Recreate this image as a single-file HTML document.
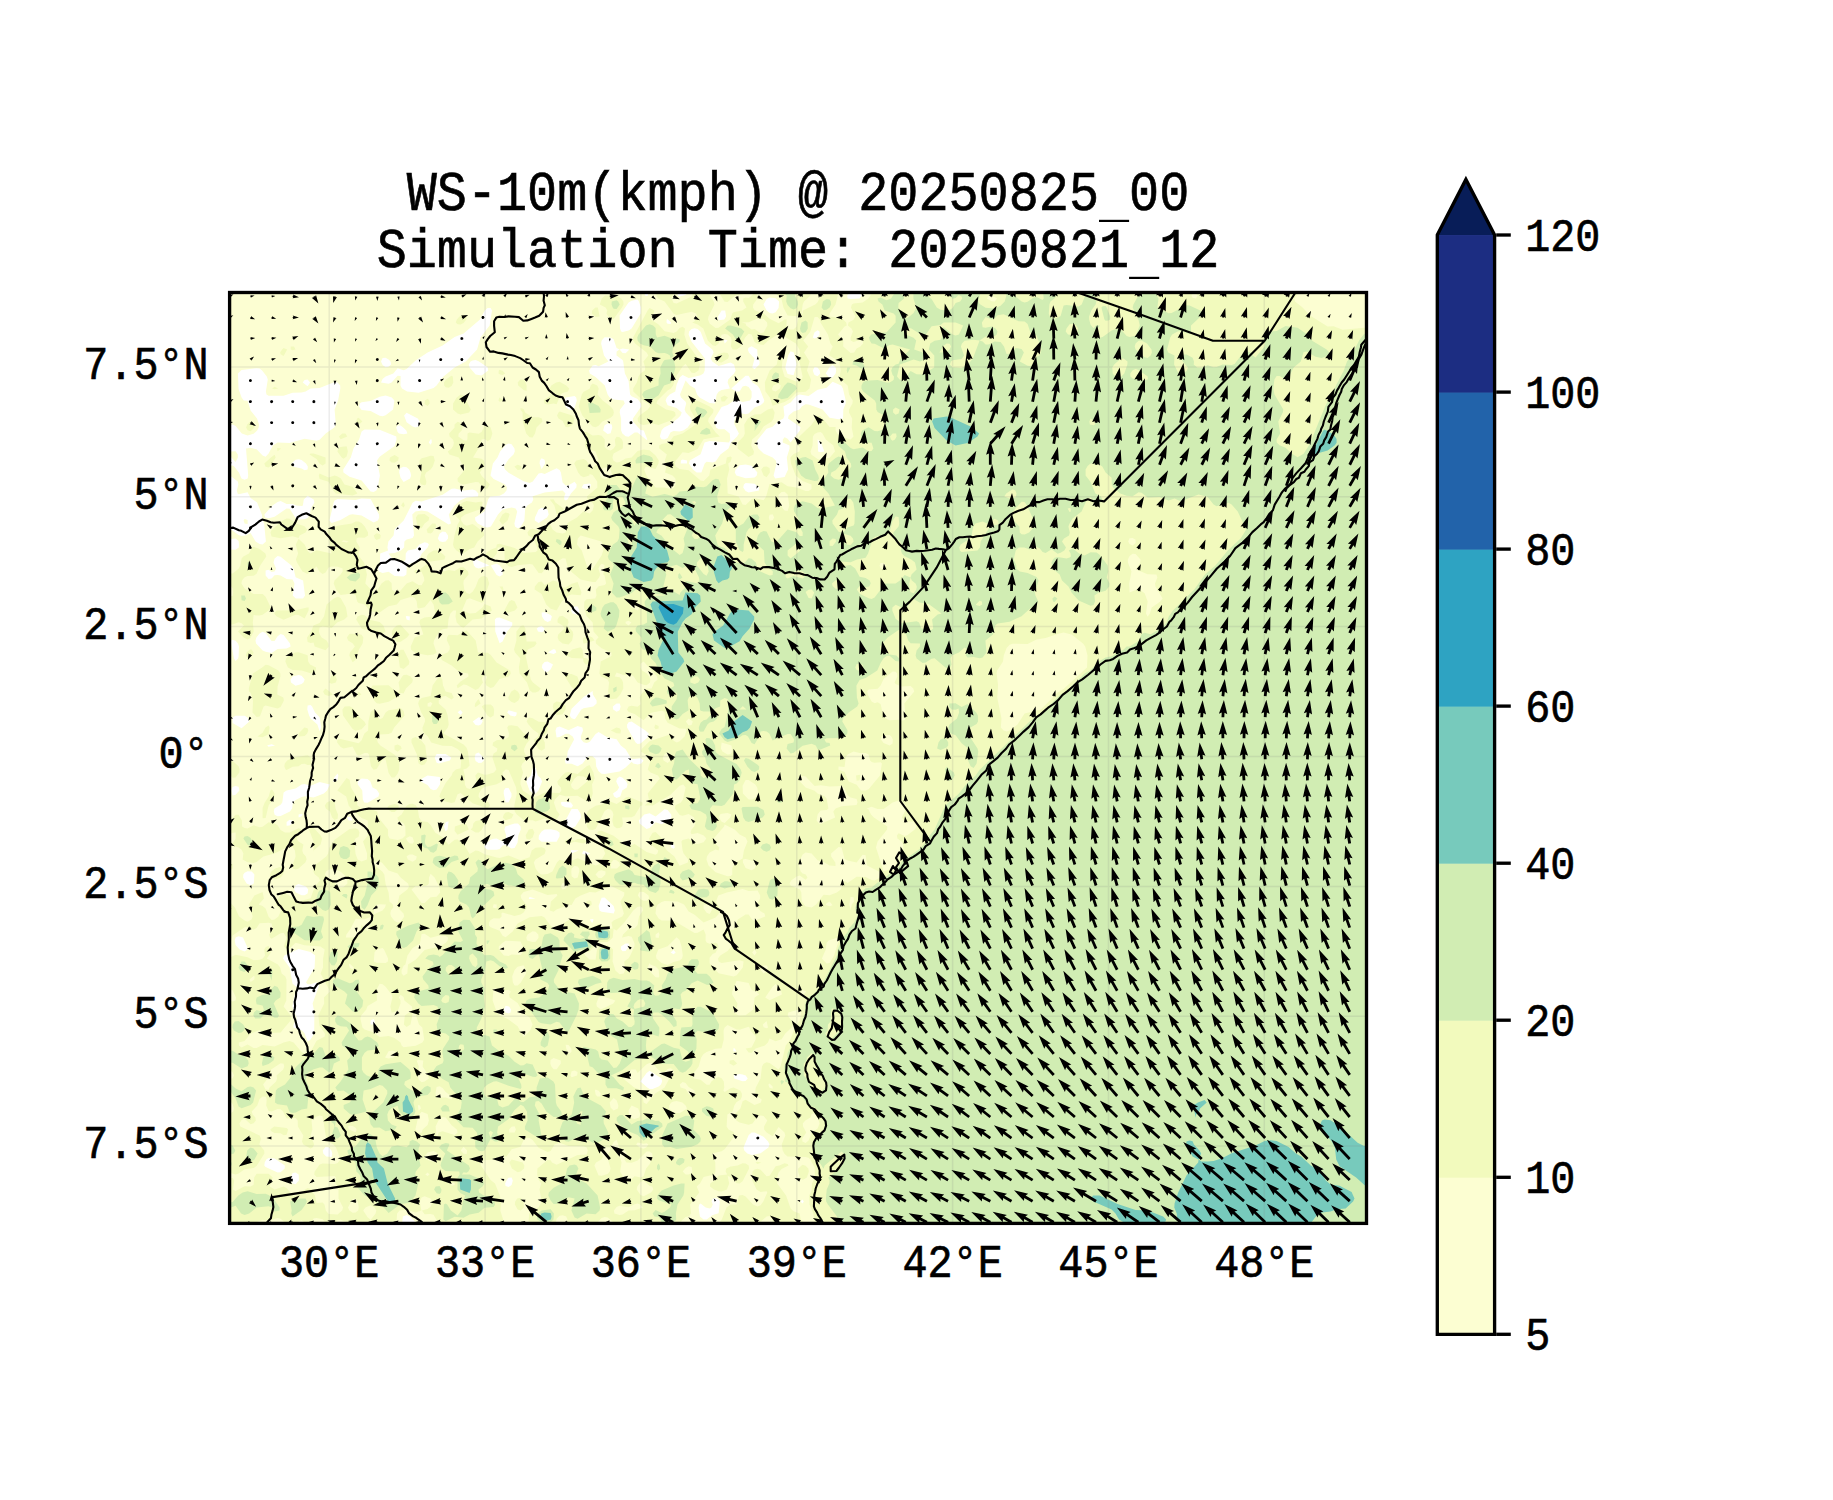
<!DOCTYPE html>
<html><head><meta charset="utf-8"><title>WS-10m</title>
<style>html,body{margin:0;padding:0;background:#fff}svg{display:block}text{font-family:"Liberation Mono",monospace;fill:#000;stroke:#000;stroke-width:0.6px;white-space:pre}</style></head>
<body>
<svg width="1833" height="1500" viewBox="0 0 1833 1500">
<rect width="1833" height="1500" fill="#fff"/>
<clipPath id="ax"><rect x="229.6" y="292.5" width="1136.9" height="930.9"/></clipPath>
<g clip-path="url(#ax)">
<rect x="229.6" y="292.5" width="1136.9" height="930.9" fill="#fff"/>
<path fill="#fcfed2" fill-rule="evenodd" d="M223.6,286.5 644.6,286.5 645.0,295.5 646.6,295.9 647.9,295.5 648.5,286.5 678.3,286.5 677.7,295.5 679.6,296.6 685.6,295.1 688.4,292.5 688.4,286.5 850.2,286.5 850.2,292.5 847.2,295.5 847.6,298.5 850.6,299.0 859.6,298.4 861.8,295.5 860.3,292.5 860.3,286.5 1372.6,286.5 1372.6,1231.5 520.5,1231.5 519.6,1222.5 517.6,1222.0 515.6,1222.5 515.2,1231.5 419.2,1231.5 419.2,1225.5 409.8,1216.5 406.6,1215.1 402.8,1216.5 401.4,1231.5 279.5,1231.5 279.5,1225.5 277.6,1224.9 275.2,1225.5 275.2,1231.5 223.6,1231.5 223.6,710.0 230.1,709.5 223.6,709.0 223.6,549.4 235.6,549.8 238.8,547.5 239.0,544.5 238.6,541.0 235.6,538.6 223.6,540.0 223.6,528.6 229.6,528.6 238.6,534.9 241.6,535.9 245.4,535.5 250.6,532.9 255.6,541.5 259.6,543.9 262.6,544.4 265.9,541.5 264.1,523.5 262.6,520.5 261.9,514.5 257.1,502.5 250.6,498.0 247.6,492.3 238.6,494.3 237.6,493.5 236.8,490.5 238.4,484.5 237.8,481.5 229.6,475.2 223.6,475.2 223.6,466.3 232.6,465.5 234.2,466.5 238.9,472.5 241.5,478.5 244.6,479.7 247.7,478.5 248.2,475.5 246.0,448.5 250.6,447.8 256.6,449.3 262.6,455.5 265.6,456.7 268.6,453.6 272.9,445.5 277.6,442.4 289.6,442.9 304.6,438.7 316.6,440.7 319.6,439.7 325.7,433.5 334.3,427.5 335.8,424.5 334.6,409.5 338.1,400.5 340.3,388.5 340.2,385.5 337.6,382.5 334.6,382.1 319.6,388.1 310.6,388.4 305.6,391.5 301.6,392.6 292.6,392.7 283.6,395.7 268.6,395.8 266.5,394.5 265.9,391.5 267.8,379.5 266.8,376.5 262.1,370.5 259.6,368.5 256.6,368.3 241.6,370.0 237.9,373.5 238.6,389.1 241.6,397.6 243.8,400.5 247.6,400.8 250.6,410.6 257.0,418.5 259.0,424.5 258.7,427.5 257.2,430.5 253.6,433.8 247.6,435.6 241.8,433.5 235.6,425.9 232.6,424.5 223.6,424.9ZM307.6,379.5 304.6,380.1 302.7,382.5 307.6,386.3 310.1,382.5ZM379.6,396.8 370.6,401.1 361.6,402.3 359.8,403.5 359.0,406.5 361.6,409.9 370.6,410.9 379.6,415.8 382.6,416.3 385.6,415.2 393.1,409.5 394.4,400.5 391.8,397.5 385.6,395.5ZM382.6,357.9 381.0,361.5 382.6,365.0 385.6,367.3 388.6,366.7 391.1,364.5 390.6,361.5 388.6,359.5 385.6,357.8ZM487.6,308.0 484.6,310.8 480.0,319.5 463.6,333.4 454.6,337.0 442.6,345.4 427.6,352.5 415.6,360.5 406.6,369.0 403.6,370.3 397.6,368.3 393.3,373.5 385.6,376.5 382.6,379.0 381.0,382.5 388.6,383.7 391.6,382.4 397.6,375.7 400.6,376.1 400.5,385.5 402.0,388.5 407.1,391.5 418.6,392.8 433.6,387.9 436.6,385.5 442.6,377.3 454.6,367.5 465.7,361.5 477.1,349.5 480.5,337.5 489.6,325.5 492.0,310.5 490.6,308.0ZM505.6,445.0 500.1,451.5 497.5,457.5 492.9,463.5 490.5,475.5 493.6,479.0 505.2,484.5 507.0,487.5 506.5,490.5 503.9,493.5 499.6,495.7 490.1,496.5 488.1,499.5 484.6,511.5 475.0,517.5 475.4,520.5 477.7,523.5 484.6,527.1 487.6,527.6 490.9,526.5 498.0,514.5 502.6,509.6 511.6,507.4 515.6,508.5 517.2,511.5 514.4,523.5 515.0,526.5 517.6,528.3 520.6,527.0 524.4,520.5 525.2,508.5 527.3,505.5 531.9,502.5 533.3,499.5 532.6,496.2 544.6,492.6 562.6,490.4 565.5,493.5 564.2,496.5 564.3,499.5 565.6,500.4 567.5,499.5 570.9,493.5 576.4,487.5 576.6,484.5 574.6,481.7 568.6,485.3 565.6,485.4 562.6,482.6 560.9,472.5 559.6,470.1 556.6,468.3 544.6,474.0 541.6,472.9 538.6,473.4 532.8,481.5 529.6,482.9 523.6,481.3 508.6,472.8 505.1,469.5 503.9,466.5 508.6,459.3 513.5,454.5 514.8,451.5 514.5,448.5 511.6,444.3 508.6,443.4ZM541.6,458.3 539.9,460.5 539.6,463.5 541.6,469.2 545.1,463.5 544.6,459.7ZM568.6,396.9 565.6,397.6 564.3,400.5 564.7,403.5 565.6,406.8 568.6,409.4 571.6,409.9 574.6,408.0 576.8,400.5 576.2,397.5 574.6,396.0ZM583.6,484.3 581.7,487.5 583.6,488.5 586.6,488.9 590.3,487.5 590.9,484.5 589.6,483.4ZM604.6,337.2 601.7,340.5 601.1,343.5 604.0,355.5 608.4,361.5 598.6,366.2 595.6,365.0 592.6,365.5 589.1,370.5 589.8,373.5 595.6,377.1 604.8,385.5 607.6,394.5 609.6,397.5 613.6,399.4 623.6,400.5 624.8,403.5 620.1,409.5 619.7,412.5 621.1,418.5 621.1,430.5 622.4,433.5 625.6,436.3 628.6,436.8 634.6,432.5 637.6,432.6 646.6,440.1 647.3,439.5 643.8,430.5 640.6,430.1 632.9,421.5 632.9,418.5 641.3,406.5 641.0,403.5 637.6,398.9 631.6,396.2 630.1,394.5 628.6,380.9 624.9,373.5 623.2,361.5 622.6,359.9 616.5,355.5 616.6,351.4 619.6,349.6 622.6,353.1 625.6,353.2 629.4,349.5 622.6,348.4 619.6,349.4 616.6,348.0 613.6,339.3 610.6,337.5ZM631.6,300.7 628.6,302.6 619.6,315.5 620.0,328.5 621.2,331.5 622.6,332.1 628.6,330.6 631.6,328.4 640.7,313.5 640.9,307.5 638.9,301.5 637.6,299.6ZM667.6,319.3 666.7,319.5 666.5,322.5 667.6,323.7 670.6,324.0 671.1,322.5ZM694.6,328.3 691.6,329.1 689.1,331.5 688.6,334.5 691.6,341.8 704.9,358.5 704.7,370.5 703.4,373.5 700.6,375.2 691.6,377.4 688.6,378.0 682.6,375.1 679.6,377.6 676.6,384.8 675.3,391.5 669.7,394.5 666.8,397.5 665.6,400.5 667.6,405.2 676.6,408.0 681.7,412.5 680.6,415.5 677.6,418.5 670.6,424.3 664.1,427.5 661.6,430.3 659.8,436.5 661.6,439.3 664.6,439.6 667.6,437.9 670.6,432.2 673.6,430.9 679.6,431.5 683.3,430.5 687.7,427.5 691.6,421.9 691.5,418.5 685.8,412.5 684.6,409.5 686.2,403.5 685.6,401.8 681.1,397.5 680.0,394.5 685.6,380.4 689.9,385.5 695.0,388.5 697.0,394.5 699.5,397.5 709.6,403.1 715.0,403.5 716.7,394.5 718.6,391.8 721.6,390.0 729.9,388.5 727.6,382.5 728.2,379.5 734.1,373.5 735.6,370.5 734.0,364.5 730.6,362.4 718.6,365.9 712.3,361.5 710.7,358.5 713.6,352.5 712.4,349.5 705.1,343.5 700.6,331.7 697.6,329.1ZM721.6,310.4 718.0,316.5 718.6,320.3 724.3,319.5 726.1,316.5 725.2,310.5ZM745.6,375.8 731.3,388.5 736.6,391.8 739.6,391.6 742.6,386.4 745.6,385.7 748.6,387.0 751.6,391.5 751.6,397.3 750.1,400.5 742.6,401.9 736.6,399.9 733.6,400.7 727.6,405.1 721.6,407.0 714.6,418.5 714.3,421.5 716.1,427.5 718.6,429.3 724.6,429.3 729.7,433.5 730.3,439.5 729.1,442.5 709.6,440.9 704.6,442.5 700.6,454.2 689.8,460.5 689.0,463.5 692.9,469.5 696.7,472.5 701.4,472.5 704.7,463.5 706.6,461.7 712.6,462.4 715.6,461.5 720.4,454.5 728.5,448.5 730.9,442.5 737.1,436.5 738.9,433.5 734.4,424.5 734.1,421.5 736.6,414.6 739.6,412.9 745.6,414.3 748.6,413.5 754.6,407.5 760.6,405.3 763.6,402.4 764.3,400.5 759.6,388.5 757.6,385.8 752.5,382.5 748.6,375.7ZM751.6,346.2 748.6,347.8 747.8,349.5 748.9,352.5 754.6,358.5 752.2,367.5 754.6,369.2 759.4,364.5 759.6,361.5 757.7,358.5 757.2,349.5ZM769.6,297.4 766.6,298.9 763.5,304.5 766.6,310.6 769.6,313.0 772.6,313.6 775.6,312.2 778.6,308.1 779.1,301.5 775.6,298.2ZM790.6,351.3 788.1,355.5 785.3,367.5 787.6,373.9 793.6,375.3 796.6,364.5 793.8,352.5ZM817.6,330.3 814.6,332.3 813.7,334.5 812.8,337.5 814.6,338.6 817.6,337.2 819.6,334.5 819.5,331.5ZM829.6,367.0 825.7,373.5 829.6,377.8 832.6,377.4 835.6,373.5 836.2,370.5 835.6,367.3 832.6,364.9ZM232.6,639.8 231.2,640.5 231.2,643.5 234.0,658.5 235.6,660.9 238.1,658.5 238.6,656.5 239.0,646.5 238.0,643.5 235.6,640.7ZM259.6,633.4 256.4,637.5 255.5,640.5 256.1,643.5 262.6,650.4 265.6,651.7 271.6,652.9 277.6,649.0 286.6,648.4 290.6,646.5 290.0,643.5 283.6,634.9 280.6,634.0 277.6,636.3 274.6,641.0 271.6,640.9 265.6,632.9 262.6,631.7ZM295.6,459.8 291.4,463.5 292.5,466.5 301.6,468.4 304.6,470.2 307.6,469.5 307.8,466.5 306.0,463.5 301.6,460.1 298.6,459.2ZM337.6,499.1 334.6,500.6 333.7,502.5 329.4,520.5 331.6,523.0 340.6,519.9 349.6,514.7 352.6,514.3 361.6,515.6 373.6,522.6 377.9,520.5 379.2,517.5 379.0,514.5 370.6,498.9 361.6,498.5 355.6,500.1ZM364.6,429.4 361.6,431.5 359.1,439.5 353.5,448.5 350.8,457.5 343.2,469.5 343.4,472.5 349.6,476.7 361.6,480.5 370.6,491.5 373.6,491.9 376.4,490.5 377.7,487.5 379.9,475.5 377.0,460.5 379.6,456.7 394.6,446.1 396.5,439.5 396.3,436.5 379.6,429.8ZM397.6,425.3 396.2,427.5 397.6,432.1 399.0,433.5 403.6,434.3 407.4,433.5 406.3,430.5 403.2,427.5 400.6,425.5ZM406.6,412.7 404.1,415.5 406.6,422.2 412.6,426.4 415.6,427.4 418.6,426.5 419.6,421.5 417.8,418.5ZM430.6,439.2 428.8,442.5 430.6,444.8 431.8,442.5 431.6,439.5ZM451.6,488.7 442.6,494.8 421.6,501.4 415.6,500.8 412.6,502.8 403.7,520.5 394.4,529.5 393.6,535.5 388.4,541.5 387.4,547.5 388.1,550.5 380.2,553.5 379.9,562.5 378.0,568.5 378.8,571.5 382.6,573.0 388.6,571.8 394.6,576.1 403.6,576.4 406.4,574.5 406.8,565.5 409.6,563.7 415.6,562.1 418.6,559.9 421.8,553.5 427.6,547.5 428.9,544.5 427.6,542.9 424.6,542.2 419.4,544.5 415.6,549.0 407.9,550.5 405.7,553.5 405.6,559.5 403.6,562.1 393.0,559.5 388.5,553.5 394.6,552.9 400.9,550.5 404.1,547.5 404.4,541.5 406.6,539.5 412.6,538.1 414.0,535.5 412.3,514.5 415.4,511.5 421.6,510.4 427.6,511.4 448.6,524.4 451.0,523.5 448.8,514.5 454.6,505.4 460.6,500.3 466.6,497.6 478.0,496.5 478.4,493.5 475.6,490.6 472.6,489.6 463.6,490.4 454.6,488.4ZM472.6,360.4 470.5,361.5 468.8,364.5 469.6,367.6 475.6,374.5 481.6,375.4 488.2,370.5 487.6,367.3 478.6,361.3 475.6,360.1ZM493.6,564.6 490.8,565.5 496.6,575.1 499.6,576.5 502.6,574.7 502.6,569.3 499.6,565.2 496.6,563.7ZM532.6,768.4 531.0,775.5 527.6,778.5 526.3,781.5 529.6,790.5 532.6,793.0 535.6,793.5 538.5,790.5 542.1,781.5 540.9,778.5 537.8,775.5 535.6,767.7ZM541.6,507.8 538.6,509.4 535.0,517.5 534.7,520.5 538.6,522.9 547.0,517.5 548.7,514.5 547.6,509.8 544.6,508.0ZM553.6,649.3 552.8,649.5 547.9,652.5 553.6,654.0 556.4,652.5 555.2,649.5ZM556.6,727.4 555.5,730.5 556.6,737.4 559.6,737.0 565.6,733.8 568.6,733.8 572.7,736.5 574.1,739.5 567.7,751.5 567.0,757.5 564.9,760.5 565.6,763.6 571.6,763.8 577.6,766.3 582.6,763.5 586.6,757.9 589.6,756.1 592.6,756.2 595.6,759.0 596.2,766.5 598.6,771.2 601.6,773.7 604.6,773.9 619.6,771.5 625.6,767.6 631.6,761.8 633.3,763.5 637.6,764.5 641.4,763.5 643.6,760.5 640.6,758.2 631.6,759.2 625.6,749.3 620.8,745.5 616.6,739.2 607.6,737.5 598.6,732.1 595.6,733.9 589.6,742.0 586.6,743.1 583.6,742.2 581.2,739.5 580.8,736.5 583.0,730.5 582.4,727.5 577.6,725.9 568.6,730.3 559.6,726.4ZM574.6,606.4 570.9,610.5 572.5,613.5 577.6,614.8 579.2,613.5 579.4,610.5 577.6,606.6ZM592.6,690.9 583.6,697.0 571.6,708.7 569.7,715.5 571.6,718.2 574.6,719.2 575.4,718.5 581.3,709.5 583.6,708.2 593.3,706.5 596.6,703.5 596.6,700.5 592.9,694.5ZM607.6,423.5 604.6,425.3 603.1,430.5 607.6,434.1 610.6,433.2 612.3,427.5 611.7,424.5ZM616.6,703.4 612.8,706.5 613.2,709.5 616.6,711.7 619.6,710.2 620.6,706.5 619.7,703.5ZM628.6,722.3 627.1,724.5 627.1,727.5 635.6,742.5 637.6,743.9 640.6,743.4 648.6,736.5 648.7,733.5 645.4,730.5 631.6,721.6ZM664.6,809.2 655.6,816.6 649.6,813.3 644.3,814.5 638.8,820.5 639.6,823.5 646.6,829.1 649.6,828.0 655.6,822.3 661.6,824.2 667.6,821.4 671.5,817.5 671.2,814.5 667.6,810.0ZM682.6,459.6 681.0,460.5 680.7,463.5 687.0,463.5 687.1,460.5ZM724.6,339.4 724.1,340.5 724.6,343.4 727.6,340.5ZM715.6,1198.1 712.6,1198.8 711.6,1201.5 712.8,1204.5 711.5,1207.5 709.6,1208.5 705.7,1207.5 700.6,1203.5 699.3,1204.5 698.6,1207.5 699.9,1216.5 703.6,1219.6 706.6,1219.5 712.6,1215.1 718.6,1213.3 719.9,1201.5 718.6,1199.2ZM733.6,1048.1 733.3,1051.5 736.6,1051.5 734.7,1048.5ZM739.6,465.3 735.6,469.5 734.8,472.5 736.4,475.5 745.6,478.3 754.6,477.5 756.8,475.5 757.4,472.5 751.6,465.8 745.6,464.6ZM814.6,367.0 812.8,370.5 813.8,373.5 814.6,375.1 817.6,376.3 820.2,373.5 819.7,370.5 817.6,367.4ZM832.6,381.7 826.6,387.8 817.6,389.8 808.6,396.1 799.6,394.5 796.6,395.7 790.6,402.6 783.4,406.5 784.4,415.5 783.4,418.5 778.6,420.9 772.6,426.7 766.6,428.8 757.9,439.5 756.5,442.5 758.4,448.5 763.6,453.5 772.6,457.4 775.8,460.5 776.5,463.5 773.6,475.5 775.2,478.5 784.6,476.9 788.1,469.5 786.8,457.5 789.6,448.5 789.5,445.5 782.8,442.5 782.8,439.5 784.6,437.3 787.6,438.8 790.6,442.4 799.9,430.5 800.5,427.5 799.6,426.4 788.0,418.5 788.7,415.5 793.6,411.4 799.6,409.5 801.7,406.5 805.6,404.2 808.6,404.4 822.6,409.5 829.6,417.8 838.6,419.2 843.1,418.5 843.3,409.5 845.7,403.5 845.7,400.5 842.9,388.5 841.2,385.5ZM232.6,717.6 232.6,722.9 241.6,728.2 249.3,721.5 247.6,717.4 244.6,715.7 235.6,715.8ZM268.6,745.0 267.1,745.5 268.6,746.7 275.1,745.5 271.6,744.2ZM307.6,495.8 303.8,499.5 302.9,505.5 301.6,505.9 296.6,505.5 292.6,503.9 286.6,504.1 280.6,501.1 277.6,502.1 272.5,505.5 264.4,514.5 265.2,517.5 268.6,518.3 274.6,516.8 286.6,508.5 289.6,508.8 295.2,517.5 298.6,519.4 304.6,519.3 307.6,517.9 309.9,514.5 310.8,508.5 314.4,502.5 313.7,499.5ZM337.6,773.5 334.6,777.1 333.0,781.5 334.6,782.1 337.6,780.2 338.4,775.5ZM346.6,817.4 348.8,820.5 352.7,820.5 351.3,817.5 349.6,816.5ZM361.6,778.4 357.7,781.5 357.8,784.5 362.3,790.5 362.8,799.5 364.2,802.5 367.6,802.8 378.5,796.5 379.2,793.5 376.6,789.4 372.5,787.5 370.4,781.5 367.6,779.1ZM400.6,467.9 399.4,469.5 399.2,472.5 400.6,477.7 403.6,482.0 410.1,478.5 411.1,475.5 410.5,472.5 409.2,469.5 406.6,467.2 403.6,466.7ZM406.6,616.1 405.8,616.5 406.6,619.5 409.6,620.6 409.9,616.5ZM427.6,775.4 422.2,778.5 420.7,781.5 427.6,784.9 430.6,788.9 433.6,790.3 436.6,789.5 439.9,784.5 440.4,778.5 439.6,777.0ZM436.6,754.1 434.7,757.5 436.6,762.7 438.9,763.5 449.9,760.5 451.3,757.5 445.6,754.1ZM442.6,531.5 439.6,533.7 437.8,538.5 439.6,541.2 442.6,542.0 445.7,541.5 448.0,538.5 448.0,535.5 445.6,531.9ZM457.6,712.3 460.6,714.9 462.6,712.5 460.6,710.0ZM472.6,559.4 473.9,565.5 475.6,567.4 478.6,568.5 489.5,565.5 475.6,559.2ZM496.6,617.8 494.9,619.5 495.3,631.5 499.6,643.2 502.6,641.5 507.2,631.5 512.2,625.5 512.3,622.5 499.6,617.6ZM529.6,897.1 528.7,898.5 529.6,899.1 535.5,898.5ZM538.6,627.0 536.7,628.5 538.0,631.5 541.6,632.3 543.5,631.5 544.5,628.5 541.6,626.1ZM541.6,612.4 542.0,616.5 544.6,620.5 547.6,622.0 550.6,620.7 551.9,616.5 550.6,614.9 544.6,612.2ZM562.6,801.8 560.8,802.5 561.7,805.5 565.6,807.2 571.6,807.8 573.0,805.5 570.8,802.5ZM583.6,850.6 581.9,853.5 586.6,854.9 590.4,853.5ZM592.6,919.0 589.8,919.5 591.6,922.5 592.8,922.5 593.6,919.5ZM601.6,897.7 598.6,905.9 599.5,910.5 601.6,911.7 613.7,913.5 614.8,910.5 613.6,906.0 604.6,897.6ZM619.6,776.6 617.1,778.5 616.2,781.5 619.1,787.5 617.3,790.5 613.0,793.5 614.1,796.5 616.6,798.1 620.3,796.5 622.2,790.5 626.8,787.5 627.6,784.5 626.3,781.5 622.6,777.7ZM649.6,1070.7 646.6,1072.9 640.4,1081.5 647.3,1087.5 649.6,1088.9 652.6,1088.9 658.6,1086.4 661.0,1084.5 662.1,1081.5 661.6,1078.5ZM670.6,844.3 671.1,847.5 673.6,848.7 674.8,847.5 674.3,844.5ZM733.6,1075.3 734.2,1078.5 742.6,1081.3 745.6,1080.9 747.7,1078.5 745.7,1075.5 742.6,1074.4 739.6,1074.0ZM745.6,483.1 743.9,484.5 743.2,487.5 745.6,490.9 748.6,492.6 758.9,490.5 759.3,487.5 754.6,483.7ZM802.6,1199.4 800.3,1201.5 802.6,1203.4 803.8,1201.5ZM817.6,439.3 818.1,451.5 820.6,452.3 824.4,451.5 820.6,441.8ZM232.6,787.1 231.4,790.5 232.6,795.6 235.6,794.8 239.4,790.5 238.6,786.8 235.6,786.1ZM247.6,871.3 244.6,872.7 243.3,874.5 243.1,877.5 246.6,883.5 250.6,885.2 253.8,883.5 254.4,874.5 251.8,871.5ZM268.6,1158.0 266.3,1159.5 264.7,1162.5 264.3,1165.5 265.6,1167.1 277.6,1172.6 280.6,1172.2 284.7,1168.5 284.8,1165.5 274.6,1158.4ZM277.6,556.1 274.6,558.6 273.5,562.5 276.0,568.5 274.6,571.5 271.6,571.9 268.6,569.8 265.6,570.4 265.6,575.5 268.6,578.9 271.6,578.4 274.6,575.3 277.6,575.0 280.6,575.5 286.6,579.1 292.6,579.6 294.5,583.5 292.7,595.5 295.8,598.5 303.0,598.5 305.0,595.5 303.1,580.5 295.6,577.2 293.5,568.5 291.4,565.5 280.6,556.8ZM307.6,705.6 307.3,709.5 309.1,715.5 310.6,718.5 317.4,724.5 319.6,731.2 321.2,727.5 319.6,717.2 315.0,712.5 312.1,706.5 310.6,705.1ZM370.6,1020.5 370.5,1024.5 373.9,1024.5 374.9,1021.5 373.6,1019.1ZM445.6,822.3 443.9,826.5 445.6,831.2 447.6,829.5 448.6,821.2ZM478.6,717.2 472.7,721.5 475.6,725.0 478.6,725.5 481.0,724.5 482.7,721.5 481.6,718.2ZM505.6,788.1 503.8,790.5 503.7,793.5 505.6,802.6 508.6,802.3 511.5,796.5 511.5,793.5 508.6,788.1ZM508.6,710.2 507.2,712.5 510.3,715.5 514.6,716.4 516.3,715.5 516.8,712.5ZM547.6,661.5 544.6,662.0 542.4,664.5 541.8,667.5 544.6,671.6 547.6,672.0 550.6,669.6 553.0,664.5ZM571.6,808.9 563.8,823.5 566.4,826.5 571.6,828.2 575.4,826.5 581.0,817.5 580.6,813.8 577.6,809.0ZM625.6,943.4 621.0,946.5 621.0,949.5 622.6,951.2 625.6,950.9 628.9,946.5 628.7,943.5ZM670.6,952.5 673.6,954.3 675.7,952.5 673.6,950.1ZM754.6,1132.4 751.6,1132.5 748.6,1135.3 743.5,1147.5 744.3,1150.5 747.3,1153.5 751.6,1154.9 760.6,1153.3 768.4,1147.5 769.5,1144.5 768.1,1141.5 763.6,1136.8ZM238.6,936.3 235.6,937.5 234.7,940.5 235.6,945.1 239.6,949.5 244.6,951.4 247.4,949.5 247.1,946.5 243.0,937.5ZM292.6,676.5 290.5,679.5 291.0,682.5 295.6,685.7 301.6,684.0 303.5,682.5 304.7,679.5 301.6,675.7 298.6,675.0ZM475.6,753.7 474.7,757.5 475.6,761.0 478.6,763.0 481.6,762.8 484.0,760.5 483.5,757.5 478.6,752.6ZM514.6,823.4 505.4,826.5 504.4,829.5 506.2,835.5 505.6,840.3 502.6,841.4 496.6,838.5 493.6,838.7 490.6,839.8 484.7,844.5 484.4,847.5 487.6,849.8 496.6,849.8 499.6,849.0 502.6,845.6 505.6,845.0 511.6,848.5 514.6,847.9 517.6,842.5 518.3,835.5 520.8,829.5 520.6,826.5 518.0,823.5ZM544.6,829.4 541.6,831.5 538.9,835.5 538.6,839.2 541.6,841.8 556.6,841.8 559.6,836.3 559.5,832.5 556.6,830.6 550.6,829.2ZM571.6,850.1 570.7,850.5 571.6,853.5 578.7,850.5ZM301.6,784.4 295.6,788.6 286.6,790.5 283.6,792.4 282.3,802.5 280.6,804.8 274.4,808.5 273.8,811.5 274.6,814.8 277.6,816.2 280.6,816.0 290.0,811.5 292.1,808.5 292.9,802.5 295.6,800.0 301.6,797.1 304.6,796.2 313.6,797.5 323.8,793.5 327.1,790.5 329.9,784.5 319.6,782.1 310.6,785.7 304.6,784.0ZM505.6,1005.7 503.8,1009.5 505.3,1012.5 508.6,1013.4 510.5,1012.5 511.0,1009.5 509.1,1006.5ZM511.6,1177.4 508.6,1177.8 506.5,1180.5 505.1,1183.5 505.6,1186.1 508.6,1187.0 511.6,1185.1 512.8,1180.5ZM289.6,819.8 286.6,822.0 286.6,825.7 289.6,825.5 292.2,823.5 293.0,820.5ZM295.6,885.3 294.1,889.5 295.8,892.5 301.6,895.2 304.6,895.2 307.6,893.5 308.2,889.5 306.0,886.5 298.6,884.0ZM298.6,814.4 298.6,817.6 301.6,816.3 302.7,814.5 301.6,813.8ZM325.6,1147.0 322.7,1150.5 323.3,1153.5 326.2,1156.5 331.6,1156.9 332.3,1153.5 331.4,1150.5 328.6,1147.3ZM298.6,949.0 284.3,955.5 283.0,958.5 289.6,967.5 292.6,983.7 298.7,988.5 294.6,994.5 292.3,1006.5 296.8,1018.5 293.6,1024.5 293.3,1027.5 302.1,1030.5 304.6,1033.5 307.6,1041.4 310.6,1039.4 314.2,1033.5 314.4,1012.5 312.6,1003.5 319.1,985.5 316.6,982.2 310.6,984.3 307.6,984.2 306.0,982.5 314.6,967.5 315.2,955.5 310.6,951.9ZM292.6,1173.1 290.7,1177.5 290.7,1180.5 292.6,1183.5 295.6,1184.3 298.9,1180.5 298.7,1174.5 295.6,1172.6ZM223.6,445.5 223.6,444.3 229.6,444.3 229.6,450.4 223.6,450.4ZM230.4,451.5 235.6,451.3 237.8,454.5 237.9,457.5 235.6,462.0 231.4,457.5 230.0,454.5ZM243.6,520.5 244.6,518.9 247.6,520.0 247.6,523.9 244.6,523.5Z"/>
<path fill="#f2fabd" fill-rule="evenodd" d="M656.2,286.5 673.9,286.5 673.9,292.5 671.5,298.5 673.6,303.0 676.6,303.4 691.6,296.6 692.5,295.5 692.8,286.5 703.4,286.5 703.4,292.5 709.6,294.3 713.7,301.5 714.5,304.5 708.5,316.5 708.0,319.5 709.6,323.6 715.6,327.9 718.6,327.8 730.2,319.5 732.2,313.5 733.6,312.3 742.0,310.5 746.5,307.5 743.2,301.5 743.2,298.5 745.6,297.5 748.6,298.0 751.6,295.8 754.6,292.5 754.6,286.5 754.6,292.5 757.8,295.5 757.5,298.5 753.2,304.5 753.0,307.5 754.6,310.3 763.6,313.5 769.6,318.7 778.6,323.2 784.6,319.4 786.7,319.5 786.5,325.5 788.1,328.5 790.6,329.4 793.6,329.4 796.6,326.5 798.0,319.5 799.8,316.5 787.6,315.4 783.4,307.5 781.4,298.5 774.6,292.5 774.6,286.5 810.9,286.5 810.4,295.5 804.0,301.5 802.7,304.5 801.5,313.5 802.6,314.0 802.9,310.5 815.2,304.5 817.6,302.3 822.1,292.5 822.1,286.5 838.5,286.5 838.5,292.5 835.5,304.5 829.7,313.5 829.1,316.5 841.6,318.0 846.2,322.5 846.8,325.5 844.6,326.4 838.0,334.5 843.3,340.5 843.2,346.5 850.6,353.1 854.1,352.5 856.6,348.4 860.4,346.5 863.1,343.5 862.6,340.2 859.6,340.0 853.6,342.1 850.7,340.5 850.6,337.5 852.9,331.5 851.5,328.5 847.9,325.5 848.5,322.5 853.6,319.7 855.4,316.5 850.9,307.5 851.9,304.5 853.6,303.5 862.6,302.4 868.4,298.5 870.5,295.5 871.0,286.5 1299.0,286.5 1299.0,292.5 1294.4,298.5 1295.0,301.5 1302.6,307.5 1309.6,315.2 1327.6,326.4 1333.6,326.3 1342.6,329.8 1372.6,326.9 1372.6,1231.5 819.8,1231.5 819.8,1225.5 814.6,1221.1 813.3,1213.5 809.5,1204.5 809.2,1195.5 811.6,1190.7 812.0,1183.5 814.6,1178.0 814.9,1174.5 814.6,1167.5 810.3,1159.5 808.6,1157.8 805.6,1157.0 787.6,1156.5 784.6,1154.0 782.7,1150.5 781.7,1144.5 785.3,1135.5 784.5,1132.5 778.6,1127.1 772.6,1136.3 766.6,1132.6 764.1,1129.5 764.1,1126.5 767.3,1120.5 763.6,1116.0 760.6,1115.5 757.6,1116.5 752.5,1123.5 748.6,1124.8 739.6,1122.6 736.6,1120.7 734.5,1114.5 740.4,1108.5 742.6,1101.2 745.6,1099.8 754.6,1104.9 760.9,1102.5 761.7,1099.5 757.5,1096.5 755.6,1093.5 755.3,1090.5 755.8,1087.5 760.5,1078.5 762.0,1066.5 763.6,1063.7 766.6,1062.3 769.6,1062.9 778.6,1069.4 780.5,1066.5 785.7,1045.5 790.6,1039.1 795.0,1027.5 799.6,1021.1 801.1,1012.5 799.6,1009.2 788.3,1012.5 787.7,1015.5 792.2,1021.5 793.0,1024.5 791.7,1027.5 785.3,1033.5 781.6,1039.3 775.6,1041.3 769.6,1038.5 767.9,1042.5 764.8,1045.5 755.6,1048.5 751.6,1052.7 748.6,1052.6 745.6,1048.5 751.6,1047.5 755.6,1039.5 755.6,1036.5 750.5,1030.5 749.4,1027.5 748.6,1026.7 739.6,1029.8 736.6,1029.4 727.6,1025.0 724.6,1027.5 723.6,1030.5 723.8,1039.5 721.6,1048.2 715.6,1048.7 706.6,1052.1 703.6,1054.0 701.2,1057.5 698.7,1066.5 691.8,1075.5 694.0,1078.5 700.6,1079.8 706.6,1084.8 709.6,1084.8 711.4,1081.5 715.6,1078.0 718.6,1077.1 721.6,1078.2 723.8,1081.5 724.3,1087.5 723.4,1090.5 724.6,1092.0 730.6,1088.2 733.6,1087.6 740.2,1090.5 741.9,1093.5 741.9,1096.5 740.7,1099.5 736.6,1102.1 734.3,1105.5 732.6,1111.5 727.4,1114.5 726.6,1126.5 728.5,1129.5 733.6,1131.9 734.9,1135.5 724.6,1149.3 721.6,1151.2 711.9,1153.5 715.3,1162.5 715.4,1171.5 714.4,1174.5 703.6,1176.9 700.0,1183.5 696.7,1186.5 699.2,1192.5 690.1,1204.5 691.1,1213.5 688.6,1216.5 685.6,1217.1 682.6,1219.8 677.8,1225.5 677.8,1231.5 652.1,1231.5 652.1,1225.5 646.6,1224.2 640.7,1225.5 640.7,1231.5 626.9,1231.5 626.9,1225.5 622.6,1222.9 613.6,1222.4 607.6,1217.6 604.6,1217.0 601.6,1218.1 594.8,1225.5 594.8,1231.5 565.9,1231.5 565.9,1225.5 567.5,1219.5 566.2,1216.5 562.6,1215.3 559.6,1215.7 556.6,1218.8 555.8,1222.5 553.7,1225.5 553.7,1231.5 552.6,1231.5 552.6,1225.5 547.6,1225.3 543.9,1225.5 543.9,1231.5 527.8,1231.5 529.2,1213.5 538.6,1207.2 541.7,1201.5 539.5,1189.5 541.2,1183.5 538.6,1179.6 537.2,1174.5 537.4,1168.5 547.6,1159.9 550.6,1160.3 552.0,1162.5 556.6,1164.7 577.6,1154.9 586.6,1154.4 587.9,1150.5 586.7,1147.5 583.6,1146.3 568.6,1145.9 559.6,1142.8 554.5,1144.5 550.6,1151.0 547.6,1151.9 538.6,1147.8 532.6,1140.1 529.6,1138.1 526.6,1137.7 523.6,1140.0 520.6,1146.7 511.6,1149.3 506.5,1156.5 499.6,1156.6 493.6,1159.5 481.6,1160.6 480.2,1162.5 481.0,1165.5 490.6,1180.0 495.0,1183.5 499.8,1195.5 501.2,1201.5 500.3,1210.5 503.1,1219.5 502.6,1231.5 459.3,1231.5 459.3,1225.5 454.6,1223.9 452.3,1225.5 452.3,1231.5 438.7,1231.5 437.9,1222.5 433.6,1214.7 430.6,1213.9 424.6,1214.3 421.9,1210.5 427.6,1209.0 430.6,1206.8 432.7,1201.5 430.5,1198.5 424.6,1196.2 421.6,1197.5 419.6,1201.5 421.4,1210.5 415.6,1212.4 406.6,1209.7 399.5,1210.5 397.1,1213.5 396.5,1222.5 394.6,1224.4 388.6,1223.5 385.6,1225.2 385.3,1231.5 371.7,1231.5 370.9,1219.5 375.6,1213.5 376.3,1210.5 374.5,1207.5 370.6,1205.3 365.5,1207.5 363.2,1210.5 367.6,1217.2 370.3,1219.5 369.3,1231.5 359.4,1231.5 359.4,1225.5 352.6,1222.1 346.6,1221.9 340.6,1219.8 337.6,1220.3 332.3,1225.5 332.3,1231.5 328.4,1231.5 328.4,1225.5 322.6,1219.3 316.6,1217.9 313.6,1218.5 310.6,1223.0 307.6,1224.3 301.6,1220.2 298.6,1221.4 296.4,1225.5 296.4,1231.5 288.7,1231.5 288.7,1225.5 280.6,1218.7 277.6,1218.1 268.6,1220.7 262.6,1219.7 255.6,1222.5 255.4,1231.5 223.6,1231.5 223.6,1178.4 232.6,1178.0 234.2,1180.5 232.9,1189.5 235.6,1190.9 244.6,1186.2 250.6,1186.6 253.6,1184.7 254.2,1177.5 256.6,1173.8 268.6,1173.7 272.7,1177.5 269.8,1186.5 274.6,1189.5 283.6,1186.5 286.6,1188.1 292.6,1195.2 295.6,1195.6 307.6,1188.0 310.6,1189.0 314.9,1195.5 316.6,1203.1 322.6,1202.6 324.5,1204.5 325.8,1210.5 328.6,1214.1 337.6,1214.6 342.1,1210.5 343.1,1207.5 338.5,1198.5 338.5,1189.5 337.6,1186.1 335.4,1183.5 336.0,1177.5 334.6,1176.1 316.6,1177.0 314.2,1174.5 314.7,1171.5 319.6,1164.4 322.6,1163.4 334.6,1163.9 337.6,1163.0 340.5,1159.5 336.0,1147.5 333.5,1144.5 328.3,1141.5 326.2,1138.5 322.6,1116.3 319.6,1115.6 316.6,1116.6 311.5,1120.5 312.4,1129.5 310.6,1135.5 314.2,1144.5 312.5,1147.5 310.6,1148.4 303.3,1144.5 302.0,1141.5 303.3,1135.5 297.9,1126.5 297.7,1120.5 295.6,1118.1 286.6,1118.6 283.0,1111.5 280.6,1109.2 277.6,1108.9 271.6,1111.4 268.6,1110.9 266.2,1105.5 266.7,1099.5 265.6,1096.7 262.6,1096.5 259.6,1098.9 257.3,1105.5 251.7,1111.5 252.7,1114.5 255.4,1117.5 255.8,1120.5 253.6,1123.3 250.6,1124.3 244.6,1118.8 241.6,1120.0 239.4,1123.5 240.3,1126.5 259.6,1135.5 261.0,1138.5 259.3,1144.5 264.2,1150.5 264.4,1153.5 256.6,1166.1 253.6,1168.0 244.6,1169.2 238.6,1173.6 235.6,1174.5 229.6,1172.7 223.6,1172.7 223.6,1131.5 229.6,1131.5 230.3,1129.5 229.6,1126.4 223.6,1126.4 223.6,1114.1 229.6,1114.1 233.1,1111.5 233.9,1108.5 232.6,1104.0 229.6,1100.8 223.6,1100.8 223.6,1077.7 232.6,1078.5 233.9,1075.5 232.6,1072.2 229.6,1070.1 223.6,1070.1 223.6,1039.8 232.5,1039.5 231.4,1036.5 229.6,1035.4 223.6,1035.4 223.6,1000.0 229.6,1000.0 232.6,1001.5 235.5,1000.5 236.0,997.5 232.6,990.2 229.6,989.0 223.6,989.0 223.6,957.7 229.6,957.7 235.6,954.8 247.6,957.3 253.6,960.3 259.6,959.8 262.8,958.5 265.0,955.5 264.3,949.5 265.6,947.2 268.6,945.8 270.9,952.5 266.8,958.5 277.9,964.5 280.1,967.5 281.7,973.5 285.4,976.5 286.5,979.5 286.3,1000.5 283.6,1006.5 290.7,1015.5 291.2,1018.5 289.8,1021.5 280.6,1032.6 265.6,1033.2 259.6,1030.1 250.8,1033.5 244.6,1041.1 238.8,1042.5 238.9,1045.5 241.6,1047.4 247.6,1044.5 253.6,1048.0 256.6,1048.1 262.6,1045.0 274.6,1046.4 283.6,1042.4 289.6,1041.1 293.6,1042.5 301.6,1052.0 304.6,1053.7 307.6,1053.6 310.7,1051.5 316.6,1040.8 324.8,1036.5 324.9,1033.5 319.6,1025.9 318.3,1015.5 324.2,1003.5 323.9,997.5 330.0,991.5 320.6,973.5 323.0,967.5 323.1,958.5 324.7,949.5 320.5,946.5 304.6,945.2 295.6,942.8 289.6,948.5 286.6,949.3 284.0,946.5 286.5,937.5 283.6,932.7 280.6,933.2 271.6,938.8 270.0,937.5 269.1,934.5 272.8,928.5 271.6,923.6 268.6,922.7 259.6,923.3 256.6,928.0 253.6,929.7 247.6,927.0 244.6,927.2 232.6,935.6 229.6,946.2 223.6,946.2 223.6,901.7 229.6,901.7 234.9,907.5 239.1,916.5 244.6,920.6 247.6,921.7 251.5,919.5 252.7,916.5 248.9,904.5 254.4,895.5 262.6,891.9 264.0,898.5 258.6,904.5 262.6,906.0 265.6,908.6 268.6,916.8 271.6,920.1 274.6,919.5 278.4,916.5 281.2,910.5 275.7,904.5 276.1,901.5 282.3,892.5 283.6,892.0 298.6,901.4 310.6,898.2 314.9,886.5 320.0,880.5 318.8,877.5 314.9,874.5 313.2,871.5 314.6,865.5 326.2,856.5 328.2,853.5 329.4,847.5 334.6,839.7 349.6,828.9 355.6,828.2 358.2,829.5 359.5,832.5 358.6,836.7 355.5,838.5 354.2,841.5 355.6,853.9 357.7,859.5 361.6,861.6 366.9,859.5 367.1,853.5 363.0,841.5 367.8,835.5 367.8,820.5 361.6,817.9 351.0,808.5 348.7,805.5 346.2,796.5 337.3,790.5 346.6,778.1 349.6,779.8 351.0,787.5 356.4,796.5 357.4,805.5 361.6,808.6 373.6,809.9 377.2,811.5 378.4,817.5 388.0,829.5 388.1,835.5 389.6,838.5 397.6,840.1 402.4,838.5 405.5,835.5 405.3,826.5 403.6,823.3 398.1,820.5 397.4,817.5 401.6,814.5 406.6,805.7 409.6,803.9 412.6,803.7 415.6,805.1 417.7,808.5 419.1,817.5 421.6,821.2 427.6,822.0 430.6,824.9 435.1,832.5 442.6,837.2 448.6,844.7 454.6,839.7 457.6,839.4 464.0,844.5 469.6,854.1 475.6,850.6 478.6,850.9 484.6,854.3 496.6,857.6 499.6,858.1 508.6,855.4 520.6,860.2 529.6,857.2 531.7,850.5 535.6,847.8 541.6,847.3 544.6,848.2 545.7,850.5 544.6,854.0 535.6,859.5 533.8,862.5 535.6,868.5 538.6,872.8 541.6,874.6 547.6,874.1 552.4,871.5 556.9,862.5 559.6,859.7 568.6,862.1 577.6,858.3 595.6,865.4 598.6,864.4 605.3,853.5 597.7,835.5 597.4,832.5 598.6,830.9 601.6,830.8 613.6,835.8 625.6,845.3 628.6,846.3 634.6,844.0 646.6,851.9 655.6,854.7 657.4,853.5 658.3,850.5 650.8,844.5 649.1,838.5 652.6,832.7 655.6,831.9 662.1,838.5 664.9,847.5 667.0,850.5 674.4,856.5 679.6,865.7 687.8,862.5 688.2,859.5 683.6,853.5 682.6,850.5 681.4,841.5 682.6,840.0 688.6,838.6 694.6,843.4 697.6,843.9 703.6,842.3 706.3,838.5 703.8,835.5 697.6,832.9 691.6,834.2 690.6,832.5 691.5,829.5 694.2,826.5 695.3,823.5 694.1,817.5 688.6,814.1 682.6,815.8 679.6,814.9 675.0,808.5 675.3,805.5 680.9,802.5 683.0,799.5 685.6,787.5 683.2,784.5 679.6,785.7 670.6,794.7 652.9,805.5 644.8,805.5 647.8,802.5 648.9,799.5 647.7,793.5 659.9,778.5 658.0,775.5 650.6,772.5 647.7,769.5 650.6,760.5 649.9,757.5 640.9,751.5 642.1,748.5 649.6,741.3 670.6,734.2 673.6,740.7 676.8,742.5 679.6,741.3 684.6,736.5 686.5,730.5 685.6,728.8 679.6,728.6 667.6,722.8 665.1,718.5 664.6,711.7 661.6,710.8 652.1,712.5 649.6,713.8 643.6,720.2 634.6,713.9 628.6,712.1 627.0,709.5 628.6,706.4 631.6,705.8 637.6,706.8 640.6,704.3 639.7,697.5 641.1,694.5 646.6,688.6 651.6,688.5 654.2,682.5 657.7,679.5 657.1,676.5 643.6,661.4 640.6,663.8 640.6,667.6 642.0,670.5 646.6,673.2 649.3,676.5 650.4,679.5 650.0,682.5 646.6,685.3 643.6,684.7 637.6,682.5 633.7,676.5 631.6,675.0 622.6,674.8 616.6,672.6 614.7,676.5 619.6,677.3 621.8,679.5 623.1,682.5 623.3,688.5 620.3,694.5 616.6,698.4 610.6,699.3 609.2,697.5 608.1,691.5 609.1,682.5 607.7,679.5 601.0,676.5 599.4,673.5 600.7,661.5 610.6,656.6 611.6,655.5 611.4,652.5 601.6,648.3 595.9,643.5 595.7,640.5 598.6,637.2 593.5,631.5 592.7,622.5 586.6,615.9 584.0,607.5 584.4,601.5 586.6,599.2 595.2,598.5 596.5,595.5 595.8,589.5 598.6,586.3 604.6,585.1 606.1,583.5 604.6,575.6 603.2,574.5 604.6,565.1 601.6,563.7 599.9,565.5 598.4,568.5 600.3,574.5 599.1,577.5 595.6,582.0 592.6,582.0 580.6,579.4 571.6,572.0 567.2,565.5 565.6,558.6 562.6,558.2 556.6,562.2 547.6,562.3 543.2,571.5 541.6,573.2 538.6,573.1 532.6,564.6 529.6,564.0 517.6,565.2 511.6,566.9 508.6,566.2 504.8,562.5 504.4,550.5 502.6,547.2 497.7,547.5 496.8,553.5 493.6,557.4 490.6,558.4 487.6,557.6 486.0,556.5 485.7,553.5 490.6,549.7 496.4,547.5 496.8,544.5 499.6,543.8 514.6,547.9 523.6,553.1 535.6,551.9 537.5,550.5 537.2,547.5 533.3,538.5 528.4,535.5 527.4,532.5 529.6,529.6 532.6,528.8 541.6,531.3 547.6,524.6 550.6,525.2 552.6,529.5 556.6,532.4 562.6,533.5 565.6,532.4 567.3,523.5 568.6,522.2 577.0,517.5 583.2,511.5 589.6,513.6 592.6,510.6 593.9,505.5 592.6,503.1 587.8,499.5 586.9,496.5 597.4,487.5 597.2,481.5 592.6,475.0 589.6,474.1 589.3,475.5 583.6,477.2 580.6,475.8 578.1,472.5 574.2,463.5 576.3,460.5 583.6,458.9 586.6,460.7 590.3,466.5 589.6,469.8 595.6,465.3 598.5,460.5 595.6,451.6 586.4,448.5 584.9,445.5 585.8,439.5 585.1,436.5 582.2,433.5 583.6,432.0 586.6,431.9 592.6,435.4 598.6,435.0 601.6,435.8 604.8,439.5 604.6,447.0 607.6,449.7 610.6,450.5 613.6,448.6 615.5,445.5 614.8,439.5 616.6,436.7 619.6,437.2 622.0,439.5 623.1,442.5 622.8,448.5 613.6,453.6 612.4,457.5 613.6,460.8 616.6,462.4 619.6,461.9 625.6,458.4 631.6,457.5 637.6,451.0 643.6,449.4 649.6,450.2 655.6,455.4 658.8,460.5 658.4,463.5 655.6,468.9 645.9,466.5 644.1,469.5 646.5,475.5 655.6,487.6 664.6,487.5 670.6,488.9 673.6,487.9 675.7,484.5 675.4,478.5 672.5,475.5 665.0,472.5 666.3,466.5 664.8,460.5 666.9,454.5 659.3,448.5 659.2,445.5 661.6,444.0 669.1,442.5 673.6,436.2 682.6,433.6 695.7,424.5 696.3,421.5 695.4,418.5 690.2,409.5 689.9,406.5 691.6,402.4 694.6,400.4 697.6,400.8 709.6,406.6 713.5,409.5 713.2,412.5 708.6,418.5 708.1,421.5 715.6,432.4 719.9,436.5 703.6,439.2 697.6,449.0 688.6,453.1 682.6,452.3 675.8,460.5 674.8,463.5 675.9,466.5 679.6,468.9 688.6,470.3 700.6,480.4 703.6,481.1 709.3,475.5 710.4,469.5 725.8,463.5 726.8,457.5 730.6,456.4 731.8,457.5 730.6,461.8 728.2,463.5 729.3,469.5 727.0,478.5 727.7,493.5 738.7,496.5 742.6,504.4 745.6,505.0 751.6,499.2 754.6,497.9 763.6,500.2 766.1,496.5 769.6,484.0 781.6,482.3 787.6,486.3 796.6,487.4 805.6,491.1 808.6,491.1 811.6,489.0 811.4,484.5 802.6,481.1 795.7,475.5 791.0,463.5 790.4,457.5 793.6,453.9 799.3,451.5 800.2,448.5 797.1,442.5 797.5,439.5 799.6,436.2 811.6,424.8 817.6,416.0 820.6,416.1 829.6,427.1 835.6,427.0 835.6,430.5 837.2,433.5 841.0,436.5 850.6,439.5 853.5,436.5 851.7,427.5 852.2,418.5 849.0,412.5 849.1,409.5 852.4,403.5 852.8,400.5 849.1,394.5 847.7,385.5 840.4,379.5 839.5,376.5 840.8,370.5 839.2,361.5 829.4,355.5 829.8,352.5 832.8,346.5 830.4,343.5 827.9,334.5 820.5,322.5 819.9,319.5 817.6,317.1 814.6,317.0 810.4,331.5 803.3,340.5 808.2,346.5 804.0,352.5 809.6,361.5 806.9,370.5 811.1,379.5 809.5,388.5 805.6,391.7 796.6,392.6 790.6,398.6 784.6,402.1 772.6,405.7 769.9,397.5 765.4,391.5 764.8,382.5 769.7,370.5 776.8,364.5 778.6,354.2 781.6,355.5 782.7,358.5 781.8,367.5 784.6,376.7 796.6,381.7 801.5,379.5 802.6,376.5 798.7,358.5 800.0,352.5 799.4,349.5 795.9,343.5 785.9,337.5 781.6,332.1 768.3,340.5 763.6,344.9 757.6,343.9 754.6,341.9 751.6,334.5 748.6,333.7 745.1,337.5 741.0,346.5 736.6,349.4 732.8,349.5 730.8,346.5 731.6,340.5 730.9,337.5 727.6,334.6 724.6,334.0 721.6,334.7 718.6,343.5 715.6,345.9 712.6,345.2 707.8,340.5 703.3,328.5 697.6,324.4 692.3,322.5 694.6,321.2 697.0,316.5 696.1,313.5 691.6,311.7 676.6,315.0 673.6,313.7 664.6,301.5 657.9,298.5 656.4,295.5ZM757.6,318.6 748.6,322.2 741.6,322.5 745.6,323.6 746.2,325.5 751.6,329.4 754.6,329.1 760.6,333.2 763.6,332.4 767.4,325.5 767.1,322.5 763.6,319.0ZM880.6,563.1 879.6,565.5 880.5,568.5 883.6,569.7 885.7,568.5 886.3,565.5 883.6,562.9ZM892.6,671.4 883.6,679.0 880.6,685.5 877.6,688.8 868.6,689.5 867.2,691.5 867.8,694.5 871.6,701.6 874.6,703.2 877.6,702.3 880.6,704.0 883.2,715.5 885.5,718.5 889.6,720.3 898.6,719.8 901.6,720.6 904.6,719.9 905.7,718.5 904.3,703.5 914.2,691.5 913.3,688.5 910.6,686.1 901.6,686.4 895.6,684.1 894.5,682.5 897.3,676.5 897.1,673.5 895.6,671.7ZM988.6,295.9 986.8,298.5 991.6,301.2 994.7,301.5 997.1,298.5 991.6,295.6ZM1057.6,633.9 1045.6,638.0 1036.6,639.4 1027.6,644.0 1012.6,643.7 1009.6,644.8 1006.6,648.0 1003.8,655.5 1003.0,661.5 997.1,670.5 996.6,673.5 998.1,685.5 997.2,697.5 1001.5,718.5 1000.8,727.5 1003.6,730.5 1006.6,731.5 1009.6,730.6 1017.5,724.5 1024.6,713.6 1040.9,709.5 1057.6,692.5 1063.6,688.9 1087.0,667.5 1087.5,655.5 1085.2,646.5 1083.0,643.5 1071.6,634.5 1063.6,632.4ZM1129.6,538.2 1128.2,541.5 1129.6,544.0 1132.6,545.4 1135.6,543.0 1135.6,539.7 1132.6,538.0ZM1192.6,294.1 1191.4,295.5 1192.6,297.8 1196.0,298.5 1197.6,295.5 1195.6,293.3ZM769.6,1083.6 768.4,1084.5 769.2,1087.5 772.6,1088.8 772.6,1086.6ZM253.6,976.1 249.5,979.5 250.6,981.9 254.3,979.5 254.6,976.5ZM280.6,1063.2 271.1,1069.5 269.9,1075.5 263.1,1084.5 265.6,1089.4 268.6,1089.9 269.6,1087.5 276.1,1081.5 277.0,1078.5 276.5,1075.5 283.2,1069.5 284.2,1066.5 283.6,1063.8ZM328.6,869.7 326.0,871.5 324.9,874.5 327.7,877.5 333.2,880.5 337.6,886.6 340.6,887.5 343.6,886.9 347.4,883.5 347.3,877.5 340.3,871.5 334.6,868.9ZM355.6,918.7 350.8,928.5 346.4,934.5 345.8,937.5 355.5,937.5 359.2,934.5 361.6,924.5 363.9,928.5 367.6,931.1 369.0,928.5 371.1,922.5 370.6,917.1 364.6,919.3ZM376.6,860.9 373.6,862.5 374.6,865.5 382.3,871.5 384.3,874.5 385.6,884.1 388.6,892.5 389.5,901.5 392.8,904.5 393.3,907.5 390.9,910.5 390.3,913.5 391.1,916.5 394.6,921.1 397.6,922.5 400.6,921.8 404.2,916.5 403.5,913.5 397.7,907.5 396.5,904.5 397.6,903.7 399.4,895.5 407.3,889.5 409.0,886.5 408.0,883.5 400.6,877.6 397.6,873.6 388.6,870.6 381.8,862.5ZM406.6,837.9 406.0,838.5 407.7,841.5 409.6,843.2 412.6,843.8 414.0,841.5 412.6,837.2 409.6,836.3ZM430.6,873.7 429.0,877.5 428.8,883.5 427.6,884.9 424.6,886.1 415.6,886.0 411.5,889.5 421.6,903.1 424.6,903.1 430.6,897.3 436.6,896.7 440.2,892.5 439.6,887.5 434.6,877.5ZM463.6,1146.8 460.7,1150.5 463.6,1153.8 466.6,1154.1 467.1,1150.5ZM493.6,904.3 492.8,907.5 496.6,908.5 496.8,904.5ZM562.6,883.0 560.7,886.5 562.6,889.6 565.6,888.6 567.3,886.5 567.7,883.5 565.6,882.2ZM574.6,865.8 571.7,868.5 571.3,871.5 571.6,876.3 574.6,878.5 577.7,877.5 579.2,871.5 579.2,868.5 577.6,866.4ZM598.6,871.0 595.5,874.5 598.6,878.0 601.6,878.1 605.3,874.5 605.6,871.5 601.6,870.3ZM613.6,859.8 611.3,862.5 610.6,868.5 617.0,868.5 620.0,865.5 619.4,862.5 616.6,860.3ZM637.6,906.8 633.3,910.5 624.3,922.5 616.6,930.4 613.6,929.1 612.8,937.5 609.6,940.5 607.6,941.9 598.6,942.3 592.6,939.7 592.5,943.5 594.1,946.5 589.6,951.5 583.9,952.5 585.2,955.5 589.6,959.4 595.6,959.8 597.0,949.5 598.6,947.4 601.6,945.1 607.6,945.1 613.1,949.5 612.6,961.5 615.4,970.5 619.6,974.2 623.7,973.5 625.1,970.5 624.2,961.5 628.6,958.2 630.3,955.5 634.4,946.5 634.6,943.5 631.6,936.7 628.6,936.0 622.0,937.5 623.0,934.5 628.6,929.1 634.6,928.3 637.6,924.9 639.0,916.5 642.9,910.5 642.3,907.5 640.6,906.4ZM640.6,891.7 639.0,892.5 637.9,895.5 640.6,899.2 643.6,900.8 646.6,900.7 649.2,898.5 648.5,895.5 646.6,893.9 643.6,891.9ZM649.6,963.1 647.6,967.5 649.1,970.5 655.6,977.2 658.6,977.6 659.3,976.5 658.6,969.4 655.6,966.5 650.3,964.5ZM703.6,904.5 703.6,908.4 706.6,912.8 709.6,914.1 711.7,910.5 711.5,907.5 707.9,904.5ZM664.6,754.0 662.8,757.5 663.5,760.5 667.6,763.0 670.8,760.5 670.6,755.5 667.6,752.6ZM580.6,535.5 577.8,538.5 577.0,544.5 581.8,550.5 586.6,565.2 589.6,570.3 592.9,568.5 601.6,555.6 603.3,550.5 602.7,544.5 601.4,541.5ZM601.6,469.0 599.8,472.5 600.0,475.5 601.6,477.7 604.6,479.0 607.6,478.4 612.3,475.5 610.6,469.8 607.6,467.6 604.6,467.4ZM625.6,621.7 625.6,623.3 628.6,625.5 631.4,622.5 628.6,620.8ZM631.6,603.9 630.2,604.5 631.3,607.5 638.0,610.5 639.3,607.5 637.6,604.8 634.6,603.6ZM688.6,718.6 685.9,721.5 688.6,725.6 691.6,725.0 692.8,721.5ZM721.6,742.5 720.9,748.5 722.4,751.5 727.6,754.6 730.6,754.0 732.4,751.5 731.5,745.5ZM745.6,780.0 742.6,785.7 742.9,793.5 748.6,799.5 752.5,799.5 756.9,796.5 758.3,793.5 757.2,787.5 755.3,784.5 748.6,779.9ZM772.6,514.2 769.6,514.8 768.8,517.5 769.6,520.5 772.6,520.2 774.2,517.5ZM775.6,984.0 772.6,986.7 765.2,997.5 769.6,1000.2 781.9,994.5 781.4,991.5ZM781.6,492.1 778.6,494.8 778.4,499.5 782.7,508.5 784.6,510.6 787.6,511.0 789.3,505.5 787.6,494.6 784.6,491.7ZM799.6,778.2 799.9,781.5 805.6,787.5 814.6,790.8 817.6,793.6 824.9,796.5 826.6,798.6 828.4,808.5 826.6,809.9 820.6,810.6 817.6,814.4 816.6,820.5 819.0,823.5 820.6,823.9 835.2,817.5 833.3,811.5 835.6,808.5 841.6,806.3 856.6,804.9 857.5,802.5 856.6,799.0 850.6,797.6 847.6,795.2 844.6,788.7 841.6,786.0 829.6,786.4 820.6,785.3 814.6,786.0 805.6,776.6 802.6,776.0ZM817.6,432.5 814.6,434.1 812.9,436.5 812.6,445.5 810.5,451.5 811.3,454.5 817.6,459.1 820.6,459.7 829.6,457.8 835.0,451.5 833.3,445.5 825.8,439.5 822.5,433.5 820.6,432.1ZM847.6,754.4 845.7,757.5 844.6,766.9 838.6,766.4 838.3,769.5 844.6,771.9 848.7,781.5 856.6,784.7 861.0,790.5 865.6,790.6 868.6,789.3 880.0,775.5 881.9,763.5 880.6,762.2 874.6,762.8 871.6,761.9 870.1,760.5 868.6,754.5 865.6,753.0 859.6,753.1 853.6,751.6ZM775.6,384.4 773.4,385.5 771.9,388.5 772.6,390.4 775.6,391.6 779.9,388.5 780.8,385.5 778.6,383.7ZM883.6,735.3 881.3,736.5 880.9,739.5 883.6,743.1 889.6,745.6 892.6,743.6 892.8,739.5 891.4,736.5 889.6,734.9ZM1129.6,556.0 1127.8,559.5 1127.9,562.5 1131.5,571.5 1129.2,583.5 1129.6,592.4 1138.6,588.8 1144.6,593.2 1147.7,601.5 1146.0,613.5 1147.6,616.7 1149.9,613.5 1151.7,607.5 1160.3,601.5 1162.6,598.5 1155.5,586.5 1155.0,583.5 1157.4,577.5 1156.4,574.5 1147.6,574.3 1138.6,570.5 1136.8,568.5 1140.1,562.5 1140.5,559.5 1135.6,553.9 1132.6,553.8ZM349.6,963.5 348.9,964.5 349.7,967.5 352.6,969.6 353.8,967.5ZM379.6,904.3 376.6,904.7 374.2,907.5 373.6,914.4 382.5,910.5 385.0,907.5 385.9,904.5ZM406.6,856.2 407.8,859.5 412.6,861.7 416.0,859.5 416.8,856.5 412.6,854.5 409.6,854.4ZM421.6,933.9 419.9,943.5 412.6,948.0 407.5,955.5 405.4,964.5 403.6,965.7 401.5,970.5 401.7,973.5 403.6,975.8 407.3,973.5 408.0,964.5 415.6,959.8 424.6,950.1 439.4,946.5 445.6,943.0 447.6,940.5 448.0,937.5 445.6,935.9 439.6,935.6 430.6,937.7 424.6,933.7ZM610.6,885.8 595.6,892.6 589.6,892.1 580.7,895.5 575.3,898.5 571.6,904.9 568.6,904.8 556.6,909.4 553.6,911.7 549.7,910.5 550.9,901.5 557.5,895.5 556.6,893.9 547.6,894.9 532.6,889.6 523.6,892.0 520.6,895.5 521.3,898.5 526.1,904.5 526.8,907.5 523.6,912.5 520.6,914.5 514.6,915.9 502.6,912.6 501.4,913.5 501.6,916.5 499.6,918.5 493.6,918.2 490.6,919.9 489.0,922.5 488.9,925.5 490.6,927.2 499.6,930.8 502.6,935.7 505.6,937.3 512.7,931.5 517.6,923.6 529.6,917.2 541.6,915.9 544.6,917.6 550.6,925.8 559.6,931.9 562.6,929.7 564.7,922.5 568.6,919.9 571.6,920.3 583.6,926.1 592.6,927.3 598.6,923.9 601.5,925.5 607.6,926.5 610.6,928.6 612.6,928.5 611.5,922.5 613.6,920.5 622.2,916.5 623.9,913.5 620.4,901.5 624.1,895.5 624.4,892.5ZM595.6,1089.5 594.9,1090.5 595.6,1094.6 597.2,1096.5 600.3,1096.5 600.8,1093.5 598.6,1090.7ZM601.6,996.1 598.6,997.5 596.3,1003.5 596.8,1006.5 600.8,1009.5 613.3,1003.5 615.4,1000.5ZM649.6,1063.0 646.6,1064.3 637.6,1073.0 635.7,1069.5 631.2,1069.5 625.6,1073.5 623.8,1075.5 623.1,1078.5 634.2,1087.5 641.9,1090.5 643.6,1102.5 646.6,1103.9 655.1,1093.5 664.6,1087.5 669.4,1078.5 673.5,1075.5 674.2,1072.5 672.8,1069.5 670.6,1068.3 667.6,1069.1 664.6,1071.9 661.6,1071.9 658.6,1070.1 652.8,1063.5ZM721.6,813.8 720.0,814.5 719.0,817.5 721.6,821.7 724.6,823.0 730.2,817.5 731.4,814.5 727.6,813.0ZM766.6,1020.9 762.8,1024.5 763.6,1027.3 766.6,1028.2 768.0,1027.5ZM838.6,847.1 831.1,853.5 831.2,856.5 835.3,862.5 835.6,865.9 829.6,865.5 823.6,861.9 817.6,860.3 811.6,853.4 805.6,852.4 802.6,854.5 798.8,862.5 798.9,865.5 800.7,871.5 802.6,873.6 805.7,874.5 807.5,877.5 805.6,879.7 799.6,875.6 796.6,876.4 791.1,880.5 789.6,883.5 790.6,885.4 799.9,889.5 801.3,892.5 801.8,901.5 805.6,906.4 811.8,907.5 816.0,904.5 823.6,894.8 829.6,895.2 836.8,892.5 840.7,889.5 844.6,881.1 847.6,883.1 856.6,876.8 865.6,876.9 871.6,880.1 874.6,880.5 880.4,877.5 881.1,874.5 878.9,871.5 867.0,865.5 865.6,855.2 862.6,854.8 856.6,862.4 847.6,860.5 844.6,859.0 841.6,847.6ZM892.6,802.4 883.6,808.9 877.6,809.0 871.6,806.8 866.7,808.5 868.6,809.5 871.0,814.5 873.9,817.5 887.3,826.5 887.1,829.5 877.6,841.5 876.0,847.5 883.6,871.3 892.6,868.6 895.6,865.6 897.4,859.5 903.1,850.5 903.3,844.5 901.6,841.6 897.4,838.5 896.9,835.5 898.6,833.3 904.6,836.1 907.6,834.9 914.8,829.5 916.6,826.5 913.6,821.8 904.6,820.9 901.8,817.5 906.4,808.5 905.8,805.5 903.3,802.5 898.6,800.4ZM349.6,1125.7 347.9,1126.5 349.0,1129.5 355.6,1132.3 356.6,1129.5 355.6,1127.7 352.6,1125.9ZM376.6,949.4 374.5,952.5 373.8,961.5 376.6,962.7 385.6,962.9 387.9,961.5 388.1,958.5 384.0,949.5 382.6,948.1ZM436.6,1087.0 435.5,1093.5 436.6,1097.5 445.6,1097.4 451.9,1099.5 451.8,1096.5 445.6,1092.1 442.6,1088.0 439.6,1086.2ZM493.6,988.1 492.6,1000.5 496.9,1012.5 500.2,1015.5 508.6,1019.5 517.6,1026.2 523.6,1036.9 530.1,1030.5 532.6,1024.6 529.6,1017.5 523.6,1013.6 517.6,1002.9 509.7,997.5 509.2,994.5 510.8,991.5 508.6,989.8 499.6,991.6 496.7,988.5ZM502.6,942.7 498.8,946.5 498.8,949.5 503.9,955.5 508.6,956.1 511.6,954.5 520.6,955.1 522.6,952.5 522.7,946.5 520.6,941.5 505.6,940.7ZM532.6,931.3 527.6,934.5 526.3,937.5 527.0,940.5 532.6,942.1 535.6,941.8 538.6,937.7 538.3,934.5 535.6,931.8ZM550.6,1060.0 550.3,1063.5 551.4,1066.5 553.6,1069.3 556.6,1069.3 560.8,1063.5 560.7,1060.5 553.6,1058.1ZM565.6,1044.8 566.3,1048.5 568.6,1054.3 571.6,1051.8 571.2,1048.5 568.6,1044.9ZM604.6,1147.2 601.6,1148.2 599.3,1150.5 603.2,1156.5 601.5,1159.5 596.0,1162.5 594.4,1165.5 598.6,1175.6 601.6,1175.8 607.6,1174.1 609.8,1171.5 610.6,1168.6 607.1,1156.5 610.1,1150.5 609.9,1147.5ZM613.6,1097.9 609.7,1102.5 610.6,1107.6 613.6,1110.4 617.9,1108.5 618.4,1105.5 616.6,1100.3ZM631.6,1105.4 628.6,1110.5 629.0,1114.5 631.6,1118.2 634.6,1119.1 639.2,1117.5 640.3,1114.5 638.3,1108.5ZM673.6,1101.4 671.2,1102.5 669.2,1105.5 669.2,1108.5 673.6,1112.6 679.6,1113.2 687.0,1108.5 685.6,1105.5 682.4,1102.5 676.6,1101.0ZM724.6,824.6 724.1,826.5 713.7,838.5 715.6,843.9 719.4,847.5 718.6,850.4 715.6,849.4 709.6,852.4 707.0,856.5 706.5,859.5 708.5,865.5 715.6,872.3 727.6,876.2 730.6,876.0 732.3,874.5 732.2,868.5 733.6,865.6 736.6,862.1 742.6,858.6 743.9,850.5 747.5,841.5 745.6,837.6 739.6,834.6 734.7,829.5ZM802.6,989.9 800.3,991.5 802.6,995.8 806.4,991.5ZM811.6,1114.1 810.5,1117.5 805.3,1120.5 802.8,1123.5 803.1,1126.5 806.3,1132.5 802.2,1138.5 802.4,1141.5 805.6,1143.0 808.6,1140.4 811.9,1132.5 817.6,1128.6 819.6,1123.5 816.6,1114.5 814.6,1112.9ZM829.6,901.5 826.6,903.2 825.8,904.5 826.6,905.3 829.6,906.2 832.6,905.3ZM838.6,937.3 828.7,940.5 826.6,942.7 825.8,949.5 821.9,958.5 826.6,963.6 829.6,962.9 834.1,955.5 838.7,940.5ZM850.6,897.1 849.4,904.5 850.6,909.9 851.8,904.5 854.0,901.5 853.6,897.2ZM355.6,1198.4 352.6,1198.9 348.0,1207.5 349.4,1210.5 352.6,1212.8 355.6,1212.6 358.2,1210.5 358.7,1207.5 357.8,1201.5ZM379.6,983.8 376.6,989.6 377.0,1000.5 367.6,1006.1 366.3,1009.5 361.2,1015.5 360.4,1018.5 362.4,1027.5 364.6,1029.6 373.6,1032.6 379.6,1037.0 388.6,1036.1 394.6,1038.0 400.5,1042.5 401.6,1045.5 403.6,1047.2 415.6,1045.7 422.4,1042.5 424.2,1039.5 422.3,1027.5 419.0,1024.5 415.6,1014.2 412.6,1012.5 411.9,1006.5 404.4,1000.5 403.6,997.1 400.6,994.8 398.9,997.5 400.5,1000.5 400.5,1003.5 398.3,1009.5 394.6,1012.1 391.6,1012.6 390.3,1006.5 392.5,997.5 391.5,994.5 385.6,986.8 382.6,984.2ZM442.6,1117.0 438.4,1120.5 435.6,1126.5 436.6,1138.7 438.6,1132.5 442.6,1131.2 454.6,1135.1 457.6,1132.5 456.9,1129.5 451.6,1125.2 445.8,1117.5ZM514.6,1126.3 511.6,1126.7 509.1,1129.5 509.3,1132.5 514.6,1132.5 515.9,1129.5ZM517.6,966.7 514.6,970.0 512.2,976.5 512.9,982.5 514.6,985.5 517.6,985.5 520.6,982.7 526.1,973.5 526.4,970.5 523.6,965.2ZM571.6,1071.2 570.5,1075.5 571.6,1077.2 577.1,1075.5 577.6,1072.1 574.6,1070.5ZM616.6,1139.7 613.6,1142.1 610.9,1147.5 617.1,1150.5 618.8,1153.5 621.6,1162.5 620.1,1171.5 625.1,1180.5 628.6,1181.6 634.6,1176.3 640.6,1177.5 643.6,1176.2 646.1,1168.5 649.6,1164.3 651.6,1159.5 652.6,1156.5 652.2,1153.5 649.6,1151.4 646.6,1151.5 637.6,1160.5 631.6,1162.8 626.5,1162.5 624.4,1159.5 626.9,1153.5 625.6,1151.0 619.6,1148.5ZM637.6,1142.4 636.1,1144.5 639.8,1147.5 643.6,1148.7 646.2,1147.5 648.4,1144.5 646.6,1143.3 643.6,1143.8ZM685.6,1168.1 682.7,1171.5 685.6,1174.4 688.6,1174.6 691.6,1172.9 692.4,1171.5 691.6,1167.1 688.6,1166.3ZM742.6,889.1 726.7,892.5 718.3,895.5 716.0,901.5 719.1,907.5 719.6,910.5 718.6,914.2 715.6,917.6 703.6,922.4 694.6,914.7 688.6,911.5 684.1,904.5 677.4,901.5 664.6,901.0 661.6,902.0 657.8,904.5 656.2,907.5 655.5,913.5 658.6,918.6 661.6,920.6 673.6,920.6 694.6,933.1 697.6,932.8 703.6,929.4 705.7,934.5 705.6,940.5 706.6,942.4 709.6,943.7 715.6,942.8 717.3,943.5 718.7,946.5 715.6,952.7 712.6,954.1 709.6,957.8 709.6,963.2 718.6,973.3 733.6,976.6 736.6,975.2 742.8,967.5 743.6,961.5 739.6,960.3 721.6,963.1 718.6,961.5 718.0,958.5 720.3,955.5 727.6,951.1 731.3,946.5 731.7,943.5 730.6,941.1 725.6,937.5 724.6,933.8 727.6,930.5 733.6,929.6 734.8,928.5 737.8,919.5 745.6,914.5 748.6,914.5 752.0,919.5 754.6,920.8 765.3,916.5 764.5,913.5 760.6,911.2 757.3,907.5 757.2,904.5 760.1,898.5 760.2,895.5 757.6,890.5 748.6,891.1ZM745.6,858.9 742.9,859.5 742.9,862.5 745.6,867.9 751.6,870.2 754.6,868.8 755.9,865.5 755.8,862.5 754.6,861.2ZM388.6,1051.3 385.1,1057.5 388.6,1058.5 393.9,1057.5 395.7,1054.5 395.6,1051.5 391.6,1050.5ZM418.6,1060.1 416.6,1060.5 418.8,1066.5 417.8,1075.5 418.6,1079.6 421.6,1082.2 424.6,1081.4 428.9,1078.5 427.6,1073.9 422.6,1066.5 423.3,1060.5ZM451.6,1182.4 450.9,1183.5 451.6,1185.8 454.6,1184.9 454.6,1182.7ZM634.6,1204.2 628.6,1207.3 619.6,1205.8 616.6,1207.0 613.9,1210.5 614.4,1213.5 619.6,1215.0 622.6,1214.5 628.6,1210.6 634.6,1210.2 643.0,1207.5 640.0,1204.5 637.6,1203.6ZM640.6,1182.1 637.3,1186.5 636.7,1189.5 640.6,1194.9 643.6,1196.2 651.0,1192.5 653.3,1189.5 652.3,1186.5 649.6,1185.9 643.6,1180.6ZM655.6,934.4 655.6,937.6 658.6,938.0 659.5,934.5 658.6,932.3ZM676.6,937.3 667.6,946.3 658.3,949.5 656.0,955.5 656.4,958.5 661.6,963.1 667.6,964.9 673.6,961.9 679.6,960.5 682.1,958.5 682.8,955.5 681.5,946.5 679.6,940.1ZM736.6,980.8 732.3,991.5 732.1,994.5 737.5,1003.5 737.1,1006.5 733.6,1012.5 738.8,1015.5 745.6,1015.3 753.2,1009.5 754.6,997.5 759.2,994.5 756.5,991.5 751.6,989.9 748.6,983.0ZM754.6,949.6 752.1,952.5 754.6,955.6 756.6,952.5ZM763.6,965.5 761.4,967.5 760.8,970.5 763.6,973.4 766.6,971.4 768.0,967.5 766.6,965.4ZM418.6,1104.9 417.9,1105.5 418.6,1110.8 420.9,1108.5 420.0,1105.5ZM421.6,1111.7 418.6,1115.3 415.4,1129.5 418.6,1133.2 421.8,1132.5 422.6,1129.5 427.6,1125.1 428.9,1120.5 427.6,1114.1ZM682.6,1082.0 679.8,1084.5 680.6,1087.5 685.6,1089.1 688.6,1093.8 691.6,1096.2 694.6,1094.7 694.6,1090.4 688.6,1087.0 685.6,1083.0ZM427.6,1152.6 424.5,1156.5 426.0,1159.5 433.6,1161.8 437.9,1159.5 439.2,1156.5 436.6,1152.6 433.6,1151.0ZM427.6,1172.6 425.3,1174.5 427.6,1176.0 429.5,1174.5ZM718.9,286.5 745.0,286.5 745.0,292.5 742.6,294.5 735.3,295.5 727.6,301.9 724.6,301.8 718.9,292.5ZM605.1,295.5 616.6,295.8 621.3,298.5 623.4,301.5 623.5,304.5 622.0,307.5 613.6,318.9 608.3,316.5 606.4,313.5 607.3,310.5 605.6,307.5 599.8,304.5 601.7,298.5ZM595.5,307.5 597.8,307.5 599.7,316.5 595.6,317.0 591.8,313.5 592.1,310.5ZM647.6,310.5 649.6,307.9 654.3,310.5 653.5,313.5 650.6,316.5 650.9,319.5 658.6,324.4 664.6,331.2 673.6,333.1 676.7,331.5 679.6,327.9 682.6,326.7 685.0,328.5 684.3,334.5 687.2,343.5 697.6,357.7 699.9,364.5 698.5,370.5 694.6,373.0 691.6,372.8 685.6,363.7 682.6,366.4 676.6,375.4 673.1,385.5 670.9,388.5 667.6,390.5 657.5,400.5 656.5,403.5 666.1,409.5 673.6,411.3 675.2,412.5 675.6,415.5 670.6,420.6 658.6,425.0 652.6,423.4 643.6,425.0 640.6,424.2 638.0,421.5 637.6,418.5 639.6,415.5 647.8,409.5 650.0,406.5 648.8,403.5 643.6,401.2 633.3,391.5 633.2,388.5 636.8,382.5 638.6,376.5 640.4,373.5 644.8,370.5 645.2,367.5 643.4,361.5 648.3,355.5 646.6,352.5 635.1,343.5 633.0,340.5 633.1,337.5ZM459.5,316.5 463.6,314.8 466.4,316.5 466.3,319.5 463.6,322.9 460.6,324.6 457.6,324.2 455.8,322.5 456.8,319.5ZM290.7,346.5 294.0,346.5 295.5,349.5 292.6,350.2 290.7,349.5ZM282.1,349.5 283.6,348.1 287.2,349.5 283.6,355.9 280.6,354.2 280.1,352.5ZM723.8,352.5 727.6,353.1 729.0,355.5 728.1,358.5 721.6,362.4 718.6,362.2 715.7,358.5 717.2,355.5 718.6,354.1ZM498.8,370.5 499.6,369.8 502.6,370.7 505.3,373.5 502.6,374.9 499.6,374.3 498.5,373.5ZM450.2,376.5 451.6,375.7 452.8,376.5 453.3,382.5 451.6,385.9 448.6,387.8 445.6,387.3 444.2,385.5 444.0,382.5 446.0,379.5ZM520.3,379.5 524.3,379.5 526.7,385.5 526.6,391.0 523.6,389.9 518.2,385.5 517.7,382.5ZM556.1,382.5 559.6,381.8 566.2,385.5 569.3,388.5 567.9,391.5 562.6,392.9 560.7,394.5 556.6,404.2 553.6,403.4 547.6,404.6 544.6,403.7 543.7,400.5 544.6,399.3 550.6,395.7 549.9,388.5 551.2,385.5ZM590.7,385.5 592.6,383.4 597.2,385.5 598.7,388.5 597.5,394.5 602.7,400.5 610.6,406.6 613.1,409.5 613.9,412.5 613.1,415.5 610.6,417.8 602.3,421.5 598.6,425.8 595.6,427.2 592.6,426.5 582.3,415.5 578.7,406.5 581.7,394.5 583.6,391.8 589.6,388.7ZM272.1,388.5 274.6,386.7 278.1,388.5 274.6,389.3ZM456.7,397.5 460.6,394.6 463.6,395.6 470.8,409.5 469.1,412.5 460.6,414.4 457.6,413.5 453.0,409.5 453.1,403.5ZM499.3,397.5 502.6,399.8 502.6,400.9 499.6,401.7 498.5,400.5ZM720.6,397.5 724.6,395.6 728.0,397.5 724.6,401.5 721.6,401.4ZM424.9,400.5 427.6,398.8 429.4,400.5 429.8,403.5 427.6,405.9 424.6,404.0ZM223.6,409.5 223.6,406.8 229.6,406.8 230.5,412.5 229.6,414.8 223.6,414.8ZM520.4,409.5 520.6,408.0 523.6,408.9 525.1,412.5 532.6,417.3 538.6,417.3 541.9,418.5 542.5,421.5 536.5,427.5 535.0,433.5 532.6,437.6 529.6,437.3 526.2,433.5 522.7,421.5 522.6,412.5ZM767.8,409.5 772.6,408.3 774.7,412.5 773.6,418.5 771.7,421.5 763.6,426.5 759.1,433.5 752.1,439.5 751.2,445.5 754.0,451.5 753.4,454.5 748.6,457.0 737.6,448.5 737.8,442.5 743.6,436.5 744.8,433.5 744.2,424.5 747.9,418.5 751.6,416.0 754.6,414.5 760.6,414.2ZM558.5,412.5 559.6,411.5 572.2,415.5 574.4,418.5 572.8,424.5 568.6,427.2 565.6,427.0 562.6,421.0 558.5,418.5 557.0,415.5ZM357.1,418.5 358.6,417.8 362.4,421.5 358.6,424.8 356.3,421.5ZM250.5,421.5 253.6,422.5 254.5,427.5 250.6,431.2 247.6,430.2 246.1,427.5 247.2,424.5ZM454.5,424.5 457.6,421.7 460.6,422.9 461.8,424.5 462.7,427.5 461.7,430.5 458.7,433.5 458.3,436.5 463.6,440.3 466.6,440.4 467.4,439.5 467.5,433.5 469.6,432.4 478.6,433.8 481.6,431.9 484.6,425.6 487.6,425.4 490.6,427.5 492.4,433.5 490.6,439.3 487.6,441.3 484.6,438.9 481.6,439.4 480.2,445.5 473.0,457.5 481.6,458.7 483.8,460.5 484.8,463.5 484.0,466.5 479.8,472.5 481.6,475.8 489.9,484.5 487.6,488.3 484.6,489.6 478.6,482.2 475.6,481.9 463.6,484.5 460.6,483.8 457.8,481.5 457.5,478.5 465.0,469.5 465.1,466.5 461.9,463.5 458.8,457.5 449.4,454.5 447.8,451.5 451.6,448.4 453.3,445.5 453.9,442.5 452.9,439.5 449.6,436.5 449.1,433.5 454.6,427.5ZM342.2,433.5 345.4,433.5 347.3,436.5 340.6,439.2 339.0,436.5ZM277.1,448.5 277.6,448.0 281.2,448.5 277.6,451.2ZM338.2,448.5 340.6,446.9 346.6,446.2 347.9,451.5 346.6,456.6 343.6,458.8 341.7,457.5 337.4,451.5ZM309.5,454.5 310.6,453.4 313.6,453.5 325.6,457.4 325.6,463.6 322.6,465.4 319.6,463.7 316.6,458.9ZM270.9,457.5 274.6,454.8 275.7,457.5 269.9,466.5 268.6,467.6 265.6,466.8 264.3,463.5ZM389.9,457.5 394.6,455.1 398.8,457.5 398.1,460.5 394.6,462.8 391.6,462.5 389.5,460.5ZM424.9,457.5 430.6,455.7 433.6,456.1 434.8,460.5 432.8,466.5 430.6,469.5 426.2,472.5 424.7,475.5 426.4,481.5 426.0,484.5 424.6,485.2 421.1,484.5 419.6,481.5 421.4,472.5 419.4,463.5 419.6,460.5 421.6,458.3ZM514.4,466.5 517.6,464.7 520.6,465.7 521.4,466.5 520.9,469.5 517.6,470.1ZM761.2,469.5 763.6,466.8 766.6,466.6 769.6,468.1 769.9,472.5 766.6,477.2 763.6,475.5ZM318.8,475.5 319.6,473.6 328.6,477.4 334.6,475.6 337.6,476.4 340.9,478.5 344.4,484.5 352.6,486.8 357.4,493.5 352.6,495.5 335.8,493.5 333.1,490.5 328.6,481.8 319.6,479.1ZM549.8,499.5 553.6,499.2 555.4,502.5 563.6,508.5 562.6,513.0 559.6,515.1 556.6,514.2 554.4,505.5ZM402.9,502.5 403.8,502.5 404.8,505.5 403.6,507.5 401.1,505.5ZM462.7,502.5 466.6,501.1 475.6,502.4 481.6,501.6 482.5,502.5 481.6,508.8 465.2,514.5 461.1,517.5 461.1,520.5 463.6,524.2 466.6,525.7 472.6,524.1 475.6,526.0 483.8,532.5 484.1,535.5 477.6,541.5 474.2,547.5 469.6,549.1 463.6,553.3 460.6,553.3 456.5,550.5 453.9,547.5 453.0,544.5 454.6,534.7 457.6,524.5 459.9,520.5 454.6,514.6 455.2,511.5 458.7,505.5ZM418.0,514.5 424.6,514.0 429.3,517.5 428.6,520.5 424.6,523.5 421.6,528.2 418.6,527.5 416.8,523.5 415.9,517.5ZM502.4,514.5 505.6,512.5 508.6,513.2 509.6,514.5 507.6,520.5 502.6,524.7 499.2,520.5ZM282.5,520.5 286.6,518.5 289.6,518.8 295.6,523.2 304.6,526.2 307.2,529.5 305.5,532.5 299.6,535.5 298.6,538.0 292.6,536.3 280.6,538.3 271.6,536.4 270.5,532.5 271.6,529.9ZM351.9,523.5 355.6,521.4 358.6,521.4 361.6,523.1 364.8,526.5 368.0,532.5 368.1,535.5 364.6,537.8 358.6,537.4 356.5,538.5 356.3,541.5 359.8,547.5 358.6,553.5 359.2,556.5 364.0,562.5 365.1,565.5 366.9,574.5 365.3,583.5 373.6,592.5 376.6,591.2 381.5,583.5 385.6,580.4 388.6,580.2 391.6,583.1 391.9,589.5 394.6,591.5 400.6,590.5 406.6,583.5 412.6,581.3 418.6,585.1 421.6,585.2 424.3,580.5 424.0,577.5 421.6,571.8 419.0,571.5 420.9,568.5 427.6,563.5 433.0,571.5 436.6,573.2 448.6,570.0 454.6,571.0 460.6,567.2 463.6,567.3 468.1,571.5 468.6,574.5 463.7,580.5 463.4,583.5 464.3,589.5 466.6,593.0 469.6,593.9 472.6,591.7 475.6,587.1 478.6,578.9 481.6,576.6 484.6,575.9 487.4,577.5 489.2,583.5 484.9,595.5 483.9,601.5 481.6,602.8 469.6,598.2 466.6,599.5 462.1,610.5 469.6,613.4 475.6,613.0 482.4,607.5 484.6,604.0 490.6,606.5 491.8,610.5 481.6,618.5 472.6,619.4 463.6,627.8 460.6,626.6 456.7,622.5 455.5,616.5 456.1,610.5 453.3,610.5 450.4,613.5 448.6,618.9 447.5,628.5 442.6,629.2 439.6,631.0 434.0,640.5 433.5,643.5 436.6,652.8 433.6,654.4 427.6,655.3 415.6,652.9 412.6,651.1 411.0,649.5 410.7,646.5 414.6,637.5 423.4,634.5 419.4,622.5 420.3,619.5 424.6,617.5 433.6,616.5 435.2,613.5 433.6,604.8 430.6,600.1 424.6,607.3 418.6,608.4 417.4,607.5 416.7,601.5 415.1,598.5 412.6,597.0 409.6,597.3 400.6,599.9 396.8,604.5 388.6,606.3 379.6,612.5 373.6,612.1 369.7,610.5 364.8,604.5 358.6,602.9 357.2,601.5 355.6,595.3 352.6,593.6 340.6,595.1 336.0,589.5 333.7,583.5 334.5,580.5 340.6,574.5 342.6,571.5 342.6,568.5 337.6,566.8 331.6,566.4 328.6,567.5 325.6,572.5 322.6,574.0 319.3,571.5 316.6,566.4 307.6,574.0 302.5,571.5 297.0,562.5 295.9,559.5 298.1,553.5 295.8,544.5 298.6,538.8 304.6,544.4 307.6,551.0 310.6,553.4 316.6,550.3 331.6,553.6 329.5,544.5 329.6,538.5 327.1,529.5 337.6,525.7ZM343.6,540.2 341.3,541.5 346.6,542.5 348.9,541.5ZM432.3,523.5 435.5,523.5 436.2,526.5 432.2,532.5 430.6,533.6 427.6,532.9 426.6,529.5ZM373.7,535.5 376.6,533.2 379.6,534.1 380.8,535.5 380.2,538.5 376.6,539.9 374.8,538.5ZM252.1,547.5 253.6,546.8 259.6,549.0 265.4,553.5 266.3,556.5 260.2,565.5 256.6,573.8 253.6,575.7 247.6,576.1 244.6,577.3 242.0,580.5 241.4,583.5 244.6,588.4 253.6,594.0 262.6,593.9 265.6,596.8 270.8,607.5 268.6,610.5 262.6,614.7 259.6,615.6 253.6,615.1 252.8,622.5 253.7,631.5 250.6,637.9 247.6,639.5 243.7,637.5 238.0,631.5 243.9,625.5 241.6,623.2 238.6,622.3 232.6,624.6 223.6,624.2 223.6,596.9 232.6,596.0 233.2,592.5 232.6,588.3 229.6,584.6 223.6,584.6 223.6,572.8 232.6,573.4 238.6,568.7 240.4,565.5 241.6,558.5 243.3,556.5 249.0,553.5ZM433.6,550.5 436.6,550.2 442.6,553.7 445.4,556.5 444.5,559.5 427.6,561.9 426.7,556.5 428.6,553.5ZM414.1,571.5 415.6,569.7 418.5,571.5 415.6,573.6ZM553.0,580.5 556.6,581.6 562.6,587.4 565.6,587.5 571.6,583.8 577.6,582.0 581.5,592.5 580.6,595.2 571.6,594.4 568.7,595.5 561.7,601.5 556.6,610.4 550.6,608.8 546.2,604.5 541.6,594.0 534.6,589.5 534.8,586.5 538.6,581.9 541.6,581.5 544.6,585.0ZM499.5,586.5 502.7,586.5 503.5,589.5 502.6,591.3ZM333.7,598.5 337.6,596.8 340.6,598.1 346.0,607.5 347.5,616.5 344.3,619.5 337.1,622.5 331.6,627.9 322.6,626.4 319.6,627.4 318.9,631.5 319.8,634.5 321.6,637.5 326.6,640.5 328.3,643.5 328.6,646.7 325.6,650.3 314.6,646.5 313.6,642.4 310.6,643.0 307.6,641.9 307.0,637.5 311.3,631.5 313.4,625.5 319.6,623.0 324.0,616.5 326.6,604.5ZM509.2,601.5 511.6,599.9 514.6,601.2 517.5,607.5 514.9,610.5 508.6,612.6 505.6,612.0 504.3,610.5ZM307.1,607.5 308.7,607.5 308.6,610.5 304.6,618.5 298.6,615.0 295.6,614.7 283.6,619.7 276.7,616.5 274.1,613.5 276.5,610.5 295.6,610.2ZM357.5,616.5 361.6,614.8 364.6,615.3 370.6,619.9 379.6,622.0 383.4,625.5 385.6,631.5 382.6,633.8 376.6,633.7 367.6,629.2 364.6,629.8 361.6,628.5 356.2,619.5ZM559.2,616.5 562.6,615.8 567.9,619.5 568.6,622.5 567.3,625.5 572.7,631.5 573.3,634.5 572.1,640.5 568.6,644.5 562.6,643.6 558.8,640.5 557.6,637.5 558.2,634.5 564.6,628.5 562.6,625.5 557.5,622.5 557.6,619.5ZM396.7,625.5 400.6,624.7 409.4,634.5 407.0,637.5 400.6,641.8 397.6,642.2 395.2,640.5 391.9,634.5 391.8,631.5 393.4,628.5ZM522.8,625.5 523.8,625.5 525.4,628.5 526.6,641.5 535.6,641.4 536.6,643.5 534.3,646.5 527.8,649.5 525.6,655.5 530.8,679.5 533.0,682.5 540.7,688.5 538.6,691.3 535.6,692.6 532.6,692.4 529.6,690.3 527.0,682.5 519.6,673.5 518.9,667.5 520.4,658.5 515.0,652.5 514.0,649.5 516.4,640.5 516.4,631.5 520.6,625.9ZM463.5,631.5 466.6,630.5 475.7,640.5 478.0,652.5 487.6,652.7 490.6,654.7 496.6,662.4 510.1,670.5 510.8,673.5 508.9,676.5 499.6,679.1 493.6,687.1 490.6,688.0 486.3,685.5 485.2,682.5 487.0,676.5 484.6,675.3 482.4,676.5 482.0,679.5 483.0,682.5 478.6,688.6 475.6,690.1 466.6,685.0 463.6,684.5 457.6,688.3 456.7,685.5 460.6,681.5 468.5,676.5 468.2,673.5 460.6,672.2 457.6,670.4 451.6,665.5 442.6,660.5 440.7,658.5 440.0,655.5 447.6,652.5 449.7,649.5 449.8,646.5 446.9,640.5 446.9,637.5 448.6,634.7 457.6,635.2ZM349.0,634.5 349.6,633.7 358.6,633.9 361.6,634.8 363.4,637.5 362.6,643.5 359.0,649.5 355.6,660.0 352.6,662.3 349.3,655.5 350.0,652.5 354.9,646.5 352.8,643.5 348.2,640.5 346.9,637.5ZM583.5,637.5 589.6,636.3 592.4,637.5 594.5,640.5 583.6,643.8 582.8,640.5ZM250.0,649.5 251.6,649.5 253.6,652.5 252.4,655.5 247.6,658.0 245.9,655.5 246.7,652.5ZM572.1,649.5 580.6,647.2 582.5,649.5 583.6,658.1 586.6,658.3 591.8,661.5 590.2,664.5 585.6,664.5 583.4,661.5 583.1,658.5 571.6,657.9 566.1,655.5ZM295.3,652.5 298.6,652.2 307.6,655.2 308.2,661.5 310.1,664.5 316.0,667.5 315.8,670.5 310.6,673.3 301.6,670.6 292.6,670.0 287.9,667.5 285.3,661.5 286.1,658.5 288.9,655.5ZM398.8,652.5 400.6,649.7 403.6,649.7 409.4,661.5 408.8,664.5 403.6,669.1 399.9,667.5 398.2,655.5ZM262.2,667.5 265.6,664.8 268.6,665.2 278.5,670.5 280.4,673.5 280.4,676.5 277.6,686.5 277.3,694.5 283.3,697.5 283.9,700.5 280.6,707.1 277.6,708.6 265.6,705.5 263.6,706.5 260.3,715.5 259.6,716.5 256.6,717.0 252.5,712.5 253.0,700.5 250.6,692.7 249.0,691.5 248.8,688.5 252.8,673.5ZM330.9,676.5 334.6,674.1 336.9,679.5 335.8,682.5 331.6,683.8 329.1,682.5ZM402.2,676.5 403.6,674.9 406.6,674.7 410.6,676.5 412.9,679.5 412.2,682.5 405.9,688.5 403.6,693.5 400.6,693.1 396.1,697.5 388.6,701.7 379.6,703.8 376.6,703.2 374.1,700.5 371.3,691.5 370.8,688.5 372.5,685.5 388.6,685.3 397.6,693.0 399.2,691.5 399.6,688.5 398.5,682.5ZM438.8,676.5 440.2,676.5 442.3,679.5 443.0,685.5 445.6,691.4 451.6,693.0 453.8,697.5 451.6,699.4 445.6,695.9 442.6,696.4 438.7,700.5 438.8,703.5 445.6,709.4 447.7,715.5 448.7,724.5 447.8,727.5 443.4,733.5 463.6,744.4 466.6,747.7 467.9,751.5 469.6,765.5 466.6,768.6 463.3,769.5 464.9,775.5 464.8,784.5 466.6,788.1 469.6,789.1 472.6,788.1 476.1,784.5 476.6,781.5 475.3,775.5 477.9,772.5 484.6,774.8 487.6,774.4 493.9,772.5 496.4,769.5 492.4,757.5 493.6,753.6 496.8,751.5 497.4,748.5 492.5,745.5 493.1,742.5 496.6,740.2 505.6,739.1 508.6,737.1 509.0,733.5 507.2,727.5 508.6,725.5 511.6,725.3 517.6,726.3 523.6,732.9 529.6,736.5 530.1,739.5 526.6,743.4 524.2,748.5 524.1,751.5 526.7,757.5 525.7,760.5 522.4,763.5 521.2,766.5 523.1,772.5 520.4,781.5 520.5,784.5 522.9,790.5 532.6,797.1 536.8,796.5 544.6,792.5 559.6,792.9 561.4,790.5 560.8,787.5 558.0,784.5 557.3,781.5 562.6,774.9 565.6,772.4 568.6,772.0 577.6,774.1 586.6,766.3 589.6,765.1 593.4,772.5 594.6,778.5 592.0,784.5 592.8,793.5 591.1,799.5 589.6,800.8 586.6,800.9 577.6,795.8 565.6,796.3 559.6,794.7 554.9,799.5 553.9,802.5 556.6,810.4 559.7,814.5 556.6,819.3 553.6,820.9 544.6,818.4 535.6,821.6 532.6,820.3 523.6,820.0 516.8,814.5 514.7,811.5 514.3,805.5 516.8,793.5 516.1,787.5 508.6,770.1 505.6,769.6 502.5,772.5 503.6,778.5 501.9,781.5 496.6,784.2 484.6,786.9 481.6,788.9 478.9,793.5 478.5,796.5 480.5,799.5 488.7,802.5 490.2,805.5 487.6,808.5 472.6,803.2 460.6,793.0 457.6,794.3 454.6,802.3 451.6,802.9 442.6,800.7 439.4,796.5 440.3,793.5 445.6,783.0 451.6,775.5 452.7,772.5 455.9,769.5 460.6,768.2 461.6,754.5 460.3,751.5 457.6,749.1 451.6,745.9 442.6,745.8 431.2,742.5 427.9,736.5 424.6,733.8 422.7,730.5 422.5,727.5 425.0,721.5 424.8,718.5 421.2,712.5 418.1,703.5 419.1,700.5 421.6,698.0 430.6,696.0 432.6,685.5ZM574.6,778.4 570.9,784.5 571.7,787.5 574.6,789.8 577.6,789.5 587.2,781.5 587.0,778.5 583.6,776.5 577.6,776.1ZM427.6,703.3 427.6,706.5 430.6,706.7 432.4,703.5 430.6,701.9ZM564.9,676.5 568.6,674.1 571.6,674.0 577.4,676.5 579.4,682.5 577.6,688.9 574.6,689.5 571.6,686.9ZM325.4,688.5 328.6,690.7 333.0,694.5 328.6,696.1 324.6,694.5 323.1,691.5ZM511.3,691.5 514.6,689.6 517.8,691.5 519.6,694.5 519.8,697.5 518.3,700.5 514.6,702.9 511.6,702.1 508.6,699.5 508.2,697.5ZM356.9,694.5 358.6,691.8 361.5,694.5 358.6,695.8ZM477.2,700.5 478.6,699.1 480.6,703.5 475.6,707.0 474.7,706.5 475.1,703.5ZM553.5,703.5 556.6,701.6 559.6,701.9 562.6,702.8 565.6,705.7 565.6,709.5 562.6,714.3 556.6,715.2 554.3,712.5 552.8,706.5ZM344.7,706.5 349.6,706.2 352.6,708.1 358.6,716.4 364.4,721.5 365.9,724.5 361.6,729.3 355.6,730.7 352.6,728.9 343.0,715.5 342.4,709.5ZM481.7,706.5 484.6,704.6 490.6,704.5 493.0,706.5 494.2,709.5 493.7,715.5 490.6,717.4 487.6,715.7ZM394.1,709.5 400.6,708.1 403.6,711.1 404.5,715.5 394.2,727.5 391.6,732.8 388.6,734.1 379.6,734.5 377.4,736.5 377.0,739.5 377.8,742.5 380.4,745.5 394.6,754.7 399.5,760.5 399.2,769.5 397.6,773.7 394.6,777.5 391.6,777.4 388.6,773.1 385.6,759.2 382.6,759.4 376.6,769.1 373.6,769.8 371.0,766.5 368.9,754.5 367.6,752.9 364.6,752.9 358.6,755.7 356.7,754.5 352.6,746.5 343.6,748.5 340.6,747.0 337.1,742.5 337.3,739.5 340.6,738.9 358.6,743.2 361.6,740.3 364.4,733.5 368.1,730.5 368.4,721.5 370.6,711.9 373.6,709.6 376.3,712.5 376.8,715.5 379.6,719.2 382.6,718.1 385.6,712.6 388.6,710.2ZM528.0,718.5 529.6,717.6 532.6,718.2 538.6,721.7 544.6,722.1 547.1,724.5 547.6,730.8 546.1,733.5 542.0,736.5 544.8,742.5 544.9,748.5 541.6,750.7 538.6,749.0 534.4,742.5 534.1,739.5 538.2,736.5 538.5,733.5 532.6,729.2 528.5,724.5 526.6,721.5ZM655.2,724.5 658.6,725.9 658.6,728.6 655.6,729.3 654.3,727.5ZM265.5,727.5 268.6,725.5 269.6,727.5 268.6,734.3 262.6,737.2 257.4,736.5 262.6,732.8ZM304.4,727.5 307.6,728.2 308.3,730.5 307.2,733.5 304.6,736.0 298.6,736.6 298.5,733.5ZM616.4,727.5 619.6,728.2 621.0,730.5 620.4,733.5 616.6,733.3 610.8,730.5ZM411.4,739.5 412.6,737.9 415.6,736.9 421.6,740.8 425.3,745.5 427.1,760.5 424.6,764.5 421.6,765.2 418.6,763.6 416.9,754.5 411.5,742.5ZM394.5,745.5 397.6,744.4 400.6,746.1 401.8,748.5 397.6,751.7 394.6,749.7ZM292.8,757.5 307.6,755.2 311.0,757.5 311.2,763.5 310.6,764.8 307.6,765.1 304.6,763.8 301.6,764.0 298.6,766.3 292.6,766.8 286.6,769.9 285.6,769.5 284.3,766.5 284.8,763.5 287.2,760.5ZM223.6,760.5 223.6,758.3 229.6,758.3 238.6,766.2 239.7,769.5 239.3,772.5 235.6,777.5 232.6,777.7 229.6,774.6 223.6,774.6ZM856.0,775.5 859.6,774.8 860.3,775.5 859.6,780.3 856.6,780.8ZM270.4,790.5 271.6,789.5 272.8,790.5 274.6,793.5 274.6,796.5 268.6,805.5 265.6,818.0 262.6,818.2 262.6,808.0 264.7,802.5 268.7,796.5ZM623.4,799.5 625.6,797.4 628.6,796.8 642.6,802.5 642.3,805.5 640.6,805.8 634.6,815.8 631.6,817.3 622.1,817.5 623.0,823.5 622.2,826.5 619.6,827.9 616.6,828.3 613.6,826.1 612.3,820.5 613.4,814.5 612.5,811.5 610.6,809.6 607.6,809.0 604.6,810.9 595.6,829.0 592.6,830.1 588.8,829.5 586.8,826.5 586.8,814.5 587.6,811.5 589.6,809.6 595.6,805.8 601.6,804.4 607.6,800.4 616.6,803.9ZM326.8,802.5 331.6,800.3 334.6,801.9 335.5,808.5 338.0,814.5 337.6,818.8 334.6,819.9 332.1,817.5 330.0,811.5 325.8,808.5 324.8,805.5ZM388.9,805.5 394.6,804.1 397.6,804.8 398.6,805.5 398.8,808.5 394.6,812.0 391.6,812.1 386.8,808.5ZM503.8,814.5 505.6,812.6 508.6,812.1 513.6,814.5 511.6,818.3 505.6,820.2 502.8,817.5ZM233.3,817.5 235.6,814.7 238.6,814.7 241.9,820.5 242.1,826.5 244.6,828.1 247.6,828.4 253.6,825.3 259.6,827.2 262.6,826.7 268.6,822.2 274.6,823.5 277.6,825.3 280.6,830.0 284.9,832.5 289.6,832.6 298.6,828.3 301.5,829.5 300.8,832.5 296.3,838.5 298.6,841.5 303.4,844.5 302.3,850.5 303.2,853.5 305.9,856.5 306.6,859.5 305.3,862.5 298.6,868.6 295.6,869.6 292.8,868.5 292.4,865.5 295.6,856.5 294.9,850.5 292.6,846.7 286.6,847.4 274.4,853.5 263.4,856.5 256.6,861.9 253.6,863.0 247.6,862.2 242.6,859.5 243.4,853.5 241.6,849.8 238.6,847.6 232.6,845.8 231.7,844.5 235.6,838.7 235.7,832.5 232.6,832.8 229.6,834.5 223.6,834.5 223.6,819.9 229.6,819.9ZM478.2,820.5 484.6,819.6 486.5,820.5 481.6,830.1 478.6,832.5 475.6,832.4 470.6,829.5 472.6,827.4 473.3,823.5 475.6,821.1ZM463.4,823.5 466.6,824.4 468.8,829.5 457.6,834.7 454.6,831.1 454.9,826.5ZM309.0,829.5 310.6,827.2 313.6,827.8 320.7,835.5 322.1,838.5 320.6,844.5 313.8,850.5 313.6,852.4 313.5,841.5ZM528.8,829.5 532.6,828.8 534.4,832.5 532.6,837.5 529.6,839.5 526.6,839.1 525.6,835.5ZM564.9,841.5 565.6,840.2 568.6,839.4 574.6,840.5 577.6,838.9 583.6,839.1 586.9,841.5 583.6,843.4 574.6,841.8 568.6,843.7 565.6,843.2ZM223.6,865.5 223.6,864.3 232.6,864.0 232.6,868.5 229.6,870.6 223.6,870.6ZM275.1,868.5 280.6,866.7 283.6,868.5 283.9,871.5 283.1,874.5 280.6,877.5 274.6,879.6 270.3,877.5 269.9,874.5 271.3,871.5ZM586.4,901.5 589.6,900.3 591.4,901.5 591.8,904.5 589.6,906.6 586.6,905.1ZM409.1,1012.5 412.5,1012.5 412.3,1015.5 410.5,1024.5 406.6,1026.9 403.9,1024.5 404.8,1015.5ZM729.7,1060.5 733.6,1059.9 737.1,1063.5 733.6,1065.8 729.6,1063.5ZM274.1,1126.5 286.6,1128.1 288.1,1129.5 286.6,1134.8 283.6,1135.2 280.6,1133.2 274.6,1133.0 271.6,1131.6 270.3,1129.5ZM509.4,1162.5 511.6,1159.6 522.7,1162.5 524.3,1165.5 524.1,1168.5 520.6,1171.5 517.6,1172.3 511.9,1168.5ZM755.4,1162.5 757.6,1161.7 761.4,1162.5 757.6,1163.9ZM737.6,1165.5 742.6,1163.3 745.6,1163.4 748.7,1165.5 749.1,1168.5 742.6,1181.3 739.6,1183.5 736.6,1183.3 730.6,1177.3 727.6,1175.7 729.2,1183.5 726.9,1189.5 721.6,1191.4 718.6,1191.2 714.0,1189.5 710.0,1186.5 710.2,1183.5 714.6,1180.5 718.6,1175.5 727.2,1174.5 725.6,1171.5 726.3,1168.5 730.6,1166.6ZM779.3,1165.5 784.6,1163.2 787.6,1164.0 788.5,1165.5 781.6,1169.0 778.6,1172.5 777.0,1177.5 777.2,1183.5 786.1,1195.5 790.6,1208.5 793.6,1211.3 799.6,1213.5 800.7,1219.5 807.1,1225.5 807.1,1231.5 773.6,1231.5 772.6,1219.5 769.6,1215.9 766.6,1216.4 757.6,1224.4 754.9,1225.5 754.9,1231.5 717.3,1231.5 717.3,1225.5 721.8,1219.5 726.5,1207.5 730.6,1204.6 736.6,1204.4 739.0,1195.5 742.6,1195.1 745.6,1196.4 753.0,1204.5 757.6,1206.4 760.6,1205.3 763.3,1201.5 767.3,1192.5 766.6,1191.3 760.6,1192.0 756.6,1189.5 752.2,1180.5 752.5,1171.5 754.6,1169.4 757.6,1168.7 760.6,1169.7 766.6,1176.2 769.6,1175.7 775.6,1166.2ZM801.6,1165.5 802.6,1164.8 805.6,1165.7 808.3,1168.5 808.9,1171.5 806.9,1177.5 802.6,1180.0 799.9,1177.5 798.0,1171.5 798.2,1168.5ZM517.2,1198.5 520.6,1197.7 523.6,1201.5 523.9,1207.5 520.6,1210.5 517.6,1209.4 514.8,1204.5 515.2,1201.5ZM693.4,1222.5 694.6,1221.6 697.6,1222.8 700.3,1225.5 700.3,1231.5 692.2,1231.5 692.2,1225.5Z"/>
<path fill="#d1edb3" fill-rule="evenodd" d="M662.3,286.5 669.0,286.5 669.0,292.5 664.6,293.9 662.3,292.5ZM724.1,286.5 729.6,286.5 729.6,292.5 727.6,294.1 724.1,292.5ZM781.4,286.5 804.3,286.5 804.3,292.5 803.2,295.5 801.1,295.5 796.6,292.8 794.8,295.5 797.8,301.5 798.1,304.5 796.6,308.3 793.6,309.6 790.6,308.2 787.6,305.0 786.2,301.5 786.7,295.5 784.6,293.4 781.4,292.5ZM894.9,286.5 896.7,286.5 896.7,292.5 903.6,295.5 904.1,298.5 898.6,303.1 898.2,307.5 904.6,318.0 907.6,318.1 913.6,313.0 916.4,307.5 913.4,298.5 913.4,286.5 925.7,286.5 925.7,292.5 928.6,297.1 931.6,299.0 936.7,307.5 940.6,309.8 946.6,310.5 949.6,310.0 952.6,307.9 955.6,303.1 960.1,301.5 962.2,298.5 961.6,296.4 958.6,295.0 955.6,297.9 952.6,298.7 947.3,292.5 947.3,286.5 980.5,286.5 980.5,292.5 978.4,301.5 979.6,304.0 985.6,307.7 994.6,308.5 1000.6,305.7 1004.7,301.5 1006.4,295.5 1005.0,292.5 1005.0,286.5 1011.0,286.5 1011.0,292.5 1021.6,301.5 1024.6,302.4 1027.6,301.8 1033.6,297.4 1036.6,297.0 1042.6,300.1 1043.7,298.5 1042.5,286.5 1059.0,286.5 1059.0,292.5 1054.4,298.5 1050.5,301.5 1049.4,304.5 1048.8,313.5 1049.7,316.5 1054.6,318.4 1057.6,318.0 1060.6,315.9 1063.6,305.6 1066.6,304.9 1078.6,306.4 1081.7,304.5 1084.6,297.1 1087.6,293.7 1093.6,293.5 1095.1,295.5 1096.4,301.5 1095.6,304.5 1091.3,310.5 1089.1,316.5 1089.2,319.5 1090.6,324.7 1093.6,328.3 1095.8,325.5 1100.0,325.5 1094.6,331.5 1096.6,336.1 1099.6,337.8 1102.6,337.0 1111.6,330.5 1117.6,328.6 1120.6,328.9 1126.6,336.1 1129.6,336.9 1135.6,335.7 1139.8,325.5 1138.6,320.3 1132.7,307.5 1133.4,304.5 1138.4,295.5 1142.3,292.5 1142.3,286.5 1155.1,286.5 1155.1,292.5 1158.5,298.5 1157.4,307.5 1168.6,313.3 1171.6,312.9 1186.6,305.2 1189.6,305.6 1200.3,310.5 1201.8,313.5 1200.6,316.5 1191.0,325.5 1191.1,331.5 1189.6,334.0 1180.6,331.0 1177.6,331.4 1172.1,334.5 1170.2,337.5 1167.0,349.5 1168.2,352.5 1174.5,355.5 1174.1,364.5 1177.6,371.7 1180.6,374.5 1183.6,373.5 1187.0,370.5 1187.9,367.5 1182.7,361.5 1179.6,355.5 1180.6,354.5 1186.6,354.6 1192.6,357.7 1194.0,361.5 1193.7,364.5 1197.1,367.5 1201.6,367.8 1207.6,365.3 1213.6,367.3 1216.6,367.1 1222.6,364.5 1231.6,365.0 1234.6,364.1 1243.3,352.5 1246.6,351.2 1250.8,352.5 1252.6,355.4 1255.6,357.4 1264.5,346.5 1265.2,343.5 1263.8,337.5 1265.0,334.5 1267.6,331.8 1276.6,331.1 1285.6,326.1 1297.6,327.8 1306.6,334.0 1312.6,341.1 1326.6,349.5 1329.4,352.5 1329.0,355.5 1321.6,357.9 1315.6,356.8 1306.6,351.4 1303.6,352.0 1300.8,361.5 1293.7,367.5 1288.6,377.2 1285.6,379.5 1279.6,376.1 1276.6,376.0 1274.4,379.5 1273.3,388.5 1274.5,394.5 1283.3,409.5 1282.8,412.5 1278.3,421.5 1280.2,433.5 1276.6,439.5 1276.7,442.5 1279.6,445.2 1285.6,447.8 1291.6,453.6 1297.6,457.2 1303.6,453.8 1309.6,444.4 1325.1,406.5 1343.8,370.5 1347.0,361.5 1351.6,355.5 1359.1,340.5 1363.6,334.6 1366.6,332.4 1372.6,332.4 1372.6,1231.5 838.8,1231.5 838.5,1222.5 837.0,1216.5 827.9,1204.5 826.2,1201.5 825.9,1198.5 826.7,1189.5 829.4,1183.5 829.6,1180.5 828.3,1177.5 838.6,1168.9 844.0,1162.5 843.7,1153.5 841.6,1151.4 824.6,1165.5 823.6,1168.7 814.6,1155.1 813.6,1144.5 816.2,1138.5 823.1,1132.5 825.0,1129.5 824.5,1120.5 819.5,1111.5 814.6,1107.3 808.1,1105.5 802.6,1097.7 796.6,1092.1 793.6,1090.7 787.6,1082.4 785.0,1081.5 786.2,1075.5 784.5,1072.5 784.3,1066.5 786.9,1060.5 787.6,1053.1 802.3,1024.5 802.7,1018.5 805.1,1012.5 805.2,1003.5 808.2,997.5 813.1,994.5 821.7,985.5 836.9,955.5 837.6,949.5 843.2,937.5 848.1,931.5 848.9,928.5 854.2,922.5 857.2,916.5 857.4,913.5 855.5,910.5 855.2,907.5 857.7,901.5 858.3,895.5 865.6,888.2 871.6,887.4 877.6,882.6 880.6,881.8 889.6,873.6 892.6,872.7 898.6,867.0 903.2,859.5 907.6,857.6 919.6,849.1 926.6,841.5 929.7,835.5 934.6,829.5 945.2,805.5 958.6,794.1 965.9,784.5 975.7,775.5 979.6,769.8 1032.7,718.5 1042.6,712.3 1060.5,694.5 1066.1,691.5 1084.6,673.6 1090.1,670.5 1099.6,661.1 1105.6,657.5 1111.6,656.3 1123.6,649.6 1126.6,646.5 1129.6,646.5 1138.6,640.9 1141.6,634.0 1144.6,632.8 1150.6,634.2 1162.6,627.2 1166.7,622.5 1168.6,616.7 1172.9,610.5 1194.3,589.5 1205.0,574.5 1215.4,565.5 1227.8,550.5 1240.6,538.5 1246.2,529.5 1237.7,511.5 1231.6,504.4 1228.6,502.8 1216.6,506.3 1213.6,504.6 1207.6,497.1 1198.6,494.6 1180.6,501.2 1174.6,498.6 1168.6,500.6 1159.6,497.1 1147.6,497.6 1141.6,492.7 1138.6,492.3 1132.6,496.2 1126.6,495.7 1120.3,493.5 1113.2,487.5 1111.8,484.5 1111.6,477.7 1105.6,472.5 1102.3,466.5 1096.6,463.1 1090.6,463.5 1087.6,465.9 1085.6,469.5 1085.6,475.5 1090.6,481.9 1095.4,493.5 1100.9,496.5 1102.4,499.5 1100.9,502.5 1096.6,504.1 1090.6,497.6 1087.6,498.0 1081.6,511.4 1072.6,518.4 1069.6,523.5 1068.4,526.5 1069.8,532.5 1069.0,535.5 1064.0,538.5 1062.0,541.5 1066.0,547.5 1064.3,550.5 1060.6,552.8 1057.6,553.8 1051.6,549.3 1045.6,553.0 1042.6,552.0 1039.6,548.2 1036.6,546.9 1030.6,549.8 1024.3,547.5 1018.6,547.4 1015.7,550.5 1013.7,559.5 1016.4,565.5 1016.3,568.5 1019.8,571.5 1027.6,573.0 1036.6,577.1 1038.6,580.5 1036.6,586.7 1034.4,589.5 1035.4,595.5 1038.3,601.5 1036.6,604.5 1030.6,608.1 1021.6,616.2 1009.6,621.7 997.6,623.6 995.2,625.5 993.0,634.5 985.4,640.5 986.5,652.5 982.6,657.5 979.6,658.3 973.6,657.1 967.6,657.4 965.8,655.5 967.3,649.5 964.6,647.5 958.9,652.5 952.0,655.5 950.4,658.5 951.5,664.5 949.6,668.2 945.4,667.5 934.6,658.2 931.6,658.8 925.6,662.6 922.6,662.9 916.6,658.5 915.6,655.5 916.6,650.4 919.9,646.5 920.0,643.5 910.6,643.2 908.2,640.5 906.2,634.5 901.6,630.1 898.6,629.9 887.6,637.5 879.9,646.5 880.1,649.5 883.6,651.7 889.6,654.6 896.4,655.5 899.3,658.5 898.7,661.5 895.6,661.1 889.6,655.8 886.6,655.9 883.6,658.3 880.6,662.9 877.3,670.5 865.6,678.1 859.6,680.0 856.4,685.5 856.9,697.5 858.6,703.5 857.2,706.5 848.7,712.5 842.9,718.5 842.3,721.5 847.6,730.5 847.3,733.5 844.6,736.9 841.6,738.1 826.6,738.3 824.4,739.5 826.1,742.5 829.6,742.9 830.2,745.5 820.6,749.5 817.6,749.3 815.8,745.5 811.6,743.8 802.6,745.7 793.6,752.7 790.6,753.6 786.6,748.5 787.6,744.1 793.6,742.5 794.1,739.5 790.6,733.9 787.6,734.0 772.6,740.4 769.3,733.5 766.6,731.4 763.6,730.9 760.6,731.4 759.2,736.5 754.6,744.2 751.6,743.1 748.0,736.5 745.6,735.1 742.6,735.3 736.6,739.3 727.6,741.9 724.6,740.4 719.0,733.5 721.6,729.1 724.6,727.0 728.0,712.5 728.3,700.5 727.6,698.9 724.6,697.9 720.3,700.5 720.1,706.5 715.6,708.3 712.6,711.6 703.6,711.6 700.6,710.7 700.0,709.5 699.7,703.5 697.6,698.0 694.6,695.1 691.6,695.1 688.7,697.5 687.6,700.5 688.6,710.2 682.6,714.1 678.7,718.5 676.6,719.6 673.6,718.6 671.8,715.5 671.7,706.5 676.6,699.2 677.3,694.5 676.6,692.8 673.6,692.6 670.6,694.7 669.0,694.5 667.6,694.0 666.8,691.5 667.6,689.7 673.6,686.6 674.3,685.5 673.3,682.5 664.6,678.4 658.8,670.5 655.6,663.1 651.2,658.5 648.8,652.5 646.6,650.4 642.9,649.5 640.6,647.1 639.6,643.5 641.7,640.5 641.4,637.5 636.0,631.5 635.6,628.5 637.6,625.4 643.6,624.6 647.1,622.5 646.8,610.5 644.7,604.5 644.7,601.5 646.6,599.0 649.6,596.6 652.6,596.0 665.4,595.5 661.6,594.2 652.6,594.1 640.6,587.5 637.6,588.0 631.6,592.9 619.6,597.5 616.6,597.5 611.7,592.5 613.6,583.5 610.1,574.5 613.9,565.5 612.3,562.5 608.8,559.5 607.8,556.5 611.0,547.5 613.1,544.5 617.4,541.5 618.9,538.5 619.6,529.5 618.4,526.5 612.4,520.5 611.1,517.5 613.6,512.2 624.0,505.5 625.5,502.5 622.6,497.0 619.6,496.6 613.7,499.5 612.8,502.5 613.0,508.5 610.6,510.5 604.6,510.3 603.0,508.5 604.6,502.3 606.6,499.5 608.0,487.5 610.6,484.9 616.6,485.1 622.6,492.5 625.6,491.9 631.6,488.6 636.2,478.5 637.6,477.0 640.6,476.5 643.6,478.8 647.6,484.5 645.2,493.5 652.6,496.7 664.6,494.0 673.6,496.2 676.6,494.8 679.6,491.6 691.0,490.5 694.6,486.4 703.6,487.3 706.6,486.3 712.6,480.2 715.6,478.7 718.6,479.3 720.7,484.5 717.1,496.5 718.2,502.5 721.6,503.9 730.6,502.8 732.4,505.5 725.5,511.5 722.1,523.5 715.2,535.5 717.5,544.5 718.6,546.0 724.6,547.9 727.3,550.5 730.6,557.2 736.6,562.7 742.6,563.5 744.9,562.5 748.6,558.2 751.6,558.7 755.9,562.5 757.4,568.5 760.2,571.5 769.6,575.5 772.6,574.9 772.9,571.5 766.6,565.8 764.6,562.5 763.9,550.5 757.3,544.5 756.2,541.5 757.9,535.5 760.2,532.5 763.6,531.0 766.6,531.6 771.4,541.5 775.6,542.9 787.6,529.4 796.6,532.2 799.6,536.1 802.6,535.9 802.7,532.5 799.5,526.5 797.9,517.5 794.1,511.5 793.7,508.5 794.8,505.5 796.6,503.3 802.6,501.3 811.6,503.6 817.6,507.9 820.6,508.7 834.9,505.5 828.5,493.5 823.1,487.5 821.9,484.5 822.4,481.5 828.4,472.5 827.6,466.5 828.8,463.5 835.6,457.9 838.6,456.5 841.5,457.5 842.4,460.5 839.1,466.5 835.6,470.2 831.3,472.5 830.6,475.5 834.0,478.5 838.6,479.7 842.1,478.5 844.6,476.2 851.3,466.5 850.9,463.5 846.5,457.5 845.0,451.5 838.6,446.1 837.3,442.5 838.6,441.0 844.6,442.2 850.6,448.0 853.6,449.2 862.6,447.6 868.6,451.3 871.6,451.1 873.4,448.5 871.6,442.7 865.6,442.6 862.6,441.7 861.5,439.5 860.7,433.5 862.2,430.5 868.6,427.3 874.6,431.1 877.6,431.2 883.6,429.5 885.6,427.5 885.8,418.5 884.1,415.5 877.6,412.0 876.3,409.5 876.2,403.5 874.8,400.5 863.2,391.5 861.5,388.5 861.5,385.5 863.0,382.5 865.6,380.8 877.6,379.9 886.6,382.6 889.6,382.5 892.6,380.7 893.8,379.5 894.0,376.5 892.6,375.1 891.2,370.5 892.3,367.5 895.6,364.5 898.6,363.8 900.8,358.5 910.1,349.5 892.6,344.5 889.6,345.0 883.6,348.2 874.6,343.8 871.6,343.5 869.7,340.5 869.1,337.5 871.1,334.5 886.6,332.2 895.6,322.5 895.6,315.7 893.6,313.5 884.6,310.5 882.4,304.5 878.5,301.5 877.5,298.5 880.6,297.6 886.6,300.3 891.1,298.5 894.9,292.5ZM943.6,322.4 940.6,325.1 931.6,326.2 925.6,334.9 922.6,335.6 911.4,328.5 907.6,327.5 903.5,328.5 903.0,331.5 905.7,334.5 913.6,337.8 916.2,340.5 914.2,349.5 922.8,352.5 923.9,355.5 922.6,360.4 920.1,361.5 913.6,359.5 899.8,364.5 897.0,376.5 899.6,379.5 904.6,381.2 907.0,379.5 908.5,373.5 910.6,371.1 916.6,374.2 922.6,374.6 934.2,367.5 934.3,355.5 928.8,349.5 930.2,343.5 934.6,340.8 940.6,339.7 941.9,337.5 942.1,328.5 943.6,326.9 952.6,334.6 955.6,335.6 958.9,334.5 963.2,325.5 955.6,322.5ZM997.6,315.3 994.6,318.5 991.6,319.5 985.6,317.0 981.9,322.5 982.6,327.3 985.6,327.8 991.6,326.5 995.6,328.5 997.5,331.5 996.7,334.5 994.6,336.3 985.6,336.4 979.6,340.5 973.6,339.8 964.6,340.8 961.9,343.5 960.9,346.5 964.1,355.5 961.6,359.0 952.6,360.3 951.0,361.5 949.9,364.5 952.6,367.3 961.6,368.0 967.9,364.5 972.9,358.5 979.6,340.6 982.6,341.6 985.6,344.4 988.6,344.6 994.6,341.5 1000.6,342.0 1004.0,346.5 1006.6,354.1 1009.6,353.7 1015.6,348.0 1021.6,349.1 1023.9,352.5 1019.8,361.5 1027.6,365.7 1030.6,366.0 1032.9,364.5 1036.6,356.8 1039.6,355.4 1041.6,349.5 1036.6,335.3 1030.6,332.9 1027.6,324.0 1024.6,321.5 1018.6,321.3 1003.6,314.2ZM1069.6,324.3 1066.5,328.5 1065.7,331.5 1068.0,334.5 1072.6,335.1 1077.5,331.5 1078.1,328.5 1075.6,324.8 1072.6,323.8ZM1090.6,418.5 1089.4,421.5 1089.9,424.5 1093.6,425.3 1094.9,424.5 1095.2,421.5ZM1123.6,358.4 1120.6,358.8 1114.2,364.5 1112.3,367.5 1112.7,373.5 1114.6,375.7 1120.6,377.2 1124.3,373.5 1127.4,364.5 1127.5,361.5ZM1132.6,370.2 1130.3,373.5 1130.4,376.5 1132.6,378.6 1141.6,380.6 1147.8,379.5 1147.7,376.5 1138.6,370.0 1135.6,369.1ZM1141.6,340.5 1138.6,340.7 1135.6,343.5 1134.7,346.5 1135.6,349.4 1144.6,357.2 1147.6,357.9 1150.6,355.5 1151.9,352.5 1151.5,349.5 1147.0,343.5ZM811.6,1053.0 806.9,1057.5 806.5,1060.5 803.8,1063.5 803.8,1075.5 809.4,1081.5 809.7,1084.5 812.4,1087.5 820.6,1092.2 828.0,1084.5 825.6,1081.5 825.1,1078.5 819.5,1072.5 819.1,1069.5 816.5,1066.5 816.1,1060.5ZM832.6,1008.3 831.3,1009.5 830.6,1021.5 828.0,1024.5 827.6,1030.5 825.2,1033.5 829.6,1040.7 840.0,1030.5 840.4,1027.5 843.0,1024.5 843.0,1021.5 840.4,1018.5 840.0,1012.5ZM631.6,513.9 630.8,517.5 634.6,525.8 638.7,517.5 634.6,513.3ZM667.6,514.4 661.9,520.5 661.8,526.5 657.6,529.5 656.3,532.5 661.6,535.8 670.6,547.6 679.6,554.9 682.6,553.1 684.2,547.5 684.7,544.5 683.6,538.5 687.1,529.5 686.4,526.5 670.6,514.2ZM691.6,501.8 694.6,504.2 696.3,502.5 694.6,501.0ZM742.6,706.2 739.4,709.5 746.5,709.5 743.3,706.5ZM796.6,543.2 787.6,550.5 787.6,555.5 790.6,558.5 799.6,551.3 801.7,547.5 799.6,542.5ZM805.6,592.0 808.6,597.9 811.6,598.6 814.3,592.5 811.6,589.5 808.6,589.7ZM829.6,541.3 829.6,545.8 832.6,545.9 836.1,541.5 835.6,539.0 832.6,538.5ZM847.6,499.0 842.8,508.5 838.6,509.9 837.0,514.5 832.3,520.5 832.6,523.5 838.6,531.7 841.6,532.2 844.6,531.1 847.6,527.5 853.6,525.6 854.5,523.5 854.8,511.5 853.3,502.5 850.6,498.7ZM892.6,433.4 890.0,436.5 891.0,439.5 892.6,440.7 895.0,439.5 896.6,436.5 896.1,433.5ZM895.6,407.5 893.1,409.5 893.1,412.5 895.6,414.7 898.6,413.4 899.6,409.5ZM946.6,343.5 943.6,345.7 939.4,352.5 946.6,352.6 949.6,349.6 951.1,346.5 949.6,343.7ZM994.6,518.8 988.6,523.9 982.6,521.5 975.5,523.5 973.2,526.5 971.6,535.5 967.6,540.1 960.6,544.5 959.3,547.5 959.9,550.5 961.6,552.0 977.5,550.5 979.9,547.5 980.6,541.5 991.6,524.2 994.6,525.2 997.6,524.7 998.6,523.5 998.2,520.5ZM1012.6,489.2 1006.2,493.5 1004.3,496.5 1009.6,498.6 1015.6,497.5 1016.5,493.5 1015.3,490.5ZM1021.6,501.7 1010.3,514.5 1013.3,520.5 1019.4,526.5 1019.8,532.5 1021.6,534.3 1024.6,534.6 1029.1,532.5 1034.5,526.5 1035.2,523.5 1027.0,505.5 1024.6,502.1ZM1069.6,507.9 1067.6,508.5 1069.6,512.1 1070.8,511.5 1070.7,508.5ZM631.6,532.7 627.3,538.5 628.6,543.3 631.6,544.9 633.3,538.5ZM673.6,565.5 664.2,568.5 666.3,574.5 663.3,586.5 664.6,589.3 667.6,591.3 673.6,591.4 679.6,595.0 680.4,592.5 686.4,586.5 685.6,581.3 684.4,580.5 697.6,583.5 699.4,580.5 699.0,577.5 694.6,568.6 691.6,565.9 685.6,566.3 682.6,567.9 676.6,564.8ZM694.6,532.1 693.1,532.5 691.7,535.5 694.6,538.9 697.6,539.0 701.5,535.5 699.4,532.5ZM796.6,569.9 793.6,572.5 785.2,574.5 785.9,577.5 787.6,578.6 793.6,575.9 802.6,578.4 804.1,577.5 805.6,574.5 802.8,571.5ZM835.6,580.3 832.0,583.5 832.6,586.1 835.6,588.7 838.6,589.0 841.6,586.9 842.9,583.5 840.5,580.5ZM844.6,533.9 842.2,538.5 843.3,541.5 847.6,544.8 850.6,544.9 853.6,541.5 853.0,538.5 850.6,535.7ZM895.6,516.6 892.6,520.7 890.3,529.5 887.6,532.5 883.6,534.8 874.6,536.9 872.7,538.5 868.1,553.5 865.6,557.8 857.0,559.5 850.6,562.2 841.6,561.5 838.1,562.5 838.6,565.5 841.6,566.3 850.6,564.9 855.2,568.5 859.6,576.8 865.6,578.0 869.8,580.5 870.7,583.5 869.2,586.5 865.6,587.2 859.6,586.1 856.8,589.5 859.6,593.8 868.6,598.3 871.6,599.1 874.6,597.5 885.3,583.5 895.6,583.6 899.9,580.5 904.6,574.9 910.6,577.4 911.5,574.5 916.6,569.4 915.0,562.5 911.3,559.5 904.6,556.3 901.9,553.5 900.9,550.5 901.5,544.5 900.3,541.5 895.0,538.5 893.4,535.5 893.4,532.5 898.6,526.6 899.2,523.5 898.6,516.9ZM979.6,600.7 975.8,604.5 976.6,605.2 979.6,606.0 982.2,604.5 981.9,601.5ZM694.6,676.2 690.3,679.5 690.3,682.5 694.6,684.0 698.3,682.5 700.0,679.5 697.7,676.5ZM700.6,558.3 696.9,562.5 696.9,565.5 703.6,573.9 706.6,575.7 708.7,571.5 707.6,565.5 703.6,558.6ZM856.6,663.9 855.3,667.5 856.6,669.9 859.6,670.8 862.6,668.8 863.4,667.5 862.6,664.4ZM910.6,577.6 909.2,583.5 909.6,589.5 910.6,592.2 913.6,593.2 916.3,589.5 916.8,586.5 915.6,583.5 911.8,580.5ZM910.6,599.9 907.6,606.8 904.6,608.7 895.6,604.7 892.4,607.5 892.3,610.5 895.6,618.8 901.6,623.2 916.6,621.2 919.1,622.5 921.4,628.5 931.6,629.9 933.2,628.5 932.1,619.5 937.6,614.6 941.6,613.5 928.6,604.1 919.6,602.5 913.6,598.9ZM1064.5,286.5 1067.6,286.5 1067.6,292.5 1064.5,292.5ZM1097.8,286.5 1114.3,286.5 1114.3,292.5 1105.6,293.8 1097.8,292.5ZM1116.4,286.5 1123.1,286.5 1123.1,292.5 1116.4,292.5ZM611.8,301.5 616.6,300.3 618.2,301.5 619.7,304.5 616.6,309.0 613.6,308.8 612.7,307.5 611.5,304.5ZM822.9,301.5 826.6,298.9 829.6,299.6 830.8,301.5 831.1,304.5 829.6,307.5 826.6,309.8 823.6,310.1 821.6,307.5ZM1101.4,307.5 1102.6,306.2 1105.6,306.1 1106.7,307.5 1110.2,316.5 1110.1,319.5 1108.6,320.5 1105.6,320.8 1104.4,319.5ZM801.5,322.5 805.6,320.5 807.6,322.5 807.8,328.5 805.6,332.2 802.6,332.9 800.7,331.5 800.0,328.5ZM646.0,325.5 649.6,324.2 653.1,325.5 655.6,328.0 655.8,334.5 657.1,337.5 664.6,335.8 673.6,339.3 676.6,338.5 679.6,339.2 679.6,341.7 673.1,346.5 672.3,352.5 673.6,356.0 670.6,358.2 669.9,355.5 667.6,354.1 664.6,352.9 658.6,353.3 655.6,351.9 650.0,346.5 643.6,345.3 639.9,343.5 637.6,340.5 637.3,337.5 638.5,334.5ZM725.1,328.5 727.6,325.7 730.6,325.6 741.3,328.5 744.3,331.5 739.6,339.4 736.6,340.4 732.9,334.5ZM663.3,361.5 664.6,360.0 673.6,358.7 675.4,367.5 672.4,379.5 670.6,383.2 664.1,385.5 658.6,395.2 652.6,399.2 646.6,399.6 643.7,397.5 642.1,394.5 643.9,391.5 646.6,389.9 658.6,385.5 658.6,379.5 660.6,373.5 660.2,367.5ZM853.1,361.5 859.6,359.3 862.0,361.5 865.2,367.5 862.6,369.3 856.6,365.4 852.5,364.5ZM847.3,367.5 850.4,367.5 847.6,373.3 846.7,370.5ZM773.8,373.5 775.6,372.2 778.7,373.5 779.2,376.5 775.6,380.1 772.4,379.5 772.0,376.5ZM784.5,385.5 787.6,382.5 790.6,383.1 795.6,385.5 797.1,388.5 787.6,397.9 781.6,399.2 778.0,397.5 778.6,394.5ZM588.1,403.5 589.6,402.5 592.6,402.9 598.6,406.0 600.7,409.5 600.3,412.5 589.6,413.0ZM696.8,406.5 705.0,409.5 706.6,411.0 707.3,412.5 703.6,417.0 700.6,417.8 697.6,414.7 695.2,409.5ZM754.9,421.5 757.6,420.2 761.1,421.5 754.6,431.0ZM701.9,430.5 706.6,427.8 709.6,429.2 710.7,433.5 706.6,434.8 700.6,434.0 699.8,433.5ZM643.4,454.5 649.6,455.9 652.1,457.5 653.4,460.5 649.6,462.2 635.9,463.5 635.4,460.5 637.3,457.5ZM802.2,457.5 805.6,456.9 812.6,460.5 815.2,469.5 818.3,475.5 819.0,478.5 817.6,480.7 814.6,481.0 805.6,478.8 801.1,475.5 796.2,466.5 795.1,460.5ZM753.5,514.5 757.6,514.6 759.5,517.5 757.6,521.8 748.6,529.1 746.4,532.5 743.7,544.5 743.6,550.5 742.6,551.9 739.6,550.2 735.8,541.5 735.8,529.5 738.2,526.5 743.4,523.5 748.6,516.3ZM555.8,541.5 556.6,538.9 559.6,539.7 561.6,541.5 561.3,544.5 559.6,544.9ZM1068.8,550.5 1072.6,548.2 1079.1,553.5 1084.6,555.5 1090.6,552.2 1096.6,552.5 1099.6,554.7 1107.7,565.5 1108.2,571.5 1106.7,577.5 1109.5,583.5 1109.2,586.5 1105.6,590.8 1098.9,592.5 1094.4,595.5 1095.0,601.5 1093.6,605.1 1090.6,605.8 1078.6,600.5 1071.5,592.5 1068.5,586.5 1062.0,580.5 1059.7,574.5 1052.6,568.5 1051.4,562.5 1053.0,559.5 1054.6,557.8 1057.6,557.0 1066.6,558.4 1069.6,557.5 1070.9,556.5 1070.6,553.5ZM247.5,562.5 250.6,561.8 250.6,566.2 247.6,567.2ZM350.4,574.5 358.6,572.6 360.1,574.5 359.7,577.5 355.6,581.4 350.0,580.5 346.7,577.5ZM678.3,574.5 679.6,573.1 682.4,577.5 679.6,579.4 678.1,577.5ZM442.4,592.5 445.6,592.4 448.6,595.0 452.8,601.5 448.6,604.2 441.9,604.5 439.6,602.5 438.3,598.5 438.5,595.5ZM241.2,595.5 244.7,595.5 246.0,598.5 244.6,601.0 241.6,600.3ZM1052.4,598.5 1054.6,596.5 1057.4,598.5 1054.6,601.9 1053.0,601.5ZM604.7,604.5 610.6,602.3 613.6,602.3 616.6,604.8 619.4,610.5 619.0,616.5 616.3,625.5 614.6,628.5 607.6,631.8 603.7,628.5 605.1,622.5 601.1,616.5 600.5,613.5 602.5,607.5ZM588.7,607.5 589.6,605.6 592.6,604.8 596.4,607.5 596.3,610.5 592.6,612.0 589.6,610.7ZM613.1,688.5 616.6,686.4 616.6,690.7 613.6,692.6ZM651.7,700.5 655.6,697.6 658.6,697.7 666.7,700.5 666.7,703.5 652.4,706.5 649.8,703.5ZM949.3,703.5 955.6,703.2 961.6,707.0 967.6,704.1 976.2,712.5 977.9,715.5 978.0,721.5 976.6,724.0 970.5,727.5 968.6,730.5 969.7,736.5 977.5,748.5 978.3,751.5 976.6,763.5 973.6,767.9 970.6,766.2 968.1,760.5 969.7,751.5 968.2,748.5 961.6,743.2 955.6,735.3 950.9,733.5 948.8,730.5 948.4,727.5 949.5,724.5 957.0,718.5 959.1,712.5 958.6,708.5 955.6,709.7 951.5,709.5 949.1,706.5ZM715.6,712.5 717.7,715.5 717.1,718.5 713.7,721.5 709.6,722.6 707.4,724.5 703.6,731.5 700.6,731.8 699.1,730.5 698.8,727.5 700.6,722.7 703.6,720.2 706.6,719.4 712.6,712.9ZM432.2,715.5 433.6,713.9 436.6,713.2 438.8,715.5 438.4,721.5 436.6,723.9 433.6,724.1 432.1,721.5ZM705.4,739.5 706.6,738.0 709.6,738.3 712.6,740.5 715.1,745.5 715.6,752.0 718.4,754.5 736.6,764.1 740.7,769.5 741.7,772.5 739.6,780.3 736.6,783.6 734.1,784.5 733.3,793.5 724.6,804.8 721.6,806.1 712.6,805.3 710.1,808.5 710.8,814.5 716.4,823.5 716.9,826.5 715.0,829.5 712.6,831.0 706.9,829.5 704.8,826.5 706.8,817.5 706.0,814.5 700.6,811.3 691.6,809.3 689.3,805.5 691.6,803.6 697.6,803.2 699.9,799.5 700.0,796.5 697.6,784.3 691.6,783.2 689.1,778.5 689.0,769.5 685.6,770.6 676.6,779.6 673.6,778.9 671.8,769.5 674.1,763.5 675.0,754.5 676.3,751.5 682.6,749.4 688.6,758.3 700.3,769.5 700.7,775.5 703.6,778.0 709.8,775.5 711.4,772.5 710.9,769.5 706.5,763.5 705.2,757.5 702.4,754.5 702.0,751.5 706.3,745.5ZM940.6,739.5 943.6,738.3 946.6,739.4 948.2,742.5 948.2,745.5 946.6,747.4 940.6,749.9 937.1,748.5 938.5,742.5ZM511.5,745.5 514.6,744.7 516.5,745.5 517.6,748.5 514.6,751.3 510.9,748.5ZM650.6,745.5 652.6,744.4 658.6,745.6 661.7,748.5 660.5,751.5 658.6,753.6 655.6,754.2 649.6,751.7 648.2,748.5ZM744.0,760.5 745.6,757.9 748.6,758.8 757.6,764.7 759.2,766.5 759.0,769.5 754.6,771.9 751.6,771.1 747.3,766.5ZM656.9,763.5 658.6,763.1 660.9,766.5 658.6,768.5 655.1,766.5ZM945.0,769.5 946.6,766.8 953.9,772.5 954.7,775.5 952.6,779.4 949.6,780.9 946.6,778.7ZM538.5,799.5 544.6,797.8 547.9,799.5 549.4,802.5 550.0,808.5 547.6,811.0 538.6,813.7 535.6,812.9 534.8,811.5 536.1,802.5ZM776.5,799.5 778.6,797.3 782.5,799.5 781.6,802.5 778.6,802.9ZM625.1,805.5 629.2,805.5 629.6,808.5 628.6,809.6 625.2,808.5ZM741.5,808.5 742.6,806.9 757.6,806.8 763.6,810.1 764.8,814.5 762.6,817.5 748.6,821.9 745.6,821.1 743.3,817.5ZM421.2,835.5 424.6,834.6 425.8,835.5 424.8,841.5 425.4,844.5 427.6,847.1 430.6,846.8 436.6,843.6 437.9,844.5 436.6,850.2 433.6,852.7 430.6,852.0 427.6,848.4 424.1,847.5 421.4,844.5ZM243.4,838.5 244.6,836.6 247.6,836.1 250.6,837.9 252.6,841.5 252.1,844.5 250.6,846.0 247.6,844.8ZM606.5,841.5 607.6,839.5 610.6,840.0 612.6,841.5 613.6,844.7 610.6,846.6ZM762.4,844.5 766.6,843.2 769.6,844.4 771.1,847.5 769.6,850.4 766.6,851.7 763.3,850.5 760.4,847.5ZM340.1,847.5 343.6,846.0 348.0,847.5 350.2,850.5 349.6,856.7 346.6,858.9 343.6,859.1 340.6,857.6 339.0,853.5ZM634.3,853.5 637.8,853.5 637.6,857.2 634.6,857.2ZM435.8,856.5 439.6,855.7 448.6,857.7 454.6,855.6 457.6,855.9 458.9,859.5 451.6,861.9 445.6,867.6 439.6,868.0 435.2,865.5 432.6,862.5 433.6,857.9ZM478.2,859.5 481.6,861.1 484.6,867.0 487.6,869.2 499.6,863.5 505.6,862.7 511.6,864.1 515.8,868.5 517.6,874.2 523.6,879.6 524.3,883.5 520.9,886.5 517.6,887.1 511.6,885.4 508.6,885.6 502.6,883.0 493.6,886.4 487.6,884.0 484.6,884.3 482.6,886.5 484.6,888.7 490.6,889.8 493.6,891.6 494.4,895.5 484.6,904.7 478.6,908.6 477.0,910.5 475.6,915.7 472.6,918.6 471.1,916.5 469.1,907.5 466.5,904.5 459.7,901.5 458.3,898.5 458.5,895.5 460.6,891.2 469.1,883.5 470.1,877.5 477.4,871.5 477.9,868.5 475.5,862.5ZM663.2,859.5 664.6,857.1 668.5,859.5 664.6,860.9ZM562.5,865.5 566.5,868.5 566.5,874.5 562.6,878.0 556.6,878.4 555.8,877.5 556.4,874.5 559.0,868.5ZM654.0,865.5 658.6,862.9 660.4,865.5 658.7,874.5 660.6,880.5 660.5,883.5 658.6,890.3 655.6,892.9 649.6,891.0 643.6,884.7 637.6,884.1 634.6,882.7 622.6,885.0 619.6,884.5 615.5,880.5 614.0,877.5 614.6,874.5 616.6,873.0 628.6,869.3 632.4,871.5 634.6,874.9 646.6,877.3 651.0,874.5 651.8,868.5ZM367.5,871.5 370.6,871.4 376.6,874.9 378.5,877.5 379.2,883.5 376.9,889.5 371.2,895.5 367.6,905.1 364.6,909.8 361.5,907.5 361.0,901.5 364.7,895.5 367.5,883.5ZM448.6,871.5 451.6,872.2 454.6,874.7 458.4,880.5 457.6,885.2 454.6,888.0 451.6,888.1 448.4,886.5 446.9,877.5 447.0,874.5ZM682.4,871.5 688.6,869.2 691.6,870.7 694.8,874.5 693.1,877.5 682.6,880.4 680.1,877.5 680.1,874.5ZM586.2,880.5 586.6,879.6 589.6,879.9 591.3,883.5 586.6,884.6 585.3,883.5ZM769.9,880.5 772.6,878.6 775.6,879.1 777.9,883.5 777.4,895.5 772.6,899.7 769.2,898.5 766.7,892.5ZM720.8,883.5 724.6,881.3 727.6,881.3 733.5,883.5 732.2,886.5 724.6,888.4 719.5,886.5ZM670.6,889.5 673.6,890.9 674.6,892.5 673.6,893.8 668.9,892.5ZM698.3,889.5 703.6,888.7 708.1,889.5 709.4,892.5 708.8,895.5 706.6,897.2 700.6,897.4 694.6,899.7 693.8,898.5 694.5,895.5ZM318.1,892.5 319.6,890.4 322.6,889.5 328.6,890.7 330.3,892.5 330.9,904.5 328.6,909.5 325.6,910.9 322.6,910.0 316.7,904.5 315.6,901.5ZM341.8,895.5 343.6,894.0 346.6,894.0 347.5,895.5 346.6,898.6ZM306.1,916.5 307.6,915.8 313.6,917.0 319.6,916.0 323.2,916.5 324.1,919.5 321.0,931.5 323.1,937.5 319.6,940.4 304.6,940.3 292.1,931.5 291.2,928.5 292.6,927.1 298.6,926.5 301.6,924.7ZM459.6,922.5 463.6,919.7 469.6,919.9 475.2,928.5 475.0,934.5 477.0,937.5 476.4,943.5 481.8,952.5 484.6,955.3 490.6,955.1 493.6,956.0 499.6,961.4 505.9,964.5 508.0,967.5 505.6,968.7 499.6,966.2 493.6,961.2 490.6,960.2 486.3,961.5 484.9,970.5 481.2,979.5 481.3,982.5 484.5,988.5 483.9,997.5 484.8,1006.5 481.4,1018.5 476.8,1027.5 476.8,1033.5 478.6,1035.6 484.6,1035.0 489.6,1036.5 492.0,1045.5 499.8,1051.5 508.6,1055.8 514.6,1061.8 520.6,1065.5 523.6,1065.2 526.6,1063.3 532.6,1064.4 537.6,1075.5 535.6,1077.1 532.6,1076.8 520.6,1072.6 518.6,1075.5 518.4,1078.5 521.2,1084.5 521.5,1087.5 520.6,1088.9 508.6,1085.8 496.6,1081.2 493.6,1081.6 487.6,1084.5 484.2,1087.5 483.4,1090.5 484.6,1095.5 487.6,1097.8 493.6,1096.2 496.6,1097.2 498.7,1105.5 502.6,1107.5 508.6,1105.4 514.6,1099.0 517.6,1098.7 520.6,1101.8 523.6,1102.1 529.6,1097.2 535.6,1096.5 536.7,1093.5 536.6,1087.5 539.8,1078.5 547.6,1077.4 553.4,1081.5 555.0,1084.5 555.9,1102.5 556.8,1105.5 561.2,1111.5 561.9,1114.5 559.6,1117.0 553.6,1116.9 546.3,1111.5 541.6,1103.4 538.6,1101.0 535.6,1101.5 534.8,1105.5 539.5,1114.5 538.6,1120.5 541.5,1135.5 538.6,1138.2 525.0,1129.5 524.9,1126.5 527.6,1120.5 526.9,1111.5 523.6,1106.2 520.6,1104.8 514.6,1110.0 508.6,1118.9 498.1,1126.5 497.1,1132.5 499.0,1138.5 497.7,1141.5 494.9,1141.5 490.6,1138.7 484.6,1150.5 481.6,1151.3 478.6,1150.4 475.4,1147.5 475.1,1141.5 477.5,1135.5 476.8,1132.5 472.6,1127.8 463.6,1127.3 456.9,1120.5 455.7,1117.5 460.8,1108.5 461.7,1102.5 460.9,1099.5 450.3,1087.5 448.6,1082.2 442.6,1079.0 434.5,1072.5 433.6,1070.2 436.6,1065.9 442.6,1063.2 443.6,1060.5 442.3,1051.5 443.1,1048.5 449.0,1039.5 449.4,1036.5 445.7,1033.5 439.6,1032.3 437.5,1030.5 436.6,1024.5 439.9,1015.5 437.5,1006.5 433.6,1005.0 421.6,1006.0 418.3,1003.5 414.1,997.5 414.8,994.5 418.2,991.5 428.8,988.5 428.4,985.5 423.2,979.5 422.5,976.5 427.6,969.6 433.7,964.5 432.7,961.5 425.2,958.5 428.2,955.5 433.6,954.5 438.2,955.5 439.6,956.9 442.6,955.1 454.6,941.5 460.6,941.9 463.0,940.5 458.3,931.5 458.0,928.5ZM469.6,955.3 469.1,958.5 470.3,961.5 472.6,965.4 475.6,967.2 477.5,964.5 477.1,958.5 472.6,953.5ZM490.6,1130.8 488.6,1132.5 490.6,1137.7 493.0,1132.5ZM445.6,995.1 442.6,997.5 441.2,1000.5 442.6,1002.6 445.6,1003.3 448.6,1002.0 449.5,997.5 448.6,995.4ZM448.6,965.0 445.9,967.5 445.6,970.5 448.6,974.8 451.6,976.0 454.9,967.5 451.6,964.9ZM460.6,1044.2 459.2,1045.5 458.5,1048.5 460.6,1051.2 463.6,1050.1 464.3,1048.5 463.6,1044.7ZM380.5,925.5 382.6,924.5 383.8,925.5 382.6,929.3 379.6,929.7ZM408.5,925.5 418.6,922.5 420.9,925.5 416.5,931.5 413.1,940.5 406.6,946.8 403.6,948.1 400.3,946.5 399.2,940.5 396.2,934.5 396.4,931.5ZM596.0,928.5 598.6,926.4 607.6,929.1 610.1,931.5 610.0,937.5 607.6,939.8 598.6,939.9 596.0,937.5 595.2,934.5ZM582.4,931.5 589.2,931.5 589.8,934.5 587.7,937.5 591.6,946.5 589.6,948.8 580.6,949.7 574.6,952.3 563.5,940.5 564.3,937.5 568.6,933.1 571.6,932.5 574.4,934.5 573.8,937.5 580.6,939.0 584.9,937.5 579.9,934.5ZM645.2,931.5 646.6,930.0 649.6,932.2 652.4,946.5 651.8,949.5 649.6,951.7 640.6,950.6 640.0,949.5 641.1,946.5 638.2,940.5 638.0,937.5ZM544.7,934.5 550.6,933.2 557.8,937.5 559.4,940.5 559.6,949.5 562.6,955.5 558.3,970.5 553.8,979.5 554.0,982.5 562.6,993.6 568.6,992.2 574.6,993.5 579.0,1003.5 578.6,1009.5 576.5,1015.5 568.6,1031.5 565.6,1030.8 559.6,1022.5 556.6,1021.7 550.6,1024.4 541.6,1023.3 538.6,1022.0 525.4,1003.5 526.4,1000.5 529.6,998.7 539.3,997.5 546.5,991.5 548.4,988.5 549.2,985.5 547.6,983.1 540.5,979.5 539.9,976.5 542.0,970.5 541.9,967.5 538.6,953.6 532.6,958.9 529.6,957.8 528.2,955.5 529.6,949.3 538.6,948.7 541.6,945.4 543.0,937.5ZM486.5,940.5 489.8,940.5 487.6,943.9 486.7,943.5ZM351.7,943.5 358.6,942.9 359.7,943.5 358.6,946.7 352.6,949.1 349.6,948.7 347.4,946.5ZM599.3,949.5 601.6,947.2 604.6,946.9 607.6,947.2 610.1,949.5 610.2,958.5 607.6,961.2 601.6,961.4 599.0,958.5ZM330.6,952.5 334.6,949.7 337.7,952.5 336.9,961.5 334.6,965.6 331.6,965.3 329.3,961.5 329.0,958.5ZM241.4,961.5 244.6,961.5 247.1,964.5 247.7,967.5 244.6,971.9 240.1,970.5 238.5,967.5ZM689.2,961.5 691.6,959.2 697.6,959.2 698.9,961.5 698.7,964.5 694.7,970.5 697.6,973.7 706.6,973.8 709.8,976.5 713.6,982.5 709.6,985.0 706.6,984.7 697.6,980.5 691.6,983.3 685.6,990.8 682.6,991.9 680.6,994.5 682.1,1003.5 681.5,1006.5 679.6,1009.2 673.6,1008.3 671.7,1009.5 673.0,1015.5 676.6,1021.5 676.6,1025.9 673.6,1027.1 669.3,1021.5 661.6,1014.5 658.6,1012.6 653.6,1012.5 652.6,1014.4 653.1,1018.5 659.3,1027.5 659.3,1033.5 658.6,1036.6 649.6,1033.5 646.7,1036.5 645.9,1045.5 646.6,1052.5 649.6,1052.4 661.6,1044.0 664.6,1043.5 673.6,1047.7 679.6,1049.1 682.6,1060.6 685.6,1061.7 689.7,1060.5 690.8,1057.5 688.0,1051.5 679.7,1045.5 680.6,1030.5 681.4,1027.5 691.6,1026.8 692.5,1024.5 692.3,1015.5 694.6,1010.3 697.6,1006.8 700.6,1006.8 712.6,1012.7 719.1,1024.5 718.6,1028.7 715.6,1031.9 706.6,1032.5 697.6,1030.8 694.9,1033.5 696.7,1039.5 696.4,1048.5 692.6,1057.5 692.4,1063.5 690.8,1066.5 685.6,1071.6 682.6,1072.8 679.6,1071.6 673.6,1064.1 661.6,1063.7 649.6,1055.8 646.6,1055.1 643.0,1057.5 634.6,1059.9 622.6,1070.0 610.9,1075.5 613.6,1077.2 619.6,1084.6 624.0,1087.5 623.2,1090.5 616.6,1088.3 607.6,1088.3 605.5,1084.5 605.5,1075.5 597.4,1072.5 592.6,1067.3 589.6,1066.2 586.6,1053.7 582.6,1048.5 583.6,1046.8 595.6,1049.6 598.1,1051.5 599.5,1057.5 601.6,1059.5 607.6,1060.6 613.6,1068.0 616.6,1067.5 619.7,1063.5 622.0,1057.5 621.9,1054.5 619.4,1051.5 617.0,1039.5 610.6,1035.6 607.0,1030.5 604.2,1021.5 605.3,1018.5 610.6,1013.8 613.6,1014.2 616.8,1018.5 622.6,1021.6 628.6,1027.0 631.6,1027.1 634.4,1024.5 634.7,1021.5 633.4,1015.5 634.2,1009.5 627.3,1006.5 630.6,1000.5 630.6,994.5 629.5,991.5 628.6,990.3 619.6,992.6 610.6,993.0 608.0,991.5 607.0,988.5 607.2,982.5 609.0,979.5 613.6,977.8 622.6,980.0 634.6,979.0 640.6,980.4 646.6,980.4 649.6,981.4 654.3,985.5 653.1,991.5 653.8,994.5 655.6,995.7 658.6,995.5 663.0,991.5 661.7,985.5 665.6,979.5 667.6,973.4 673.6,969.0 685.6,966.4 688.2,964.5ZM637.6,1000.2 634.5,1003.5 633.5,1006.5 634.6,1009.1 644.3,1006.5 645.3,1003.5 643.6,999.7 640.6,999.1ZM631.2,964.5 634.6,961.8 637.6,962.8 638.6,964.5 638.4,967.5 637.6,968.9 634.6,969.7 631.4,967.5ZM267.9,970.5 271.6,969.4 272.6,970.5 271.6,980.4ZM589.8,976.5 592.6,975.8 600.3,979.5 601.8,982.5 595.6,984.0 586.6,988.3 583.6,988.6 580.6,987.3 577.9,982.5 578.8,979.5ZM333.5,979.5 337.6,978.3 349.6,983.2 352.6,982.5 355.6,979.9 358.7,979.5 359.5,982.5 356.7,988.5 356.7,991.5 363.2,1000.5 362.4,1006.5 358.6,1011.1 355.6,1012.4 352.6,1011.3 345.0,1003.5 347.4,994.5 344.5,991.5 334.6,985.5 332.7,982.5ZM271.9,988.5 274.6,985.7 277.6,987.1 280.6,992.4 280.3,997.5 275.7,1000.5 273.7,1003.5 279.0,1015.5 277.6,1017.8 274.6,1017.8 265.6,1013.0 260.6,1018.5 255.2,1018.5 253.3,1015.5 253.9,1012.5 256.6,1010.0 262.6,1011.8 263.9,1009.5 262.6,1005.5 256.6,1004.3 255.9,1000.5 256.7,997.5 262.6,994.7 268.6,994.6ZM335.1,1018.5 337.6,1015.5 340.6,1016.2 352.2,1024.5 353.3,1033.5 358.6,1040.4 361.6,1040.2 364.6,1037.5 367.6,1036.4 370.6,1037.5 377.2,1042.5 378.7,1045.5 376.6,1049.5 367.6,1050.6 364.6,1052.8 361.9,1057.5 361.9,1069.5 363.4,1072.5 366.7,1075.5 373.6,1077.9 376.6,1077.9 378.1,1075.5 378.5,1069.5 380.6,1066.5 385.6,1064.3 400.6,1062.0 409.5,1069.5 410.6,1072.5 410.7,1078.5 404.9,1081.5 404.2,1084.5 406.9,1087.5 415.6,1092.5 418.6,1092.8 424.6,1086.9 427.6,1085.8 430.7,1087.5 430.6,1091.4 427.6,1095.0 421.6,1095.8 414.6,1099.5 413.4,1102.5 415.4,1111.5 414.3,1114.5 409.6,1119.7 403.6,1116.1 399.2,1111.5 397.6,1105.7 391.6,1108.1 388.6,1111.0 387.3,1114.5 387.9,1120.5 391.6,1124.4 396.8,1126.5 394.9,1129.5 385.6,1131.2 379.6,1127.4 373.6,1127.7 370.6,1124.3 368.7,1114.5 373.6,1111.5 383.3,1102.5 387.3,1093.5 387.2,1090.5 382.6,1085.7 379.6,1085.1 370.6,1088.9 363.6,1090.5 362.6,1099.5 366.7,1111.5 352.6,1115.0 349.6,1113.7 343.7,1108.5 343.6,1104.9 349.7,1102.5 352.0,1099.5 351.9,1096.5 343.6,1090.4 337.6,1091.0 335.3,1087.5 340.6,1081.6 348.4,1069.5 347.1,1060.5 350.0,1057.5 350.0,1051.5 342.2,1045.5 341.6,1042.5 349.1,1030.5 346.6,1026.8 340.6,1026.2 336.9,1024.5 335.2,1021.5ZM234.8,1021.5 238.6,1020.9 243.2,1024.5 245.0,1027.5 243.9,1030.5 241.6,1032.5 238.6,1033.0 233.8,1030.5 232.4,1027.5 232.8,1024.5ZM493.3,1030.5 493.6,1029.5 496.6,1029.4 497.0,1030.5 493.6,1034.1ZM544.3,1033.5 547.6,1032.0 549.5,1036.5 547.7,1045.5 544.6,1047.8 540.7,1045.5 540.6,1042.5ZM318.1,1048.5 319.6,1047.0 322.6,1047.8 325.6,1055.7 328.6,1056.6 334.6,1053.4 339.4,1057.5 340.0,1060.5 333.9,1063.5 331.6,1071.8 328.6,1072.3 322.6,1067.6 319.6,1067.4 313.1,1069.5 308.2,1072.5 305.9,1078.5 306.3,1081.5 309.3,1087.5 307.2,1108.5 301.6,1109.6 295.6,1112.5 292.6,1113.1 289.6,1112.0 287.0,1105.5 277.6,1104.3 274.9,1102.5 275.9,1090.5 277.6,1088.4 285.0,1084.5 289.8,1078.5 295.6,1067.2 302.8,1060.5 310.6,1057.1ZM223.6,1051.5 223.6,1050.0 232.6,1050.7 238.3,1054.5 244.6,1056.3 248.2,1060.5 248.7,1063.5 247.6,1066.3 241.6,1068.4 232.6,1062.7 223.6,1062.5ZM266.9,1054.5 271.6,1055.3 274.5,1057.5 273.5,1060.5 268.6,1064.0 262.6,1066.1 261.9,1063.5 263.2,1057.5 265.6,1054.6ZM780.5,1081.5 781.6,1080.1 784.1,1081.5 781.6,1084.8ZM223.6,1084.5 223.6,1083.1 229.6,1083.1 235.6,1088.5 241.6,1091.2 247.6,1087.0 250.6,1086.4 253.6,1087.5 256.1,1090.5 253.1,1102.5 250.6,1104.9 241.6,1108.3 238.6,1106.5 235.6,1098.3 229.8,1090.5 223.6,1090.4ZM576.2,1090.5 577.6,1088.2 580.6,1087.5 583.6,1094.6 589.6,1099.6 600.8,1105.5 606.0,1111.5 603.5,1120.5 603.8,1123.5 608.3,1132.5 608.4,1135.5 607.6,1137.1 598.6,1142.3 595.6,1143.2 592.6,1142.5 586.6,1139.3 577.6,1137.0 568.6,1141.8 565.6,1141.2 559.7,1135.5 559.9,1129.5 562.6,1122.0 571.7,1114.5 574.2,1102.5 573.3,1096.5ZM580.6,1111.3 576.2,1120.5 576.9,1123.5 580.6,1124.9 580.9,1117.5 582.6,1111.5ZM443.1,1105.5 445.6,1104.8 448.6,1106.8 449.7,1111.5 442.4,1111.5 440.6,1108.5ZM702.1,1108.5 706.6,1106.2 709.6,1106.7 713.3,1108.5 713.7,1111.5 709.6,1116.4 706.6,1116.1 702.0,1111.5ZM330.7,1117.5 331.6,1115.3 334.6,1115.7 335.5,1117.5 336.0,1120.5 334.8,1126.5 337.6,1127.5 340.9,1135.5 337.9,1138.5 334.3,1138.5 331.7,1135.5 334.5,1126.5 333.6,1123.5 331.6,1122.5ZM616.8,1117.5 619.6,1115.2 622.6,1115.1 631.6,1124.4 637.6,1121.0 642.6,1120.5 646.6,1118.4 649.6,1118.7 655.6,1121.0 658.6,1120.7 662.1,1123.5 662.6,1126.5 643.6,1140.7 637.6,1135.1 628.6,1131.3 618.6,1123.5 616.6,1120.5ZM681.6,1117.5 685.6,1115.7 688.6,1115.7 691.8,1117.5 694.3,1120.5 693.2,1129.5 699.4,1135.5 700.8,1138.5 700.4,1141.5 697.6,1144.2 691.6,1146.7 676.6,1148.9 670.6,1146.9 664.6,1147.2 662.2,1144.5 662.1,1135.5 667.6,1123.5ZM363.9,1135.5 367.6,1133.7 370.6,1134.2 373.6,1136.5 375.2,1138.5 376.8,1147.5 379.5,1153.5 382.6,1156.2 387.3,1153.5 391.6,1146.5 397.6,1145.5 406.6,1147.2 409.5,1144.5 409.6,1141.5 412.6,1139.7 416.8,1141.5 420.2,1144.5 418.6,1148.6 418.4,1156.5 420.6,1165.5 415.8,1171.5 415.2,1174.5 419.0,1180.5 415.5,1195.5 409.6,1202.8 400.6,1204.0 388.6,1212.9 382.6,1206.2 370.6,1198.2 364.6,1195.6 356.6,1186.5 360.6,1180.5 360.8,1177.5 359.5,1174.5 356.4,1171.5 355.4,1162.5 348.0,1153.5 347.3,1150.5 355.6,1146.2ZM223.6,1144.5 229.6,1144.1 232.6,1145.6 235.3,1150.5 233.8,1153.5 229.6,1154.8 223.6,1154.8ZM441.4,1144.5 445.6,1143.0 448.6,1143.5 449.4,1144.5 446.9,1150.5 468.8,1165.5 470.0,1168.5 468.4,1171.5 466.6,1172.8 463.6,1172.3 461.8,1174.5 469.6,1174.4 483.2,1180.5 484.2,1183.5 482.5,1186.5 478.5,1189.5 479.1,1192.5 484.6,1195.9 490.6,1196.0 493.6,1198.5 495.1,1204.5 493.6,1207.1 484.6,1207.7 478.6,1212.8 469.6,1214.5 463.6,1217.8 454.6,1216.7 445.6,1221.2 443.4,1219.5 443.9,1204.5 445.6,1203.5 447.2,1204.5 450.8,1210.5 457.6,1215.4 461.4,1210.5 462.9,1201.5 465.2,1195.5 460.6,1193.2 457.5,1189.5 457.6,1177.5 459.7,1174.5 459.2,1171.5 445.6,1171.1 442.0,1168.5 440.6,1165.5 441.1,1162.5 445.3,1153.5 439.1,1147.5ZM250.5,1147.5 253.6,1148.4 257.6,1153.5 254.5,1159.5 250.6,1161.7 246.7,1159.5 246.2,1156.5 247.2,1150.5ZM677.5,1159.5 679.6,1158.0 682.6,1157.9 684.6,1159.5 684.0,1162.5 679.6,1165.5 676.6,1164.3 675.9,1162.5ZM223.6,1162.5 223.6,1161.7 231.8,1162.5 231.7,1165.5 223.6,1166.2ZM569.6,1165.5 574.6,1164.6 576.8,1165.5 578.4,1168.5 574.8,1177.5 586.6,1183.5 597.6,1195.5 600.1,1207.5 599.6,1210.5 595.6,1214.3 586.6,1213.4 577.6,1218.8 574.6,1217.5 571.4,1210.5 574.6,1198.4 568.6,1197.3 556.6,1203.9 553.6,1204.1 550.6,1200.6 548.3,1195.5 548.8,1192.5 553.6,1187.8 561.6,1183.5 565.8,1174.5 567.1,1168.5ZM657.1,1165.5 658.6,1163.5 659.8,1165.5 660.2,1168.5 658.6,1170.8 656.9,1168.5ZM681.4,1183.5 684.6,1183.5 684.1,1192.5 683.4,1195.5 677.5,1204.5 675.9,1213.5 676.2,1219.5 672.0,1225.5 672.0,1231.5 662.2,1231.5 662.2,1225.5 660.6,1219.5 658.6,1216.9 654.5,1216.5 652.6,1213.5 655.6,1209.9 661.6,1213.1 664.6,1211.7 670.0,1207.5 671.5,1204.5 658.6,1200.3 657.1,1198.5 657.2,1195.5 661.6,1190.5 673.6,1185.4ZM435.7,1186.5 439.6,1186.0 441.5,1189.5 441.0,1192.5 439.6,1194.0 436.6,1193.2 434.1,1189.5ZM242.7,1192.5 247.6,1191.3 256.6,1194.0 265.6,1193.8 268.6,1195.1 273.3,1198.5 279.7,1207.5 279.5,1210.5 274.6,1211.4 271.6,1207.2 268.6,1206.2 256.6,1207.5 249.2,1213.5 244.6,1215.1 241.1,1213.5 235.6,1205.8 229.6,1207.9 223.6,1207.9 223.6,1203.1 232.6,1202.1 238.3,1195.5ZM300.5,1198.5 305.7,1198.5 306.9,1201.5 305.5,1204.5 301.6,1209.9 292.5,1216.5 291.2,1213.5 291.7,1210.5 290.1,1201.5ZM541.6,1210.5 550.6,1209.3 553.9,1213.5 553.5,1219.5 550.6,1222.3 547.6,1222.4 541.6,1222.3 537.4,1219.5 536.8,1216.5 537.8,1213.5Z"/>
<path fill="#77cabc" fill-rule="evenodd" d="M933.6,418.5 946.6,416.4 949.6,417.0 970.6,426.5 979.1,433.5 977.5,436.5 967.6,442.9 955.6,445.5 946.6,440.4 934.6,428.0 932.1,421.5ZM1323.3,430.5 1324.6,429.5 1333.6,434.4 1336.6,438.9 1336.6,442.8 1334.6,445.5 1327.6,450.5 1313.8,454.5 1312.6,453.9 1312.6,451.2ZM684.5,505.5 685.6,504.8 692.6,508.5 692.8,517.5 688.6,521.1 681.0,514.5 680.4,511.5ZM641.1,526.5 646.6,526.6 649.6,528.8 652.8,535.5 655.6,538.2 661.6,541.1 667.1,550.5 669.5,559.5 667.6,562.2 661.6,563.2 656.0,568.5 654.1,571.5 653.3,577.5 651.4,580.5 643.6,581.9 633.7,577.5 630.2,568.5 631.1,556.5 636.7,547.5 637.8,532.5ZM717.3,556.5 721.6,555.0 731.8,565.5 731.9,568.5 729.9,571.5 729.3,577.5 727.6,579.3 722.5,580.5 718.6,583.2 716.4,580.5 713.8,571.5 714.0,565.5ZM685.4,592.5 697.6,593.3 700.2,595.5 700.8,601.5 695.0,607.5 691.6,614.2 685.6,618.5 682.6,622.2 677.8,631.5 678.3,652.5 683.2,658.5 684.3,661.5 676.6,671.5 667.6,674.6 664.6,672.1 662.0,667.5 660.5,661.5 657.6,655.5 658.6,649.7 662.9,640.5 662.7,637.5 656.0,628.5 656.9,622.5 650.4,604.5 652.6,601.4 682.6,600.4ZM732.6,610.5 736.6,609.4 748.6,610.4 754.2,616.5 754.2,619.5 749.5,628.5 742.6,636.3 739.6,641.3 730.6,646.2 724.6,647.9 714.0,640.5 712.5,634.5 714.7,631.5 723.2,625.5 729.9,613.5ZM741.9,715.5 742.6,715.1 752.1,721.5 750.0,727.5 747.2,730.5 742.6,732.2 736.6,737.0 727.6,739.2 724.6,737.3 722.4,733.5 728.7,730.5 733.6,721.7ZM597.8,931.5 598.6,929.7 607.6,931.4 608.4,934.5 607.7,937.5 604.6,938.3 598.6,937.6ZM571.9,943.5 574.6,942.4 586.6,941.3 588.3,946.5 574.6,948.9ZM601.6,949.5 604.6,948.7 607.6,949.5 608.5,955.5 607.6,958.6 604.6,959.4 601.5,958.5 600.8,952.5ZM405.1,1096.5 406.6,1094.7 408.0,1096.5 408.5,1099.5 413.1,1108.5 413.1,1111.5 409.6,1114.6 403.0,1111.5 402.6,1102.5 404.7,1099.5ZM1197.9,1102.5 1204.6,1100.1 1206.7,1102.5 1200.0,1108.5 1199.1,1111.5 1196.1,1114.5 1195.6,1117.8 1193.4,1105.5ZM1321.9,1120.5 1324.6,1119.5 1330.6,1120.2 1340.1,1126.5 1357.6,1142.8 1363.6,1145.7 1372.6,1146.3 1372.6,1187.1 1366.6,1187.1 1356.1,1177.5 1339.6,1166.2 1336.2,1159.5 1334.9,1147.5 1331.9,1141.5 1321.3,1129.5 1320.6,1123.5ZM638.9,1126.5 640.6,1124.9 646.6,1123.6 658.6,1125.4 658.8,1126.5 655.6,1127.7 646.6,1136.3 643.6,1137.6 639.6,1132.5ZM1186.4,1141.5 1189.6,1140.6 1192.6,1141.3 1193.9,1144.5 1199.4,1150.5 1201.2,1153.5 1198.6,1159.5 1201.6,1161.5 1207.6,1161.6 1213.6,1161.0 1222.6,1157.9 1231.6,1153.2 1255.6,1145.6 1264.6,1140.9 1270.6,1140.2 1276.6,1140.9 1288.6,1147.0 1295.9,1153.5 1301.2,1156.5 1310.8,1165.5 1316.2,1168.5 1321.6,1173.8 1325.8,1180.5 1330.6,1184.5 1339.6,1185.8 1351.6,1192.1 1354.5,1198.5 1353.1,1201.5 1345.6,1208.5 1336.6,1209.3 1330.6,1211.6 1318.6,1212.9 1311.3,1222.5 1306.6,1224.3 1180.6,1222.8 1177.3,1219.5 1176.7,1213.5 1174.3,1207.5 1174.6,1203.3 1178.2,1192.5 1186.6,1175.2 1198.2,1162.5 1198.6,1159.5 1192.5,1156.5 1186.2,1144.5ZM366.0,1144.5 367.6,1142.2 370.6,1144.6 376.6,1157.9 377.5,1162.5 383.9,1168.5 387.7,1183.5 395.1,1198.5 394.6,1201.6 391.6,1202.6 388.1,1201.5 376.2,1183.5 373.6,1177.4 372.1,1168.5 367.7,1162.5 365.0,1153.5ZM459.7,1180.5 460.6,1178.2 469.6,1179.3 471.1,1180.5 470.9,1189.5 469.6,1192.9 460.2,1189.5ZM1093.1,1195.5 1099.6,1195.4 1117.6,1204.1 1135.6,1210.0 1147.8,1210.5 1163.1,1216.5 1166.1,1219.5 1165.6,1221.5 1162.6,1222.7 1123.6,1222.3 1119.0,1219.5 1115.5,1213.5 1111.6,1209.5 1093.4,1201.5 1090.8,1198.5ZM541.2,1213.5 544.6,1212.4 550.6,1213.1 551.6,1216.5 550.9,1219.5 547.6,1220.5 541.6,1219.8 540.4,1216.5Z"/>
<path fill="#2ea3c2" fill-rule="evenodd" d="M659.7,604.5 673.6,604.0 683.6,607.5 682.9,613.5 676.6,623.1 673.6,624.7 670.6,624.0 667.6,622.8 664.6,619.9 658.5,607.5Z"/>
<path d="M329.2,292.5V1223.4M485.1,292.5V1223.4M640.9,292.5V1223.4M796.8,292.5V1223.4M952.6,292.5V1223.4M1108.5,292.5V1223.4M1264.3,292.5V1223.4M229.6,366.9H1366.5M229.6,496.8H1366.5M229.6,626.6H1366.5M229.6,756.5H1366.5M229.6,886.4H1366.5M229.6,1016.2H1366.5M229.6,1146.1H1366.5" stroke="#808080" stroke-opacity="0.15" stroke-width="1.5" fill="none"/>
<path d="M543.5,292.0 544.0,296.2 543.6,300.7 544.8,305.3 543.6,307.9 543.1,311.7 539.2,315.8 535.1,317.5 531.4,318.9 527.3,320.4 523.3,320.7 518.9,317.1 515.1,316.7 508.5,316.4 504.3,317.0 499.4,316.8 496.3,317.6 494.1,321.2 494.1,325.9 494.8,332.2 490.2,336.0 487.8,339.1 485.8,342.2 486.5,347.0 490.2,351.8 493.7,351.4 498.5,352.9 502.3,353.4 508.1,354.6 510.9,355.0 515.2,356.1 520.2,358.1 523.0,360.0 527.2,363.0 529.9,363.3 532.6,367.5 535.9,369.5 538.9,372.1 539.7,376.7 542.0,380.9 544.2,382.9 546.4,386.0 548.7,390.1 552.7,393.3 555.6,395.5 559.6,396.9 562.5,397.3 566.0,404.5 570.0,406.2 573.4,409.4 575.9,413.8 576.7,416.3 578.5,420.2 579.0,425.0 579.9,428.6 582.8,432.1 585.0,435.8 587.0,438.8 588.5,443.9 588.9,448.2 590.2,452.1 591.5,454.0 593.6,457.6 595.2,461.2 597.7,463.5 599.7,468.1 602.5,472.4 604.2,475.0 609.8,477.1 610.8,476.5 616.0,475.0 619.6,474.6 623.0,475.3 625.1,477.4 628.3,480.2 630.3,483.2 630.3,486.6 629.9,489.6 628.9,494.1 627.7,497.4 629.0,503.3 629.4,507.4 632.8,511.7 634.0,514.5 637.7,519.6 640.7,522.1 644.6,524.0 649.1,524.6 652.8,525.8 656.2,525.4 661.0,525.2 665.4,525.7 668.9,526.1 673.1,526.5 677.9,525.2 680.9,524.7 686.3,525.8 689.2,528.3 691.7,529.3 695.8,532.8 698.6,534.1 701.2,537.0 705.9,538.7 709.1,540.7 712.4,544.6 716.6,547.8 720.3,549.6 724.9,552.4 729.3,554.5 732.9,559.0 737.2,558.7 740.6,562.6 744.4,565.2 748.9,566.3 751.8,567.2 755.5,567.5 760.4,569.1 762.8,567.3 766.3,567.1 769.0,567.1 775.1,568.3 778.2,569.3 782.1,570.9 785.0,573.3 789.2,571.9 794.1,573.1 799.5,573.2 804.2,574.8 807.7,575.1 812.2,577.7 816.6,578.1 820.3,579.4 824.6,579.5 827.2,576.7 829.5,572.6 834.5,569.3 834.8,563.9 836.5,561.5 840.2,554.9 842.0,554.5 846.4,551.9 849.8,550.1 852.3,548.7 857.2,546.4 861.2,545.7 864.9,542.7 869.8,542.2 872.6,540.5 876.3,538.9 880.2,536.8 885.3,534.7 888.1,531.4 891.7,535.1 895.0,538.4 897.3,541.6 899.4,544.4 902.9,547.3 906.0,550.2 908.3,550.8 912.0,551.6 916.7,550.9 919.9,551.1 924.6,550.7 928.4,550.2 932.1,549.7 935.8,548.5 939.0,548.9 942.9,549.2 945.9,550.1M609.0,497.2 613.7,497.0 617.8,499.6 618.0,502.6 618.8,506.4 619.4,510.0 622.0,513.5 625.3,516.2 628.7,513.7 631.8,516.5 636.0,519.9 640.1,522.1M229.0,528.3 233.2,527.6 238.9,530.3 241.3,530.8 245.7,533.2 248.8,530.9 251.6,526.9 255.3,524.6 259.0,521.5 262.2,519.6 266.9,520.7 270.6,522.3 273.9,522.8 279.9,522.2 281.3,524.5 286.4,528.2 289.7,529.8 292.6,526.8 295.2,522.6 297.6,517.2 301.7,514.8 306.3,513.3 311.6,516.0 315.5,517.6 317.1,519.6 318.8,521.6 318.6,526.9 320.6,529.4 324.7,531.7 326.3,534.1 329.3,537.2 331.5,540.4 334.7,542.9 336.0,544.6 341.5,549.0 345.9,551.1 348.6,552.5 353.3,552.6 356.0,556.3 357.5,559.9 356.8,564.7 358.0,568.7 361.4,568.0 366.4,566.8 371.2,569.3 374.1,573.9M374.1,573.9 375.9,569.4 378.0,565.5 380.8,563.0 385.9,562.6 390.8,559.2 394.2,559.1 397.3,560.1 401.3,561.4 405.6,564.0 409.4,566.5 412.6,564.1 415.6,562.3 420.1,559.5 421.7,558.9 424.9,559.9 428.5,563.9 430.6,567.8 431.6,571.4 436.5,571.7 440.6,573.3 442.3,568.2 445.0,566.7 449.1,564.9 453.0,563.2 456.4,561.2 461.3,561.5 465.5,560.2 470.1,558.7 474.0,559.7 476.9,557.7 480.4,556.1 482.9,554.4 487.6,556.9 489.3,558.6 494.5,560.5 498.9,561.0 502.4,561.5 507.1,562.1 509.7,560.6 514.1,560.1 516.2,557.5 519.4,552.9 521.7,549.9 526.4,546.1 529.0,543.0 532.9,540.0 535.1,535.7 538.7,534.3 541.5,531.3 543.3,529.0 546.1,526.7 548.3,523.9 551.3,521.6 554.4,520.2 558.2,517.0 559.6,513.6 564.1,511.8 567.4,510.0 573.6,506.5 576.8,504.8 581.5,503.8 586.6,501.8 589.9,500.5 594.4,499.6 597.8,497.5 600.0,496.8 606.0,497.0 608.8,496.0 613.3,493.0 616.8,491.3 622.2,491.3 624.5,492.1 628.7,494.1M374.1,573.9 376.5,578.5 375.3,582.2 374.2,586.3 371.2,590.7 370.5,595.4 368.8,599.1 367.1,603.2 371.0,602.6 371.7,604.7 370.6,609.5 370.2,614.4 369.4,617.8 367.0,622.8 367.3,625.7 368.7,629.2 371.6,631.1 376.3,632.6 380.8,633.5 384.3,636.1 389.0,638.7 393.2,640.6 395.4,644.2 394.7,647.3 393.7,650.6 389.5,654.8 386.0,657.8 383.9,661.0 380.2,663.9 377.6,665.7 375.2,668.4 372.6,670.5 369.2,673.3 366.1,676.3 363.7,677.4 362.8,680.7 358.4,685.0 356.3,688.0 353.4,690.5 350.4,692.2 347.1,695.0 344.4,697.3 340.4,697.9 338.5,701.3 336.0,704.8 333.4,707.1 330.3,709.2 328.2,712.0 326.0,715.6 325.3,718.5 324.3,722.2 324.6,726.7 324.1,731.0 323.0,735.0 321.1,739.1 320.0,741.9 318.5,745.0 315.7,749.6 314.1,752.8 313.6,755.4 313.8,759.7 312.5,764.9 313.1,767.9 311.7,772.3 311.6,776.0 310.0,781.3 309.5,785.3 309.1,788.0 307.9,791.9 308.0,797.9 307.2,801.7 307.6,805.1 306.2,809.2 305.2,813.3 305.7,817.3 306.5,820.2 306.9,823.9 306.7,828.0M537.9,536.6 538.3,540.4 539.6,543.8 539.7,546.6 543.2,552.3 546.3,554.6 548.8,559.4 552.5,560.6 555.9,563.7 558.3,567.5 558.4,572.8 558.6,577.8 559.9,582.6 560.3,586.2 562.2,590.4 563.6,594.8 565.8,598.8 566.3,601.7 566.3,601.3 569.0,603.2 572.4,606.8 573.6,609.5 576.7,612.4 579.8,615.3 581.7,620.4 584.0,624.2 585.2,628.1 585.5,632.2 587.4,637.6 588.7,641.0 588.6,644.9 588.5,648.4 590.2,652.1 589.8,655.9 590.0,659.6 589.3,663.5 588.8,666.4 588.1,669.7 585.4,673.4 584.6,677.6 581.2,680.8 579.6,684.3 576.2,688.6 573.5,691.2 571.5,694.2 569.0,698.1 565.9,700.2 562.7,704.1 560.5,707.9 558.1,709.8 555.3,712.2 553.1,714.7 550.5,718.6 548.5,719.3 547.3,723.8 544.5,727.7 543.7,730.6 541.7,734.1 540.1,738.3 537.4,741.0 536.2,743.1 533.2,746.8 531.1,749.7 531.3,753.8 531.5,757.0 532.9,760.6 533.8,764.3 534.0,768.9 534.1,771.9 533.9,775.4 533.0,780.6 533.2,785.3 532.7,787.8 533.7,793.2 532.1,797.4 532.7,799.7 532.5,804.4 532.7,808.7M306.7,828.0 309.3,826.9 315.3,826.7 318.5,826.7 321.5,829.5 324.5,831.5 327.0,831.6 330.8,830.1 335.4,827.9 338.3,824.7 341.4,820.1 345.1,817.8 347.2,813.7 351.5,811.9 355.8,811.4 359.9,810.2 364.2,809.2 368.8,808.6 372.0,808.7M372.0,808.7 532.7,808.7 609.0,848.7 723.0,911.9 734.4,948.3 808.0,999.1M720.9,912.0 724.2,913.6 726.9,916.0 729.0,920.4 729.8,925.2 727.9,927.8 725.6,932.3 723.7,935.1 725.7,938.6 728.3,940.5 731.5,943.2 734.4,948.3M306.7,828.0 302.9,830.4 301.5,831.7 298.2,834.2 295.1,835.8 291.0,840.3 289.3,844.3 287.5,846.8 285.2,851.4 284.4,855.7 283.7,859.2 282.7,864.7 283.2,867.5 282.3,871.0 279.8,873.2 276.4,875.2 271.8,877.3 269.7,880.1 268.8,885.1 269.5,890.0 271.2,894.2 273.8,896.6 276.1,900.4 278.5,904.6 280.6,906.3 283.3,910.2 284.8,911.4 284.5,911.8 288.2,912.4 290.1,917.9 290.3,924.0 288.7,932.6 288.8,939.3 287.7,947.3 288.1,953.8 289.3,959.4 290.4,961.9 292.7,966.0 295.0,969.2 296.2,975.0 298.1,978.4 298.8,982.7 297.2,989.8 296.1,992.0 296.0,996.6 294.7,1001.8 295.1,1005.8 294.7,1009.0 293.6,1013.7 294.1,1017.3 295.3,1019.9 296.2,1023.5 297.2,1027.4 299.1,1029.9 299.9,1033.3 301.6,1037.4 303.7,1039.5 305.8,1043.0 307.4,1046.9 307.8,1051.3 308.8,1056.5 307.7,1058.9 303.7,1063.8 302.1,1066.6 302.4,1070.0 302.1,1074.0 302.7,1078.5 304.4,1082.2 306.3,1086.1 307.4,1089.7 311.0,1095.6 314.0,1097.5 316.8,1101.4 320.8,1103.9 324.9,1107.4 326.0,1109.3 329.0,1111.7 332.7,1115.1 334.9,1116.5 336.6,1119.6 338.6,1122.2 341.6,1125.6 343.0,1128.4 345.8,1131.9 345.7,1135.3 348.3,1138.7 349.6,1142.1 351.7,1147.1 352.1,1150.5 354.0,1153.9 353.9,1156.4 358.0,1160.8 358.4,1165.2 360.4,1169.3 362.3,1172.6 363.8,1176.3 367.2,1179.6 368.9,1184.0 370.8,1188.6 371.5,1192.5 374.0,1196.8 378.1,1200.4 381.3,1201.3 385.1,1201.1 390.0,1202.2 393.1,1202.8 396.7,1203.4 400.5,1204.5 403.8,1206.8 407.1,1209.8 408.9,1213.1 413.2,1216.4 416.1,1217.8 421.8,1221.9M351.3,812.4 352.8,815.7 355.0,818.8 358.0,822.2 361.2,824.1 364.3,826.4 367.7,830.0 368.9,832.6 370.8,835.9 371.3,841.0 371.5,843.9 371.9,848.6 372.1,851.0 371.8,856.3 372.6,859.4 372.6,861.9 373.7,866.1 374.2,870.3 374.0,874.8 372.4,878.6 366.8,879.3 362.1,880.1 355.5,881.9M277.7,894.3 283.2,892.9 287.2,891.8 291.5,892.2 293.2,895.8 296.2,901.5 299.0,902.2 302.8,902.9 308.3,902.6 312.4,902.7 315.6,900.7 320.2,899.0 321.5,895.6 324.1,891.6 324.2,888.6 325.4,884.0 324.5,880.4 325.8,877.6 328.9,879.6 332.5,881.4 336.9,881.4 341.6,879.1 344.9,877.9 348.3,877.8 352.8,879.0 355.5,881.9M355.5,881.9 355.2,885.8 355.0,888.3 353.0,891.5 351.8,897.1 351.3,900.8 352.9,905.1 357.0,909.8 364.2,912.5 369.9,912.3 372.3,915.4 371.8,920.2 369.8,922.6 366.9,925.1 364.2,927.7 361.6,931.1 358.1,933.8 355.6,937.7 353.5,940.7 351.5,946.1 350.3,948.8 348.7,953.4 346.5,957.4 343.6,959.8 341.2,964.9 338.7,968.2 336.9,970.7 334.4,974.6 331.7,976.8 329.1,979.6 324.9,980.8 321.5,982.3 317.3,984.1 314.2,988.6 310.1,987.5 306.8,988.4 302.6,988.7 298.4,988.3M377.2,1180.9 272.5,1197.1M272.5,1197.1 272.5,1199.9 273.4,1207.1 272.5,1210.9 271.4,1214.8 270.9,1218.3 267.4,1221.9M945.9,550.1 936.6,567.7 924.1,586.4 909.6,601.9 900.3,610.3 900.3,801.0 929.3,840.4M945.9,550.1 949.1,548.0 952.2,544.4 954.2,541.6 955.8,539.0 959.4,537.2 962.8,537.2 966.8,536.8 970.4,536.6 972.8,537.2 976.9,536.3 981.8,535.8 985.8,535.0 989.5,533.8 994.2,532.5 997.9,531.2 999.4,529.5 999.5,525.1 1002.8,522.6 1005.7,518.9 1010.0,514.9 1013.5,512.9 1018.5,510.8 1023.3,509.3 1028.6,506.1 1032.5,504.9 1036.1,502.0 1039.4,502.1 1043.4,500.5 1047.5,499.3 1052.4,499.3 1055.5,500.2 1059.9,498.8 1065.5,498.8 1070.6,500.0 1076.2,499.9 1082.0,501.2 1087.9,499.3 1093.5,501.2 1098.6,500.5 1104.1,501.4M1104.1,501.4 1264.7,340.7 1295.8,292.0M1076.1,292.0 1138.3,313.8 1212.9,340.7 1264.7,340.7M1366.7,340.7 1365.5,343.8 1364.3,346.7 1362.8,350.6 1361.5,354.4 1359.0,358.7 1358.0,362.2 1357.0,367.1 1353.7,369.1 1352.7,372.8 1350.3,376.3 1348.7,378.6 1346.7,382.1 1344.0,385.1 1341.8,389.0 1341.2,391.8 1339.5,395.0 1337.6,399.7 1336.1,403.5 1334.9,408.3 1334.6,412.7 1332.6,417.0 1332.2,420.9 1331.0,425.5 1330.3,429.6 1328.1,431.5 1326.2,437.1 1324.2,440.4 1323.2,443.7 1320.3,446.6 1318.8,451.1 1316.9,454.0 1314.3,456.1 1313.0,460.1 1309.4,462.3 1308.8,466.1 1305.8,469.5 1304.4,471.8 1300.9,473.3 1298.9,477.8 1296.3,479.0 1293.9,482.1 1289.4,485.5 1286.6,488.2 1285.5,491.0M1369.0,336.6 1366.3,339.0 1361.3,344.7 1361.0,347.2 1359.6,352.6 1358.9,356.4 1357.0,359.9 1354.0,365.0 1351.3,367.9 1349.4,371.3 1346.9,375.3 1344.2,379.5 1341.7,382.5 1338.8,387.6 1337.1,390.4 1335.4,394.5 1332.9,397.6 1332.0,402.2 1328.4,406.8 1327.8,411.7 1325.5,417.0 1323.8,421.5 1322.9,425.5 1321.1,428.9 1320.7,431.0 1318.6,434.8 1317.3,439.1 1315.2,443.3 1313.0,447.7 1310.0,452.4 1307.9,457.9 1305.7,463.0 1301.0,468.3 1296.2,473.4 1292.5,478.1 1290.6,483.6 1287.5,486.5 1285.2,488.5 1282.5,491.6 1281.1,493.7 1279.2,497.2 1277.1,500.6 1274.7,504.6 1272.9,510.3 1269.2,514.1 1266.7,518.0 1263.7,522.2 1260.7,524.4 1256.8,528.2 1252.4,532.1 1248.1,537.3 1242.6,542.6 1235.4,548.1 1230.1,556.0 1223.8,562.4 1216.9,568.5 1210.4,576.4 1204.4,583.4 1198.8,589.8 1192.1,597.0 1187.8,602.6 1184.8,605.8 1181.0,607.9 1179.9,609.9 1177.9,612.3 1175.2,613.9 1173.7,617.2 1171.0,620.6 1169.6,621.6 1166.9,626.5 1163.0,629.5 1159.5,632.7 1156.0,635.1 1150.8,637.9 1146.3,640.4 1142.5,643.4 1137.9,646.8 1133.8,648.3 1130.0,649.5 1127.1,652.5 1122.0,653.8 1117.5,655.9 1113.2,658.9 1109.8,660.2 1105.5,660.9 1100.4,664.5 1097.2,667.5 1092.4,671.2 1087.9,675.0 1082.3,679.3 1077.7,682.1 1073.3,686.2 1067.6,691.1 1062.6,694.9 1058.2,700.1 1053.6,704.0 1048.1,707.7 1044.8,710.6 1040.6,714.4 1036.2,717.3 1032.7,722.4 1028.7,727.1 1023.6,731.6 1019.6,735.5 1014.1,740.7 1009.1,744.5 1005.8,749.1 1001.4,753.3 997.7,757.6 993.1,761.4 988.5,765.0 986.3,770.5 981.4,774.8 977.1,780.3 972.7,785.7 970.5,788.5 967.3,792.4 964.3,794.7 961.7,796.7 958.7,798.6 957.5,800.9 954.8,804.5 951.2,807.1 948.5,811.4 946.9,813.3 945.3,819.0 942.6,822.3 940.3,826.5 938.2,829.1 937.0,833.1 933.7,836.8 931.8,840.1 930.1,843.3 925.7,846.1 923.5,849.6 918.4,853.3 916.3,854.9 913.3,856.9 910.7,858.2 907.4,860.4 904.4,864.0 902.5,866.4 900.5,869.9 897.5,872.3 894.2,874.3 891.2,877.2 887.3,879.6 885.8,881.6 882.1,885.1 879.7,887.4 875.3,890.1 872.6,892.0 869.1,891.5 865.8,892.6 863.3,894.9 860.4,898.8 857.9,903.2 857.7,908.4 857.3,912.6 859.6,913.1 859.2,915.6 857.8,919.8 856.4,924.7 855.5,928.5 852.0,931.0 849.5,934.7 847.9,939.1 845.9,941.9 843.6,945.9 842.8,950.2 840.1,954.1 840.2,956.8 836.8,962.1 834.6,965.7 832.9,968.5 830.7,972.5 828.6,976.9 826.8,980.5 824.3,983.9 823.6,986.7 818.9,989.7 817.8,992.0 814.8,994.8 811.6,997.2 810.3,999.4 807.9,1001.1 806.8,1004.9 806.8,1008.4 806.2,1013.4 805.5,1017.0 804.0,1020.3 802.9,1024.3 802.0,1026.5 799.4,1029.9 799.1,1034.1 797.5,1036.7 795.6,1040.8 793.3,1043.7 793.0,1047.5 791.2,1050.7 790.7,1054.3 789.7,1057.3 787.8,1061.8 786.6,1064.5 786.4,1068.8 785.9,1072.9 787.6,1077.0 789.3,1081.2 789.4,1083.1 792.5,1089.1 795.8,1092.4 799.6,1094.6 803.4,1095.9 806.6,1099.4 807.7,1103.7 811.0,1107.8 814.6,1109.2 819.0,1113.9 821.2,1116.1 823.4,1118.2 825.6,1121.4 826.1,1125.7 824.5,1130.4 821.4,1133.1 819.5,1135.2 816.2,1138.3 813.9,1142.3 813.3,1145.8 814.0,1151.7 814.4,1157.5 816.2,1160.0 817.1,1163.7 818.7,1167.4 819.7,1170.5 819.6,1173.8 820.3,1177.3 819.1,1180.5 817.3,1184.0 815.7,1188.5 815.1,1191.9 814.3,1195.0 814.3,1198.7 814.1,1201.9 813.9,1206.4 814.9,1209.1 817.0,1212.4 818.2,1215.1 820.3,1218.0 822.5,1221.9M896.0,858.0 899.3,852.4 903.7,854.9 906.2,860.3 908.1,866.1 903.5,869.9 899.8,873.0 895.9,867.4 899.0,863.0ZM893.0,866.0 896.0,870.5 893.9,874.6 890.0,872.0ZM833.9,1010.5 837.5,1010.8 841.3,1013.8 842.3,1017.2 842.0,1021.9 842.1,1026.4 841.9,1029.2 840.4,1033.2 837.7,1036.3 834.5,1039.8 832.0,1039.9 827.6,1036.5 829.3,1031.9 831.8,1028.1 832.7,1022.7 833.4,1017.8 833.0,1013.3ZM813.2,1055.0 814.6,1057.1 814.6,1061.6 816.8,1065.9 818.8,1069.0 820.4,1072.6 822.8,1075.8 824.1,1079.3 826.1,1082.5 826.5,1085.7 826.0,1090.4 822.5,1092.7 819.2,1091.1 815.3,1088.2 814.1,1084.8 808.9,1081.8 807.5,1077.3 807.3,1074.0 805.5,1070.8 805.4,1067.8 806.8,1063.0 809.1,1059.2ZM844.3,1154.6 844.6,1158.5 842.0,1163.4 839.1,1167.5 836.4,1171.0 830.7,1171.2 830.7,1166.7 833.4,1164.0 836.4,1161.2 841.2,1156.8Z" stroke="#000" stroke-width="2.1" fill="none" stroke-linejoin="round" stroke-linecap="round"/>
<path d="M228.7,1221.5 228.0,1222.1 227.4,1220.1 222.2,1228.4 231.2,1224.3 229.2,1223.5 229.9,1222.9ZM249.9,1221.7 249.4,1222.2 249.0,1220.7 245.4,1227.1 251.9,1223.7 250.4,1223.2 250.9,1222.7ZM271.2,1221.8 270.8,1222.2 270.5,1221.1 267.8,1225.9 272.7,1223.3 271.6,1222.9 272.0,1222.6ZM292.2,1221.3 291.3,1221.7 291.3,1219.4 283.4,1226.9 294.1,1225.0 292.3,1223.6 293.2,1223.1ZM313.8,1221.6 313.3,1221.6 313.8,1220.4 307.9,1222.3 313.9,1224.0 313.3,1222.8 313.9,1222.8ZM335.2,1221.4 334.4,1221.3 335.5,1219.9 327.3,1220.6 334.5,1224.5 334.1,1222.8 334.8,1223.0ZM356.3,1221.4 355.4,1221.3 356.5,1219.7 347.9,1221.0 355.8,1224.7 355.2,1222.9 356.0,1223.0ZM377.3,1221.3 376.4,1221.2 377.4,1219.5 368.2,1221.8 377.2,1224.9 376.3,1223.1 377.2,1223.1ZM398.5,1221.7 397.9,1221.6 398.5,1220.6 393.2,1221.8 398.3,1223.8 397.9,1222.7 398.4,1222.7ZM419.6,1221.8 419.2,1221.8 419.6,1221.1 415.8,1222.0 419.5,1223.3 419.2,1222.5 419.5,1222.6ZM440.6,1221.3 439.7,1221.4 440.4,1219.5 431.6,1223.2 441.0,1224.9 439.9,1223.2 440.8,1223.1ZM461.7,1221.3 460.7,1221.4 461.3,1219.4 452.4,1223.9 462.3,1225.0 461.1,1223.3 462.0,1223.1ZM482.8,1221.4 482.0,1221.6 482.5,1219.9 475.2,1223.8 483.5,1224.5 482.4,1223.1 483.1,1223.0ZM504.1,1221.6 503.5,1221.7 504.0,1220.5 498.4,1222.6 504.2,1223.9 503.6,1222.8 504.2,1222.8ZM525.3,1221.8 524.9,1221.7 525.4,1220.9 520.9,1221.8 525.2,1223.5 524.8,1222.6 525.2,1222.6ZM547.3,1221.1 535.5,1211.2 538.4,1210.0 525.0,1204.2 533.0,1216.4 533.7,1213.4 545.5,1223.3ZM567.3,1221.6 566.7,1221.9 566.8,1220.5 561.9,1224.6 568.3,1223.9 567.2,1223.0 567.8,1222.8ZM588.4,1221.5 587.7,1221.7 587.9,1220.1 581.5,1224.7 589.4,1224.3 588.2,1223.2 588.9,1222.9ZM609.7,1221.5 609.1,1221.6 609.6,1220.2 603.3,1223.1 610.1,1224.2 609.3,1222.9 609.9,1222.9ZM630.9,1221.2 630.0,1221.3 630.9,1219.3 621.5,1222.3 631.0,1225.1 630.0,1223.2 631.0,1223.2ZM652.3,1221.3 651.4,1221.1 652.7,1219.5 643.1,1220.3 651.5,1224.9 651.0,1222.9 651.9,1223.1ZM673.8,1220.9 669.7,1219.0 672.2,1217.0 657.7,1214.8 668.6,1224.6 668.5,1221.5 672.6,1223.5ZM694.9,1221.6 694.3,1221.1 695.9,1220.4 688.3,1217.2 692.9,1224.0 693.3,1222.3 693.9,1222.8ZM716.0,1221.8 715.6,1221.3 717.1,1220.9 711.2,1217.1 714.0,1223.5 714.6,1222.1 715.0,1222.6ZM737.5,1221.5 736.8,1220.7 739.2,1220.1 729.8,1213.8 734.1,1224.3 735.1,1222.1 735.8,1222.9ZM758.3,1221.6 757.8,1221.1 759.4,1220.5 752.3,1216.9 756.2,1223.9 756.7,1222.2 757.3,1222.8ZM779.6,1221.3 778.7,1220.6 780.9,1219.5 770.0,1215.6 777.0,1224.9 777.4,1222.4 778.3,1223.1ZM800.5,1221.5 799.8,1221.2 801.2,1220.2 793.5,1218.4 798.9,1224.2 799.0,1222.5 799.7,1222.9ZM821.6,1221.4 820.8,1220.9 822.5,1219.7 812.8,1218.0 820.0,1224.7 820.0,1222.6 820.8,1223.0ZM842.9,1221.0 841.7,1220.4 844.0,1218.5 830.0,1216.9 840.8,1225.9 840.6,1222.9 841.8,1223.4ZM864.1,1220.9 861.5,1219.8 863.9,1217.8 849.4,1216.1 860.6,1225.5 860.4,1222.4 862.9,1223.5ZM885.3,1220.9 881.3,1219.0 883.8,1217.1 869.4,1214.7 880.1,1224.6 880.1,1221.5 884.0,1223.5ZM906.4,1221.0 901.2,1218.2 903.7,1216.4 889.3,1213.6 899.8,1223.8 899.9,1220.7 905.1,1223.4ZM927.5,1220.9 920.7,1217.5 923.2,1215.6 908.7,1213.2 919.4,1223.2 919.4,1220.0 926.3,1223.5ZM948.7,1220.9 941.4,1217.4 943.9,1215.5 929.5,1213.0 940.2,1223.0 940.2,1219.9 947.4,1223.5ZM969.8,1221.0 962.2,1217.1 964.8,1215.2 950.4,1212.6 961.0,1222.7 961.0,1219.6 968.6,1223.4ZM991.0,1221.0 983.1,1216.8 985.7,1215.0 971.3,1212.1 981.7,1222.4 981.8,1219.3 989.7,1223.4ZM1012.2,1221.0 1004.3,1216.6 1006.9,1214.9 992.6,1211.8 1002.8,1222.2 1002.9,1219.1 1010.8,1223.4ZM1033.3,1221.0 1025.4,1216.6 1028.0,1214.8 1013.8,1211.7 1023.9,1222.2 1024.1,1219.0 1031.9,1223.4ZM1054.4,1221.0 1046.6,1216.6 1049.1,1214.9 1034.9,1211.8 1045.1,1222.2 1045.2,1219.1 1053.1,1223.4ZM1075.6,1221.0 1067.7,1216.6 1070.3,1214.9 1056.0,1211.8 1066.2,1222.2 1066.4,1219.1 1074.2,1223.4ZM1096.7,1221.0 1088.8,1216.4 1091.4,1214.7 1077.2,1211.3 1087.2,1222.0 1087.4,1218.8 1095.3,1223.4ZM1117.9,1221.0 1108.5,1215.2 1111.2,1213.6 1097.0,1209.9 1106.8,1220.8 1107.0,1217.6 1116.4,1223.4ZM1139.1,1221.0 1128.0,1213.4 1130.7,1211.9 1116.8,1207.5 1126.0,1218.9 1126.4,1215.8 1137.5,1223.4ZM1160.3,1221.1 1149.5,1212.7 1152.4,1211.3 1138.7,1206.0 1147.2,1218.0 1147.8,1214.9 1158.6,1223.3ZM1181.5,1221.1 1171.1,1212.1 1174.0,1210.9 1160.6,1204.9 1168.5,1217.2 1169.2,1214.2 1179.7,1223.3ZM1202.7,1221.2 1192.3,1211.7 1195.2,1210.6 1182.1,1204.3 1189.6,1216.8 1190.4,1213.8 1200.8,1223.2ZM1223.8,1221.2 1213.4,1211.8 1216.3,1210.6 1203.1,1204.4 1210.7,1216.9 1211.5,1213.8 1221.9,1223.2ZM1245.0,1221.2 1234.5,1211.6 1237.5,1210.5 1224.3,1204.1 1231.8,1216.7 1232.6,1213.7 1243.1,1223.2ZM1266.1,1221.2 1255.8,1211.3 1258.8,1210.3 1245.7,1203.6 1252.9,1216.3 1253.9,1213.3 1264.2,1223.2ZM1287.3,1221.2 1277.0,1211.4 1279.9,1210.3 1266.9,1203.7 1274.1,1216.4 1275.0,1213.4 1285.3,1223.2ZM1308.4,1221.2 1298.2,1211.4 1301.2,1210.3 1288.2,1203.6 1295.3,1216.4 1296.3,1213.4 1306.5,1223.2ZM1329.5,1221.2 1320.5,1212.5 1323.4,1211.5 1310.4,1204.8 1317.6,1217.5 1318.6,1214.5 1327.6,1223.2ZM1350.7,1221.2 1341.4,1212.8 1344.3,1211.6 1331.1,1205.3 1338.7,1217.8 1339.5,1214.8 1348.8,1223.2ZM229.3,1200.6 228.7,1200.6 229.3,1199.4 223.3,1201.2 229.3,1203.0 228.7,1201.8 229.3,1201.8ZM249.9,1201.7 250.4,1202.3 248.7,1202.9 256.1,1206.8 252.1,1199.5 251.6,1201.2 251.0,1200.6ZM272.4,1201.2 272.4,1200.4 274.0,1201.2 271.6,1193.2 269.2,1201.2 270.8,1200.4 270.8,1201.2ZM293.3,1201.8 294.0,1201.3 294.5,1203.2 299.6,1195.4 291.0,1199.1 292.8,1199.9 292.1,1200.5ZM313.6,1200.5 312.9,1200.7 313.1,1199.1 306.8,1203.7 314.6,1203.3 313.4,1202.1 314.1,1201.9ZM334.9,1200.7 334.4,1200.7 334.8,1199.7 330.0,1201.7 335.2,1202.7 334.6,1201.7 335.1,1201.7ZM356.1,1200.5 355.5,1200.6 356.1,1199.3 350.0,1201.3 356.2,1203.0 355.5,1201.8 356.2,1201.8ZM378.1,1200.0 375.2,1198.1 378.0,1196.6 364.0,1192.2 373.3,1203.5 373.7,1200.4 376.5,1202.3ZM398.2,1199.8 385.3,1201.8 386.2,1198.8 373.0,1205.2 387.5,1207.1 385.7,1204.6 398.6,1202.5ZM419.6,1200.0 418.4,1200.0 419.6,1197.6 407.6,1201.2 419.6,1204.8 418.4,1202.4 419.6,1202.4ZM440.6,1200.1 439.5,1200.2 440.3,1197.9 429.8,1202.5 441.1,1204.4 439.7,1202.4 440.8,1202.2ZM461.9,1200.0 460.7,1199.9 462.0,1197.6 449.8,1200.7 461.7,1204.8 460.6,1202.3 461.8,1202.4ZM483.1,1199.8 476.2,1199.2 477.8,1196.5 463.5,1199.5 477.1,1204.9 475.9,1202.0 482.9,1202.6ZM504.3,1199.8 492.0,1198.0 493.8,1195.5 479.4,1197.7 492.6,1203.8 491.6,1200.8 503.9,1202.5ZM525.4,1200.7 524.9,1200.5 525.7,1199.7 520.3,1199.6 524.8,1202.6 524.6,1201.5 525.1,1201.7ZM546.5,1200.3 545.7,1200.1 546.8,1198.5 537.6,1199.8 546.0,1203.8 545.4,1201.9 546.3,1202.0ZM567.4,1200.1 566.3,1200.3 567.0,1198.0 556.9,1203.0 568.1,1204.4 566.7,1202.4 567.7,1202.2ZM588.3,1199.8 583.0,1201.4 583.5,1198.4 571.4,1206.5 586.0,1206.4 583.9,1204.1 589.1,1202.5ZM609.6,1200.3 608.7,1200.5 609.1,1198.5 600.9,1203.5 610.5,1203.8 609.2,1202.3 610.1,1202.1ZM630.7,1200.2 629.8,1200.5 630.3,1198.4 621.8,1203.5 631.6,1203.9 630.3,1202.3 631.2,1202.1ZM652.0,1200.1 651.0,1200.2 651.9,1198.1 642.0,1201.9 652.3,1204.2 651.2,1202.2 652.2,1202.2ZM673.7,1199.9 670.3,1198.5 672.7,1196.4 658.1,1195.3 669.6,1204.3 669.3,1201.2 672.7,1202.5ZM694.8,1200.8 694.5,1200.4 695.7,1200.1 690.8,1196.7 693.0,1202.2 693.6,1201.1 693.9,1201.5ZM715.8,1201.0 715.6,1200.7 716.3,1200.6 713.7,1198.5 714.7,1201.7 715.1,1201.1 715.3,1201.3ZM737.0,1199.8 729.5,1198.1 731.5,1195.7 716.9,1196.6 729.6,1203.8 728.8,1200.8 736.3,1202.5ZM758.1,1200.8 757.7,1200.4 758.8,1199.9 753.7,1197.9 756.8,1202.4 757.1,1201.2 757.5,1201.6ZM779.5,1200.3 778.6,1199.8 780.5,1198.5 770.1,1196.0 777.4,1203.8 777.5,1201.5 778.4,1202.0ZM800.2,1200.9 799.9,1200.7 800.5,1200.3 797.2,1199.9 799.7,1202.0 799.7,1201.3 800.0,1201.4ZM821.7,1200.0 820.6,1199.5 822.7,1197.7 809.8,1196.3 819.8,1204.6 819.6,1201.8 820.7,1202.3ZM842.9,1199.9 841.3,1199.3 843.7,1197.2 829.1,1196.0 840.6,1205.0 840.3,1201.9 841.8,1202.5ZM864.0,1199.9 861.1,1198.7 863.5,1196.6 848.9,1195.3 860.3,1204.4 860.1,1201.3 863.0,1202.5ZM885.3,1199.9 881.2,1197.9 883.7,1196.0 869.3,1193.5 880.0,1203.5 880.0,1200.4 884.0,1202.4ZM906.5,1199.9 901.1,1197.0 903.6,1195.2 889.3,1192.1 899.6,1202.6 899.7,1199.4 905.1,1202.4ZM927.6,1199.9 920.6,1196.3 923.2,1194.4 908.8,1191.6 919.3,1201.9 919.3,1198.7 926.3,1202.4ZM948.7,1199.9 941.7,1196.4 944.2,1194.5 929.8,1191.9 940.4,1202.0 940.4,1198.8 947.4,1202.4ZM969.8,1199.9 962.4,1196.2 964.9,1194.4 950.5,1191.9 961.2,1201.9 961.2,1198.7 968.6,1202.4ZM991.0,1199.9 983.3,1195.9 985.8,1194.1 971.4,1191.4 981.9,1201.5 982.0,1198.4 989.7,1202.4ZM1012.2,1199.9 1004.4,1195.6 1007.0,1193.8 992.8,1190.6 1002.9,1201.1 1003.1,1198.0 1010.8,1202.4ZM1033.3,1200.0 1025.6,1195.5 1028.2,1193.8 1014.0,1190.3 1024.0,1201.0 1024.2,1197.9 1031.9,1202.4ZM1054.5,1199.9 1046.8,1195.5 1049.4,1193.8 1035.2,1190.5 1045.2,1201.1 1045.4,1198.0 1053.1,1202.4ZM1075.6,1199.9 1067.9,1195.5 1070.5,1193.8 1056.2,1190.5 1066.3,1201.1 1066.5,1197.9 1074.2,1202.4ZM1096.8,1200.0 1084.6,1192.8 1087.2,1191.1 1073.0,1187.5 1082.9,1198.3 1083.1,1195.2 1095.3,1202.4ZM1117.9,1200.0 1108.3,1193.9 1110.9,1192.3 1096.8,1188.5 1106.5,1199.4 1106.8,1196.3 1116.4,1202.3ZM1139.1,1200.0 1130.9,1194.5 1133.7,1193.0 1119.7,1188.7 1129.0,1200.0 1129.4,1196.8 1137.5,1202.3ZM1160.3,1200.0 1152.0,1193.9 1154.8,1192.5 1141.1,1187.5 1149.8,1199.2 1150.3,1196.1 1158.6,1202.3ZM1181.5,1200.1 1170.1,1190.6 1173.0,1189.3 1159.5,1183.6 1167.6,1195.8 1168.3,1192.8 1179.7,1202.2ZM1202.7,1200.1 1191.4,1190.3 1194.3,1189.1 1181.0,1183.0 1188.8,1195.4 1189.6,1192.4 1200.8,1202.2ZM1223.8,1200.1 1212.5,1190.5 1215.4,1189.3 1202.0,1183.4 1210.0,1195.6 1210.7,1192.6 1222.0,1202.2ZM1244.9,1200.1 1233.7,1190.5 1236.6,1189.3 1223.2,1183.4 1231.1,1195.7 1231.9,1192.6 1243.1,1202.2ZM1266.1,1200.1 1255.0,1190.4 1257.9,1189.2 1244.6,1183.1 1252.4,1195.5 1253.2,1192.5 1264.2,1202.2ZM1287.2,1200.1 1276.4,1190.2 1279.3,1189.1 1266.2,1182.7 1273.7,1195.3 1274.5,1192.3 1285.4,1202.2ZM1308.4,1200.2 1297.8,1189.9 1300.7,1188.8 1287.7,1182.1 1294.9,1194.9 1295.8,1191.9 1306.5,1202.2ZM1329.6,1200.2 1318.9,1189.9 1321.8,1188.8 1308.8,1182.1 1316.0,1194.9 1316.9,1191.9 1327.6,1202.2ZM1350.7,1200.1 1340.1,1190.6 1343.0,1189.4 1329.8,1183.2 1337.4,1195.7 1338.2,1192.7 1348.8,1202.2ZM229.0,1179.5 228.4,1179.9 228.3,1178.4 223.6,1183.5 230.3,1181.8 229.1,1181.0 229.6,1180.7ZM250.2,1179.7 249.8,1180.0 249.7,1178.9 246.4,1182.5 251.1,1181.3 250.3,1180.8 250.7,1180.5ZM271.0,1179.6 270.5,1180.2 270.0,1178.6 266.6,1185.5 273.2,1181.6 271.6,1181.2 272.1,1180.6ZM292.8,1178.7 290.8,1178.7 292.3,1175.9 278.1,1179.6 292.0,1184.3 290.7,1181.4 292.7,1181.5ZM313.5,1179.6 313.1,1180.0 312.9,1178.7 309.2,1183.4 314.8,1181.5 313.7,1180.9 314.2,1180.6ZM334.8,1179.5 334.2,1179.7 334.5,1178.2 328.7,1181.9 335.5,1182.0 334.6,1180.9 335.2,1180.7ZM356.1,1179.0 355.0,1179.0 356.1,1176.7 344.6,1180.2 356.2,1183.6 355.0,1181.3 356.1,1181.3ZM376.9,1178.8 364.2,1182.5 364.8,1179.5 352.6,1187.5 367.2,1187.5 365.0,1185.2 377.7,1181.5ZM397.9,1179.0 396.7,1179.5 396.8,1176.6 386.8,1185.6 400.1,1183.6 397.8,1181.8 399.0,1181.3ZM419.6,1178.7 416.2,1178.6 417.7,1175.9 403.6,1179.6 417.4,1184.2 416.1,1181.4 419.5,1181.5ZM441.8,1180.1 441.7,1179.0 443.9,1180.0 440.1,1169.5 437.5,1180.3 439.6,1179.1 439.6,1180.2ZM461.9,1178.7 450.5,1178.3 452.0,1175.6 437.9,1179.3 451.7,1184.0 450.4,1181.1 461.8,1181.5ZM483.0,1179.1 482.0,1179.1 483.0,1177.1 473.0,1180.1 483.0,1183.1 482.0,1181.1 483.0,1181.1ZM504.3,1179.8 503.9,1179.6 504.5,1179.0 500.5,1178.7 503.7,1181.2 503.6,1180.3 504.0,1180.5ZM525.4,1179.7 525.1,1179.6 525.8,1179.0 521.5,1178.3 524.7,1181.2 524.7,1180.3 525.1,1180.5ZM546.7,1179.3 545.9,1179.0 547.3,1177.6 537.9,1177.0 545.5,1182.7 545.2,1180.7 546.1,1181.0ZM567.6,1178.7 563.7,1178.6 565.2,1175.8 551.0,1179.4 564.9,1184.2 563.6,1181.4 567.5,1181.5ZM589.0,1178.8 579.8,1176.8 581.7,1174.3 567.2,1175.5 580.0,1182.6 579.2,1179.5 588.4,1181.5ZM609.6,1179.3 608.8,1179.5 609.3,1177.7 601.6,1182.0 610.4,1182.6 609.2,1181.1 610.0,1180.9ZM631.0,1178.7 626.6,1178.5 628.2,1175.8 614.0,1179.2 627.7,1184.2 626.5,1181.3 630.9,1181.5ZM652.2,1179.1 651.2,1179.1 652.3,1177.2 642.2,1179.5 651.9,1183.1 651.0,1181.0 652.0,1181.1ZM673.6,1179.5 672.9,1179.1 674.3,1178.2 666.7,1176.6 672.2,1182.1 672.2,1180.4 672.9,1180.8ZM695.1,1179.8 694.8,1179.0 696.6,1179.1 690.9,1172.9 692.2,1181.2 693.3,1179.7 693.7,1180.5ZM716.2,1179.8 715.9,1179.2 717.6,1179.2 712.6,1173.4 713.5,1181.0 714.6,1179.7 714.8,1180.4ZM737.2,1179.6 736.7,1179.0 738.4,1178.4 731.1,1174.3 734.9,1181.8 735.5,1180.1 736.1,1180.7ZM758.3,1179.4 757.6,1178.8 759.4,1177.9 750.2,1174.8 756.2,1182.4 756.5,1180.3 757.3,1180.9ZM779.2,1179.6 778.7,1179.4 779.6,1178.6 774.0,1177.8 778.2,1181.6 778.2,1180.4 778.7,1180.6ZM800.3,1179.6 799.7,1179.4 800.7,1178.5 794.5,1178.0 799.5,1181.8 799.3,1180.5 799.9,1180.7ZM821.7,1179.0 820.5,1178.5 822.6,1176.7 809.7,1175.4 819.8,1183.6 819.6,1180.8 820.8,1181.3ZM842.9,1178.8 841.5,1178.3 843.9,1176.2 829.3,1174.9 840.7,1184.0 840.5,1180.9 841.8,1181.4ZM864.0,1178.8 861.2,1177.7 863.6,1175.6 849.1,1174.2 860.4,1183.4 860.2,1180.3 863.0,1181.4ZM885.3,1178.9 881.2,1176.8 883.7,1174.9 869.3,1172.3 879.9,1182.4 879.9,1179.3 884.0,1181.4ZM906.5,1178.9 900.9,1175.7 903.5,1173.9 889.3,1170.5 899.3,1181.2 899.5,1178.1 905.1,1181.3ZM927.6,1178.9 920.7,1174.9 923.3,1173.2 909.1,1169.8 919.1,1180.5 919.3,1177.3 926.2,1181.3ZM948.8,1178.9 942.1,1175.1 944.7,1173.4 930.5,1170.1 940.6,1180.7 940.7,1177.5 947.4,1181.3ZM969.9,1178.9 963.0,1175.0 965.6,1173.3 951.4,1170.1 961.5,1180.6 961.7,1177.5 968.5,1181.3ZM991.0,1178.9 983.9,1174.7 986.5,1173.0 972.3,1169.6 982.3,1180.3 982.5,1177.2 989.6,1181.3ZM1012.2,1178.9 1004.8,1174.4 1007.5,1172.8 993.4,1169.1 1003.1,1180.0 1003.4,1176.8 1010.8,1181.3ZM1033.4,1178.9 1025.9,1174.3 1028.6,1172.7 1014.5,1168.9 1024.2,1179.8 1024.5,1176.7 1031.9,1181.3ZM1054.5,1178.9 1047.2,1174.3 1049.9,1172.7 1035.8,1168.7 1045.4,1179.8 1045.7,1176.7 1053.0,1181.3ZM1075.7,1178.9 1068.3,1174.2 1071.0,1172.6 1056.9,1168.5 1066.4,1179.6 1066.7,1176.5 1074.1,1181.3ZM1096.8,1178.9 1089.1,1173.9 1091.8,1172.4 1077.7,1168.3 1087.2,1179.4 1087.5,1176.3 1095.3,1181.3ZM1117.9,1178.9 1110.0,1173.7 1112.7,1172.1 1098.7,1168.0 1108.1,1179.2 1108.4,1176.1 1116.4,1181.3ZM1139.1,1179.0 1130.9,1173.4 1133.6,1171.9 1119.7,1167.5 1128.9,1178.8 1129.3,1175.7 1137.5,1181.3ZM1160.3,1179.0 1151.9,1172.8 1154.7,1171.4 1141.0,1166.4 1149.7,1178.1 1150.3,1175.1 1158.6,1181.2ZM1181.5,1179.0 1172.6,1171.6 1175.4,1170.4 1162.0,1164.7 1170.1,1176.8 1170.8,1173.8 1179.7,1181.2ZM1202.7,1179.1 1191.5,1169.4 1194.4,1168.2 1181.1,1162.2 1188.9,1174.6 1189.7,1171.5 1200.8,1181.2ZM1223.8,1179.1 1212.5,1169.5 1215.4,1168.3 1202.0,1162.4 1210.0,1174.7 1210.7,1171.6 1222.0,1181.2ZM1244.9,1179.1 1233.5,1169.4 1236.4,1168.2 1223.0,1162.3 1231.0,1174.6 1231.7,1171.5 1243.1,1181.2ZM1266.1,1179.1 1254.8,1169.3 1257.7,1168.1 1244.4,1162.2 1252.2,1174.5 1253.0,1171.5 1264.2,1181.2ZM1287.2,1179.1 1276.3,1169.1 1279.2,1168.0 1266.0,1161.6 1273.5,1174.2 1274.4,1171.2 1285.4,1181.2ZM1308.4,1179.1 1297.8,1168.6 1300.8,1167.6 1287.9,1160.7 1294.9,1173.5 1295.9,1170.6 1306.5,1181.1ZM1329.6,1179.1 1320.8,1170.2 1323.7,1169.2 1310.9,1162.2 1317.7,1175.1 1318.8,1172.1 1327.6,1181.1ZM1350.7,1179.1 1342.2,1170.9 1345.2,1169.9 1332.2,1163.2 1339.3,1175.9 1340.3,1173.0 1348.7,1181.1ZM228.7,1158.2 227.9,1158.8 227.6,1156.6 221.0,1164.7 231.0,1161.6 229.0,1160.5 229.9,1159.9ZM249.7,1157.9 248.5,1158.7 248.2,1155.6 238.8,1166.5 252.7,1162.6 250.0,1161.0 251.2,1160.2ZM271.4,1158.8 271.2,1159.0 271.1,1158.4 269.2,1160.6 272.0,1159.8 271.5,1159.5 271.7,1159.3ZM292.7,1157.7 290.7,1157.7 292.1,1154.9 278.1,1159.1 292.1,1163.3 290.7,1160.5 292.7,1160.5ZM313.9,1158.1 312.9,1158.1 313.9,1156.1 303.9,1159.1 313.9,1162.1 312.9,1160.1 313.9,1160.1ZM334.9,1158.6 334.5,1158.7 334.8,1157.7 330.5,1159.8 335.2,1160.4 334.6,1159.6 335.1,1159.5ZM356.2,1157.7 350.3,1157.4 351.8,1154.7 337.6,1158.2 351.4,1163.1 350.2,1160.2 356.1,1160.5ZM377.3,1157.7 362.9,1157.7 364.3,1154.9 350.3,1159.1 364.3,1163.3 362.9,1160.5 377.3,1160.5ZM398.4,1157.7 392.0,1157.7 393.4,1154.9 379.4,1159.1 393.4,1163.3 392.0,1160.5 398.4,1160.5ZM420.6,1158.4 420.0,1157.4 422.7,1157.2 413.2,1148.5 416.4,1161.0 417.9,1158.7 418.5,1159.7ZM440.9,1157.7 436.5,1157.1 438.3,1154.5 423.9,1156.7 437.1,1162.8 436.1,1159.9 440.5,1160.5ZM462.0,1157.9 460.8,1157.8 462.2,1155.7 450.5,1157.9 461.5,1162.5 460.6,1160.1 461.7,1160.2ZM483.0,1157.7 481.6,1157.7 483.0,1154.9 469.0,1159.1 483.0,1163.3 481.6,1160.5 483.0,1160.5ZM504.1,1157.9 502.9,1157.9 504.1,1155.5 492.1,1159.1 504.1,1162.7 502.9,1160.3 504.1,1160.3ZM525.5,1158.4 524.9,1158.2 526.1,1157.2 518.9,1156.3 524.4,1161.0 524.3,1159.4 525.0,1159.7ZM546.6,1158.4 545.9,1158.2 547.0,1157.1 539.8,1157.0 545.8,1161.1 545.5,1159.5 546.2,1159.7ZM567.6,1158.4 566.9,1158.3 567.8,1156.9 560.4,1158.3 567.3,1161.2 566.8,1159.7 567.5,1159.8ZM588.6,1158.1 587.6,1158.2 588.4,1156.0 578.5,1160.0 588.9,1162.1 587.8,1160.2 588.8,1160.1ZM610.9,1158.2 602.9,1148.8 605.9,1148.1 593.6,1140.2 599.5,1153.5 600.8,1150.7 608.8,1160.0ZM631.7,1157.9 621.6,1151.3 624.3,1149.7 610.3,1145.6 619.7,1156.8 620.1,1153.6 630.2,1160.3ZM652.3,1158.5 651.7,1158.2 652.8,1157.2 645.8,1156.8 651.4,1161.0 651.2,1159.5 651.9,1159.7ZM673.7,1158.4 673.0,1158.0 674.5,1157.1 666.6,1154.9 672.0,1161.1 672.2,1159.3 672.8,1159.7ZM695.0,1158.7 694.6,1158.1 696.2,1157.9 690.4,1152.9 692.5,1160.3 693.4,1158.9 693.8,1159.5ZM716.1,1158.8 715.8,1158.2 717.2,1158.2 712.6,1153.4 713.8,1160.0 714.7,1158.8 715.0,1159.4ZM737.1,1158.7 736.7,1158.3 738.0,1158.0 732.9,1154.8 735.4,1160.2 735.9,1159.0 736.2,1159.5ZM758.2,1158.6 757.7,1158.2 759.0,1157.7 753.2,1155.0 756.6,1160.5 756.9,1159.1 757.4,1159.5ZM779.2,1158.7 778.8,1158.4 779.8,1157.9 775.0,1156.3 778.1,1160.3 778.3,1159.2 778.7,1159.5ZM800.4,1158.6 799.9,1158.2 801.0,1157.5 794.8,1156.0 799.2,1160.7 799.2,1159.3 799.8,1159.6ZM821.9,1157.9 820.7,1157.2 823.2,1155.5 809.2,1152.4 819.2,1162.7 819.3,1159.6 820.5,1160.3ZM842.8,1158.2 841.9,1157.8 843.7,1156.5 833.8,1154.7 841.0,1161.6 841.1,1159.5 841.9,1159.9ZM864.1,1157.8 860.8,1156.3 863.3,1154.3 848.8,1152.1 859.7,1161.9 859.6,1158.8 862.9,1160.3ZM885.3,1157.8 880.6,1155.3 883.1,1153.5 868.8,1150.6 879.2,1160.9 879.3,1157.8 884.0,1160.3ZM906.5,1157.9 900.5,1154.2 903.1,1152.6 888.9,1148.9 898.8,1159.7 899.0,1156.6 905.1,1160.3ZM927.6,1157.9 920.5,1153.5 923.2,1151.9 909.0,1148.1 918.8,1159.0 919.0,1155.9 926.2,1160.3ZM948.8,1157.9 942.0,1153.7 944.6,1152.0 930.5,1148.3 940.2,1159.2 940.5,1156.1 947.3,1160.3ZM969.9,1157.9 963.0,1153.6 965.7,1152.0 951.6,1148.1 961.3,1159.1 961.6,1156.0 968.5,1160.3ZM991.1,1157.9 984.0,1153.3 986.7,1151.7 972.6,1147.6 982.1,1158.8 982.4,1155.6 989.6,1160.3ZM1012.3,1157.9 1004.9,1153.0 1007.6,1151.5 993.6,1147.3 1002.9,1158.5 1003.3,1155.4 1010.7,1160.2ZM1033.4,1157.9 1025.9,1152.9 1028.6,1151.4 1014.6,1147.1 1023.9,1158.4 1024.3,1155.3 1031.8,1160.2ZM1054.6,1157.9 1047.1,1152.8 1049.9,1151.3 1035.9,1146.8 1045.1,1158.2 1045.5,1155.1 1053.0,1160.2ZM1075.7,1157.9 1068.1,1152.6 1070.9,1151.1 1057.0,1146.5 1066.1,1158.0 1066.5,1154.9 1074.1,1160.2ZM1096.9,1157.9 1088.9,1152.3 1091.7,1150.8 1077.8,1146.1 1086.8,1157.7 1087.3,1154.6 1095.2,1160.2ZM1118.0,1157.9 1109.7,1152.0 1112.5,1150.6 1098.7,1145.8 1107.6,1157.4 1108.1,1154.3 1116.4,1160.2ZM1139.2,1158.0 1130.7,1151.7 1133.5,1150.3 1119.8,1145.3 1128.5,1157.0 1129.1,1153.9 1137.5,1160.2ZM1160.3,1158.0 1151.9,1151.3 1154.8,1150.0 1141.2,1144.5 1149.5,1156.5 1150.2,1153.5 1158.6,1160.2ZM1181.5,1158.0 1173.2,1150.8 1176.1,1149.6 1162.8,1143.6 1170.6,1156.0 1171.4,1152.9 1179.7,1160.1ZM1202.7,1158.0 1193.5,1149.6 1196.4,1148.5 1183.2,1142.1 1190.7,1154.7 1191.6,1151.7 1200.8,1160.1ZM1223.8,1158.1 1213.7,1148.6 1216.6,1147.5 1203.5,1141.0 1210.9,1153.6 1211.8,1150.6 1221.9,1160.1ZM1245.0,1158.1 1234.2,1147.9 1237.2,1146.8 1224.1,1140.2 1231.4,1152.9 1232.3,1149.9 1243.1,1160.1ZM1266.1,1158.1 1255.5,1147.8 1258.5,1146.8 1245.5,1140.1 1252.6,1152.9 1253.6,1149.9 1264.2,1160.1ZM1287.3,1158.1 1276.8,1147.7 1279.8,1146.7 1266.9,1139.8 1273.9,1152.6 1274.8,1149.7 1285.3,1160.1ZM1308.5,1158.1 1299.8,1149.0 1302.8,1148.0 1290.1,1140.8 1296.7,1153.8 1297.7,1150.9 1306.4,1160.0ZM1329.6,1158.1 1321.7,1149.4 1324.7,1148.6 1312.2,1141.0 1318.5,1154.2 1319.6,1151.3 1327.5,1160.0ZM1350.7,1158.1 1340.8,1147.5 1343.8,1146.6 1331.2,1139.3 1337.7,1152.4 1338.8,1149.4 1348.7,1160.0ZM228.8,1137.4 228.2,1137.8 227.9,1136.1 222.7,1142.6 230.7,1140.0 229.1,1139.2 229.8,1138.7ZM250.1,1137.2 249.3,1137.5 249.5,1135.6 242.3,1141.2 251.4,1140.5 249.9,1139.2 250.8,1138.9ZM271.6,1137.5 271.1,1137.5 271.6,1136.5 266.5,1138.0 271.6,1139.6 271.1,1138.5 271.6,1138.6ZM292.7,1137.6 292.2,1137.6 292.7,1136.6 287.9,1138.0 292.7,1139.5 292.2,1138.5 292.7,1138.5ZM313.8,1137.5 313.3,1137.6 313.7,1136.4 308.4,1138.6 314.0,1139.7 313.4,1138.6 313.9,1138.6ZM334.7,1136.7 333.4,1136.9 334.2,1134.0 321.5,1140.7 335.8,1142.1 333.9,1139.7 335.3,1139.4ZM356.1,1137.1 355.1,1137.2 355.9,1135.2 346.6,1138.8 356.4,1140.9 355.3,1139.1 356.2,1139.0ZM377.4,1136.6 367.0,1135.9 368.6,1133.2 354.3,1136.4 368.0,1141.6 366.8,1138.7 377.2,1139.4ZM399.4,1137.2 398.6,1136.2 401.4,1135.6 390.2,1128.2 395.5,1140.5 396.6,1137.9 397.4,1138.9ZM420.3,1137.5 419.8,1136.8 421.8,1136.5 414.4,1130.7 417.3,1139.6 418.3,1137.8 418.8,1138.6ZM440.8,1136.6 433.5,1136.0 435.1,1133.3 420.8,1136.3 434.4,1141.7 433.2,1138.8 440.6,1139.4ZM462.0,1137.3 461.2,1137.1 462.3,1135.7 454.0,1136.5 461.4,1140.4 460.9,1138.7 461.7,1138.8ZM483.0,1136.7 481.7,1136.7 483.0,1134.1 470.0,1138.0 483.0,1141.9 481.7,1139.3 483.0,1139.3ZM504.1,1136.7 502.8,1136.7 504.1,1134.1 491.1,1138.0 504.1,1141.9 502.8,1139.3 504.1,1139.3ZM525.5,1137.3 524.8,1137.1 525.9,1135.9 518.3,1135.9 524.6,1140.1 524.3,1138.5 525.0,1138.7ZM546.5,1137.0 545.5,1136.8 546.8,1134.9 535.8,1136.6 546.0,1141.2 545.2,1139.0 546.3,1139.1ZM567.5,1136.6 558.8,1137.0 560.1,1134.2 546.3,1139.0 560.5,1142.6 558.9,1139.8 567.6,1139.4ZM588.6,1136.6 585.3,1136.9 586.5,1134.0 572.9,1139.5 587.2,1142.4 585.6,1139.7 588.8,1139.4ZM610.0,1136.9 608.9,1136.8 610.3,1134.7 598.8,1136.5 609.3,1141.3 608.6,1139.0 609.7,1139.1ZM631.9,1137.0 625.1,1131.0 628.0,1129.8 614.7,1123.6 622.4,1136.1 623.2,1133.0 630.0,1139.1ZM653.1,1137.1 649.4,1133.4 652.4,1132.4 639.5,1125.5 646.4,1138.3 647.4,1135.4 651.1,1139.0ZM673.2,1136.6 671.4,1136.6 672.8,1133.8 658.8,1138.0 672.8,1142.2 671.4,1139.4 673.2,1139.4ZM695.3,1137.0 689.3,1131.3 692.2,1130.2 679.2,1123.7 686.5,1136.4 687.4,1133.4 693.4,1139.1ZM716.2,1137.4 715.6,1136.6 717.7,1136.0 708.8,1130.8 713.3,1140.1 714.1,1138.0 714.8,1138.7ZM737.0,1137.6 736.6,1137.2 737.8,1136.8 732.5,1134.1 735.5,1139.3 735.9,1138.1 736.3,1138.5ZM756.6,1136.9 758.2,1136.5 759.3,1137.6 759.0,1139.1 757.4,1139.6 756.3,1138.5ZM779.3,1137.6 778.9,1137.3 780.1,1136.8 774.9,1134.2 777.8,1139.3 778.2,1138.1 778.6,1138.4ZM800.6,1137.5 800.0,1137.0 801.5,1136.4 794.5,1133.3 798.7,1139.7 799.0,1138.1 799.6,1138.6ZM822.0,1136.9 820.9,1136.1 823.7,1134.6 809.9,1129.9 818.8,1141.4 819.3,1138.4 820.4,1139.2ZM843.1,1136.9 841.1,1135.6 843.8,1134.0 829.8,1130.0 839.3,1141.1 839.6,1137.9 841.6,1139.2ZM864.2,1136.8 860.9,1134.9 863.5,1133.2 849.3,1129.9 859.4,1140.5 859.5,1137.4 862.8,1139.3ZM885.3,1136.8 880.6,1134.1 883.2,1132.4 869.0,1129.0 879.0,1139.6 879.2,1136.5 883.9,1139.3ZM906.5,1136.8 900.4,1133.1 903.0,1131.5 888.8,1127.9 898.7,1138.7 898.9,1135.5 905.1,1139.2ZM927.6,1136.8 920.2,1132.4 922.8,1130.7 908.7,1127.1 918.5,1137.9 918.7,1134.8 926.2,1139.2ZM948.8,1136.9 941.5,1132.2 944.1,1130.6 930.0,1126.7 939.7,1137.7 940.0,1134.6 947.3,1139.2ZM970.0,1136.9 962.7,1132.1 965.4,1130.5 951.4,1126.3 960.8,1137.5 961.1,1134.4 968.4,1139.2ZM991.1,1136.9 983.8,1131.8 986.5,1130.3 972.6,1125.7 981.7,1137.1 982.2,1134.1 989.5,1139.2ZM1012.3,1136.9 1004.9,1131.5 1007.7,1130.1 993.9,1125.3 1002.7,1136.9 1003.2,1133.8 1010.7,1139.2ZM1033.4,1136.9 1025.8,1131.4 1028.6,1129.9 1014.8,1125.1 1023.7,1136.7 1024.2,1133.6 1031.8,1139.2ZM1054.6,1136.9 1046.9,1131.2 1049.7,1129.8 1035.9,1124.9 1044.7,1136.6 1045.2,1133.5 1052.9,1139.2ZM1075.7,1136.9 1067.8,1130.9 1070.6,1129.5 1056.9,1124.4 1065.6,1136.2 1066.1,1133.2 1074.1,1139.2ZM1096.9,1136.9 1088.7,1130.5 1091.5,1129.1 1077.9,1123.8 1086.3,1135.7 1087.0,1132.7 1095.2,1139.1ZM1118.1,1137.0 1109.6,1130.1 1112.5,1128.8 1099.0,1123.3 1107.2,1135.4 1107.9,1132.3 1116.3,1139.1ZM1139.2,1137.0 1130.7,1129.8 1133.6,1128.6 1120.2,1122.8 1128.2,1135.0 1128.9,1132.0 1137.4,1139.1ZM1160.4,1137.0 1152.1,1129.6 1155.0,1128.5 1141.7,1122.3 1149.4,1134.8 1150.2,1131.7 1158.5,1139.1ZM1181.6,1137.0 1173.5,1129.5 1176.4,1128.4 1163.3,1122.0 1170.7,1134.6 1171.6,1131.6 1179.6,1139.1ZM1202.7,1137.0 1194.7,1129.1 1197.6,1128.1 1184.7,1121.2 1191.7,1134.0 1192.7,1131.0 1200.8,1139.0ZM1223.9,1137.1 1215.8,1128.5 1218.8,1127.6 1206.2,1120.3 1212.7,1133.4 1213.8,1130.4 1221.9,1139.0ZM1245.0,1137.1 1236.9,1128.4 1239.9,1127.5 1227.3,1120.1 1233.8,1133.2 1234.9,1130.3 1243.0,1139.0ZM1266.2,1137.1 1257.8,1128.1 1260.8,1127.2 1248.2,1119.8 1254.7,1132.9 1255.8,1130.0 1264.1,1139.0ZM1287.3,1137.1 1279.3,1128.4 1282.3,1127.5 1269.8,1120.1 1276.2,1133.2 1277.3,1130.3 1285.3,1139.0ZM1308.5,1137.1 1300.6,1128.3 1303.6,1127.4 1291.1,1119.8 1297.3,1133.1 1298.5,1130.1 1306.4,1139.0ZM1329.6,1137.1 1321.2,1127.1 1324.2,1126.4 1311.9,1118.4 1317.8,1131.8 1319.0,1128.9 1327.5,1138.9ZM1350.8,1137.1 1341.7,1126.5 1344.8,1125.8 1332.5,1117.9 1338.4,1131.2 1339.6,1128.3 1348.7,1138.9ZM228.9,1116.3 228.2,1116.8 228.0,1115.0 222.6,1121.4 230.6,1119.0 229.1,1118.1 229.7,1117.7ZM250.4,1116.3 249.7,1116.3 250.4,1114.8 243.2,1117.3 250.5,1119.2 249.7,1117.8 250.5,1117.7ZM271.9,1116.6 271.5,1116.3 272.5,1115.8 267.7,1114.1 270.7,1118.2 270.9,1117.1 271.3,1117.4ZM293.1,1116.3 292.4,1116.0 293.8,1115.0 286.0,1113.3 291.6,1119.0 291.7,1117.3 292.3,1117.7ZM313.9,1116.2 313.1,1116.2 313.9,1114.7 306.3,1116.9 313.8,1119.3 313.1,1117.7 313.8,1117.8ZM334.6,1115.8 333.4,1116.2 333.7,1113.5 323.2,1121.2 336.3,1120.5 334.2,1118.6 335.4,1118.2ZM355.5,1115.9 354.4,1116.6 354.2,1113.8 345.3,1123.5 358.1,1120.2 355.7,1118.7 356.8,1118.1ZM377.8,1115.8 376.6,1115.3 378.8,1113.5 365.7,1112.1 375.8,1120.5 375.6,1117.7 376.8,1118.2ZM399.3,1116.4 398.8,1115.5 401.1,1115.3 392.8,1108.0 395.7,1118.7 397.0,1116.7 397.5,1117.6ZM419.5,1115.6 408.5,1116.4 409.7,1113.5 396.0,1118.6 410.3,1121.9 408.7,1119.2 419.7,1118.4ZM440.6,1116.3 439.9,1116.5 440.3,1115.0 433.9,1118.4 441.1,1119.0 440.2,1117.8 440.8,1117.7ZM461.8,1115.7 460.5,1115.7 461.8,1113.1 448.8,1117.0 461.8,1120.9 460.5,1118.3 461.8,1118.3ZM483.0,1115.6 480.6,1115.6 482.0,1112.8 468.0,1117.0 482.0,1121.2 480.6,1118.4 483.0,1118.4ZM504.1,1115.6 499.7,1115.6 501.1,1112.8 487.1,1117.0 501.1,1121.2 499.7,1118.4 504.1,1118.4ZM525.3,1115.6 521.9,1115.6 523.3,1112.8 509.3,1117.0 523.3,1121.2 521.9,1118.4 525.3,1118.4ZM546.6,1116.0 545.6,1115.8 546.9,1114.0 536.4,1115.4 545.9,1120.0 545.2,1117.8 546.2,1118.0ZM567.4,1115.8 566.3,1116.0 567.2,1113.5 555.9,1118.2 567.9,1120.5 566.5,1118.3 567.7,1118.2ZM588.5,1115.6 579.8,1116.6 580.9,1113.6 567.4,1119.3 581.8,1122.0 580.1,1119.3 588.8,1118.4ZM609.9,1116.2 609.1,1116.1 610.2,1114.5 601.5,1115.9 609.5,1119.5 608.9,1117.7 609.7,1117.8ZM631.2,1116.4 630.5,1116.2 631.6,1115.1 624.7,1114.9 630.3,1118.9 630.1,1117.4 630.8,1117.6ZM652.5,1116.1 651.6,1115.7 653.3,1114.2 642.9,1113.2 650.9,1119.8 650.8,1117.5 651.7,1117.9ZM674.2,1116.0 672.6,1114.5 675.6,1113.4 662.4,1107.1 669.9,1119.6 670.7,1116.6 672.3,1118.0ZM695.1,1116.2 694.4,1115.5 696.5,1114.7 686.9,1109.8 692.2,1119.3 692.9,1117.0 693.7,1117.8ZM716.3,1116.1 715.3,1115.3 717.8,1114.2 706.1,1109.3 713.2,1119.8 713.8,1117.2 714.8,1117.9ZM737.1,1116.4 736.4,1116.0 737.9,1115.1 730.3,1113.0 735.4,1118.9 735.6,1117.2 736.3,1117.6ZM758.1,1116.4 757.6,1116.1 758.8,1115.2 752.0,1113.5 756.8,1118.8 756.9,1117.2 757.5,1117.6ZM779.5,1116.3 778.7,1115.7 780.6,1114.8 771.5,1111.5 777.3,1119.2 777.6,1117.2 778.4,1117.7ZM800.6,1116.3 800.0,1115.8 801.8,1115.0 793.4,1111.4 798.4,1119.0 798.9,1117.1 799.5,1117.7ZM822.0,1116.1 821.1,1115.4 823.5,1114.3 812.2,1109.5 819.0,1119.7 819.6,1117.2 820.5,1117.9ZM843.2,1115.9 841.1,1114.2 843.9,1112.9 830.4,1107.4 838.7,1119.5 839.4,1116.4 841.5,1118.1ZM864.3,1115.9 860.8,1113.3 863.6,1111.9 849.8,1107.0 858.6,1118.6 859.2,1115.6 862.7,1118.1ZM885.4,1115.8 880.4,1112.4 883.1,1110.9 869.2,1106.5 878.4,1117.9 878.8,1114.7 883.9,1118.2ZM906.5,1115.8 899.9,1111.7 902.6,1110.1 888.4,1106.3 898.2,1117.3 898.4,1114.1 905.0,1118.2ZM927.6,1115.8 919.6,1111.0 922.3,1109.3 908.1,1105.7 918.0,1116.5 918.2,1113.4 926.2,1118.2ZM948.8,1115.8 941.1,1110.6 943.8,1109.1 929.8,1104.8 939.1,1116.1 939.5,1112.9 947.3,1118.2ZM970.0,1115.9 962.6,1110.3 965.4,1108.9 951.7,1103.8 960.3,1115.6 960.9,1112.5 968.4,1118.1ZM991.2,1115.9 983.8,1109.9 986.6,1108.6 973.1,1103.1 981.3,1115.1 982.0,1112.1 989.5,1118.1ZM1012.4,1115.9 1004.8,1109.6 1007.6,1108.4 994.2,1102.7 1002.3,1114.8 1003.0,1111.8 1010.6,1118.1ZM1033.5,1115.9 1025.7,1109.4 1028.6,1108.1 1015.2,1102.3 1023.2,1114.6 1023.9,1111.5 1031.7,1118.1ZM1054.7,1115.9 1046.7,1109.2 1049.6,1108.0 1036.2,1102.1 1044.2,1114.4 1044.9,1111.3 1052.9,1118.1ZM1075.8,1115.9 1067.7,1108.9 1070.6,1107.7 1057.3,1101.7 1065.1,1114.1 1065.9,1111.0 1074.0,1118.1ZM1097.0,1116.0 1088.7,1108.4 1091.7,1107.3 1078.5,1101.0 1086.0,1113.5 1086.8,1110.5 1095.1,1118.0ZM1118.1,1116.0 1109.9,1108.1 1112.8,1107.0 1099.8,1100.4 1107.0,1113.1 1107.9,1110.1 1116.2,1118.0ZM1139.3,1116.0 1131.2,1107.9 1134.2,1106.9 1121.3,1100.0 1128.2,1112.9 1129.2,1109.9 1137.3,1118.0ZM1160.5,1116.0 1152.5,1108.0 1155.5,1107.0 1142.6,1100.0 1149.5,1112.9 1150.5,1110.0 1158.5,1118.0ZM1181.6,1116.0 1173.8,1108.1 1176.8,1107.1 1164.0,1100.1 1170.8,1113.0 1171.8,1110.0 1179.6,1118.0ZM1202.8,1116.1 1195.0,1107.6 1198.1,1106.7 1185.5,1099.2 1191.8,1112.4 1193.0,1109.4 1200.7,1117.9ZM1223.9,1116.1 1216.3,1107.1 1219.4,1106.3 1207.1,1098.3 1212.9,1111.7 1214.2,1108.9 1221.8,1117.9ZM1245.1,1116.1 1237.5,1107.1 1240.5,1106.4 1228.3,1098.4 1234.1,1111.8 1235.3,1108.9 1243.0,1117.9ZM1266.2,1116.1 1258.6,1107.3 1261.7,1106.5 1249.3,1098.6 1255.3,1112.0 1256.5,1109.1 1264.1,1117.9ZM1287.4,1116.1 1279.7,1107.3 1282.7,1106.5 1270.3,1098.7 1276.4,1112.0 1277.6,1109.1 1285.2,1117.9ZM1308.5,1116.1 1300.9,1107.1 1303.9,1106.3 1291.7,1098.3 1297.5,1111.7 1298.8,1108.9 1306.4,1117.9ZM1329.7,1116.1 1322.1,1106.4 1325.2,1105.8 1313.2,1097.4 1318.5,1111.0 1319.9,1108.2 1327.5,1117.9ZM1350.8,1116.1 1343.6,1107.0 1346.7,1106.4 1334.7,1098.0 1340.1,1111.6 1341.4,1108.7 1348.6,1117.9ZM228.7,1095.3 228.1,1095.9 227.6,1094.0 222.9,1101.5 231.0,1097.9 229.2,1097.2 229.9,1096.6ZM250.4,1094.6 248.0,1094.6 249.3,1091.8 235.4,1096.5 249.6,1100.2 248.1,1097.4 250.5,1097.4ZM272.1,1095.4 271.5,1094.9 273.0,1094.2 265.8,1091.1 270.1,1097.7 270.5,1096.1 271.1,1096.5ZM293.3,1095.4 292.8,1094.8 294.6,1094.4 287.6,1089.8 290.9,1097.5 291.6,1095.9 292.1,1096.5ZM313.9,1095.0 313.0,1094.9 314.1,1093.0 303.9,1095.1 313.6,1098.9 312.8,1096.9 313.8,1097.0ZM334.5,1094.6 333.2,1095.1 333.6,1092.0 321.8,1100.7 336.4,1099.9 334.2,1097.8 335.5,1097.3ZM355.8,1094.6 353.8,1095.2 354.4,1092.1 342.1,1100.0 356.7,1100.2 354.6,1097.9 356.5,1097.3ZM376.8,1095.5 376.3,1096.0 375.9,1094.6 372.6,1100.6 378.7,1097.4 377.3,1096.9 377.7,1096.4ZM397.5,1094.9 394.8,1097.1 394.1,1094.0 385.9,1106.1 399.4,1100.6 396.6,1099.3 399.3,1097.0ZM420.6,1095.2 419.8,1094.1 422.7,1093.6 411.7,1085.6 416.4,1098.3 417.7,1095.7 418.5,1096.7ZM440.6,1095.4 440.0,1095.5 440.4,1094.2 435.0,1097.0 441.0,1097.7 440.2,1096.6 440.8,1096.5ZM461.8,1094.7 460.5,1094.7 461.8,1092.1 448.8,1096.0 461.8,1099.9 460.5,1097.3 461.8,1097.3ZM483.0,1094.6 480.6,1094.6 482.0,1091.8 468.0,1096.0 482.0,1100.2 480.6,1097.4 483.0,1097.4ZM504.1,1094.6 499.7,1094.6 501.1,1091.8 487.1,1096.0 501.1,1100.2 499.7,1097.4 504.1,1097.4ZM525.3,1094.6 519.9,1094.6 521.3,1091.8 507.3,1096.0 521.3,1100.2 519.9,1097.4 525.3,1097.4ZM546.7,1094.6 541.3,1093.3 543.3,1090.9 528.7,1091.7 541.3,1099.1 540.6,1096.0 546.1,1097.3ZM567.6,1095.0 566.6,1095.0 567.6,1093.0 557.8,1095.7 567.5,1098.9 566.5,1096.9 567.5,1096.9ZM588.7,1094.9 587.7,1094.9 588.7,1092.9 578.6,1095.9 588.7,1099.0 587.7,1097.0 588.7,1097.0ZM609.9,1095.2 609.1,1095.1 610.0,1093.6 601.9,1095.5 609.7,1098.3 609.0,1096.7 609.8,1096.8ZM631.0,1094.9 630.0,1094.8 631.2,1092.8 620.5,1095.2 630.7,1099.1 629.8,1096.9 630.9,1097.0ZM652.6,1094.6 647.3,1092.7 649.6,1090.6 635.0,1089.7 646.7,1098.5 646.4,1095.3 651.6,1097.3ZM673.8,1094.8 672.7,1094.3 674.9,1092.5 661.8,1090.4 671.6,1099.4 671.5,1096.5 672.7,1097.1ZM694.8,1095.4 694.3,1094.9 695.8,1094.2 688.5,1091.3 693.0,1097.7 693.3,1096.1 693.9,1096.6ZM715.9,1095.2 715.2,1094.8 716.7,1093.7 707.9,1091.9 714.3,1098.2 714.4,1096.3 715.1,1096.7ZM736.9,1095.1 736.1,1094.9 737.5,1093.5 728.5,1093.2 735.8,1098.4 735.6,1096.5 736.4,1096.8ZM758.1,1095.3 757.4,1095.1 758.6,1094.0 751.3,1093.4 757.0,1097.9 756.9,1096.4 757.5,1096.6ZM779.4,1095.1 778.5,1094.6 780.4,1093.3 770.1,1091.1 777.5,1098.6 777.6,1096.4 778.5,1096.8ZM800.8,1094.9 799.8,1094.2 802.3,1092.9 790.0,1088.6 797.9,1099.0 798.3,1096.2 799.3,1097.0ZM822.1,1094.9 819.7,1092.8 822.6,1091.6 809.3,1085.5 817.1,1097.9 817.8,1094.9 820.3,1097.0ZM843.3,1094.9 840.2,1092.1 843.1,1090.9 830.0,1084.6 837.4,1097.1 838.3,1094.1 841.4,1097.0ZM864.4,1094.9 860.2,1091.2 863.1,1090.0 849.8,1084.0 857.6,1096.3 858.3,1093.3 862.6,1097.0ZM885.5,1094.9 879.8,1090.4 882.7,1089.1 869.0,1083.8 877.5,1095.7 878.1,1092.7 883.8,1097.1ZM906.6,1094.8 899.4,1089.9 902.1,1088.4 888.2,1084.0 897.4,1095.3 897.8,1092.2 905.0,1097.1ZM927.7,1094.8 919.3,1089.2 922.0,1087.7 908.0,1083.4 917.4,1094.7 917.8,1091.6 926.1,1097.1ZM948.9,1094.8 940.9,1089.0 943.7,1087.5 930.0,1082.6 938.7,1094.3 939.3,1091.2 947.2,1097.1ZM970.1,1094.9 962.6,1088.4 965.5,1087.2 952.1,1081.3 960.0,1093.6 960.7,1090.6 968.3,1097.0ZM991.3,1094.9 983.8,1087.9 986.7,1086.8 973.6,1080.4 981.0,1093.0 981.8,1090.0 989.4,1097.0ZM1012.4,1094.9 1004.6,1087.7 1007.6,1086.6 994.5,1080.1 1001.9,1092.7 1002.7,1089.7 1010.5,1097.0ZM1033.6,1094.9 1025.6,1087.5 1028.6,1086.5 1015.5,1080.0 1022.9,1092.6 1023.7,1089.6 1031.7,1097.0ZM1054.7,1094.9 1046.7,1087.3 1049.6,1086.3 1036.6,1079.7 1043.9,1092.4 1044.8,1089.4 1052.8,1097.0ZM1075.9,1095.0 1067.9,1087.0 1070.9,1086.0 1058.0,1079.1 1064.9,1092.0 1065.9,1089.0 1073.9,1097.0ZM1097.1,1095.0 1089.2,1086.6 1092.2,1085.7 1079.6,1078.3 1086.1,1091.4 1087.2,1088.5 1095.0,1096.9ZM1118.2,1095.0 1110.7,1086.4 1113.7,1085.6 1101.3,1077.8 1107.4,1091.1 1108.6,1088.2 1116.1,1096.9ZM1139.4,1095.1 1132.0,1086.3 1135.1,1085.6 1122.8,1077.6 1128.7,1091.0 1129.9,1088.1 1137.2,1096.9ZM1160.5,1095.1 1153.3,1086.5 1156.4,1085.7 1144.1,1077.7 1149.9,1091.2 1151.2,1088.3 1158.4,1096.9ZM1181.7,1095.1 1174.5,1086.5 1177.6,1085.8 1165.4,1077.7 1171.1,1091.1 1172.4,1088.3 1179.5,1096.9ZM1202.8,1095.1 1195.6,1086.0 1198.7,1085.4 1186.7,1077.0 1192.1,1090.6 1193.4,1087.7 1200.6,1096.8ZM1224.0,1095.1 1216.9,1085.8 1220.0,1085.2 1208.1,1076.7 1213.3,1090.3 1214.7,1087.5 1221.8,1096.8ZM1245.1,1095.1 1238.1,1085.9 1241.2,1085.3 1229.4,1076.7 1234.5,1090.4 1235.9,1087.6 1242.9,1096.8ZM1266.3,1095.1 1259.3,1086.1 1262.3,1085.5 1250.4,1077.0 1255.7,1090.6 1257.0,1087.8 1264.1,1096.8ZM1287.4,1095.1 1280.2,1086.1 1283.2,1085.4 1271.2,1077.2 1276.7,1090.7 1278.0,1087.9 1285.2,1096.8ZM1308.5,1095.1 1301.4,1086.0 1304.5,1085.4 1292.6,1076.9 1297.9,1090.5 1299.2,1087.7 1306.3,1096.8ZM1329.7,1095.1 1323.0,1085.8 1326.1,1085.3 1314.5,1076.3 1319.2,1090.2 1320.7,1087.4 1327.4,1096.8ZM1350.8,1095.1 1344.0,1085.8 1347.1,1085.3 1335.4,1076.5 1340.3,1090.3 1341.7,1087.5 1348.6,1096.8ZM229.0,1074.4 228.5,1074.7 228.5,1073.4 224.1,1077.7 230.1,1076.5 229.1,1075.7 229.6,1075.4ZM251.0,1074.0 250.0,1073.4 252.1,1072.1 240.9,1069.4 248.8,1077.8 248.9,1075.3 249.9,1075.9ZM271.6,1073.5 269.2,1073.5 270.6,1070.7 256.6,1074.9 270.6,1079.1 269.2,1076.3 271.6,1076.3ZM293.7,1074.8 293.6,1073.8 295.7,1074.7 291.8,1065.0 289.7,1075.2 291.6,1074.0 291.7,1075.0ZM313.9,1073.9 312.9,1073.9 313.9,1071.9 303.9,1074.9 313.9,1077.9 312.9,1075.9 313.9,1075.9ZM334.7,1073.7 333.6,1074.0 334.2,1071.4 323.2,1077.6 335.8,1078.5 334.1,1076.4 335.3,1076.1ZM356.1,1073.6 354.8,1073.6 356.1,1071.0 343.1,1074.9 356.1,1078.8 354.8,1076.2 356.1,1076.2ZM376.6,1074.0 375.7,1074.7 375.3,1072.1 368.0,1081.5 379.3,1077.7 377.0,1076.5 377.9,1075.8ZM398.8,1073.6 391.6,1071.8 393.6,1069.4 379.0,1070.1 391.6,1077.5 390.9,1074.5 398.1,1076.3ZM420.3,1074.3 419.7,1073.5 421.9,1073.1 413.4,1067.0 417.2,1076.8 418.2,1074.7 418.8,1075.5ZM440.8,1073.5 437.7,1073.3 439.3,1070.6 425.0,1073.7 438.6,1079.0 437.4,1076.1 440.6,1076.3ZM461.8,1073.6 460.5,1073.6 461.8,1071.0 448.8,1074.9 461.8,1078.8 460.5,1076.2 461.8,1076.2ZM483.3,1073.5 478.4,1072.5 480.3,1070.1 465.8,1071.4 478.6,1078.3 477.8,1075.3 482.7,1076.3ZM504.1,1073.5 501.7,1073.5 503.1,1070.7 489.1,1074.9 503.1,1079.1 501.7,1076.3 504.1,1076.3ZM525.4,1073.5 521.0,1073.1 522.7,1070.4 508.4,1073.1 521.8,1078.8 520.7,1075.9 525.1,1076.3ZM546.7,1074.0 545.7,1073.8 547.2,1072.2 537.4,1072.4 545.6,1077.6 545.2,1075.6 546.1,1075.8ZM567.7,1074.2 567.0,1074.0 568.1,1072.9 560.7,1073.0 567.0,1077.0 566.7,1075.4 567.3,1075.6ZM588.9,1074.1 588.0,1073.8 589.3,1072.3 580.0,1072.8 588.0,1077.5 587.6,1075.6 588.5,1075.8ZM609.9,1073.5 608.5,1073.5 609.9,1070.7 595.8,1074.6 609.7,1079.1 608.4,1076.3 609.8,1076.3ZM630.9,1073.5 629.0,1073.7 630.2,1070.8 616.5,1075.9 630.8,1079.1 629.2,1076.4 631.1,1076.3ZM650.5,1075.2 651.1,1073.7 652.7,1073.4 653.7,1074.7 653.1,1076.2 651.5,1076.4ZM673.4,1073.5 671.5,1073.3 673.3,1070.7 658.8,1073.2 672.2,1079.0 671.2,1076.1 673.1,1076.3ZM694.4,1074.3 693.8,1074.2 694.5,1073.0 688.1,1074.5 694.3,1076.8 693.7,1075.5 694.3,1075.6ZM715.8,1073.6 714.5,1073.4 716.3,1071.1 702.8,1072.2 714.7,1078.7 714.0,1075.9 715.2,1076.2ZM736.7,1074.6 736.4,1074.5 736.9,1073.9 733.3,1074.2 736.4,1075.9 736.3,1075.2 736.6,1075.3ZM758.0,1074.4 757.5,1074.2 758.5,1073.4 752.9,1072.5 757.1,1076.4 757.1,1075.2 757.6,1075.4ZM779.5,1074.1 778.8,1073.5 780.7,1072.6 771.1,1068.9 777.1,1077.3 777.6,1075.1 778.3,1075.7ZM801.0,1073.8 797.9,1071.3 800.8,1070.0 787.4,1064.2 795.4,1076.4 796.1,1073.4 799.2,1076.0ZM822.0,1074.1 821.1,1073.3 823.5,1072.4 812.7,1067.3 818.9,1077.5 819.6,1075.0 820.5,1075.8ZM843.3,1073.9 839.0,1070.0 841.9,1068.9 828.8,1062.5 836.3,1075.1 837.1,1072.1 841.4,1076.0ZM864.5,1073.9 859.4,1069.2 862.3,1068.1 849.2,1061.7 856.6,1074.3 857.5,1071.3 862.5,1075.9ZM885.6,1073.9 879.4,1068.3 882.3,1067.2 869.0,1061.0 876.7,1073.4 877.5,1070.4 883.7,1076.0ZM906.7,1073.8 899.3,1067.6 902.1,1066.4 888.7,1060.6 896.7,1072.8 897.5,1069.8 904.9,1076.0ZM927.8,1073.8 919.8,1067.2 922.6,1065.9 909.1,1060.3 917.3,1072.4 918.0,1069.4 926.0,1076.0ZM949.0,1073.8 941.2,1067.3 944.1,1066.1 930.6,1060.3 938.7,1072.5 939.4,1069.4 947.2,1076.0ZM970.1,1073.9 962.6,1067.0 965.5,1065.9 952.3,1059.6 959.9,1072.1 960.7,1069.1 968.3,1076.0ZM991.3,1073.9 983.7,1066.4 986.7,1065.4 973.8,1058.6 980.8,1071.4 981.7,1068.4 989.4,1075.9ZM1012.5,1073.9 1004.7,1066.1 1007.7,1065.1 994.8,1058.1 1001.7,1071.0 1002.7,1068.1 1010.5,1075.9ZM1033.6,1073.9 1025.8,1066.0 1028.8,1065.0 1016.0,1057.9 1022.8,1070.9 1023.8,1067.9 1031.6,1075.9ZM1054.8,1074.0 1047.0,1065.7 1050.0,1064.8 1037.3,1057.5 1043.9,1070.6 1045.0,1067.6 1052.7,1075.9ZM1075.9,1074.0 1068.3,1065.4 1071.3,1064.6 1058.9,1057.0 1065.1,1070.2 1066.2,1067.3 1073.9,1075.9ZM1097.1,1074.0 1089.8,1065.3 1092.9,1064.5 1080.7,1056.5 1086.4,1069.9 1087.7,1067.1 1095.0,1075.8ZM1118.3,1074.1 1111.4,1065.3 1114.5,1064.7 1102.6,1056.2 1107.9,1069.8 1109.2,1067.0 1116.1,1075.8ZM1139.4,1074.1 1132.7,1065.2 1135.8,1064.7 1124.0,1056.0 1129.1,1069.7 1130.5,1066.9 1137.2,1075.8ZM1160.6,1074.1 1154.0,1065.2 1157.1,1064.7 1145.4,1055.9 1150.3,1069.7 1151.8,1066.9 1158.3,1075.8ZM1181.7,1074.1 1175.3,1065.0 1178.4,1064.6 1166.9,1055.6 1171.5,1069.4 1173.0,1066.7 1179.5,1075.7ZM1202.9,1074.1 1196.4,1064.8 1199.5,1064.4 1188.1,1055.3 1192.6,1069.2 1194.1,1066.5 1200.6,1075.7ZM1224.0,1074.1 1217.6,1064.9 1220.7,1064.5 1209.2,1055.4 1213.8,1069.3 1215.3,1066.5 1221.7,1075.7ZM1245.2,1074.1 1238.9,1065.0 1242.0,1064.6 1230.6,1055.4 1235.1,1069.3 1236.6,1066.6 1242.9,1075.7ZM1266.3,1074.1 1260.0,1065.0 1263.1,1064.5 1251.7,1055.4 1256.2,1069.3 1257.7,1066.5 1264.0,1075.7ZM1287.4,1074.1 1280.8,1064.9 1283.9,1064.4 1272.3,1055.5 1277.1,1069.3 1278.5,1066.5 1285.2,1075.7ZM1308.6,1074.1 1302.0,1064.7 1305.1,1064.3 1293.6,1055.2 1298.2,1069.1 1299.7,1066.4 1306.3,1075.7ZM1329.7,1074.1 1323.4,1064.6 1326.5,1064.2 1315.3,1054.8 1319.5,1068.8 1321.1,1066.1 1327.4,1075.7ZM1350.9,1074.1 1344.4,1064.6 1347.5,1064.2 1336.2,1055.0 1340.6,1068.9 1342.1,1066.2 1348.6,1075.7ZM229.6,1052.5 225.0,1051.7 226.9,1049.2 212.4,1050.8 225.4,1057.4 224.5,1054.4 229.0,1055.3ZM250.4,1052.6 249.1,1052.6 250.4,1050.0 237.4,1053.9 250.4,1057.8 249.1,1055.2 250.4,1055.2ZM271.5,1052.7 270.3,1052.8 271.3,1050.3 259.6,1054.9 271.9,1057.5 270.5,1055.2 271.7,1055.1ZM293.0,1053.0 292.1,1052.7 293.5,1051.2 283.8,1051.3 291.9,1056.6 291.6,1054.5 292.5,1054.8ZM313.7,1052.6 312.4,1052.8 313.3,1050.1 301.4,1055.6 314.4,1057.6 312.8,1055.3 314.0,1055.1ZM334.5,1052.6 332.9,1053.2 333.2,1050.1 321.8,1059.3 336.4,1057.9 334.0,1055.8 335.5,1055.2ZM356.9,1052.7 355.8,1051.9 358.5,1050.4 344.7,1045.8 353.7,1057.3 354.2,1054.2 355.3,1055.0ZM378.2,1053.7 378.0,1052.8 379.9,1053.4 375.7,1045.0 374.6,1054.3 376.2,1053.1 376.4,1054.0ZM398.3,1053.1 397.5,1053.2 397.9,1051.5 390.4,1055.5 398.9,1056.3 397.8,1054.8 398.6,1054.7ZM419.6,1052.8 418.5,1052.7 419.7,1050.5 408.4,1053.3 419.4,1057.2 418.4,1054.9 419.5,1055.0ZM440.7,1052.6 439.4,1052.6 440.7,1050.0 427.7,1053.9 440.7,1057.8 439.4,1055.2 440.7,1055.2ZM462.1,1052.5 459.2,1051.9 461.1,1049.4 446.6,1050.7 459.4,1057.7 458.6,1054.6 461.6,1055.3ZM483.3,1052.6 482.0,1052.3 484.0,1050.1 470.2,1050.6 482.0,1057.7 481.4,1054.8 482.6,1055.2ZM504.1,1052.5 502.7,1052.5 504.1,1049.7 490.1,1053.9 504.1,1058.1 502.7,1055.3 504.1,1055.3ZM525.5,1052.9 524.5,1052.7 526.0,1050.9 515.3,1051.5 524.6,1056.9 524.0,1054.6 525.0,1054.9ZM546.7,1053.1 545.9,1052.9 547.2,1051.6 538.8,1051.3 545.6,1056.2 545.4,1054.4 546.1,1054.6ZM567.9,1053.3 567.3,1052.9 568.6,1052.1 561.7,1050.4 566.5,1055.6 566.6,1054.1 567.2,1054.5ZM589.3,1052.6 587.0,1051.4 589.6,1049.6 575.2,1046.8 585.7,1057.0 585.7,1053.9 588.0,1055.1ZM609.9,1053.0 609.0,1052.9 610.1,1051.2 601.0,1052.8 609.5,1056.5 608.8,1054.7 609.7,1054.8ZM631.1,1052.5 626.7,1052.0 628.4,1049.4 614.1,1052.1 627.5,1057.7 626.4,1054.8 630.8,1055.3ZM651.8,1052.5 646.4,1053.8 647.1,1050.8 634.5,1058.1 649.1,1058.9 647.1,1056.5 652.4,1055.2ZM672.6,1052.6 661.6,1058.1 661.6,1055.0 651.0,1064.9 665.4,1062.5 662.9,1060.6 673.9,1055.1ZM693.8,1052.7 692.6,1053.3 692.6,1050.2 682.2,1059.8 696.1,1057.5 693.8,1055.7 695.0,1055.1ZM715.5,1053.4 715.0,1053.4 715.3,1052.4 710.5,1054.5 715.7,1055.4 715.1,1054.4 715.6,1054.4ZM736.7,1053.5 736.4,1053.4 736.9,1052.8 733.1,1053.0 736.4,1055.0 736.2,1054.2 736.6,1054.2ZM758.1,1053.5 757.7,1053.2 758.6,1052.7 753.8,1051.1 757.0,1055.1 757.1,1054.0 757.5,1054.3ZM779.3,1053.5 779.0,1053.2 780.1,1052.9 775.6,1050.0 777.8,1054.9 778.2,1053.8 778.6,1054.2ZM801.1,1052.9 798.6,1050.2 801.6,1049.3 789.1,1041.8 795.4,1055.0 796.5,1052.0 799.0,1054.8ZM822.2,1052.9 818.9,1049.7 821.8,1048.6 808.8,1042.0 816.0,1054.7 816.9,1051.7 820.3,1054.9ZM843.3,1052.8 838.8,1048.8 841.7,1047.7 828.5,1041.4 836.1,1053.9 837.0,1050.9 841.4,1054.9ZM864.5,1052.9 859.0,1047.5 861.9,1046.5 848.9,1039.8 856.1,1052.5 857.0,1049.5 862.5,1054.9ZM885.7,1052.9 879.2,1046.2 882.2,1045.3 869.5,1038.0 876.1,1051.0 877.2,1048.1 883.6,1054.8ZM906.8,1052.9 899.9,1045.3 902.9,1044.4 890.4,1036.9 896.7,1050.1 897.8,1047.2 904.7,1054.8ZM928.0,1052.9 921.0,1045.4 924.1,1044.6 911.5,1037.1 917.9,1050.2 919.0,1047.3 925.9,1054.8ZM949.1,1052.9 942.1,1045.8 945.1,1044.8 932.3,1037.7 939.1,1050.7 940.1,1047.7 947.1,1054.9ZM970.2,1052.9 963.1,1045.9 966.1,1044.9 953.2,1038.0 960.2,1050.8 961.2,1047.9 968.2,1054.9ZM991.3,1052.9 984.1,1045.4 987.1,1044.5 974.4,1037.4 981.1,1050.3 982.1,1047.4 989.3,1054.9ZM1012.5,1052.9 1005.0,1044.9 1008.0,1044.0 995.4,1036.6 1001.8,1049.7 1002.9,1046.8 1010.5,1054.8ZM1033.7,1053.0 1026.3,1044.5 1029.3,1043.7 1016.9,1035.9 1023.0,1049.2 1024.2,1046.3 1031.6,1054.8ZM1054.8,1053.0 1047.8,1044.2 1050.8,1043.6 1038.7,1035.3 1044.3,1048.8 1045.6,1046.0 1052.7,1054.8ZM1076.0,1053.0 1069.1,1044.2 1072.1,1043.6 1060.1,1035.2 1065.5,1048.8 1066.9,1046.0 1073.8,1054.7ZM1097.1,1053.0 1090.4,1044.3 1093.5,1043.7 1081.6,1035.2 1086.8,1048.8 1088.2,1046.0 1094.9,1054.7ZM1118.3,1053.0 1111.9,1044.4 1115.0,1043.8 1103.3,1035.1 1108.2,1048.8 1109.6,1046.0 1116.1,1054.7ZM1139.5,1053.1 1133.1,1044.4 1136.2,1043.8 1124.5,1035.0 1129.4,1048.8 1130.8,1046.0 1137.2,1054.7ZM1160.6,1053.1 1154.4,1044.3 1157.5,1043.8 1146.0,1034.8 1150.6,1048.7 1152.1,1045.9 1158.3,1054.7ZM1181.8,1053.1 1175.8,1044.1 1178.9,1043.7 1167.7,1034.3 1171.9,1048.3 1173.5,1045.6 1179.4,1054.7ZM1202.9,1053.1 1197.0,1044.0 1200.1,1043.6 1189.0,1034.2 1193.1,1048.2 1194.6,1045.5 1200.6,1054.6ZM1224.1,1053.1 1218.4,1044.2 1221.5,1043.9 1210.4,1034.3 1214.4,1048.4 1216.0,1045.7 1221.7,1054.6ZM1245.2,1053.1 1239.7,1044.1 1242.8,1043.9 1231.9,1034.1 1235.6,1048.3 1237.3,1045.6 1242.8,1054.6ZM1266.4,1053.1 1260.7,1044.0 1263.8,1043.7 1252.9,1034.0 1256.7,1048.1 1258.3,1045.5 1264.0,1054.6ZM1287.5,1053.1 1281.7,1043.9 1284.8,1043.6 1273.8,1034.0 1277.7,1048.1 1279.3,1045.4 1285.1,1054.6ZM1308.6,1053.2 1302.9,1043.7 1306.0,1043.4 1295.1,1033.6 1298.8,1047.8 1300.5,1045.1 1306.2,1054.6ZM1329.8,1053.2 1324.1,1043.5 1327.2,1043.3 1316.5,1033.4 1320.0,1047.5 1321.7,1044.9 1327.4,1054.6ZM1350.9,1053.2 1345.2,1043.5 1348.3,1043.3 1337.5,1033.4 1341.1,1047.6 1342.8,1044.9 1348.5,1054.6ZM229.8,1032.1 229.1,1031.6 230.8,1030.6 222.0,1028.0 227.8,1035.0 228.1,1033.1 228.8,1033.6ZM251.0,1032.2 250.4,1031.7 252.0,1031.0 244.4,1027.7 248.9,1034.6 249.3,1032.9 249.9,1033.4ZM271.6,1031.4 270.2,1031.4 271.6,1028.6 257.6,1032.8 271.6,1037.0 270.2,1034.2 271.6,1034.2ZM292.8,1032.5 292.5,1032.4 293.1,1031.8 289.2,1031.7 292.4,1033.9 292.3,1033.1 292.6,1033.2ZM312.3,1033.2 312.8,1031.6 314.4,1031.3 315.4,1032.5 314.9,1034.0 313.4,1034.4ZM335.7,1031.7 332.9,1029.9 335.5,1028.2 321.4,1024.4 331.1,1035.3 331.4,1032.2 334.3,1034.0ZM357.1,1032.3 356.5,1031.3 359.0,1031.1 350.5,1023.4 353.3,1034.5 354.6,1032.5 355.2,1033.4ZM378.4,1032.4 378.0,1031.3 380.7,1031.6 373.2,1021.6 373.9,1034.1 375.7,1032.1 376.2,1033.3ZM399.3,1032.7 399.2,1031.8 401.1,1032.4 396.9,1024.0 395.8,1033.3 397.4,1032.1 397.5,1033.0ZM419.5,1032.3 418.9,1032.4 419.3,1031.2 414.2,1033.8 419.8,1034.4 419.1,1033.5 419.7,1033.4ZM440.7,1031.6 439.5,1031.6 440.7,1029.2 428.7,1032.8 440.7,1036.4 439.5,1034.0 440.7,1034.0ZM461.8,1031.8 460.8,1031.8 461.8,1029.8 451.8,1032.8 461.8,1035.8 460.8,1033.8 461.8,1033.8ZM483.0,1031.5 481.7,1031.5 483.0,1028.9 470.0,1032.8 483.0,1036.7 481.7,1034.1 483.0,1034.1ZM504.1,1031.7 503.0,1031.7 504.2,1029.6 493.2,1032.7 504.1,1036.1 503.0,1033.9 504.1,1033.9ZM525.4,1032.2 524.8,1032.1 525.6,1031.0 519.1,1031.7 524.9,1034.7 524.5,1033.3 525.1,1033.5ZM546.9,1031.7 545.7,1031.2 547.8,1029.4 534.9,1028.1 545.0,1036.3 544.8,1033.5 545.9,1034.0ZM567.7,1031.5 561.6,1030.7 563.3,1028.1 548.9,1030.5 562.3,1036.4 561.2,1033.5 567.4,1034.2ZM589.3,1031.6 588.1,1031.0 590.5,1029.3 576.7,1026.7 586.8,1036.4 586.9,1033.4 588.1,1034.0ZM610.0,1031.5 607.5,1031.1 609.3,1028.5 594.8,1031.0 608.2,1036.9 607.2,1033.9 609.6,1034.2ZM630.9,1031.4 623.0,1031.9 624.2,1029.0 610.5,1033.9 624.7,1037.4 623.1,1034.7 631.0,1034.2ZM652.0,1031.4 648.1,1031.8 649.3,1028.9 635.7,1034.4 650.0,1037.2 648.4,1034.6 652.2,1034.2ZM673.0,1032.0 672.2,1032.2 672.6,1030.2 664.5,1035.0 673.9,1035.5 672.6,1033.9 673.5,1033.7ZM694.1,1031.6 692.8,1031.9 693.4,1029.1 681.9,1035.9 695.3,1036.6 693.4,1034.4 694.7,1034.1ZM715.6,1031.6 714.3,1031.5 715.7,1029.1 702.9,1032.2 715.3,1036.6 714.2,1034.0 715.5,1034.1ZM736.9,1032.4 736.4,1032.1 737.4,1031.4 731.8,1030.4 735.9,1034.3 735.9,1033.1 736.4,1033.3ZM758.4,1032.3 757.9,1031.7 759.6,1031.3 752.6,1026.9 756.0,1034.4 756.7,1032.8 757.2,1033.4ZM779.6,1032.4 779.2,1031.7 781.0,1031.6 774.8,1025.9 776.9,1034.1 777.8,1032.6 778.2,1033.3ZM801.2,1032.1 799.8,1030.0 802.9,1029.5 791.6,1020.3 796.0,1034.3 797.5,1031.5 798.9,1033.6ZM822.3,1032.0 820.0,1029.1 823.1,1028.4 811.1,1020.1 816.5,1033.6 817.8,1030.8 820.1,1033.7ZM843.4,1031.9 840.1,1028.0 843.1,1027.3 830.9,1019.3 836.7,1032.7 838.0,1029.8 841.3,1033.7ZM864.6,1031.9 859.8,1026.3 862.8,1025.5 850.5,1017.6 856.4,1030.9 857.6,1028.1 862.4,1033.7ZM885.7,1031.9 880.1,1025.2 883.1,1024.5 870.9,1016.5 876.7,1029.9 877.9,1027.0 883.6,1033.7ZM906.9,1032.0 901.0,1024.3 904.0,1023.7 892.2,1015.2 897.4,1028.9 898.8,1026.0 904.7,1033.7ZM928.0,1032.0 921.9,1024.0 924.9,1023.4 913.0,1014.9 918.3,1028.6 919.6,1025.7 925.8,1033.7ZM949.1,1032.0 943.0,1024.3 946.0,1023.7 934.0,1015.4 939.5,1028.9 940.8,1026.1 947.0,1033.7ZM970.3,1031.9 963.9,1024.4 966.9,1023.7 954.6,1015.8 960.5,1029.1 961.8,1026.3 968.1,1033.7ZM991.4,1031.9 984.8,1024.3 987.9,1023.5 975.6,1015.6 981.5,1029.0 982.7,1026.1 989.3,1033.8ZM1012.6,1031.9 1005.8,1023.8 1008.8,1023.1 996.6,1015.0 1002.4,1028.5 1003.6,1025.6 1010.4,1033.7ZM1033.7,1032.0 1027.1,1023.4 1030.2,1022.8 1018.3,1014.2 1023.5,1027.9 1024.9,1025.1 1031.5,1033.7ZM1054.9,1032.0 1048.6,1023.1 1051.7,1022.7 1040.3,1013.6 1044.9,1027.5 1046.4,1024.7 1052.6,1033.6ZM1076.0,1032.0 1069.9,1023.2 1073.0,1022.8 1061.6,1013.7 1066.1,1027.5 1067.6,1024.8 1073.8,1033.6ZM1097.2,1032.0 1091.1,1023.2 1094.2,1022.7 1082.8,1013.6 1087.3,1027.5 1088.8,1024.8 1094.9,1033.6ZM1118.3,1032.1 1112.4,1023.2 1115.5,1022.8 1104.2,1013.5 1108.5,1027.4 1110.0,1024.7 1116.0,1033.6ZM1139.5,1032.0 1133.4,1023.3 1136.5,1022.9 1125.1,1013.8 1129.6,1027.7 1131.1,1024.9 1137.2,1033.6ZM1160.6,1032.0 1154.6,1023.4 1157.7,1023.0 1146.3,1013.8 1150.8,1027.7 1152.3,1025.0 1158.3,1033.6ZM1181.8,1032.1 1176.1,1023.3 1179.2,1023.0 1168.2,1013.5 1172.2,1027.5 1173.8,1024.8 1179.4,1033.6ZM1202.9,1032.1 1197.5,1023.1 1200.6,1022.9 1189.7,1013.1 1193.4,1027.3 1195.1,1024.6 1200.5,1033.6ZM1224.1,1032.1 1218.9,1023.1 1222.1,1023.0 1211.5,1012.9 1214.8,1027.1 1216.5,1024.5 1221.7,1033.5ZM1245.2,1032.2 1240.3,1023.1 1243.4,1023.0 1233.0,1012.7 1236.0,1027.0 1237.8,1024.5 1242.8,1033.5ZM1266.4,1032.2 1261.3,1023.1 1264.4,1023.0 1253.9,1012.8 1257.1,1027.1 1258.9,1024.5 1263.9,1033.5ZM1287.5,1032.2 1282.4,1023.0 1285.5,1022.9 1274.9,1012.7 1278.2,1027.0 1279.9,1024.4 1285.1,1033.5ZM1308.7,1032.2 1303.6,1022.8 1306.7,1022.7 1296.3,1012.4 1299.3,1026.7 1301.1,1024.1 1306.2,1033.5ZM1329.8,1032.2 1324.8,1022.7 1327.9,1022.7 1317.6,1012.3 1320.5,1026.6 1322.3,1024.1 1327.3,1033.5ZM1351.0,1032.2 1345.9,1022.7 1349.0,1022.6 1338.7,1012.3 1341.6,1026.6 1343.4,1024.0 1348.5,1033.5ZM229.9,1011.1 229.2,1010.5 231.1,1009.6 222.0,1005.8 227.5,1014.0 228.0,1011.9 228.7,1012.5ZM251.2,1010.9 250.2,1010.1 252.6,1009.0 241.0,1004.5 248.2,1014.6 248.8,1012.0 249.7,1012.7ZM271.4,1010.5 270.1,1010.7 270.9,1008.0 258.8,1014.1 272.3,1015.6 270.5,1013.3 271.8,1013.1ZM292.8,1011.5 292.4,1011.4 292.9,1010.8 289.2,1011.2 292.5,1012.8 292.3,1012.1 292.7,1012.1ZM312.4,1012.4 312.6,1010.8 314.1,1010.2 315.4,1011.2 315.1,1012.8 313.6,1013.4ZM334.6,1011.4 334.3,1011.8 333.9,1010.7 331.5,1015.3 336.1,1012.9 335.0,1012.5 335.4,1012.2ZM356.7,1011.7 356.6,1011.1 357.9,1011.5 355.1,1005.9 354.4,1012.1 355.4,1011.3 355.5,1011.9ZM376.9,1011.7 376.8,1012.0 376.2,1011.4 375.8,1015.4 378.4,1012.2 377.5,1012.3 377.6,1011.9ZM398.0,1011.4 397.6,1011.8 397.3,1010.6 394.4,1015.6 399.5,1013.0 398.4,1012.6 398.8,1012.2ZM419.6,1010.7 418.5,1010.7 419.6,1008.5 408.6,1011.8 419.6,1015.1 418.5,1012.9 419.6,1012.9ZM440.7,1010.7 439.6,1010.7 440.7,1008.5 429.7,1011.8 440.7,1015.1 439.6,1012.9 440.7,1012.9ZM461.8,1010.7 460.7,1010.7 461.8,1008.5 450.8,1011.8 461.8,1015.1 460.7,1012.9 461.8,1012.9ZM483.0,1010.7 481.9,1010.7 483.0,1008.5 472.0,1011.8 483.0,1015.1 481.9,1012.9 483.0,1012.9ZM504.1,1010.7 503.0,1010.7 504.1,1008.5 493.1,1011.8 504.1,1015.1 503.0,1012.9 504.1,1012.9ZM525.2,1011.0 524.4,1011.0 525.2,1009.3 517.0,1012.0 525.3,1014.3 524.5,1012.6 525.3,1012.6ZM546.8,1010.5 533.6,1006.3 535.8,1004.0 521.2,1003.8 533.3,1012.0 532.8,1008.9 546.0,1013.1ZM567.7,1010.4 559.9,1009.7 561.5,1007.1 547.2,1010.0 560.8,1015.4 559.6,1012.5 567.4,1013.2ZM588.8,1010.9 587.9,1010.7 589.1,1009.1 579.5,1010.3 588.2,1014.5 587.6,1012.6 588.5,1012.7ZM609.8,1010.7 608.7,1010.7 609.7,1008.4 598.5,1012.2 609.9,1015.2 608.7,1013.0 609.9,1012.9ZM630.8,1010.7 629.7,1010.8 630.5,1008.4 619.5,1013.3 631.4,1015.2 630.0,1013.1 631.1,1012.9ZM651.9,1010.4 649.7,1010.7 650.7,1007.7 637.3,1013.5 651.7,1016.1 650.0,1013.5 652.3,1013.2ZM673.3,1010.5 672.0,1010.5 673.3,1008.0 660.5,1011.6 673.2,1015.6 671.9,1013.1 673.2,1013.1ZM694.7,1010.5 693.4,1010.2 695.2,1008.0 681.6,1008.9 693.5,1015.6 692.8,1012.8 694.1,1013.1ZM716.2,1010.8 715.2,1010.1 717.6,1008.7 705.3,1004.8 713.4,1014.9 713.8,1012.1 714.8,1012.8ZM737.3,1011.4 736.9,1010.8 738.4,1010.6 732.8,1005.9 734.9,1013.0 735.7,1011.6 736.1,1012.2ZM758.5,1011.5 758.2,1010.8 760.0,1010.9 754.9,1004.4 755.6,1012.7 756.8,1011.4 757.1,1012.1ZM780.0,1011.5 779.7,1010.4 782.1,1010.8 775.8,1001.4 775.8,1012.8 777.6,1011.1 777.9,1012.1ZM800.6,1011.6 800.4,1011.0 801.8,1011.2 798.1,1006.2 798.4,1012.4 799.3,1011.4 799.5,1012.0ZM822.5,1011.2 820.7,1007.1 823.8,1007.3 814.3,996.2 816.1,1010.7 818.1,1008.3 819.9,1012.4ZM843.6,1011.2 841.3,1006.7 844.5,1006.7 834.4,996.1 837.0,1010.5 838.8,1008.0 841.1,1012.4ZM864.7,1011.1 860.9,1005.0 864.0,1004.7 852.9,995.2 856.9,1009.2 858.5,1006.5 862.3,1012.5ZM885.8,1011.0 880.8,1004.3 883.9,1003.8 872.2,995.1 877.2,1008.8 878.6,1006.0 883.5,1012.6ZM906.9,1011.0 901.7,1003.6 904.7,1003.1 893.2,994.2 897.9,1008.0 899.4,1005.3 904.6,1012.6ZM928.1,1011.0 922.3,1003.0 925.4,1002.5 913.9,993.6 918.6,1007.4 920.1,1004.6 925.8,1012.6ZM949.2,1011.0 943.5,1003.0 946.6,1002.5 935.0,993.6 939.8,1007.4 941.2,1004.7 946.9,1012.6ZM970.3,1011.0 964.6,1003.0 967.7,1002.5 956.1,993.6 960.9,1007.4 962.3,1004.6 968.1,1012.6ZM991.5,1011.0 985.7,1002.8 988.8,1002.3 977.3,993.3 981.9,1007.1 983.4,1004.4 989.2,1012.6ZM1012.6,1011.0 1006.8,1002.5 1009.9,1002.1 998.5,992.9 1002.9,1006.8 1004.5,1004.1 1010.3,1012.6ZM1033.8,1011.0 1028.0,1002.3 1031.1,1001.9 1019.8,992.6 1024.1,1006.6 1025.6,1003.8 1031.5,1012.6ZM1054.9,1011.0 1049.2,1002.2 1052.4,1001.8 1041.3,992.3 1045.3,1006.4 1046.9,1003.7 1052.6,1012.6ZM1076.1,1011.0 1070.4,1002.2 1073.5,1001.8 1062.4,992.3 1066.4,1006.4 1068.0,1003.7 1073.7,1012.6ZM1097.2,1011.1 1091.6,1002.0 1094.7,1001.7 1083.8,992.0 1087.6,1006.1 1089.2,1003.5 1094.9,1012.5ZM1118.4,1011.1 1112.9,1001.9 1116.0,1001.7 1105.2,991.8 1108.8,1006.0 1110.5,1003.4 1116.0,1012.5ZM1139.5,1011.1 1133.9,1002.2 1137.0,1001.8 1125.9,992.3 1129.9,1006.3 1131.5,1003.7 1137.1,1012.5ZM1160.6,1011.0 1155.0,1002.3 1158.1,1002.0 1147.0,992.5 1151.1,1006.5 1152.6,1003.8 1158.3,1012.6ZM1181.8,1011.1 1176.5,1002.3 1179.6,1002.0 1168.8,992.2 1172.4,1006.4 1174.1,1003.7 1179.4,1012.5ZM1203.0,1011.1 1198.0,1002.2 1201.1,1002.1 1190.6,991.9 1193.8,1006.2 1195.5,1003.6 1200.5,1012.5ZM1224.1,1011.1 1219.3,1002.1 1222.4,1002.1 1212.2,991.7 1215.0,1006.0 1216.8,1003.5 1221.6,1012.5ZM1245.3,1011.1 1240.4,1002.1 1243.6,1002.0 1233.3,991.6 1236.2,1006.0 1238.0,1003.4 1242.8,1012.5ZM1266.4,1011.1 1261.5,1002.1 1264.6,1002.0 1254.2,991.7 1257.2,1006.0 1259.0,1003.5 1263.9,1012.5ZM1287.5,1011.1 1282.7,1002.1 1285.8,1002.0 1275.5,991.7 1278.4,1006.0 1280.2,1003.4 1285.1,1012.5ZM1308.7,1011.2 1304.1,1002.0 1307.2,1002.0 1297.1,991.4 1299.7,1005.8 1301.6,1003.3 1306.2,1012.4ZM1329.8,1011.2 1325.4,1002.0 1328.5,1002.0 1318.6,991.3 1320.9,1005.7 1322.9,1003.2 1327.3,1012.4ZM1351.0,1011.2 1346.5,1001.9 1349.6,1001.9 1339.7,991.2 1342.0,1005.6 1343.9,1003.1 1348.5,1012.4ZM229.7,990.2 229.1,989.7 230.6,988.9 223.2,986.5 228.0,992.6 228.3,990.9 228.9,991.4ZM251.0,989.7 250.0,989.2 252.1,987.6 240.0,985.2 248.8,993.9 248.8,991.2 249.9,991.8ZM271.6,989.4 269.0,989.4 270.4,986.6 256.4,990.8 270.4,995.0 269.0,992.2 271.6,992.2ZM292.5,990.4 292.2,990.6 292.2,989.7 289.1,992.6 293.3,991.8 292.5,991.3 292.9,991.1ZM312.8,992.0 312.3,990.5 313.3,989.2 314.9,989.5 315.4,991.0 314.4,992.3ZM335.8,990.6 335.6,989.8 337.4,990.3 333.6,982.9 332.6,991.2 334.1,990.1 334.2,990.9ZM356.9,991.0 357.1,990.2 358.5,991.4 358.2,983.0 353.8,990.1 355.6,989.8 355.4,990.6ZM376.9,990.2 376.4,990.5 376.3,989.1 371.8,994.1 378.3,992.4 377.1,991.6 377.6,991.3ZM398.2,990.0 397.4,990.2 397.8,988.5 390.8,992.9 399.1,993.0 397.9,991.7 398.6,991.5ZM419.6,989.5 418.3,989.5 419.6,986.9 406.6,990.8 419.6,994.7 418.3,992.1 419.6,992.1ZM440.7,989.5 439.4,989.5 440.7,986.9 427.7,990.8 440.7,994.7 439.4,992.1 440.7,992.1ZM461.8,989.6 460.6,989.6 461.8,987.2 449.8,990.8 461.8,994.4 460.6,992.0 461.8,992.0ZM483.0,989.5 481.7,989.5 483.0,986.9 470.0,990.8 483.0,994.7 481.7,992.1 483.0,992.1ZM504.2,989.6 503.0,989.5 504.4,987.2 492.2,989.7 503.8,994.3 502.8,991.9 504.0,992.0ZM525.0,990.0 524.2,990.3 524.3,988.5 517.7,993.8 526.2,993.0 524.8,991.8 525.6,991.5ZM546.2,989.4 544.9,989.6 545.8,986.8 533.2,992.6 547.0,994.7 545.3,992.3 546.6,992.1ZM567.7,989.7 566.7,989.5 568.2,987.6 557.0,988.7 566.9,993.9 566.3,991.6 567.3,991.8ZM588.9,989.4 585.2,988.7 587.0,986.2 572.5,987.9 585.6,994.5 584.7,991.5 588.4,992.1ZM609.6,989.4 602.6,990.7 603.4,987.7 590.5,994.5 605.0,996.0 603.1,993.5 610.1,992.1ZM630.9,989.4 629.6,989.5 630.8,986.8 617.7,991.3 631.1,994.8 629.7,992.1 631.0,992.1ZM651.9,989.4 650.0,989.7 650.9,986.7 637.7,992.9 652.2,995.0 650.4,992.4 652.3,992.1ZM673.2,989.4 669.9,989.5 671.3,986.6 657.4,991.2 671.5,995.0 670.0,992.3 673.3,992.2ZM694.6,989.9 693.8,989.7 695.2,988.3 686.1,988.1 693.6,993.3 693.3,991.3 694.1,991.6ZM716.2,990.1 715.6,989.4 717.7,988.9 709.4,983.5 713.3,992.6 714.2,990.6 714.8,991.4ZM737.2,990.6 737.0,990.0 738.3,990.2 734.8,985.1 735.0,991.3 735.9,990.4 736.1,990.9ZM758.6,990.5 758.4,989.7 760.2,990.1 755.6,982.9 755.4,991.4 756.8,990.2 757.0,991.0ZM779.6,990.6 779.5,990.0 780.8,990.4 777.8,984.4 777.0,991.1 778.2,990.2 778.3,990.9ZM800.8,990.7 800.7,990.0 802.1,990.5 799.2,984.0 798.0,991.0 799.3,990.2 799.4,990.9ZM822.6,990.5 821.7,985.8 824.7,986.6 817.9,973.7 816.4,988.3 818.9,986.3 819.8,991.0ZM843.7,990.4 841.8,984.0 844.9,984.6 837.0,972.3 836.9,986.9 839.2,984.8 841.0,991.2ZM864.8,990.2 861.6,983.2 864.7,983.3 855.1,972.3 857.1,986.8 859.1,984.4 862.2,991.3ZM885.8,990.0 881.4,982.8 884.6,982.5 873.7,972.7 877.4,986.9 879.0,984.2 883.4,991.5ZM907.0,990.0 902.2,982.3 905.3,982.0 894.3,972.3 898.1,986.5 899.8,983.8 904.6,991.5ZM928.1,990.0 923.0,981.9 926.1,981.6 915.1,972.0 919.0,986.0 920.6,983.4 925.7,991.5ZM949.2,990.0 943.9,981.6 947.0,981.3 935.9,971.7 939.9,985.8 941.5,983.1 946.9,991.5ZM970.4,990.0 965.0,981.8 968.1,981.4 957.0,972.0 961.1,986.0 962.7,983.3 968.0,991.5ZM991.5,990.0 986.3,981.6 989.4,981.3 978.4,971.6 982.3,985.7 983.9,983.1 989.2,991.5ZM1012.7,990.1 1007.5,981.3 1010.7,981.1 1000.0,971.1 1003.4,985.3 1005.1,982.7 1010.3,991.5ZM1033.8,990.1 1028.7,981.1 1031.8,981.0 1021.2,970.9 1024.6,985.1 1026.3,982.5 1031.4,991.5ZM1055.0,990.1 1049.8,981.1 1052.9,980.9 1042.2,970.9 1045.6,985.1 1047.3,982.5 1052.5,991.5ZM1076.1,990.1 1070.8,980.9 1073.9,980.7 1063.3,970.7 1066.7,984.9 1068.4,982.3 1073.7,991.5ZM1097.3,990.1 1092.0,980.8 1095.1,980.6 1084.6,970.5 1087.8,984.8 1089.6,982.2 1094.8,991.5ZM1118.4,990.1 1113.3,980.9 1116.4,980.8 1105.9,970.6 1109.1,984.9 1110.8,982.3 1116.0,991.4ZM1139.5,990.1 1134.4,981.2 1137.5,981.0 1126.9,970.9 1130.3,985.2 1132.0,982.6 1137.1,991.5ZM1160.7,990.1 1155.6,981.2 1158.7,981.0 1148.1,971.0 1151.4,985.2 1153.2,982.6 1158.2,991.5ZM1181.8,990.1 1177.0,981.2 1180.1,981.1 1169.7,970.8 1172.7,985.1 1174.5,982.6 1179.4,991.4ZM1203.0,990.1 1198.3,981.2 1201.5,981.1 1191.3,970.6 1194.0,985.0 1195.8,982.5 1200.5,991.4ZM1224.1,990.1 1219.4,981.0 1222.5,981.0 1212.3,970.5 1215.1,984.9 1216.9,982.3 1221.6,991.4ZM1245.2,990.1 1240.3,981.1 1243.4,980.9 1233.0,970.7 1236.1,985.0 1237.9,982.4 1242.8,991.4ZM1266.4,990.1 1261.4,981.1 1264.5,981.0 1254.0,970.8 1257.2,985.0 1258.9,982.5 1263.9,991.4ZM1287.5,990.1 1282.7,981.2 1285.8,981.1 1275.4,970.8 1278.4,985.1 1280.2,982.5 1285.1,991.4ZM1308.7,990.1 1304.0,981.3 1307.2,981.3 1296.9,970.8 1299.7,985.2 1301.6,982.6 1306.2,991.4ZM1329.8,990.1 1325.4,981.2 1328.6,981.2 1318.6,970.5 1321.0,984.9 1322.9,982.4 1327.3,991.4ZM1351.0,990.2 1346.8,981.0 1349.9,981.1 1340.2,970.2 1342.3,984.7 1344.2,982.2 1348.4,991.3ZM229.8,968.9 229.0,968.5 230.7,967.4 221.6,965.1 227.9,972.0 228.1,970.0 228.8,970.5ZM251.0,968.6 249.9,968.0 252.2,966.5 239.6,963.9 248.7,973.0 248.8,970.2 249.9,970.8ZM271.1,968.4 269.1,969.1 269.5,966.0 257.5,974.3 272.1,974.0 269.9,971.7 272.0,971.1ZM292.2,971.2 291.1,970.0 291.7,968.5 293.3,968.2 294.3,969.4 293.8,970.9ZM313.6,969.7 313.5,970.0 313.0,969.6 313.6,972.6 314.7,969.8 314.1,970.0 314.1,969.7ZM334.1,969.7 334.1,970.6 332.3,969.7 335.1,978.8 337.7,969.7 335.9,970.6 335.9,969.7ZM355.6,969.3 355.2,969.8 354.7,968.5 352.0,974.6 357.6,971.0 356.2,970.6 356.6,970.1ZM377.7,968.9 376.9,968.4 378.6,967.2 369.0,965.2 375.9,972.2 376.0,970.1 376.8,970.5ZM399.1,969.1 398.5,968.5 400.4,968.0 392.6,963.2 396.5,971.5 397.2,969.7 397.8,970.3ZM419.8,969.1 419.2,968.9 420.2,967.8 413.3,967.5 418.9,971.6 418.7,970.1 419.3,970.4ZM440.7,968.3 439.3,968.3 440.7,965.5 426.8,969.6 440.7,973.9 439.3,971.1 440.7,971.1ZM461.4,968.4 459.8,969.0 460.2,965.9 448.4,974.5 463.0,973.8 460.7,971.6 462.3,971.0ZM482.5,968.5 481.2,969.0 481.5,966.0 470.5,974.8 484.5,973.5 482.2,971.5 483.5,971.0ZM503.8,968.7 502.8,969.1 503.2,966.8 494.3,972.9 505.1,972.7 503.5,971.0 504.4,970.7ZM524.9,969.3 524.5,969.6 524.3,968.4 520.8,973.1 526.3,971.0 525.2,970.5 525.6,970.2ZM545.7,968.5 540.0,971.5 539.9,968.4 529.5,978.6 543.8,975.8 541.3,974.0 547.1,971.0ZM568.0,968.6 566.9,968.1 568.9,966.3 556.2,965.1 566.2,973.1 566.0,970.4 567.1,970.9ZM589.3,968.5 582.8,965.3 585.3,963.4 570.9,961.0 581.6,971.0 581.6,967.8 588.1,971.0ZM609.8,968.3 600.6,968.5 601.9,965.7 588.0,970.1 602.1,974.1 600.6,971.3 609.8,971.1ZM631.3,968.8 630.4,968.4 632.0,966.9 621.7,966.3 629.9,972.5 629.7,970.3 630.6,970.6ZM652.2,969.2 651.7,969.1 652.4,968.2 647.0,968.6 651.8,971.3 651.5,970.1 652.0,970.2ZM673.4,968.5 672.2,968.3 673.9,966.1 661.1,967.7 672.6,973.4 671.8,970.7 673.0,970.9ZM694.8,968.5 693.6,968.1 695.6,966.1 682.4,965.6 693.1,973.3 692.8,970.5 694.0,970.9ZM716.0,969.3 715.5,968.8 716.9,968.3 710.9,965.2 714.2,971.1 714.6,969.7 715.1,970.2ZM737.1,969.5 736.9,969.0 738.1,969.0 734.2,964.8 735.2,970.4 735.9,969.5 736.2,970.0ZM758.6,969.4 758.3,968.6 760.2,968.9 755.0,961.6 755.4,970.6 756.7,969.2 757.0,970.0ZM779.8,969.6 779.7,968.7 781.6,969.4 777.8,961.0 776.3,970.1 778.0,969.0 778.1,969.8ZM800.9,969.7 800.9,968.9 802.5,969.6 799.7,961.6 797.7,969.8 799.2,968.9 799.3,969.8ZM821.9,969.7 821.8,969.0 823.3,969.5 820.5,962.9 819.2,969.9 820.5,969.1 820.5,969.8ZM843.7,969.5 842.3,961.4 845.3,962.2 838.6,949.2 837.0,963.8 839.5,961.9 841.0,970.0ZM864.8,969.3 862.1,961.1 865.2,961.5 856.8,949.6 857.2,964.2 859.5,962.0 862.2,970.2ZM885.9,969.1 881.8,960.9 884.9,960.9 874.9,950.3 877.4,964.7 879.3,962.2 883.4,970.3ZM907.0,969.1 902.5,960.7 905.6,960.6 895.3,950.3 898.2,964.6 900.0,962.0 904.5,970.4ZM928.2,969.1 923.8,960.6 926.9,960.6 916.8,950.0 919.4,964.4 921.3,961.9 925.7,970.4ZM949.3,969.1 944.7,960.4 947.8,960.3 937.5,950.0 940.4,964.3 942.2,961.8 946.8,970.4ZM970.4,969.0 965.4,960.7 968.6,960.4 957.8,950.6 961.3,964.7 963.0,962.1 968.0,970.4ZM991.5,969.0 986.7,960.7 989.8,960.5 979.1,950.5 982.5,964.7 984.2,962.1 989.1,970.4ZM1012.7,969.1 1008.1,960.3 1011.2,960.2 1000.9,949.8 1003.8,964.2 1005.6,961.6 1010.2,970.4ZM1033.9,969.1 1029.3,960.1 1032.4,960.0 1022.3,949.5 1024.9,963.8 1026.8,961.3 1031.4,970.4ZM1055.0,969.1 1050.3,960.0 1053.4,959.9 1043.2,949.4 1046.0,963.8 1047.8,961.2 1052.5,970.4ZM1076.1,969.1 1071.4,959.8 1074.5,959.8 1064.4,949.2 1067.0,963.6 1068.9,961.1 1073.7,970.4ZM1097.3,969.1 1092.5,959.7 1095.7,959.7 1085.6,949.1 1088.2,963.5 1090.0,961.0 1094.8,970.4ZM1118.4,969.1 1113.7,959.9 1116.8,959.9 1106.7,949.4 1109.4,963.7 1111.2,961.2 1115.9,970.4ZM1139.6,969.1 1134.9,960.1 1138.1,960.1 1127.9,949.6 1130.6,964.0 1132.5,961.4 1137.1,970.4ZM1160.7,969.1 1156.1,960.2 1159.2,960.2 1149.0,949.7 1151.8,964.0 1153.6,961.5 1158.2,970.4ZM1181.9,969.1 1177.4,960.1 1180.5,960.1 1170.5,949.5 1173.0,963.9 1174.9,961.4 1179.3,970.3ZM1203.0,969.1 1198.6,959.9 1201.7,960.0 1191.9,949.1 1194.2,963.6 1196.1,961.1 1200.5,970.3ZM1224.1,969.1 1219.6,959.8 1222.8,959.8 1212.9,949.0 1215.2,963.5 1217.1,961.0 1221.6,970.3ZM1245.3,969.1 1240.6,959.9 1243.8,959.9 1233.7,949.3 1236.3,963.7 1238.1,961.2 1242.8,970.3ZM1266.4,969.1 1261.7,959.9 1264.8,959.9 1254.7,949.4 1257.4,963.7 1259.2,961.2 1263.9,970.4ZM1287.5,969.1 1282.9,960.0 1286.0,960.0 1275.8,949.5 1278.5,963.9 1280.4,961.3 1285.1,970.4ZM1308.7,969.1 1304.1,960.3 1307.3,960.3 1297.1,949.8 1299.8,964.1 1301.6,961.6 1306.2,970.4ZM1329.8,969.1 1325.6,960.3 1328.7,960.3 1318.9,949.5 1321.2,964.0 1323.1,961.5 1327.3,970.3ZM1351.0,969.2 1347.1,960.2 1350.2,960.3 1340.8,949.2 1342.5,963.7 1344.5,961.3 1348.4,970.3ZM229.3,948.1 228.7,948.2 229.2,947.1 223.9,949.0 229.4,950.3 228.8,949.3 229.3,949.2ZM250.5,948.3 250.1,948.3 250.5,947.6 246.7,948.5 250.4,949.8 250.1,949.0 250.4,949.1ZM271.3,948.2 270.8,948.5 270.7,947.2 266.6,951.7 272.5,950.2 271.4,949.5 271.9,949.2ZM292.3,948.5 292.2,948.9 291.5,948.2 291.3,952.7 293.9,949.1 293.0,949.2 293.1,948.8ZM313.5,948.6 313.4,948.9 312.9,948.4 313.0,952.0 314.9,948.9 314.1,949.1 314.2,948.8ZM334.1,948.6 334.1,949.5 332.4,948.5 334.4,957.4 337.6,948.8 335.8,949.6 335.9,948.7ZM355.4,948.1 354.7,948.8 353.8,946.8 350.0,956.5 358.5,950.5 356.3,950.1 356.9,949.3ZM377.6,948.2 377.1,947.9 378.3,947.2 372.5,945.4 376.3,950.1 376.5,948.8 376.9,949.2ZM399.4,948.8 399.5,947.8 401.4,949.0 399.3,938.7 395.4,948.4 397.5,947.6 397.4,948.6ZM420.0,948.7 420.0,948.3 420.7,948.8 419.8,944.8 418.4,948.6 419.2,948.3 419.2,948.7ZM441.3,948.0 440.6,947.5 442.4,946.8 434.3,943.0 439.0,950.6 439.5,948.7 440.1,949.3ZM461.8,947.3 454.7,947.7 455.9,944.8 442.2,949.9 456.5,953.2 454.9,950.5 461.9,950.1ZM483.0,947.5 481.8,947.6 482.9,945.2 471.5,949.0 483.1,952.1 481.9,949.9 483.0,949.8ZM504.1,948.2 503.6,948.3 503.9,947.3 499.5,949.2 504.3,950.1 503.7,949.2 504.2,949.1ZM524.9,947.9 524.1,948.3 524.1,946.5 517.9,952.5 526.4,950.9 524.9,949.8 525.6,949.4ZM545.9,947.4 540.3,949.3 540.7,946.2 528.8,954.7 543.4,954.1 541.2,952.0 546.9,950.0ZM567.5,947.3 551.6,947.6 553.0,944.7 539.0,949.2 553.1,953.1 551.7,950.4 567.6,950.1ZM588.0,947.5 576.2,954.3 576.0,951.1 566.0,961.8 580.2,958.4 577.6,956.7 589.4,949.9ZM610.3,947.4 597.1,942.6 599.4,940.4 584.8,939.6 596.5,948.3 596.2,945.2 609.3,950.0ZM631.3,948.3 630.9,948.0 631.9,947.6 627.4,945.7 630.1,949.7 630.3,948.7 630.7,949.0ZM652.9,947.9 652.0,947.1 654.4,946.2 643.8,941.0 649.8,951.2 650.5,948.7 651.3,949.5ZM673.5,948.4 673.2,948.2 673.9,947.9 670.8,946.5 672.6,949.4 672.8,948.7 673.0,948.9ZM695.0,948.0 694.3,947.4 696.2,946.7 687.8,942.7 692.6,950.6 693.1,948.7 693.8,949.3ZM716.1,948.3 715.7,947.7 717.2,947.4 711.4,943.2 713.9,949.9 714.6,948.5 715.0,949.1ZM737.4,948.2 737.0,947.5 739.0,947.4 732.3,940.9 734.3,950.0 735.4,948.3 735.9,949.1ZM758.6,948.4 758.3,947.6 760.1,947.8 754.9,941.2 755.5,949.6 756.8,948.2 757.0,949.0ZM779.9,948.6 779.8,947.6 781.9,948.3 777.8,938.8 776.0,949.0 777.8,947.8 778.0,948.8ZM801.0,948.6 800.9,947.7 802.8,948.4 799.1,939.5 797.3,949.0 799.1,947.9 799.2,948.8ZM822.0,948.5 821.9,947.7 823.6,948.3 819.9,940.6 818.8,949.1 820.3,948.0 820.4,948.8ZM843.7,948.5 842.5,939.5 845.4,940.5 839.3,927.2 837.1,941.6 839.7,939.9 841.0,948.9ZM864.9,948.3 862.4,938.7 865.4,939.4 857.8,926.9 857.3,941.5 859.7,939.4 862.1,949.0ZM885.9,948.1 881.8,939.3 885.0,939.4 875.2,928.5 877.3,943.0 879.3,940.5 883.4,949.3ZM907.0,948.1 903.1,939.9 906.2,939.9 896.4,929.1 898.7,943.6 900.6,941.1 904.5,949.3ZM928.2,948.1 924.8,940.1 927.9,940.3 918.7,929.0 920.2,943.5 922.2,941.1 925.6,949.2ZM949.3,948.1 945.9,940.0 949.0,940.2 939.6,929.0 941.3,943.5 943.3,941.1 946.8,949.2ZM970.5,948.1 966.5,940.1 969.6,940.2 959.6,929.5 962.1,943.9 964.0,941.4 967.9,949.3ZM991.6,948.0 987.5,940.1 990.6,940.0 980.4,929.5 983.1,943.9 985.0,941.4 989.1,949.3ZM1012.7,948.1 1008.8,939.7 1011.9,939.8 1002.1,928.9 1004.3,943.4 1006.3,940.9 1010.2,949.3ZM1033.9,948.1 1030.0,939.5 1033.1,939.6 1023.4,928.6 1025.4,943.1 1027.4,940.6 1031.3,949.3ZM1055.0,948.1 1051.0,939.5 1054.1,939.6 1044.3,928.7 1046.5,943.2 1048.4,940.7 1052.5,949.3ZM1076.2,948.1 1072.2,939.5 1075.3,939.6 1065.6,928.7 1067.7,943.1 1069.7,940.7 1073.6,949.3ZM1097.3,948.1 1093.5,939.4 1096.7,939.6 1087.2,928.5 1089.0,943.0 1091.0,940.6 1094.8,949.2ZM1118.5,948.1 1114.8,939.5 1117.9,939.7 1108.5,928.5 1110.2,943.0 1112.2,940.6 1115.9,949.2ZM1139.6,948.1 1135.9,939.7 1139.0,939.9 1129.5,928.8 1131.3,943.3 1133.3,940.9 1137.0,949.2ZM1160.7,948.1 1156.8,939.8 1159.9,939.9 1150.1,929.1 1152.3,943.5 1154.3,941.0 1158.2,949.3ZM1181.9,948.1 1177.9,939.8 1181.1,939.9 1171.3,929.0 1173.5,943.5 1175.4,941.0 1179.3,949.3ZM1203.0,948.1 1199.3,939.5 1202.4,939.7 1193.0,928.6 1194.7,943.1 1196.7,940.7 1200.5,949.2ZM1224.2,948.1 1220.5,939.3 1223.6,939.5 1214.3,928.2 1215.8,942.7 1217.9,940.3 1221.6,949.2ZM1245.3,948.1 1241.6,939.2 1244.7,939.4 1235.4,928.1 1236.9,942.6 1239.0,940.3 1242.7,949.2ZM1266.4,948.1 1262.6,939.2 1265.8,939.4 1256.4,928.1 1258.0,942.7 1260.1,940.3 1263.9,949.2ZM1287.6,948.1 1283.7,939.4 1286.9,939.5 1277.4,928.4 1279.2,942.9 1281.2,940.5 1285.0,949.2ZM1308.7,948.1 1305.0,939.6 1308.1,939.8 1298.7,928.6 1300.4,943.1 1302.4,940.7 1306.2,949.2ZM1329.9,948.1 1326.4,939.6 1329.5,939.9 1320.3,928.5 1321.7,943.1 1323.8,940.7 1327.3,949.2ZM1351.0,948.2 1347.6,939.7 1350.7,939.9 1341.6,928.5 1342.9,943.1 1345.0,940.7 1348.4,949.2ZM228.8,926.8 227.9,927.2 227.9,925.0 220.5,932.4 230.7,930.3 228.9,929.0 229.8,928.5ZM250.0,927.2 249.6,927.6 249.2,926.3 246.1,931.8 251.7,928.9 250.4,928.5 250.9,928.1ZM271.0,927.5 270.9,928.1 270.0,927.3 270.6,933.0 273.2,927.9 272.0,928.3 272.1,927.7ZM291.6,927.4 291.4,928.5 289.3,927.0 290.4,938.9 296.1,928.3 293.6,929.0 293.8,927.9ZM312.5,927.3 311.8,930.6 309.3,928.7 310.4,943.2 317.5,930.5 314.5,931.2 315.2,927.9ZM334.1,928.0 334.5,928.9 332.4,928.8 338.8,936.5 337.6,926.5 336.3,928.1 335.9,927.3ZM355.6,927.7 355.7,928.2 354.6,927.8 356.6,932.6 357.6,927.5 356.7,928.1 356.6,927.6ZM377.2,926.7 376.2,926.7 377.0,924.7 367.5,928.5 377.5,930.6 376.4,928.7 377.4,928.6ZM399.1,928.1 399.5,927.4 400.5,928.9 402.6,920.8 396.4,926.4 398.2,926.5 397.7,927.2ZM419.5,928.7 420.5,928.7 419.4,930.8 430.0,928.2 419.7,924.5 420.7,926.7 419.6,926.6ZM442.0,927.6 442.0,926.2 444.7,927.4 439.9,914.3 436.7,927.9 439.3,926.4 439.4,927.7ZM461.5,926.3 450.7,929.4 451.3,926.3 439.0,934.2 453.6,934.4 451.5,932.1 462.2,929.0ZM482.7,926.8 481.9,927.0 482.3,925.1 474.6,930.0 483.7,930.2 482.4,928.7 483.2,928.5ZM504.1,927.2 503.7,927.3 504.0,926.4 500.1,928.2 504.3,928.8 503.8,928.1 504.2,928.0ZM525.2,926.7 524.3,926.8 525.1,924.9 516.0,928.2 525.4,930.4 524.4,928.6 525.3,928.6ZM546.5,926.8 545.7,926.7 546.8,925.1 538.0,926.4 546.0,930.2 545.4,928.4 546.3,928.5ZM567.5,926.2 563.1,926.4 564.4,923.5 550.6,928.2 564.7,931.9 563.2,929.2 567.6,929.0ZM589.2,926.4 580.5,922.5 582.9,920.5 568.4,918.6 579.5,928.1 579.3,925.0 588.1,928.9ZM609.7,926.2 600.5,926.9 601.7,924.0 588.1,929.2 602.3,932.4 600.7,929.7 609.9,929.0ZM631.3,927.2 630.9,926.8 632.1,926.4 626.8,923.8 629.8,928.9 630.2,927.7 630.6,928.1ZM653.0,927.2 652.6,926.3 654.9,926.3 647.8,918.2 649.3,928.9 650.7,927.1 651.2,928.1ZM674.3,927.4 674.1,926.3 676.5,926.9 670.8,916.9 670.0,928.4 671.9,926.8 672.2,927.9ZM694.8,927.5 694.7,927.2 695.5,927.3 693.4,923.9 693.3,927.9 693.9,927.4 694.0,927.7ZM715.9,927.5 715.8,927.1 716.7,927.3 714.4,923.7 714.3,928.0 715.0,927.4 715.1,927.8ZM737.3,927.4 737.1,926.8 738.7,927.0 734.7,921.0 734.7,928.2 735.8,927.2 736.0,927.8ZM758.7,927.3 758.5,926.4 760.6,926.8 754.9,918.2 755.0,928.5 756.6,927.0 756.9,927.9ZM780.0,927.5 779.8,926.4 782.2,927.1 777.1,916.9 775.7,928.2 777.7,926.7 777.9,927.8ZM801.0,927.4 800.8,926.5 802.8,927.0 798.1,918.6 797.4,928.2 799.0,926.9 799.2,927.8ZM822.1,927.4 821.9,926.6 823.8,927.0 819.0,919.1 818.7,928.3 820.1,927.0 820.4,927.9ZM843.3,927.5 843.1,926.6 845.0,927.2 840.9,918.7 839.7,928.1 841.3,926.9 841.5,927.8ZM864.9,927.3 862.8,918.3 865.8,919.0 858.5,906.4 857.6,920.9 860.0,918.9 862.1,928.0ZM885.9,927.1 882.6,918.9 885.7,919.2 876.5,907.8 877.9,922.3 880.0,920.0 883.3,928.2ZM907.1,927.1 903.9,919.6 907.0,919.8 897.7,908.6 899.3,923.1 901.3,920.7 904.5,928.2ZM928.2,927.1 925.5,919.9 928.6,920.2 919.7,908.6 920.7,923.2 922.8,920.9 925.6,928.1ZM949.4,927.1 946.5,919.8 949.6,920.1 940.7,908.6 941.8,923.2 943.9,920.8 946.8,928.1ZM970.5,927.1 967.3,919.9 970.5,920.1 961.0,908.9 962.8,923.4 964.8,921.0 967.9,928.2ZM991.6,927.0 988.2,919.7 991.3,919.8 981.6,908.8 983.7,923.3 985.6,920.9 989.1,928.2ZM1012.8,927.1 1009.3,919.3 1012.4,919.4 1002.9,908.3 1004.8,922.8 1006.7,920.4 1010.2,928.2ZM1033.9,927.1 1030.5,919.2 1033.6,919.3 1024.2,908.2 1025.9,922.7 1027.9,920.3 1031.3,928.2ZM1055.0,927.1 1051.5,919.2 1054.7,919.4 1045.1,908.3 1047.0,922.8 1049.0,920.4 1052.5,928.2ZM1076.2,927.1 1072.9,919.3 1076.0,919.5 1066.6,908.2 1068.3,922.8 1070.3,920.4 1073.6,928.2ZM1097.4,927.1 1094.4,919.3 1097.5,919.6 1088.7,908.0 1089.6,922.6 1091.8,920.3 1094.7,928.1ZM1118.5,927.2 1115.7,919.3 1118.8,919.7 1110.2,907.9 1110.9,922.5 1113.1,920.3 1115.9,928.1ZM1139.6,927.2 1136.8,919.4 1139.9,919.8 1131.1,908.1 1132.0,922.7 1134.1,920.4 1137.0,928.1ZM1160.7,927.1 1157.5,919.5 1160.7,919.7 1151.3,908.4 1152.9,923.0 1154.9,920.6 1158.2,928.2ZM1181.9,927.1 1178.5,919.5 1181.7,919.7 1172.2,908.6 1174.0,923.1 1176.0,920.7 1179.3,928.2ZM1203.0,927.1 1199.9,919.4 1203.0,919.7 1193.9,908.2 1195.3,922.8 1197.3,920.5 1200.4,928.2ZM1224.2,927.2 1221.2,919.2 1224.4,919.5 1215.6,907.8 1216.5,922.4 1218.6,920.1 1221.6,928.1ZM1245.3,927.2 1242.4,918.8 1245.5,919.2 1237.0,907.4 1237.6,922.0 1239.8,919.7 1242.7,928.1ZM1266.5,927.2 1263.6,918.7 1266.7,919.1 1258.1,907.2 1258.7,921.8 1260.9,919.6 1263.8,928.1ZM1287.6,927.2 1284.6,918.7 1287.7,919.1 1279.0,907.4 1279.8,922.0 1281.9,919.7 1285.0,928.1ZM1308.8,927.2 1305.8,918.9 1308.9,919.3 1300.1,907.5 1301.0,922.1 1303.1,919.9 1306.1,928.1ZM1329.9,927.2 1327.0,919.0 1330.1,919.4 1321.5,907.6 1322.2,922.2 1324.4,919.9 1327.3,928.1ZM1351.0,927.2 1348.1,919.0 1351.2,919.4 1342.5,907.6 1343.3,922.2 1345.5,920.0 1348.4,928.1ZM228.6,906.1 228.1,906.8 227.2,905.0 224.0,913.5 231.4,908.2 229.5,907.8 230.0,907.1ZM249.8,906.7 250.0,907.3 248.7,907.0 251.7,912.5 252.2,906.2 251.2,907.1 251.0,906.5ZM271.4,906.9 271.7,907.1 270.9,907.5 274.5,908.8 272.2,905.7 272.1,906.5 271.8,906.3ZM292.2,906.9 292.5,907.4 291.2,907.5 295.6,911.6 294.2,905.7 293.5,906.8 293.2,906.3ZM313.0,907.0 313.4,907.8 311.3,907.7 317.4,915.1 316.4,905.5 315.1,907.1 314.7,906.2ZM334.5,907.3 335.2,907.9 333.4,908.7 342.1,912.1 336.6,904.5 336.3,906.4 335.5,905.9ZM355.0,907.2 355.6,908.3 352.8,908.3 361.7,917.9 359.5,904.9 357.8,907.2 357.3,906.0ZM377.0,906.1 376.5,906.4 376.4,905.2 372.5,909.5 378.2,908.0 377.1,907.4 377.6,907.1ZM398.9,906.8 399.1,906.3 399.9,907.3 400.6,901.8 397.0,905.9 398.2,905.9 397.9,906.4ZM419.3,907.1 419.8,907.4 418.7,908.1 424.5,909.5 420.4,905.1 420.3,906.4 419.8,906.1ZM441.7,906.8 441.9,905.9 443.6,907.2 442.8,897.1 437.8,906.0 440.0,905.4 439.7,906.4ZM461.3,905.8 460.5,906.3 460.2,904.2 453.7,911.9 463.4,909.0 461.6,907.9 462.4,907.4ZM482.3,905.9 481.6,906.6 480.8,904.5 476.1,913.8 485.1,908.7 483.0,908.0 483.7,907.3ZM503.8,906.0 503.2,906.3 503.3,904.7 497.9,909.4 505.0,908.5 503.8,907.5 504.4,907.2ZM525.2,905.9 524.5,906.0 525.0,904.5 518.2,907.5 525.5,908.7 524.6,907.4 525.3,907.3ZM546.6,906.1 546.1,906.0 546.9,905.2 541.6,905.0 545.9,908.0 545.8,906.9 546.2,907.1ZM568.0,906.0 567.4,905.6 568.8,904.9 562.0,902.4 566.3,908.3 566.6,906.7 567.1,907.2ZM589.1,906.1 588.6,905.6 590.1,905.0 583.4,901.9 587.3,908.2 587.7,906.7 588.2,907.1ZM610.0,906.4 609.8,906.2 610.4,905.9 607.3,904.8 609.3,907.3 609.4,906.7 609.6,906.8ZM631.5,905.9 630.8,905.4 632.5,904.5 624.1,901.5 629.4,908.7 629.8,906.8 630.5,907.3ZM652.8,906.3 652.5,905.5 654.3,905.6 648.8,899.3 649.9,907.6 651.0,906.2 651.4,906.9ZM673.7,906.6 673.6,906.1 674.6,906.5 672.8,902.1 671.9,906.7 672.8,906.2 672.8,906.6ZM695.1,906.4 694.9,905.6 696.6,906.0 692.3,899.1 692.1,907.2 693.4,906.1 693.6,906.8ZM716.1,906.3 715.8,905.7 717.3,905.6 712.3,900.6 713.7,907.6 714.6,906.3 714.9,906.9ZM737.0,906.4 736.8,906.1 737.6,906.1 735.0,903.5 735.7,907.1 736.2,906.5 736.3,906.8ZM758.4,906.3 758.1,905.7 759.6,905.7 754.8,900.6 756.0,907.5 756.9,906.3 757.2,906.9ZM780.0,906.2 779.6,905.1 782.1,905.3 774.7,896.0 775.8,907.9 777.5,906.0 777.9,907.0ZM800.9,906.4 800.7,905.6 802.5,906.0 798.0,898.5 797.6,907.2 799.1,906.0 799.3,906.8ZM821.9,906.5 821.8,905.8 823.4,906.3 820.2,899.5 819.1,906.9 820.4,906.0 820.5,906.7ZM843.2,906.5 843.0,905.7 844.7,906.3 841.3,898.7 840.0,906.9 841.5,905.9 841.6,906.7ZM864.9,906.3 863.0,898.5 866.1,899.2 858.8,886.5 857.9,901.1 860.3,899.1 862.1,906.9ZM886.0,906.1 883.5,898.9 886.6,899.3 878.0,887.5 878.6,902.1 880.8,899.8 883.3,907.1ZM907.1,906.1 904.4,899.2 907.5,899.5 898.6,887.9 899.7,902.5 901.8,900.2 904.5,907.1ZM928.2,906.1 925.5,899.3 928.6,899.6 919.5,888.2 920.8,902.7 922.9,900.4 925.6,907.1ZM949.3,906.0 946.4,899.4 949.5,899.6 940.0,888.5 941.9,903.0 943.8,900.6 946.8,907.2ZM970.5,906.0 967.4,899.5 970.6,899.6 960.9,888.6 962.9,903.1 964.9,900.7 967.9,907.2ZM991.6,906.0 988.5,899.2 991.6,899.3 982.0,888.3 984.0,902.8 986.0,900.4 989.1,907.2ZM1012.8,906.0 1009.7,899.0 1012.8,899.1 1003.3,888.0 1005.1,902.5 1007.1,900.1 1010.2,907.2ZM1033.9,906.0 1030.9,899.0 1034.0,899.2 1024.6,888.0 1026.3,902.5 1028.3,900.1 1031.3,907.2ZM1055.0,906.0 1052.0,898.9 1055.1,899.1 1045.8,887.9 1047.4,902.4 1049.4,900.0 1052.5,907.2ZM1076.2,906.1 1073.4,898.8 1076.5,899.1 1067.5,887.6 1068.7,902.2 1070.8,899.8 1073.6,907.1ZM1097.4,906.2 1094.9,898.8 1098.0,899.3 1089.6,887.3 1090.1,901.9 1092.3,899.7 1094.7,907.0ZM1118.5,906.2 1116.3,898.9 1119.4,899.5 1111.3,887.3 1111.3,901.9 1113.6,899.8 1115.8,907.0ZM1139.7,906.2 1137.4,899.0 1140.5,899.5 1132.2,887.4 1132.5,902.0 1134.7,899.8 1137.0,907.0ZM1160.8,906.1 1158.3,899.1 1161.4,899.5 1152.7,887.7 1153.5,902.3 1155.6,900.1 1158.1,907.1ZM1181.9,906.1 1179.3,899.2 1182.4,899.5 1173.6,887.9 1174.6,902.5 1176.7,900.2 1179.3,907.1ZM1203.1,906.1 1200.6,899.1 1203.7,899.5 1195.0,887.7 1195.8,902.3 1197.9,900.0 1200.4,907.1ZM1224.2,906.2 1221.8,898.9 1224.9,899.3 1216.6,887.3 1216.9,901.9 1219.2,899.7 1221.5,907.0ZM1245.4,906.2 1243.1,898.6 1246.2,899.1 1238.1,886.9 1238.1,901.5 1240.4,899.4 1242.7,907.0ZM1266.5,906.2 1264.2,898.3 1267.3,898.9 1259.3,886.6 1259.2,901.2 1261.5,899.1 1263.8,907.0ZM1287.6,906.2 1285.1,898.2 1288.2,898.7 1280.0,886.6 1280.2,901.2 1282.5,899.1 1285.0,907.0ZM1308.8,906.2 1306.2,898.3 1309.3,898.7 1300.9,886.8 1301.3,901.4 1303.5,899.2 1306.1,907.0ZM1329.9,906.2 1327.4,898.4 1330.5,898.9 1322.1,886.9 1322.5,901.5 1324.7,899.3 1327.3,907.0ZM1351.1,906.2 1348.5,898.4 1351.6,898.9 1343.3,886.8 1343.6,901.5 1345.8,899.3 1348.4,907.0ZM228.9,885.4 228.8,885.8 228.2,885.2 228.2,889.4 230.4,885.9 229.6,886.1 229.7,885.7ZM250.1,885.7 250.2,886.0 249.5,885.9 251.6,888.7 251.4,885.2 250.9,885.8 250.8,885.4ZM271.3,885.7 271.5,886.0 270.7,886.1 273.5,888.6 272.5,885.0 272.1,885.7 271.9,885.4ZM292.4,885.7 292.5,886.0 291.9,885.9 293.8,888.4 293.6,885.2 293.1,885.7 293.0,885.4ZM313.4,885.9 313.8,886.3 312.6,886.7 317.5,889.7 315.1,884.5 314.6,885.6 314.3,885.2ZM334.4,886.1 334.9,886.8 333.1,887.2 340.6,891.9 336.9,883.9 336.2,885.6 335.6,885.0ZM355.4,885.1 354.9,885.9 353.9,884.2 351.5,893.1 358.4,886.9 356.4,886.8 356.9,886.0ZM377.7,884.4 376.5,884.0 378.6,882.0 365.5,881.3 376.0,889.1 375.7,886.3 376.9,886.7ZM398.6,884.0 399.9,884.9 399.7,886.5 398.3,887.2 397.0,886.2 397.1,884.6ZM419.7,885.9 420.1,885.8 420.0,886.7 423.3,884.1 419.1,884.5 419.8,885.0 419.4,885.2ZM441.3,885.6 441.3,885.0 442.4,885.6 441.0,879.7 439.0,885.5 440.1,884.9 440.1,885.5ZM461.5,884.7 460.6,885.0 460.9,882.9 453.0,888.7 462.8,888.2 461.3,886.8 462.2,886.4ZM482.1,885.0 481.6,885.9 480.3,884.0 477.8,894.5 485.7,887.1 483.4,887.0 483.9,886.1ZM504.1,884.2 502.5,884.2 503.8,881.4 489.9,886.1 504.1,889.8 502.6,887.0 504.2,887.0ZM525.2,884.6 524.2,884.6 525.0,882.6 515.4,886.3 525.5,888.5 524.3,886.6 525.3,886.5ZM547.4,884.6 546.2,883.3 549.1,882.4 536.4,875.3 543.1,888.2 544.2,885.3 545.4,886.5ZM568.5,885.3 568.2,884.3 570.4,884.6 564.4,876.1 564.7,886.5 566.3,884.9 566.6,885.9ZM590.0,885.0 588.3,881.0 591.4,881.2 582.2,869.9 583.7,884.5 585.7,882.1 587.4,886.1ZM609.8,884.2 602.4,884.4 603.7,881.6 589.8,886.3 604.0,890.0 602.5,887.2 609.9,887.0ZM631.5,884.6 630.5,884.1 632.4,882.8 621.7,880.6 629.5,888.3 629.5,886.0 630.5,886.5ZM653.2,884.9 652.6,883.8 655.5,883.6 645.5,874.1 648.7,887.5 650.3,885.1 651.0,886.2ZM674.2,885.2 673.8,884.3 676.0,884.5 669.7,876.2 670.4,886.6 671.9,885.0 672.3,885.9ZM695.2,885.0 694.6,884.1 697.0,883.8 688.4,876.9 691.8,887.4 692.9,885.3 693.5,886.2ZM716.4,884.5 715.3,883.7 718.0,882.5 705.4,877.2 713.0,888.6 713.7,885.7 714.7,886.6ZM737.3,884.8 736.6,884.2 738.7,883.4 729.5,878.8 734.6,887.7 735.3,885.6 736.0,886.3ZM758.3,885.1 757.9,884.6 759.4,884.3 753.4,880.4 756.2,886.9 756.8,885.5 757.3,886.0ZM779.9,885.1 779.5,884.1 782.0,884.1 774.0,875.5 775.9,887.1 777.4,885.0 777.9,886.1ZM800.6,885.5 800.6,885.0 801.8,885.5 799.9,880.0 798.4,885.6 799.5,885.0 799.5,885.6ZM821.8,885.6 821.9,885.1 822.9,885.8 822.0,879.8 819.5,885.3 820.7,884.9 820.6,885.5ZM843.0,885.6 843.1,884.9 844.4,885.6 842.5,878.7 840.3,885.5 841.7,884.9 841.7,885.5ZM864.4,885.4 864.2,884.6 866.1,885.2 862.3,877.0 860.9,885.9 862.5,884.8 862.6,885.7ZM886.0,885.2 884.3,879.2 887.4,879.8 879.6,867.4 879.3,882.0 881.6,879.9 883.3,885.9ZM907.1,885.1 904.9,878.8 908.0,879.2 899.4,867.4 900.1,882.0 902.2,879.7 904.5,886.0ZM928.2,885.0 925.7,878.8 928.8,879.0 919.6,867.6 921.0,882.2 923.1,879.8 925.6,886.1ZM949.3,885.0 946.5,879.0 949.6,879.1 939.8,868.2 942.0,882.7 944.0,880.2 946.8,886.2ZM970.5,885.0 967.6,878.9 970.7,879.0 960.9,868.1 963.1,882.6 965.1,880.1 967.9,886.2ZM991.6,885.0 988.9,878.6 992.0,878.8 982.6,867.6 984.3,882.1 986.3,879.7 989.1,886.1ZM1012.8,885.0 1010.0,878.6 1013.1,878.8 1003.8,867.6 1005.4,882.1 1007.4,879.7 1010.2,886.1ZM1033.9,885.0 1031.2,878.7 1034.3,878.9 1024.9,867.7 1026.6,882.2 1028.6,879.8 1031.3,886.1ZM1055.1,885.0 1052.4,878.6 1055.6,878.9 1046.4,867.5 1047.8,882.1 1049.9,879.7 1052.5,886.1ZM1076.2,885.1 1073.8,878.5 1077.0,878.9 1068.2,867.1 1069.1,881.7 1071.2,879.5 1073.6,886.0ZM1097.4,885.1 1095.3,878.5 1098.4,879.0 1090.2,866.9 1090.4,881.5 1092.6,879.3 1094.7,886.0ZM1118.5,885.2 1116.6,878.6 1119.7,879.2 1111.7,866.9 1111.6,881.5 1113.9,879.4 1115.8,886.0ZM1139.7,885.2 1137.7,878.7 1140.8,879.3 1132.7,867.1 1132.8,881.7 1135.0,879.6 1137.0,886.0ZM1160.8,885.1 1158.8,878.9 1161.9,879.4 1153.6,867.4 1153.9,882.0 1156.1,879.8 1158.1,886.0ZM1181.9,885.1 1179.9,878.9 1183.0,879.4 1174.6,867.4 1175.0,882.0 1177.2,879.8 1179.3,886.0ZM1203.1,885.1 1201.1,878.8 1204.2,879.4 1196.1,867.2 1196.2,881.8 1198.5,879.7 1200.4,886.0ZM1224.2,885.2 1222.4,878.6 1225.4,879.2 1217.6,866.9 1217.4,881.5 1219.7,879.4 1221.5,885.9ZM1245.4,885.2 1243.6,878.4 1246.7,879.0 1239.0,866.5 1238.5,881.2 1240.9,879.1 1242.7,885.9ZM1266.5,885.2 1264.8,878.1 1267.8,878.8 1260.4,866.2 1259.7,880.8 1262.1,878.8 1263.8,885.9ZM1287.7,885.2 1285.8,878.0 1288.8,878.6 1281.3,866.1 1280.7,880.7 1283.1,878.7 1284.9,885.9ZM1308.8,885.2 1306.8,878.0 1309.9,878.6 1302.1,866.2 1301.8,880.8 1304.1,878.7 1306.1,885.9ZM1329.9,885.2 1327.9,878.0 1331.0,878.6 1323.1,866.2 1322.9,880.9 1325.2,878.7 1327.2,885.9ZM1351.1,885.2 1349.0,877.9 1352.1,878.5 1344.2,866.2 1344.0,880.8 1346.3,878.7 1348.4,885.9ZM228.6,864.6 228.7,865.3 227.3,864.7 230.1,871.1 231.3,864.3 230.0,865.1 230.0,864.4ZM249.9,864.5 249.9,865.0 248.8,864.5 250.3,869.8 252.0,864.6 251.0,865.1 251.0,864.5ZM271.3,864.3 271.1,864.6 270.7,863.9 269.4,867.4 272.5,865.2 271.7,865.0 271.9,864.7ZM292.3,864.1 291.9,864.6 291.4,863.4 288.9,869.0 294.1,865.7 292.8,865.4 293.2,864.9ZM313.2,864.6 313.3,865.2 311.9,864.7 314.6,870.9 315.8,864.3 314.6,865.1 314.5,864.4ZM334.0,864.5 333.9,865.6 331.9,864.5 334.8,875.0 338.1,864.6 336.0,865.6 336.0,864.5ZM356.4,863.6 355.5,863.3 356.9,861.7 346.8,861.9 355.4,867.3 354.9,865.2 355.9,865.4ZM377.8,864.8 378.0,864.3 378.8,865.3 379.8,859.6 375.8,863.8 377.0,863.8 376.8,864.3ZM398.6,865.2 399.2,865.0 398.9,866.4 404.7,863.0 398.0,862.6 398.9,863.7 398.3,863.9ZM419.5,865.0 420.1,865.1 419.5,866.1 424.8,864.6 419.6,863.0 420.1,864.0 419.6,864.0ZM441.5,865.4 442.4,864.7 443.0,867.3 449.9,856.8 438.4,861.8 440.8,862.8 439.9,863.6ZM462.5,865.2 463.3,864.5 464.0,866.6 468.9,857.4 459.7,862.4 461.8,863.1 461.1,863.8ZM483.6,865.2 484.3,864.5 484.9,866.4 489.3,858.2 481.1,862.6 483.0,863.2 482.3,863.9ZM503.5,863.3 500.8,864.7 500.7,861.6 490.4,872.0 504.7,869.0 502.1,867.2 504.8,865.8ZM525.3,863.1 523.9,863.1 525.3,860.3 511.3,864.5 525.3,868.7 523.9,865.9 525.3,865.9ZM546.7,864.8 547.0,864.4 547.4,865.2 548.8,861.1 545.4,863.8 546.3,863.9 546.1,864.3ZM568.8,864.9 569.2,863.7 571.3,865.8 571.8,851.9 563.7,863.3 566.7,862.8 566.3,864.1ZM589.9,864.2 589.6,863.0 592.2,863.6 585.7,852.6 585.1,865.4 587.2,863.6 587.5,864.8ZM610.3,863.2 607.5,862.3 609.7,860.1 595.1,859.7 607.1,868.1 606.6,865.0 609.4,865.9ZM631.3,863.4 630.2,863.1 631.9,861.3 620.1,861.4 630.0,867.8 629.6,865.3 630.6,865.6ZM652.6,863.7 651.8,863.2 653.7,862.1 644.0,859.3 650.5,866.9 650.8,864.8 651.6,865.3ZM673.6,863.2 667.8,861.8 669.8,859.4 655.2,860.4 667.9,867.6 667.2,864.6 672.9,865.9ZM695.0,864.0 694.5,863.4 696.2,863.0 689.3,858.5 692.6,866.0 693.3,864.4 693.8,865.0ZM715.8,864.2 715.5,863.9 716.5,863.5 712.1,861.4 714.6,865.5 714.9,864.5 715.2,864.9ZM737.2,864.0 736.7,863.5 738.2,863.0 731.5,859.4 735.1,866.1 735.6,864.5 736.1,865.0ZM758.3,864.1 757.8,863.5 759.3,863.1 753.2,859.4 756.3,865.9 756.8,864.5 757.3,865.0ZM779.7,864.2 779.3,863.4 781.1,863.4 775.3,857.2 776.8,865.6 777.8,864.2 778.2,864.9ZM800.7,864.5 800.7,863.9 801.9,864.5 800.1,858.5 798.3,864.5 799.5,863.9 799.5,864.5ZM821.8,864.6 821.9,864.0 823.0,864.8 822.0,858.6 819.4,864.3 820.7,863.9 820.6,864.4ZM843.0,864.5 843.0,863.9 844.2,864.6 842.6,858.5 840.6,864.5 841.8,863.9 841.8,864.5ZM864.1,864.5 864.1,863.9 865.3,864.4 863.1,858.5 861.7,864.6 862.9,864.0 862.9,864.6ZM885.2,864.4 885.1,863.9 886.3,864.2 883.6,859.0 883.0,864.8 884.0,864.1 884.1,864.6ZM907.1,864.1 905.4,858.2 908.5,858.8 900.5,846.5 900.4,861.1 902.7,859.0 904.4,864.9ZM928.2,864.0 926.1,858.0 929.2,858.4 920.5,846.6 921.3,861.2 923.5,859.0 925.6,865.0ZM949.4,864.0 947.0,858.1 950.1,858.4 941.0,847.0 942.3,861.5 944.4,859.2 946.8,865.0ZM970.5,864.0 968.2,857.9 971.3,858.2 962.4,846.6 963.4,861.2 965.6,858.9 967.9,865.0ZM991.7,864.1 989.6,857.8 992.7,858.2 984.4,846.2 984.7,860.8 986.9,858.6 989.0,865.0ZM1012.8,864.1 1010.7,857.9 1013.8,858.3 1005.2,846.5 1005.8,861.1 1008.0,858.8 1010.2,865.0ZM1033.9,864.0 1031.6,858.1 1034.8,858.4 1025.8,846.9 1026.9,861.5 1029.0,859.1 1031.3,865.0ZM1055.1,864.0 1052.9,858.1 1056.0,858.4 1047.1,846.8 1048.1,861.4 1050.2,859.1 1052.4,865.0ZM1076.2,864.1 1074.2,858.0 1077.3,858.4 1069.0,846.4 1069.3,861.0 1071.6,858.8 1073.6,865.0ZM1097.4,864.1 1095.6,857.9 1098.7,858.5 1090.9,846.2 1090.6,860.8 1092.9,858.7 1094.7,864.9ZM1118.5,864.2 1116.9,858.1 1120.0,858.7 1112.3,846.3 1111.8,860.9 1114.2,858.8 1115.8,864.9ZM1139.7,864.1 1138.0,858.3 1141.1,858.9 1133.1,846.6 1133.0,861.2 1135.3,859.1 1137.0,864.9ZM1160.8,864.1 1159.1,858.4 1162.2,859.0 1154.3,846.7 1154.1,861.3 1156.4,859.2 1158.1,864.9ZM1181.9,864.1 1180.3,858.3 1183.3,858.9 1175.4,846.6 1175.3,861.2 1177.6,859.1 1179.3,864.9ZM1203.1,864.1 1201.5,858.4 1204.6,859.0 1196.8,846.6 1196.5,861.2 1198.8,859.1 1200.4,864.9ZM1224.2,864.2 1222.7,858.3 1225.8,858.9 1218.3,846.4 1217.7,861.0 1220.0,858.9 1221.5,864.9ZM1245.4,864.2 1244.0,858.0 1247.0,858.8 1239.9,846.0 1238.8,860.6 1241.3,858.6 1242.7,864.8ZM1266.5,864.2 1265.2,857.6 1268.2,858.4 1261.3,845.5 1260.0,860.1 1262.5,858.2 1263.8,864.8ZM1287.7,864.2 1286.3,857.5 1289.3,858.3 1282.3,845.5 1281.1,860.0 1283.5,858.1 1284.9,864.8ZM1308.8,864.2 1307.3,857.6 1310.4,858.4 1303.3,845.6 1302.2,860.2 1304.6,858.2 1306.1,864.8ZM1329.9,864.2 1328.5,857.5 1331.5,858.3 1324.4,845.5 1323.3,860.0 1325.7,858.1 1327.2,864.8ZM1351.1,864.2 1349.5,857.4 1352.6,858.2 1345.3,845.5 1344.4,860.1 1346.8,858.1 1348.4,864.8ZM229.0,844.0 229.6,844.3 228.5,845.1 234.8,846.3 230.1,841.8 230.1,843.2 229.6,842.9ZM249.8,844.7 251.0,845.4 248.4,847.1 262.7,850.2 252.5,839.8 252.3,842.9 251.1,842.3ZM270.6,843.7 270.8,844.7 268.6,844.1 273.5,853.4 274.5,842.9 272.8,844.3 272.6,843.3ZM292.3,843.1 291.9,843.5 291.4,842.3 288.7,848.0 294.1,844.7 292.8,844.3 293.2,843.9ZM313.4,843.1 313.0,843.6 312.4,842.4 310.3,848.3 315.3,844.5 314.0,844.3 314.3,843.8ZM334.3,843.2 334.0,843.9 332.8,842.6 332.1,850.8 337.2,844.3 335.4,844.5 335.7,843.8ZM356.0,842.9 355.4,843.0 355.9,841.7 350.2,844.4 356.4,845.3 355.6,844.2 356.2,844.1ZM378.1,843.8 378.4,842.9 379.8,844.3 380.2,835.2 374.8,842.6 376.7,842.4 376.5,843.2ZM397.8,844.1 398.4,844.7 396.6,845.2 404.2,849.4 400.2,841.7 399.6,843.5 399.0,842.9ZM418.7,843.7 418.9,844.6 417.0,844.1 421.7,852.1 422.2,842.8 420.6,844.1 420.4,843.3ZM441.5,844.1 442.1,843.4 443.0,845.4 447.1,835.8 438.4,841.6 440.6,842.1 439.9,842.8ZM462.6,844.3 463.4,843.5 464.2,845.8 469.6,835.7 459.5,841.1 461.8,841.9 461.1,842.7ZM483.9,844.3 484.7,843.3 485.7,845.8 490.7,834.3 480.2,841.2 482.8,841.8 482.1,842.7ZM505.0,844.6 506.1,843.7 506.8,846.7 514.8,834.5 501.4,840.3 504.3,841.5 503.2,842.4ZM525.5,844.0 526.1,843.7 526.1,845.1 530.7,840.7 524.4,841.9 525.5,842.7 525.0,842.9ZM546.3,843.9 546.7,844.0 546.2,844.7 550.5,844.3 546.6,842.2 546.9,843.1 546.5,843.1ZM568.2,843.9 568.6,843.3 569.4,844.9 572.1,837.1 565.6,842.1 567.4,842.4 566.9,843.0ZM589.4,843.2 589.2,842.4 591.0,842.6 585.8,835.8 586.4,844.3 587.6,843.0 587.9,843.8ZM610.6,842.3 606.1,839.5 608.8,837.9 594.7,834.0 604.3,845.0 604.6,841.9 609.1,844.7ZM631.0,842.3 629.9,842.3 631.2,840.0 619.5,842.7 630.7,846.9 629.7,844.5 630.9,844.6ZM652.3,842.8 651.7,842.6 652.8,841.5 645.6,841.1 651.4,845.4 651.2,843.9 651.9,844.1ZM673.4,842.1 663.0,841.0 664.7,838.4 650.4,841.1 663.9,846.7 662.8,843.8 673.1,844.9ZM694.9,843.2 694.6,842.6 695.9,842.5 691.1,838.3 692.8,844.5 693.5,843.3 693.9,843.8ZM716.1,843.2 715.8,842.7 717.1,842.6 712.7,838.1 713.9,844.3 714.7,843.2 715.0,843.8ZM737.1,843.3 736.9,842.9 737.9,842.9 734.8,839.5 735.5,844.0 736.1,843.3 736.3,843.7ZM758.8,843.0 758.3,842.0 760.7,842.1 753.1,833.6 754.9,844.9 756.3,843.0 756.8,844.0ZM779.9,843.1 779.6,842.1 782.0,842.4 775.5,833.4 775.9,844.5 777.6,842.8 777.9,843.8ZM800.9,843.4 800.8,842.6 802.4,843.2 799.2,835.6 797.7,843.7 799.2,842.8 799.3,843.6ZM822.0,843.5 822.0,842.7 823.6,843.4 821.1,835.4 818.8,843.5 820.4,842.7 820.4,843.5ZM843.1,843.5 843.0,842.7 844.5,843.4 842.1,836.5 840.3,843.6 841.6,842.8 841.7,843.5ZM864.4,843.4 864.3,842.5 866.2,843.3 862.8,834.6 860.8,843.7 862.5,842.7 862.6,843.5ZM885.1,843.4 885.1,842.9 886.1,843.3 883.9,838.6 883.2,843.7 884.1,843.1 884.2,843.6ZM906.5,843.3 906.3,842.7 907.8,843.1 904.4,836.7 903.7,843.9 905.0,842.9 905.1,843.6ZM928.3,843.2 927.6,840.2 930.6,840.9 923.2,828.2 922.4,842.8 924.8,840.8 925.6,843.8ZM949.4,843.1 947.9,836.9 950.9,837.6 943.4,825.1 942.8,839.7 945.1,837.6 946.7,843.8ZM970.6,843.2 969.1,836.7 972.1,837.4 964.9,824.7 963.9,839.3 966.4,837.3 967.8,843.8ZM991.7,843.2 990.5,836.9 993.5,837.8 986.7,824.8 985.3,839.3 987.7,837.4 989.0,843.7ZM1012.8,843.2 1011.5,837.2 1014.6,838.0 1007.5,825.2 1006.4,839.8 1008.8,837.8 1010.1,843.8ZM1034.0,843.1 1032.2,837.3 1035.3,837.9 1027.3,825.7 1027.3,840.3 1029.6,838.1 1031.3,843.9ZM1055.1,843.1 1053.3,837.4 1056.4,837.9 1048.2,825.8 1048.4,840.4 1050.6,838.2 1052.4,843.9ZM1076.2,843.1 1074.7,837.3 1077.7,837.9 1070.0,825.5 1069.6,840.1 1072.0,838.0 1073.6,843.9ZM1097.4,843.2 1096.1,837.4 1099.1,838.1 1091.9,825.4 1090.9,840.0 1093.3,838.0 1094.7,843.8ZM1118.5,843.2 1117.2,837.6 1120.3,838.3 1113.0,825.6 1112.1,840.2 1114.5,838.2 1115.8,843.8ZM1139.7,843.1 1138.3,837.8 1141.4,838.4 1133.8,825.9 1133.2,840.5 1135.6,838.5 1137.0,843.8ZM1160.8,843.1 1159.4,837.8 1162.5,838.4 1155.0,825.9 1154.4,840.5 1156.7,838.5 1158.1,843.8ZM1182.0,843.1 1180.5,837.6 1183.6,838.3 1175.9,825.8 1175.4,840.4 1177.8,838.4 1179.2,843.8ZM1203.1,843.1 1201.7,837.7 1204.7,838.3 1197.2,825.8 1196.6,840.4 1199.0,838.4 1200.4,843.8ZM1224.2,843.2 1223.0,837.6 1226.0,838.4 1218.8,825.7 1217.8,840.3 1220.2,838.3 1221.5,843.8ZM1245.4,843.2 1244.3,837.4 1247.3,838.2 1240.5,825.3 1239.0,839.8 1241.5,837.9 1242.6,843.7ZM1266.5,843.2 1265.4,837.2 1268.4,838.0 1261.8,825.0 1260.2,839.5 1262.7,837.6 1263.8,843.7ZM1287.7,843.2 1286.5,837.1 1289.5,837.9 1282.8,825.0 1281.3,839.5 1283.8,837.6 1284.9,843.7ZM1308.8,843.2 1307.7,837.2 1310.7,838.1 1304.2,825.0 1302.5,839.5 1305.0,837.7 1306.1,843.7ZM1330.0,843.3 1329.0,837.1 1332.0,838.1 1325.6,824.9 1323.7,839.4 1326.2,837.6 1327.2,843.7ZM1351.1,843.2 1350.0,837.1 1353.0,837.9 1346.3,824.9 1344.7,839.5 1347.2,837.6 1348.3,843.7ZM229.8,823.0 230.3,822.5 230.7,824.0 234.6,817.9 227.9,820.9 229.4,821.5 228.8,821.9ZM251.0,822.7 251.2,822.2 252.0,823.3 253.3,817.2 248.9,821.6 250.2,821.6 249.9,822.2ZM271.9,823.0 272.4,822.7 272.4,824.0 276.9,819.6 270.7,820.8 271.8,821.6 271.3,821.9ZM293.1,824.0 291.5,823.5 291.2,822.0 292.4,820.9 293.9,821.3 294.3,822.9ZM313.6,822.1 313.3,822.3 313.1,821.4 310.5,824.8 314.6,823.5 313.8,823.0 314.1,822.8ZM334.7,822.1 334.3,822.4 334.1,821.4 331.5,825.6 335.9,823.5 335.0,823.1 335.3,822.8ZM356.0,822.1 355.7,822.2 355.8,821.4 352.8,823.7 356.5,823.4 355.9,822.9 356.3,822.8ZM378.0,822.4 378.0,821.6 379.6,822.2 376.5,814.7 375.0,822.7 376.4,821.8 376.5,822.5ZM398.1,822.8 398.5,823.2 397.4,823.7 402.5,825.8 399.4,821.2 399.2,822.4 398.8,822.0ZM418.9,822.6 419.1,823.2 417.6,822.8 420.9,828.8 421.5,822.0 420.3,822.9 420.2,822.3ZM439.7,822.4 439.6,823.3 437.7,822.2 439.8,832.4 443.7,822.7 441.6,823.5 441.7,822.5ZM462.6,823.2 463.4,822.4 464.2,824.8 469.6,814.7 459.5,820.1 461.8,820.9 461.1,821.7ZM483.9,823.2 484.7,822.3 485.7,824.8 490.7,813.2 480.2,820.1 482.8,820.7 482.1,821.7ZM504.2,821.8 503.5,821.8 504.2,820.6 498.0,822.1 504.0,824.3 503.5,823.0 504.1,823.0ZM525.9,822.7 526.2,822.1 527.0,823.3 528.3,816.5 523.5,821.5 525.0,821.5 524.7,822.1ZM546.7,822.9 547.1,822.6 547.2,823.8 550.8,819.8 545.6,821.1 546.6,821.7 546.1,822.0ZM567.5,821.4 566.5,821.4 567.5,819.4 557.5,822.4 567.5,825.4 566.5,823.4 567.5,823.4ZM589.7,822.0 589.3,820.9 591.8,821.1 584.1,811.9 585.5,823.8 587.2,821.8 587.6,822.9ZM609.9,821.0 608.5,821.0 610.0,818.2 595.8,821.7 609.6,826.6 608.3,823.8 609.7,823.8ZM631.0,821.9 630.4,821.9 630.9,820.9 625.9,822.5 631.0,824.0 630.5,823.0 631.0,822.9ZM650.5,822.2 651.5,820.9 653.1,821.2 653.7,822.7 652.7,823.9 651.1,823.7ZM673.4,821.1 672.1,821.0 673.7,818.5 660.1,820.8 672.8,826.4 671.8,823.6 673.1,823.8ZM694.8,822.1 694.4,821.7 695.5,821.3 690.7,818.7 693.3,823.5 693.6,822.4 694.0,822.8ZM716.7,821.9 716.1,820.7 719.0,820.8 710.0,810.8 712.0,824.1 713.8,821.8 714.4,823.0ZM737.5,822.3 737.4,821.5 739.2,822.0 735.2,814.0 734.1,822.9 735.7,821.7 735.8,822.6ZM758.8,822.4 758.8,821.4 760.9,822.3 757.4,812.0 754.7,822.6 756.7,821.4 756.8,822.5ZM780.1,822.4 780.1,821.3 782.3,822.5 779.0,811.2 775.6,822.4 777.8,821.3 777.8,822.4ZM801.0,822.4 801.0,821.4 802.9,822.3 799.6,812.9 797.2,822.6 799.1,821.5 799.1,822.5ZM821.8,822.4 821.7,821.8 822.9,822.3 820.8,816.7 819.5,822.6 820.6,821.9 820.6,822.5ZM843.1,822.4 843.0,821.7 844.5,822.2 841.5,815.4 840.3,822.7 841.6,821.8 841.7,822.5ZM864.3,822.3 864.2,821.6 865.8,822.1 862.4,814.8 861.2,822.8 862.6,821.8 862.7,822.6ZM885.2,822.4 885.2,821.8 886.5,822.2 883.8,816.4 882.8,822.7 884.0,821.9 884.0,822.5ZM906.4,822.4 906.3,821.7 907.6,822.2 905.0,816.3 903.9,822.7 905.1,821.9 905.2,822.5ZM928.0,822.3 927.9,821.2 930.1,822.0 925.6,811.8 923.7,822.8 925.7,821.5 925.9,822.6ZM949.4,822.3 948.6,816.2 951.6,817.2 945.6,803.9 943.3,818.3 945.9,816.6 946.7,822.6ZM970.6,822.2 969.6,815.8 972.6,816.8 966.4,803.6 964.3,818.0 966.9,816.2 967.8,822.6ZM991.7,822.2 990.8,816.1 993.8,817.0 987.5,803.8 985.5,818.3 988.0,816.5 989.0,822.7ZM1012.9,822.2 1012.0,816.5 1015.0,817.5 1008.7,804.3 1006.7,818.8 1009.2,816.9 1010.1,822.6ZM1034.0,822.2 1032.8,816.6 1035.9,817.4 1028.9,804.6 1027.6,819.1 1030.1,817.2 1031.2,822.7ZM1055.1,822.1 1053.8,816.7 1056.9,817.4 1049.5,804.8 1048.7,819.4 1051.1,817.4 1052.4,822.8ZM1076.3,822.1 1075.1,816.8 1078.1,817.6 1070.9,804.9 1069.9,819.4 1072.3,817.5 1073.5,822.8ZM1097.4,822.2 1096.3,817.0 1099.4,817.8 1092.4,804.9 1091.1,819.5 1093.6,817.5 1094.7,822.7ZM1118.5,822.1 1117.5,817.1 1120.5,817.8 1113.4,805.0 1112.3,819.6 1114.7,817.6 1115.8,822.7ZM1139.7,822.1 1138.6,817.2 1141.6,818.0 1134.4,805.2 1133.4,819.8 1135.8,817.8 1137.0,822.7ZM1160.8,822.1 1159.7,817.2 1162.7,817.9 1155.4,805.2 1154.5,819.8 1156.9,817.8 1158.1,822.8ZM1182.0,822.1 1180.7,817.0 1183.7,817.7 1176.2,805.1 1175.6,819.7 1177.9,817.7 1179.2,822.8ZM1203.1,822.1 1201.9,816.9 1204.9,817.6 1197.6,804.9 1196.7,819.5 1199.1,817.5 1200.4,822.8ZM1224.3,822.2 1223.3,816.8 1226.3,817.7 1219.6,804.7 1218.0,819.2 1220.5,817.3 1221.5,822.7ZM1245.4,822.2 1244.6,816.8 1247.6,817.8 1241.5,804.5 1239.3,818.9 1241.9,817.2 1242.6,822.6ZM1266.5,822.3 1265.8,816.7 1268.8,817.7 1262.8,804.3 1260.4,818.8 1263.0,817.0 1263.8,822.6ZM1287.7,822.2 1286.8,816.5 1289.8,817.5 1283.6,804.3 1281.5,818.7 1284.1,816.9 1284.9,822.6ZM1308.8,822.2 1308.0,816.6 1311.0,817.6 1304.8,804.4 1302.7,818.8 1305.3,817.0 1306.1,822.6ZM1330.0,822.3 1329.3,816.7 1332.2,817.7 1326.3,804.4 1323.9,818.8 1326.5,817.1 1327.2,822.6ZM1351.1,822.2 1350.2,816.6 1353.2,817.6 1346.9,804.4 1344.9,818.9 1347.4,817.1 1348.3,822.7ZM229.7,801.4 229.7,800.9 230.6,801.3 229.0,797.0 228.0,801.5 228.8,801.0 228.9,801.4ZM250.9,801.2 250.8,800.7 251.9,800.9 248.8,796.4 249.0,801.9 249.8,801.1 249.9,801.6ZM272.2,801.6 272.4,801.0 273.4,802.1 273.9,795.5 269.8,800.7 271.2,800.6 271.0,801.2ZM292.5,801.6 292.6,801.8 292.0,801.9 294.3,803.9 293.5,800.9 293.1,801.5 293.0,801.2ZM313.8,801.1 313.4,801.2 313.6,800.5 310.7,802.4 314.2,802.3 313.6,801.8 314.0,801.7ZM335.3,801.0 334.9,800.7 335.8,800.2 330.9,798.7 334.2,802.6 334.3,801.5 334.7,801.8ZM356.7,801.3 356.6,800.7 357.9,801.1 355.2,795.6 354.4,801.7 355.5,800.9 355.6,801.5ZM377.5,801.7 377.8,801.5 377.9,802.4 380.6,799.2 376.6,800.4 377.4,800.8 377.1,801.1ZM398.1,801.8 398.5,802.1 397.5,802.7 402.6,804.4 399.3,800.1 399.1,801.3 398.7,801.0ZM419.3,801.9 419.7,802.2 418.6,802.8 424.2,804.4 420.5,800.0 420.3,801.2 419.9,800.9ZM441.0,801.8 441.4,801.5 441.6,802.6 444.8,798.4 439.8,800.2 440.8,800.7 440.4,801.0ZM462.4,802.1 463.1,801.5 463.6,803.5 468.7,795.6 460.1,799.3 462.0,800.1 461.3,800.7ZM483.7,802.0 484.4,801.3 485.3,803.3 489.4,793.7 480.7,799.5 482.9,800.0 482.2,800.8ZM504.1,801.1 503.7,801.1 503.9,800.4 500.6,802.0 504.3,802.4 503.8,801.8 504.2,801.7ZM526.1,800.8 525.5,799.9 527.8,799.5 519.0,793.1 522.8,803.3 523.8,801.2 524.4,802.0ZM547.7,801.9 549.1,797.7 551.3,800.0 551.9,785.4 543.4,797.2 546.5,796.8 545.1,800.9ZM567.9,801.6 568.0,801.2 568.5,801.9 569.2,798.1 566.6,800.9 567.4,800.9 567.2,801.2ZM589.5,801.4 589.5,800.6 591.1,801.5 588.9,793.4 586.3,801.3 587.9,800.6 587.9,801.4ZM609.7,800.4 608.7,800.5 609.6,798.4 599.9,802.3 610.1,804.4 608.9,802.5 609.9,802.4ZM630.9,800.5 630.0,800.5 630.8,798.6 621.6,801.8 631.1,804.2 630.1,802.4 631.0,802.3ZM652.1,800.8 651.5,800.7 652.2,799.5 645.8,801.0 652.0,803.3 651.4,802.0 652.1,802.0ZM673.2,800.1 671.9,800.2 673.0,797.5 660.3,802.1 673.4,805.3 672.0,802.8 673.3,802.7ZM694.8,800.5 693.9,800.1 695.6,798.8 685.7,797.3 693.2,804.0 693.1,801.9 694.0,802.3ZM716.6,800.5 712.2,795.3 715.2,794.6 702.9,786.7 708.8,800.1 710.0,797.2 714.5,802.3ZM737.8,801.2 737.6,800.0 740.1,800.8 734.7,789.9 733.2,802.0 735.3,800.4 735.5,801.6ZM758.7,801.5 758.8,800.6 760.5,801.6 758.6,792.4 755.1,801.2 757.0,800.4 756.9,801.3ZM780.3,801.6 780.5,800.3 782.9,802.1 781.2,788.1 774.9,800.7 777.8,799.8 777.6,801.2ZM801.0,801.5 801.1,800.5 803.0,801.6 800.6,791.7 797.2,801.2 799.2,800.4 799.1,801.3ZM821.9,801.4 821.9,800.7 823.4,801.3 820.9,794.3 819.1,801.5 820.5,800.7 820.5,801.4ZM843.8,801.3 843.6,797.5 846.4,798.8 841.5,785.0 838.0,799.2 840.8,797.7 841.0,801.5ZM864.3,801.3 864.1,800.5 865.8,801.0 862.1,793.8 861.2,801.8 862.6,800.8 862.7,801.5ZM885.4,801.3 885.3,800.5 887.0,801.1 883.6,793.7 882.3,801.7 883.8,800.7 883.9,801.5ZM906.5,801.4 906.5,800.6 908.0,801.3 905.4,793.9 903.5,801.5 905.0,800.7 905.0,801.4ZM928.0,801.4 927.9,800.3 930.1,801.3 926.4,790.8 923.7,801.5 925.8,800.4 925.9,801.4ZM949.3,801.3 949.2,800.1 951.7,801.1 947.2,789.3 944.4,801.7 946.8,800.3 946.8,801.5ZM970.6,801.3 970.0,795.4 972.9,796.5 967.3,783.0 964.6,797.4 967.2,795.7 967.8,801.5ZM991.7,801.2 991.0,795.4 994.0,796.5 988.0,783.1 985.6,797.5 988.2,795.8 989.0,801.6ZM1012.9,801.2 1012.3,795.8 1015.2,796.9 1009.5,783.4 1006.9,797.8 1009.5,796.1 1010.1,801.6ZM1034.0,801.2 1033.3,795.9 1036.3,796.9 1030.2,783.6 1027.9,798.0 1030.5,796.3 1031.2,801.6ZM1055.1,801.2 1054.3,796.1 1057.3,797.0 1050.8,783.9 1049.0,798.4 1051.5,796.6 1052.4,801.6ZM1076.3,801.2 1075.4,796.3 1078.4,797.2 1071.8,784.2 1070.2,798.7 1072.7,796.8 1073.5,801.6ZM1097.4,801.2 1096.6,796.5 1099.6,797.4 1093.0,784.3 1091.3,798.8 1093.8,797.0 1094.7,801.6ZM1118.6,801.1 1117.7,796.6 1120.7,797.5 1114.1,784.4 1112.5,799.0 1115.0,797.1 1115.8,801.7ZM1139.7,801.2 1138.9,796.6 1141.9,797.5 1135.3,784.5 1133.6,799.0 1136.1,797.1 1136.9,801.6ZM1160.8,801.1 1160.0,796.5 1163.0,797.4 1156.2,784.4 1154.7,799.0 1157.2,797.1 1158.1,801.7ZM1182.0,801.1 1180.9,796.3 1184.0,797.1 1176.9,784.3 1175.8,798.8 1178.2,796.9 1179.2,801.7ZM1203.1,801.1 1202.1,796.1 1205.1,796.9 1198.1,784.0 1196.9,798.6 1199.3,796.6 1200.4,801.7ZM1224.3,801.2 1223.5,795.9 1226.4,796.9 1220.2,783.7 1218.1,798.2 1220.7,796.4 1221.5,801.6ZM1245.4,801.3 1244.9,796.1 1247.9,797.2 1242.4,783.6 1239.5,798.0 1242.2,796.3 1242.6,801.5ZM1266.6,801.3 1266.2,796.1 1269.1,797.3 1263.9,783.6 1260.7,797.9 1263.4,796.3 1263.8,801.5ZM1287.7,801.3 1287.3,795.9 1290.2,797.1 1284.9,783.4 1281.8,797.7 1284.5,796.1 1284.9,801.5ZM1308.8,801.3 1308.4,795.8 1311.3,796.9 1306.0,783.3 1302.9,797.6 1305.6,796.0 1306.0,801.5ZM1330.0,801.3 1329.5,795.8 1332.4,796.9 1326.9,783.4 1324.0,797.7 1326.7,796.1 1327.2,801.5ZM1351.1,801.2 1350.4,795.9 1353.3,796.9 1347.3,783.6 1345.0,798.0 1347.6,796.2 1348.3,801.6ZM229.7,780.5 229.8,780.2 230.4,780.9 231.1,776.9 228.2,779.8 229.1,779.8 228.9,780.2ZM250.7,780.5 250.9,780.2 251.4,780.8 251.8,777.3 249.5,779.9 250.3,779.9 250.1,780.2ZM271.5,780.7 271.8,780.8 271.2,781.4 275.2,781.5 271.9,779.3 272.1,780.1 271.7,780.0ZM292.5,780.1 292.2,780.3 292.0,779.5 289.9,782.6 293.4,781.2 292.7,780.9 292.9,780.6ZM314.0,780.1 313.8,779.9 314.4,779.5 311.1,778.6 313.3,781.2 313.4,780.5 313.7,780.6ZM335.3,778.8 336.5,779.8 336.2,781.4 334.7,781.9 333.5,780.9 333.8,779.3ZM356.2,780.7 356.6,780.7 356.3,781.4 359.7,779.7 355.9,779.3 356.4,779.9 356.1,780.0ZM377.2,780.8 377.7,780.8 377.1,781.7 381.7,780.8 377.4,779.0 377.8,780.0 377.3,779.9ZM398.2,781.0 398.8,781.2 397.8,782.2 404.6,782.4 399.0,778.5 399.2,779.9 398.6,779.7ZM419.5,780.8 419.9,780.8 419.5,781.5 423.5,780.6 419.6,779.2 420.0,780.0 419.6,780.0ZM440.9,780.6 441.1,780.4 441.3,781.0 442.8,778.3 440.1,779.7 440.7,780.0 440.5,780.2ZM462.4,780.4 462.4,779.8 463.5,780.4 461.9,774.8 460.2,780.3 461.3,779.8 461.3,780.4ZM482.2,779.2 481.0,780.0 480.6,776.9 471.5,788.4 485.4,783.8 482.6,782.3 483.8,781.5ZM504.7,780.1 504.4,779.5 505.8,779.6 501.5,774.7 502.4,781.1 503.3,780.1 503.6,780.6ZM525.7,780.5 525.8,780.1 526.5,780.8 526.6,776.3 524.0,780.0 525.0,779.8 524.9,780.2ZM546.6,780.6 546.9,780.4 547.1,781.2 549.2,777.9 545.7,779.5 546.4,779.8 546.2,780.1ZM568.3,780.8 568.7,780.0 569.8,781.6 571.7,772.8 565.3,779.1 567.2,779.2 566.8,779.9ZM589.5,780.4 589.6,779.6 591.1,780.6 589.5,772.4 586.3,780.1 588.0,779.5 587.9,780.3ZM610.2,780.0 609.8,779.6 610.9,779.3 606.2,776.7 608.7,781.4 609.1,780.4 609.5,780.7ZM631.0,779.9 630.5,779.8 631.1,778.9 626.2,779.8 630.8,781.8 630.4,780.8 630.9,780.8ZM652.2,780.0 651.8,779.9 652.4,779.2 648.3,779.3 651.8,781.5 651.6,780.6 652.0,780.7ZM673.7,779.4 672.8,778.9 674.8,777.5 663.6,775.3 671.7,783.3 671.8,780.8 672.7,781.3ZM695.0,779.1 693.8,778.5 696.3,776.6 682.0,774.1 692.5,784.1 692.5,781.0 693.8,781.6ZM716.5,779.3 710.3,773.7 713.2,772.6 700.0,766.3 707.6,778.8 708.4,775.8 714.6,781.4ZM738.0,780.0 737.0,776.7 740.1,777.2 732.2,764.9 732.1,779.6 734.4,777.4 735.3,780.8ZM758.6,780.4 758.6,779.6 760.1,780.4 757.8,772.6 755.5,780.4 757.0,779.6 757.0,780.4ZM779.8,780.5 779.9,779.6 781.5,780.7 780.1,772.0 776.4,780.0 778.2,779.4 778.1,780.2ZM800.7,780.4 800.7,779.7 802.0,780.4 800.3,774.0 798.2,780.3 799.5,779.7 799.4,780.3ZM822.0,780.3 821.9,779.5 823.5,780.1 820.4,772.7 818.9,780.6 820.4,779.7 820.5,780.4ZM843.1,780.2 843.0,779.5 844.6,780.0 841.0,773.0 840.2,780.8 841.5,779.8 841.6,780.5ZM864.1,780.2 864.0,779.6 865.3,779.9 862.1,774.4 861.7,780.8 862.8,779.9 862.9,780.5ZM885.5,780.2 885.4,779.3 887.4,779.9 883.0,771.3 881.9,780.9 883.6,779.6 883.7,780.5ZM906.8,780.3 906.7,779.3 908.7,780.1 904.8,770.6 902.9,780.7 904.7,779.5 904.8,780.5ZM928.0,780.3 928.0,779.2 930.3,780.1 926.1,769.2 923.6,780.6 925.7,779.3 925.8,780.4ZM949.3,780.3 949.3,779.0 951.9,780.1 947.2,767.5 944.2,780.6 946.7,779.2 946.8,780.4ZM970.4,780.3 970.4,779.0 972.9,780.2 968.5,767.9 965.5,780.6 967.9,779.2 968.0,780.4ZM991.7,780.3 991.5,775.0 994.4,776.3 989.5,762.5 986.0,776.7 988.7,775.1 988.9,780.4ZM1012.9,780.3 1012.7,775.1 1015.5,776.4 1010.8,762.6 1007.1,776.8 1009.9,775.3 1010.1,780.4ZM1034.0,780.3 1033.7,775.4 1036.6,776.6 1031.5,762.9 1028.2,777.2 1030.9,775.6 1031.2,780.4ZM1055.2,780.3 1054.8,775.6 1057.7,776.8 1052.4,763.2 1049.3,777.5 1052.0,775.8 1052.4,780.5ZM1076.3,780.2 1075.9,775.7 1078.8,776.8 1073.3,763.2 1070.4,777.6 1073.1,775.9 1073.5,780.5ZM1097.4,780.2 1096.9,776.0 1099.9,777.0 1094.0,763.6 1091.5,778.0 1094.1,776.3 1094.7,780.5ZM1118.6,780.2 1118.0,776.3 1121.0,777.3 1114.8,764.0 1112.7,778.5 1115.2,776.7 1115.8,780.6ZM1139.7,780.2 1139.2,776.2 1142.1,777.3 1136.2,763.9 1133.8,778.3 1136.4,776.6 1136.9,780.5ZM1160.8,780.2 1160.3,775.9 1163.3,777.0 1157.3,763.6 1154.9,778.0 1157.5,776.3 1158.1,780.5ZM1182.0,780.1 1181.2,775.6 1184.2,776.5 1177.8,763.4 1175.9,777.9 1178.5,776.0 1179.2,780.6ZM1203.1,780.1 1202.2,775.3 1205.3,776.2 1198.6,763.2 1197.0,777.7 1199.5,775.8 1200.4,780.6ZM1224.3,780.2 1223.5,775.1 1226.5,776.1 1220.4,762.9 1218.2,777.3 1220.8,775.5 1221.5,780.6ZM1245.4,780.2 1245.0,775.3 1247.9,776.4 1242.6,762.8 1239.5,777.1 1242.2,775.5 1242.6,780.5ZM1266.6,780.3 1266.4,775.4 1269.2,776.7 1264.5,762.9 1260.8,777.0 1263.6,775.5 1263.8,780.4ZM1287.7,780.3 1287.6,775.3 1290.4,776.7 1286.1,762.7 1282.0,776.8 1284.8,775.4 1284.9,780.4ZM1308.8,780.3 1308.8,775.2 1311.6,776.5 1307.3,762.6 1303.2,776.6 1306.0,775.2 1306.0,780.4ZM1330.0,780.3 1329.8,775.2 1332.7,776.6 1328.1,762.7 1324.3,776.8 1327.0,775.3 1327.2,780.4ZM1351.1,780.3 1350.8,775.4 1353.7,776.6 1348.5,762.9 1345.3,777.2 1348.0,775.6 1348.3,780.5ZM229.2,759.7 229.6,759.9 228.9,760.6 233.6,760.7 229.7,758.0 229.9,759.0 229.4,758.9ZM250.2,759.6 250.5,759.9 249.6,760.3 253.7,762.0 251.3,758.3 251.0,759.3 250.7,759.0ZM271.4,758.9 270.9,759.1 270.9,758.0 267.3,761.5 272.2,760.6 271.4,760.0 271.8,759.7ZM293.4,759.1 293.1,758.4 294.7,758.6 290.2,752.9 290.8,760.1 291.8,758.9 292.1,759.6ZM314.3,759.4 314.4,758.9 315.3,759.5 314.4,754.5 312.4,759.2 313.4,758.8 313.4,759.3ZM335.3,759.6 335.6,759.3 336.0,760.1 337.7,756.1 334.0,758.5 334.9,758.7 334.7,759.0ZM356.3,760.0 356.9,759.8 356.5,761.2 362.6,758.2 355.8,757.4 356.7,758.6 356.0,758.7ZM377.6,760.2 378.5,759.9 378.2,762.1 386.5,756.3 376.4,756.5 377.9,758.1 377.0,758.4ZM398.6,760.1 399.4,760.0 398.9,761.7 406.4,757.8 398.0,756.9 399.1,758.4 398.3,758.5ZM419.7,760.1 420.5,759.9 420.0,761.6 427.3,757.9 419.1,757.0 420.2,758.4 419.4,758.5ZM441.9,758.2 442.2,759.8 441.0,760.9 439.5,760.4 439.2,758.8 440.4,757.7ZM462.5,759.3 462.5,758.7 463.7,759.3 461.6,753.0 459.9,759.4 461.2,758.7 461.2,759.3ZM483.3,759.2 483.2,758.9 483.8,759.0 482.0,756.6 482.2,759.6 482.6,759.1 482.7,759.4ZM504.9,759.4 505.0,758.7 506.4,759.7 505.2,751.6 501.8,759.0 503.5,758.4 503.3,759.2ZM525.6,759.9 526.2,759.6 526.3,761.1 531.3,755.7 524.2,757.5 525.5,758.4 524.9,758.7ZM546.7,759.6 547.0,759.2 547.4,760.1 548.9,756.1 545.4,758.6 546.3,758.8 546.1,759.1ZM566.5,758.1 568.1,757.8 569.1,759.0 568.6,760.6 567.0,760.8 566.0,759.6ZM588.9,759.0 588.6,758.7 589.4,758.3 585.4,756.8 587.9,760.3 588.1,759.4 588.4,759.7ZM608.4,758.6 609.8,757.7 611.2,758.5 611.2,760.1 609.9,760.9 608.5,760.2ZM631.0,759.0 630.7,758.9 631.2,758.4 627.9,758.6 630.7,760.2 630.6,759.6 630.9,759.6ZM652.5,758.7 651.9,758.2 653.4,757.3 645.4,755.0 650.8,761.3 651.0,759.6 651.7,760.0ZM674.0,758.7 673.3,757.9 675.4,757.3 666.6,752.2 671.1,761.3 671.9,759.3 672.5,760.0ZM695.8,759.2 695.5,754.7 698.4,755.9 693.5,742.1 690.0,756.3 692.7,754.8 693.0,759.4ZM716.6,758.5 711.4,751.6 714.4,751.0 702.6,742.4 707.8,756.1 709.1,753.3 714.4,760.2ZM737.7,759.0 737.4,757.9 739.8,758.4 733.5,748.7 733.5,760.3 735.3,758.6 735.6,759.6ZM758.8,759.3 758.7,758.3 760.7,759.2 757.4,749.5 754.9,759.4 756.8,758.4 756.8,759.4ZM779.8,759.4 779.9,758.6 781.4,759.6 779.8,751.0 776.4,759.1 778.2,758.4 778.1,759.2ZM801.0,759.3 801.0,758.3 802.9,759.2 799.7,749.9 797.3,759.4 799.1,758.4 799.1,759.4ZM822.2,759.1 822.0,758.1 824.3,758.6 818.8,749.2 818.2,760.0 820.0,758.5 820.2,759.6ZM843.1,759.1 842.9,758.4 844.5,758.7 840.3,752.2 840.2,759.9 841.4,758.8 841.6,759.5ZM864.0,759.2 863.9,758.6 865.1,758.9 862.0,754.1 861.9,759.8 862.8,758.9 863.0,759.5ZM885.4,759.1 885.2,758.4 886.8,758.7 882.7,752.1 882.5,759.9 883.7,758.8 883.9,759.5ZM906.7,759.1 906.5,758.2 908.4,758.7 903.7,750.4 903.1,760.0 904.7,758.6 904.9,759.5ZM927.9,759.1 927.7,758.1 929.9,758.8 925.2,749.3 923.9,759.8 925.7,758.5 925.9,759.5ZM949.1,759.2 949.0,758.1 951.3,759.0 946.9,748.6 944.8,759.7 946.9,758.4 947.0,759.4ZM970.5,759.3 970.5,757.9 973.2,759.1 968.5,746.1 965.2,759.5 967.8,758.1 967.9,759.4ZM991.7,759.3 991.7,758.0 994.4,759.4 990.6,745.8 986.3,759.3 989.0,757.9 989.0,759.3ZM1012.9,759.4 1013.1,754.8 1015.9,756.3 1012.5,742.1 1007.5,755.8 1010.4,754.6 1010.1,759.2ZM1034.0,759.4 1034.2,755.0 1037.0,756.5 1033.5,742.3 1028.6,756.1 1031.4,754.8 1031.2,759.2ZM1055.2,759.4 1055.3,755.2 1058.1,756.7 1054.5,742.5 1049.7,756.3 1052.5,755.1 1052.4,759.3ZM1076.3,759.3 1076.3,755.1 1079.1,756.5 1075.0,742.5 1070.7,756.5 1073.5,755.1 1073.5,759.3ZM1097.4,759.2 1097.2,755.3 1100.1,756.6 1095.2,742.8 1091.7,757.0 1094.4,755.5 1094.6,759.4ZM1118.6,759.2 1118.3,755.7 1121.2,756.9 1115.8,743.3 1112.8,757.6 1115.5,756.0 1115.8,759.4ZM1139.7,759.2 1139.5,755.8 1142.4,757.0 1137.3,743.3 1134.0,757.5 1136.7,755.9 1136.9,759.4ZM1160.9,759.2 1160.6,755.4 1163.5,756.6 1158.5,742.9 1155.1,757.1 1157.8,755.6 1158.1,759.4ZM1182.0,759.2 1181.5,754.9 1184.5,756.0 1178.8,742.6 1176.1,756.9 1178.8,755.2 1179.2,759.5ZM1203.1,759.1 1202.6,754.8 1205.5,755.8 1199.6,742.4 1197.2,756.9 1199.8,755.1 1200.4,759.5ZM1224.3,759.2 1223.8,754.6 1226.8,755.7 1221.3,742.1 1218.4,756.5 1221.1,754.8 1221.5,759.5ZM1245.4,759.3 1245.2,754.5 1248.1,755.8 1243.3,742.0 1239.7,756.1 1242.4,754.6 1242.6,759.4ZM1266.6,759.3 1266.5,754.6 1269.3,756.0 1265.1,742.0 1260.9,756.0 1263.7,754.6 1263.8,759.3ZM1287.7,759.3 1287.7,754.6 1290.5,756.0 1286.5,742.0 1282.1,755.9 1284.9,754.6 1284.9,759.3ZM1308.8,759.4 1309.0,754.6 1311.7,756.1 1307.8,742.0 1303.3,755.9 1306.2,754.5 1306.0,759.3ZM1330.0,759.4 1330.1,754.7 1332.9,756.2 1329.1,742.1 1324.5,756.0 1327.3,754.6 1327.2,759.3ZM1351.1,759.3 1351.1,754.9 1353.9,756.4 1349.8,742.3 1345.5,756.3 1348.3,754.9 1348.3,759.3ZM229.1,738.7 229.5,738.9 228.7,739.4 233.1,740.4 229.9,737.1 229.9,738.1 229.5,737.9ZM249.9,738.2 249.8,738.7 248.9,737.9 249.2,743.6 252.0,738.7 250.8,738.9 251.0,738.4ZM272.0,738.0 271.7,737.6 272.8,737.4 268.8,734.2 270.3,739.1 270.9,738.1 271.2,738.6ZM293.1,738.8 293.6,738.4 293.9,739.8 297.9,734.2 291.5,736.7 292.8,737.4 292.3,737.8ZM314.0,738.7 314.4,738.5 314.3,739.5 317.8,736.9 313.5,737.1 314.1,737.7 313.7,737.9ZM335.5,738.7 335.9,738.2 336.4,739.6 339.4,733.6 333.6,737.0 335.0,737.4 334.5,737.8ZM356.8,738.4 356.9,737.8 358.1,738.8 357.8,731.9 354.2,737.8 355.7,737.5 355.5,738.1ZM378.0,738.5 378.2,737.7 379.4,738.8 379.1,731.1 375.1,737.7 376.7,737.4 376.6,738.1ZM398.8,738.6 399.2,738.2 399.6,739.3 401.9,734.2 397.2,737.2 398.4,737.5 398.0,737.9ZM420.1,738.7 420.5,738.2 421.1,739.6 423.8,733.1 418.0,737.0 419.5,737.3 419.0,737.9ZM441.6,738.3 441.7,737.5 443.4,738.5 441.3,729.4 438.0,738.1 439.9,737.3 439.8,738.2ZM462.0,737.8 461.5,737.6 462.3,736.8 456.9,736.7 461.4,739.8 461.2,738.6 461.7,738.8ZM482.8,737.9 482.4,738.0 482.5,737.1 479.0,739.9 483.5,739.5 482.7,738.8 483.1,738.7ZM504.4,737.8 503.9,737.5 505.0,736.7 499.0,735.2 503.2,739.8 503.3,738.5 503.8,738.8ZM525.9,738.7 526.3,738.0 527.3,739.4 529.0,731.6 523.3,737.2 525.0,737.2 524.6,737.9ZM546.9,738.4 547.0,737.9 547.8,738.6 547.6,733.5 545.0,737.9 546.0,737.7 545.9,738.2ZM567.6,737.9 567.2,737.8 567.7,737.1 563.8,737.6 567.3,739.4 567.1,738.6 567.5,738.7ZM588.6,737.9 588.2,738.0 588.4,737.2 585.0,739.3 589.0,739.4 588.4,738.8 588.8,738.6ZM609.8,738.0 609.5,738.0 609.7,737.4 606.8,738.8 610.0,739.2 609.6,738.6 609.9,738.6ZM631.0,737.9 630.6,737.9 631.0,737.0 626.8,738.2 630.9,739.5 630.5,738.7 631.0,738.7ZM652.4,737.8 651.9,737.5 652.9,736.8 647.2,735.5 651.3,739.7 651.3,738.5 651.8,738.8ZM673.7,737.8 673.3,737.4 674.7,737.0 668.9,733.4 671.8,739.6 672.3,738.2 672.8,738.7ZM695.4,737.6 694.7,736.6 697.4,736.3 687.8,728.3 691.4,740.3 692.7,737.9 693.4,738.9ZM716.3,737.9 715.9,737.1 717.9,737.1 711.6,730.3 713.1,739.4 714.3,737.9 714.7,738.7ZM738.0,737.8 733.2,724.3 736.3,724.7 727.7,712.9 728.4,727.5 730.6,725.3 735.3,738.7ZM759.0,738.1 758.8,736.8 761.5,737.7 755.7,725.8 754.1,738.9 756.3,737.2 756.6,738.5ZM780.2,738.2 780.1,737.0 782.6,738.2 778.5,726.0 775.3,738.4 777.7,737.1 777.7,738.3ZM801.5,738.0 800.8,734.2 803.8,735.1 797.2,722.0 795.5,736.5 798.0,734.6 798.7,738.5ZM822.5,737.8 821.7,735.5 824.8,735.9 816.2,724.1 816.9,738.7 819.1,736.4 819.9,738.7ZM843.6,737.8 843.2,736.6 846.1,737.0 838.0,726.0 838.7,739.6 840.7,737.5 841.1,738.7ZM864.4,738.0 864.1,737.2 866.1,737.5 861.0,729.7 860.9,739.0 862.4,737.7 862.6,738.5ZM885.2,738.1 885.0,737.6 886.3,737.8 883.0,732.7 883.0,738.8 883.9,737.9 884.1,738.4ZM906.5,738.0 906.2,737.3 907.9,737.6 903.3,731.2 903.7,739.0 904.8,737.8 905.1,738.5ZM927.8,738.1 927.6,737.2 929.5,737.6 924.8,729.7 924.4,738.9 925.8,737.6 926.1,738.5ZM949.3,738.1 949.2,736.9 951.8,737.8 946.5,725.8 944.3,738.7 946.7,737.2 946.8,738.4ZM970.6,738.2 970.5,736.9 973.3,738.2 968.9,724.7 965.1,738.4 967.8,737.0 967.8,738.3ZM991.3,738.3 991.4,737.4 993.3,738.5 991.0,728.5 987.4,738.1 989.4,737.2 989.4,738.2ZM1012.6,738.5 1012.8,737.3 1014.9,738.8 1013.2,726.8 1008.0,737.8 1010.5,737.0 1010.3,738.1ZM1034.0,738.5 1034.9,733.9 1037.4,735.8 1035.8,721.2 1029.1,734.2 1032.1,733.4 1031.2,738.0ZM1055.1,738.5 1055.9,734.0 1058.4,735.8 1056.5,721.3 1050.1,734.5 1053.1,733.5 1052.4,738.1ZM1076.3,738.4 1076.7,734.1 1079.3,735.7 1076.3,721.4 1071.0,735.0 1073.9,733.9 1073.5,738.2ZM1097.4,738.3 1097.5,734.3 1100.3,735.8 1096.2,721.7 1091.9,735.7 1094.7,734.3 1094.6,738.3ZM1118.6,738.3 1118.6,734.6 1121.4,735.9 1117.1,722.0 1113.0,736.0 1115.8,734.6 1115.8,738.3ZM1139.7,738.3 1139.8,734.6 1142.5,736.1 1138.5,722.0 1134.1,736.0 1137.0,734.6 1136.9,738.3ZM1160.9,738.3 1160.9,734.3 1163.7,735.7 1159.5,721.7 1155.3,735.7 1158.1,734.3 1158.1,738.3ZM1182.0,738.2 1181.9,733.9 1184.7,735.2 1180.2,721.3 1176.3,735.4 1179.1,733.9 1179.2,738.3ZM1203.1,738.2 1203.0,733.8 1205.8,735.1 1201.2,721.2 1197.4,735.4 1200.2,733.9 1200.3,738.3ZM1224.3,738.3 1224.2,733.7 1227.1,735.1 1222.8,721.1 1218.7,735.1 1221.4,733.7 1221.5,738.3ZM1245.4,738.3 1245.5,733.5 1248.3,735.0 1244.4,720.9 1239.9,734.8 1242.7,733.5 1242.6,738.3ZM1266.6,738.3 1266.7,733.5 1269.5,734.9 1265.7,720.8 1261.1,734.7 1263.9,733.4 1263.8,738.2ZM1287.7,738.4 1287.9,733.4 1290.7,735.0 1287.2,720.8 1282.3,734.6 1285.1,733.3 1284.9,738.2ZM1308.8,738.4 1309.2,733.6 1311.9,735.1 1308.7,720.9 1303.5,734.6 1306.4,733.4 1306.0,738.2ZM1330.0,738.4 1330.3,733.7 1333.0,735.3 1329.9,721.1 1324.6,734.7 1327.5,733.5 1327.2,738.2ZM1351.1,738.3 1351.3,733.9 1354.1,735.5 1350.5,721.3 1345.7,735.1 1348.5,733.8 1348.3,738.2ZM229.2,717.6 229.5,717.8 228.9,718.4 233.1,718.6 229.7,716.1 229.8,717.0 229.4,716.9ZM250.1,717.0 249.9,717.4 249.4,716.6 248.4,720.7 251.5,717.9 250.6,717.8 250.8,717.4ZM272.0,717.1 271.8,716.7 272.8,716.8 269.9,713.2 270.4,717.7 271.0,717.0 271.2,717.4ZM292.8,717.7 293.2,717.7 292.8,718.6 297.3,716.8 292.6,715.9 293.1,716.7 292.7,716.8ZM313.6,717.5 313.9,717.7 313.1,718.0 316.3,719.7 314.6,716.5 314.3,717.2 314.1,717.0ZM335.2,717.7 335.7,717.5 335.6,718.6 339.4,715.1 334.4,715.9 335.2,716.6 334.8,716.8ZM357.0,716.9 356.6,716.0 358.7,716.1 352.4,708.7 353.6,718.4 354.9,716.8 355.3,717.6ZM378.1,717.0 377.8,716.1 379.8,716.4 374.5,708.9 374.8,718.1 376.2,716.7 376.4,717.5ZM399.3,717.4 399.5,716.5 401.1,717.7 400.0,708.2 395.7,716.8 397.7,716.2 397.5,717.1ZM420.0,717.0 419.8,716.5 421.0,716.5 417.0,712.6 418.2,718.0 418.8,717.0 419.1,717.5ZM441.3,716.1 440.1,715.5 442.4,713.8 429.1,711.4 439.0,720.7 439.0,717.8 440.1,718.4ZM461.7,716.9 461.4,717.0 461.5,716.2 458.5,718.4 462.2,718.2 461.6,717.7 462.0,717.6ZM482.7,717.0 482.5,717.2 482.2,716.5 480.5,719.7 483.7,718.0 483.0,717.7 483.2,717.5ZM504.3,716.8 503.9,716.7 504.7,716.0 500.1,715.4 503.6,718.4 503.5,717.5 503.9,717.6ZM525.8,717.4 525.9,716.9 526.8,717.7 526.9,712.2 523.7,716.7 524.9,716.6 524.8,717.1ZM546.9,717.4 547.1,716.9 548.0,717.6 547.8,712.0 544.8,716.8 546.0,716.6 545.9,717.1ZM567.8,716.9 567.5,716.7 568.4,716.3 564.5,714.4 566.7,718.2 567.0,717.3 567.3,717.5ZM588.7,716.7 588.2,716.7 588.7,715.8 583.7,717.1 588.6,718.7 588.2,717.7 588.7,717.7ZM609.7,716.9 609.3,717.0 609.5,716.1 606.1,718.4 610.2,718.3 609.6,717.7 609.9,717.6ZM630.9,716.8 630.5,716.8 630.9,715.9 626.5,717.5 631.0,718.6 630.5,717.7 631.0,717.7ZM652.3,716.8 651.9,716.6 652.8,716.0 647.9,714.7 651.4,718.5 651.4,717.4 651.9,717.7ZM674.3,716.4 673.5,715.3 676.5,714.7 664.7,706.2 669.9,719.8 671.3,717.0 672.1,718.1ZM695.2,716.8 694.8,715.9 696.9,715.9 689.8,708.8 691.9,718.6 693.1,716.9 693.5,717.7ZM716.8,716.6 716.1,715.4 719.2,715.4 709.3,704.9 711.8,719.1 713.7,716.6 714.3,717.9ZM737.9,716.6 734.6,710.7 737.7,710.6 727.2,700.4 730.4,714.7 732.1,712.1 735.4,717.9ZM759.1,716.7 755.0,707.1 758.1,707.3 748.8,696.1 750.4,710.6 752.4,708.2 756.5,717.8ZM780.2,716.6 778.4,712.8 781.5,712.9 771.7,702.1 773.9,716.5 775.9,714.0 777.7,717.8ZM801.3,716.6 797.5,709.5 800.6,709.4 790.3,699.1 793.2,713.4 795.0,710.8 798.8,717.9ZM822.4,716.5 818.1,709.0 821.2,708.8 810.5,698.8 813.9,713.0 815.6,710.4 820.0,717.9ZM843.6,716.7 843.1,715.4 846.1,715.6 836.8,704.6 838.6,718.9 840.5,716.5 841.1,717.8ZM864.3,717.0 864.1,716.2 865.9,716.5 861.2,709.2 861.1,717.9 862.5,716.7 862.7,717.5ZM885.3,717.0 885.1,716.4 886.5,716.7 882.7,711.1 882.8,717.8 883.8,716.8 884.0,717.4ZM906.4,717.0 906.2,716.4 907.6,716.6 903.6,711.2 904.0,717.9 905.0,716.9 905.2,717.5ZM927.9,717.0 927.6,716.1 929.7,716.6 924.6,707.9 924.1,717.9 925.8,716.5 926.0,717.5ZM949.3,717.2 949.2,715.9 951.8,717.0 947.3,704.9 944.4,717.5 946.8,716.1 946.8,717.3ZM970.6,717.3 970.8,714.0 973.5,715.6 970.3,701.4 965.1,715.0 968.0,713.8 967.8,717.1ZM991.2,717.4 991.3,716.5 993.0,717.6 991.6,708.5 987.7,716.9 989.6,716.2 989.5,717.1ZM1012.1,717.4 1012.2,716.8 1013.3,717.6 1012.7,711.3 1009.7,716.9 1011.0,716.5 1010.9,717.1ZM1033.7,717.5 1034.0,716.4 1035.9,718.2 1035.7,706.2 1029.3,716.3 1031.8,715.8 1031.5,716.9ZM1055.1,717.6 1056.3,712.7 1058.7,714.8 1058.0,700.2 1050.6,712.7 1053.6,712.0 1052.4,716.9ZM1076.3,717.4 1077.0,712.9 1079.5,714.7 1077.4,700.3 1071.2,713.5 1074.2,712.5 1073.5,717.0ZM1097.4,717.4 1097.8,713.4 1100.4,715.1 1097.5,700.7 1092.1,714.3 1095.0,713.2 1094.6,717.1ZM1118.6,717.3 1118.9,713.6 1121.6,715.2 1118.4,700.9 1113.2,714.5 1116.1,713.4 1115.8,717.1ZM1139.7,717.3 1140.0,713.6 1142.7,715.1 1139.4,700.9 1134.3,714.6 1137.2,713.4 1136.9,717.1ZM1160.9,717.3 1161.1,713.4 1163.8,714.9 1160.4,700.7 1155.4,714.5 1158.3,713.2 1158.1,717.2ZM1182.0,717.3 1182.2,713.1 1184.9,714.6 1181.5,700.4 1176.6,714.2 1179.4,712.9 1179.2,717.2ZM1203.1,717.3 1203.4,712.9 1206.1,714.5 1202.6,700.3 1197.7,714.0 1200.6,712.8 1200.3,717.2ZM1224.3,717.3 1224.5,712.8 1227.3,714.3 1223.9,700.1 1218.9,713.8 1221.7,712.6 1221.5,717.2ZM1245.4,717.3 1245.7,712.5 1248.4,714.1 1245.1,699.8 1240.0,713.6 1242.9,712.3 1242.6,717.2ZM1266.6,717.3 1266.9,712.4 1269.6,714.0 1266.4,699.7 1261.2,713.4 1264.1,712.2 1263.8,717.1ZM1287.7,717.4 1288.2,712.5 1290.9,714.2 1288.2,699.8 1282.5,713.2 1285.4,712.2 1284.9,717.1ZM1308.8,717.4 1309.5,712.7 1312.1,714.5 1309.9,700.0 1303.8,713.3 1306.7,712.3 1306.1,717.0ZM1330.0,717.4 1330.6,712.8 1333.2,714.5 1330.8,700.1 1324.8,713.5 1327.8,712.4 1327.2,717.1ZM1351.1,717.4 1351.5,712.8 1354.2,714.5 1351.1,700.2 1345.8,713.8 1348.7,712.6 1348.3,717.1ZM228.7,696.3 228.9,696.9 227.6,696.6 230.6,701.9 231.0,695.8 230.0,696.6 229.9,696.1ZM249.9,695.9 249.7,696.4 249.0,695.4 247.9,701.2 251.9,697.0 250.7,696.9 250.9,696.5ZM271.9,695.4 271.1,695.1 272.4,693.9 263.8,693.5 270.8,698.5 270.5,696.7 271.3,697.0ZM293.1,696.5 293.4,696.1 293.9,697.1 295.7,692.2 291.5,695.3 292.6,695.5 292.3,695.9ZM313.7,696.8 314.3,696.9 313.4,697.9 319.5,697.6 314.3,694.5 314.6,695.8 314.0,695.6ZM335.5,696.8 336.1,696.3 336.5,697.9 340.8,691.3 333.5,694.5 335.1,695.1 334.5,695.6ZM356.8,695.7 356.3,695.0 358.2,694.6 350.8,689.4 354.1,697.8 354.9,696.1 355.5,696.7ZM378.2,695.2 376.5,693.6 379.5,692.5 366.3,686.1 373.8,698.7 374.6,695.7 376.3,697.2ZM399.1,695.7 398.6,695.0 400.4,694.7 393.5,689.5 396.4,697.7 397.3,696.0 397.8,696.7ZM419.5,695.7 419.0,695.7 419.4,694.6 414.2,696.8 419.7,697.8 419.1,696.8 419.6,696.7ZM440.6,695.5 439.9,695.6 440.5,694.1 433.7,696.9 440.9,698.3 440.1,697.0 440.8,696.9ZM462.1,695.8 461.7,695.5 462.7,694.9 457.5,693.5 461.0,697.5 461.1,696.4 461.6,696.6ZM483.3,695.8 482.9,695.5 483.9,695.1 479.3,693.0 482.0,697.3 482.3,696.3 482.7,696.6ZM504.5,696.2 504.5,695.8 505.3,696.2 504.3,692.1 502.9,696.2 503.7,695.8 503.7,696.2ZM525.8,696.5 526.0,696.0 526.7,697.0 528.1,691.3 523.8,695.4 525.0,695.4 524.8,695.9ZM547.2,696.2 547.2,695.4 548.8,696.2 546.5,688.2 544.0,696.2 545.6,695.4 545.6,696.2ZM567.9,696.0 567.7,695.7 568.6,695.6 565.6,692.7 566.5,696.8 567.0,696.0 567.2,696.4ZM587.3,695.4 588.7,694.6 590.1,695.4 590.1,697.0 588.7,697.8 587.3,697.0ZM609.8,695.6 609.2,695.5 609.9,694.3 603.4,695.9 609.7,698.1 609.2,696.8 609.8,696.8ZM631.0,695.8 630.6,695.8 631.1,695.0 627.1,695.6 630.8,697.4 630.5,696.5 630.9,696.6ZM652.8,695.4 652.0,694.6 654.3,693.7 643.9,688.7 649.9,698.7 650.5,696.3 651.4,697.0ZM674.3,695.6 673.7,694.6 676.4,694.5 667.5,685.6 670.1,697.9 671.6,695.7 672.2,696.8ZM695.4,695.6 694.8,694.6 697.4,694.4 688.3,686.2 691.4,698.0 692.8,695.8 693.4,696.8ZM716.6,695.3 715.1,693.5 718.1,692.8 705.8,684.9 711.7,698.3 712.9,695.4 714.5,697.1ZM737.6,695.2 735.0,692.6 738.0,691.6 725.0,684.8 732.1,697.6 733.0,694.6 735.7,697.2ZM758.7,695.1 754.8,691.9 757.7,690.6 744.3,684.8 752.3,697.1 753.0,694.0 756.9,697.3ZM779.9,695.1 775.1,691.1 778.0,689.9 764.7,683.9 772.5,696.2 773.3,693.2 778.0,697.3ZM801.0,695.2 796.4,690.8 799.3,689.7 786.3,683.1 793.5,695.8 794.5,692.8 799.1,697.2ZM822.3,695.3 815.8,687.9 818.9,687.1 806.5,679.3 812.5,692.6 813.7,689.7 820.2,697.1ZM843.6,695.5 841.2,691.2 844.3,691.1 833.8,680.9 837.0,695.2 838.7,692.6 841.1,696.9ZM864.3,695.9 864.0,695.2 865.8,695.4 860.8,688.5 861.2,697.0 862.5,695.7 862.7,696.5ZM885.1,696.0 884.9,695.6 886.0,695.7 883.0,691.8 883.3,696.7 884.0,695.9 884.2,696.4ZM906.3,696.0 906.1,695.5 907.4,695.6 903.8,690.9 904.2,696.8 905.1,695.9 905.3,696.4ZM927.8,696.0 927.6,695.2 929.5,695.7 925.4,687.7 924.4,696.7 925.9,695.5 926.1,696.4ZM949.2,696.3 949.2,695.1 951.5,696.4 948.6,684.9 944.7,696.0 947.0,695.0 946.9,696.1ZM970.4,696.4 970.6,695.2 972.7,696.7 971.0,684.5 965.7,695.7 968.2,694.8 968.0,696.0ZM991.1,696.4 991.3,695.6 992.7,696.7 991.9,688.4 988.0,695.7 989.7,695.3 989.6,696.0ZM1012.0,696.3 1012.2,695.8 1013.1,696.6 1012.8,690.8 1009.9,695.8 1011.1,695.5 1010.9,696.1ZM1033.1,696.4 1033.3,695.9 1034.1,696.7 1034.1,691.4 1031.2,695.7 1032.3,695.6 1032.1,696.0ZM1054.4,696.4 1054.6,695.7 1055.6,696.7 1055.5,689.9 1051.9,695.7 1053.3,695.4 1053.1,696.0ZM1076.3,696.5 1077.1,691.8 1079.6,693.7 1078.0,679.2 1071.4,692.2 1074.4,691.3 1073.5,695.9ZM1097.4,696.4 1098.0,692.3 1100.6,694.1 1098.3,679.7 1092.3,692.9 1095.2,691.9 1094.7,696.0ZM1118.6,696.4 1119.0,692.6 1121.6,694.4 1119.3,679.9 1113.3,693.3 1116.3,692.3 1115.8,696.0ZM1139.7,696.3 1140.1,692.4 1142.7,694.1 1139.8,679.7 1134.4,693.3 1137.3,692.2 1136.9,696.1ZM1160.9,696.3 1161.2,692.2 1163.9,693.9 1160.8,679.6 1155.5,693.2 1158.4,692.0 1158.1,696.1ZM1182.0,696.3 1182.4,692.0 1185.1,693.7 1182.3,679.3 1176.7,692.8 1179.7,691.7 1179.2,696.1ZM1203.1,696.4 1203.6,691.8 1206.3,693.5 1203.6,679.1 1197.9,692.5 1200.9,691.5 1200.3,696.0ZM1224.3,696.4 1224.8,691.7 1227.4,693.4 1224.8,679.0 1219.1,692.4 1222.0,691.3 1221.5,696.0ZM1245.4,696.3 1245.9,691.5 1248.5,693.2 1245.8,678.8 1240.2,692.3 1243.1,691.2 1242.6,696.1ZM1266.6,696.3 1267.1,691.5 1269.7,693.2 1267.0,678.8 1261.4,692.3 1264.3,691.2 1263.8,696.1ZM1287.7,696.4 1288.4,691.6 1290.9,693.4 1288.8,678.9 1282.6,692.2 1285.6,691.2 1284.9,696.0ZM1308.8,696.4 1309.7,691.8 1312.2,693.6 1310.5,679.1 1303.9,692.2 1306.9,691.3 1306.1,696.0ZM1330.0,696.5 1330.8,691.9 1333.3,693.8 1331.7,679.3 1325.0,692.3 1328.1,691.4 1327.2,695.9ZM1351.1,696.4 1351.8,691.9 1354.4,693.7 1352.4,679.2 1346.1,692.4 1349.1,691.5 1348.3,696.0ZM229.0,674.8 228.6,675.1 228.4,673.9 225.2,678.2 230.2,676.4 229.2,675.9 229.6,675.6ZM249.9,675.1 249.8,675.6 248.8,675.0 249.8,680.6 252.1,675.4 250.9,675.8 251.0,675.2ZM270.5,674.3 269.7,675.4 268.4,672.7 263.4,685.8 274.8,677.6 271.8,677.0 272.6,676.0ZM293.0,674.8 292.7,674.6 293.6,674.2 289.4,672.4 291.9,676.1 292.1,675.2 292.4,675.5ZM314.4,675.1 314.4,674.6 315.6,675.1 313.7,669.4 312.1,675.2 313.3,674.6 313.3,675.2ZM335.5,674.7 335.1,674.2 336.5,673.9 330.7,670.1 333.5,676.4 334.1,675.1 334.5,675.6ZM356.1,674.7 355.6,674.8 356.0,673.8 351.7,675.7 356.3,676.5 355.8,675.7 356.2,675.6ZM377.3,674.4 376.5,674.4 377.4,672.9 369.6,674.9 377.2,677.5 376.5,675.9 377.3,675.9ZM398.8,674.5 398.1,674.2 399.4,673.2 391.8,671.8 397.4,677.1 397.4,675.5 398.1,675.8ZM419.4,674.6 418.9,674.8 419.0,673.6 414.3,677.0 420.1,676.7 419.2,675.9 419.7,675.7ZM440.5,674.6 439.9,674.8 440.1,673.5 435.1,677.2 441.3,676.8 440.3,675.9 440.9,675.7ZM462.3,674.8 461.9,674.4 463.1,674.1 458.4,670.9 460.6,676.2 461.1,675.1 461.4,675.5ZM483.5,675.2 483.6,674.7 484.6,675.4 483.6,669.6 481.3,675.0 482.5,674.5 482.4,675.1ZM504.6,675.6 505.0,675.1 505.5,676.4 508.2,670.5 502.7,673.9 504.1,674.3 503.6,674.8ZM525.8,675.6 526.2,675.0 526.9,676.4 529.5,669.6 523.6,673.9 525.1,674.2 524.7,674.7ZM546.8,675.1 546.7,674.6 547.7,674.9 545.4,670.9 545.1,675.4 545.9,674.8 546.0,675.3ZM567.9,674.5 567.3,674.2 568.6,673.3 561.4,671.7 566.5,677.0 566.6,675.4 567.2,675.8ZM588.7,674.8 588.4,674.8 588.8,674.1 585.1,674.8 588.6,676.2 588.3,675.5 588.6,675.5ZM609.9,674.4 609.2,674.3 610.1,672.9 602.4,674.1 609.5,677.4 609.0,675.8 609.7,675.9ZM631.2,674.6 630.6,674.3 631.7,673.4 625.1,672.8 630.2,676.9 630.1,675.5 630.7,675.7ZM652.5,674.8 652.1,674.3 653.3,674.0 648.1,671.0 650.9,676.4 651.3,675.1 651.7,675.6ZM673.7,673.8 660.9,669.2 663.2,667.0 648.6,666.2 660.3,674.9 660.0,671.8 672.8,676.5ZM695.5,674.3 694.6,673.2 697.7,672.6 685.9,664.0 691.0,677.7 692.4,674.8 693.3,676.0ZM716.4,674.1 713.2,671.4 716.1,670.1 702.7,664.2 710.7,676.5 711.4,673.5 714.6,676.2ZM737.5,674.0 730.7,669.0 733.5,667.6 719.8,662.6 728.5,674.4 729.1,671.3 735.8,676.3ZM758.6,674.0 751.1,669.3 753.8,667.6 739.8,663.7 749.3,674.7 749.6,671.6 757.0,676.3ZM779.7,674.0 771.9,668.6 774.6,667.1 760.7,662.6 769.8,674.0 770.3,670.9 778.1,676.3ZM801.0,674.1 793.1,667.4 796.0,666.2 782.6,660.4 790.5,672.6 791.3,669.6 799.2,676.2ZM822.3,674.2 815.6,666.7 818.6,665.9 806.2,658.2 812.3,671.5 813.5,668.6 820.2,676.1ZM843.6,674.5 840.7,669.1 843.8,669.0 833.5,658.7 836.4,673.0 838.2,670.4 841.1,675.8ZM864.8,674.7 864.2,672.8 867.3,673.2 858.7,661.3 859.3,675.9 861.5,673.7 862.2,675.6ZM885.4,674.9 885.1,674.2 886.8,674.5 882.4,668.0 882.5,675.8 883.7,674.7 883.9,675.4ZM906.7,674.9 906.4,674.0 908.5,674.4 903.2,666.2 903.1,675.9 904.6,674.5 904.9,675.4ZM928.0,675.1 927.9,674.0 930.2,674.9 925.9,664.2 923.6,675.5 925.7,674.2 925.8,675.3ZM949.2,675.3 949.3,674.1 951.4,675.5 949.1,664.0 944.7,674.9 947.0,673.9 946.9,675.1ZM970.3,675.3 970.5,674.2 972.6,675.6 970.6,663.8 965.8,674.7 968.2,673.9 968.1,675.0ZM991.1,675.3 991.2,674.5 992.7,675.5 991.4,667.3 988.0,674.9 989.7,674.3 989.6,675.1ZM1012.0,675.3 1012.1,674.7 1013.0,675.4 1012.4,670.0 1009.9,674.9 1011.1,674.6 1011.0,675.1ZM1033.1,675.3 1033.2,674.8 1034.0,675.5 1033.7,670.7 1031.3,674.8 1032.3,674.6 1032.2,675.0ZM1054.2,675.3 1054.3,674.8 1055.2,675.5 1054.8,670.4 1052.3,674.9 1053.4,674.6 1053.3,675.1ZM1075.4,675.2 1075.4,674.8 1076.3,675.4 1075.6,670.6 1073.5,675.0 1074.5,674.6 1074.4,675.1ZM1097.4,675.3 1098.0,671.0 1100.6,672.7 1098.2,658.3 1092.3,671.6 1095.2,670.6 1094.7,675.0ZM1118.6,675.3 1119.1,671.2 1121.7,672.9 1119.2,658.6 1113.3,672.0 1116.3,670.9 1115.8,675.0ZM1139.7,675.3 1140.1,671.1 1142.7,672.7 1139.7,658.4 1134.4,672.0 1137.3,670.8 1136.9,675.0ZM1160.9,675.3 1161.2,670.9 1163.9,672.5 1160.9,658.2 1155.5,671.8 1158.4,670.7 1158.1,675.0ZM1182.0,675.3 1182.5,670.7 1185.2,672.4 1182.6,658.0 1176.8,671.4 1179.8,670.3 1179.2,675.0ZM1203.1,675.4 1203.8,670.5 1206.4,672.3 1204.3,657.8 1198.1,671.1 1201.1,670.1 1200.4,675.0ZM1224.3,675.4 1225.0,670.5 1227.6,672.3 1225.5,657.8 1219.2,671.1 1222.2,670.1 1221.5,675.0ZM1245.4,675.3 1246.0,670.6 1248.6,672.3 1246.3,657.9 1240.3,671.3 1243.3,670.2 1242.6,675.0ZM1266.5,675.4 1267.2,670.8 1269.8,672.6 1267.5,658.1 1261.4,671.4 1264.4,670.4 1263.8,675.0ZM1287.7,675.4 1288.5,670.8 1291.0,672.7 1289.2,658.1 1282.7,671.3 1285.7,670.3 1284.9,674.9ZM1308.8,675.4 1309.8,670.8 1312.2,672.7 1310.9,658.2 1304.0,671.0 1307.0,670.2 1306.1,674.9ZM1329.9,675.5 1331.1,670.9 1333.4,672.9 1332.7,658.3 1325.3,670.9 1328.3,670.2 1327.2,674.8ZM1351.1,675.5 1352.2,670.9 1354.6,673.0 1353.8,658.4 1346.4,671.0 1349.5,670.3 1348.4,674.8ZM229.3,653.8 228.9,653.8 229.2,653.0 225.7,654.5 229.4,655.2 229.0,654.5 229.3,654.5ZM249.8,653.9 249.6,654.5 248.7,653.3 247.8,660.1 252.2,654.9 250.8,655.0 251.0,654.4ZM271.2,654.0 271.0,654.3 270.4,653.6 269.9,658.0 272.7,654.6 271.8,654.7 272.0,654.3ZM292.5,653.4 291.8,653.6 292.2,651.9 285.4,655.8 293.2,656.3 292.2,655.0 292.9,654.8ZM313.8,653.7 313.4,653.7 313.8,652.9 309.7,654.2 313.9,655.4 313.5,654.5 313.9,654.5ZM334.8,653.9 334.6,654.2 334.3,653.6 333.2,656.3 335.7,654.7 335.0,654.5 335.2,654.3ZM355.6,654.1 355.6,654.7 354.6,654.2 356.4,659.3 357.7,654.0 356.7,654.6 356.7,654.1ZM376.7,653.9 376.5,654.5 375.5,653.4 375.0,659.9 379.0,654.8 377.6,654.9 377.9,654.3ZM398.3,653.4 397.6,653.5 398.0,652.0 391.2,655.5 398.8,656.3 397.8,655.0 398.6,654.8ZM419.5,653.4 418.8,653.5 419.3,652.1 412.7,655.1 419.9,656.2 419.0,654.9 419.7,654.8ZM440.2,653.7 439.8,654.3 439.1,653.0 436.8,659.6 442.3,655.3 440.9,655.1 441.2,654.5ZM461.1,653.6 460.6,654.4 459.6,652.7 457.1,661.5 464.0,655.5 462.1,655.3 462.6,654.6ZM482.8,653.6 482.3,653.7 482.6,652.6 477.8,655.5 483.4,655.7 482.6,654.8 483.1,654.6ZM504.3,653.8 504.0,653.6 504.8,653.2 501.2,651.9 503.5,655.0 503.6,654.2 503.9,654.4ZM525.8,653.8 525.5,653.3 526.8,653.3 522.4,649.0 523.7,655.0 524.5,653.9 524.7,654.4ZM546.7,653.9 546.5,653.6 547.3,653.5 544.4,651.0 545.5,654.7 545.9,654.0 546.1,654.3ZM567.9,653.5 567.3,653.2 568.6,652.3 561.6,650.7 566.5,655.9 566.6,654.4 567.2,654.7ZM588.8,653.7 588.3,653.6 588.9,652.8 584.4,653.4 588.5,655.4 588.2,654.5 588.6,654.5ZM610.0,653.6 609.5,653.4 610.4,652.6 604.9,652.1 609.2,655.6 609.1,654.4 609.6,654.6ZM631.5,653.5 630.8,652.9 632.5,652.1 624.3,649.0 629.4,656.1 629.8,654.3 630.4,654.8ZM653.2,653.3 651.8,651.3 654.9,650.8 643.3,641.9 648.1,655.7 649.5,653.0 651.0,654.9ZM674.4,653.4 663.4,635.8 666.5,635.5 655.5,625.9 659.4,640.0 661.0,637.3 672.1,654.9ZM695.4,653.2 691.1,648.2 694.2,647.5 681.8,639.6 687.8,653.0 689.0,650.1 693.3,655.0ZM716.5,653.1 710.8,647.7 713.7,646.6 700.7,640.1 708.0,652.7 708.9,649.7 714.6,655.1ZM737.6,653.1 729.8,645.3 732.8,644.3 719.9,637.5 726.8,650.3 727.8,647.3 735.7,655.1ZM758.8,653.1 753.5,648.0 756.4,647.0 743.4,640.3 750.6,653.1 751.5,650.1 756.8,655.1ZM779.9,653.1 774.6,647.8 777.5,646.8 764.7,639.8 771.6,652.7 772.6,649.7 777.9,655.1ZM801.2,653.2 795.9,647.0 799.0,646.2 786.8,638.2 792.5,651.6 793.8,648.8 799.0,655.0ZM822.4,653.4 817.8,646.2 820.9,645.9 809.8,636.4 813.9,650.5 815.5,647.8 820.0,654.9ZM843.7,653.6 841.3,648.1 844.5,648.3 835.2,637.0 836.7,651.6 838.8,649.2 841.1,654.7ZM864.9,653.8 864.3,651.5 867.3,652.1 859.7,639.7 859.2,654.3 861.6,652.2 862.1,654.5ZM886.0,653.9 885.7,652.5 888.7,653.4 882.1,640.7 880.6,654.9 883.1,653.0 883.3,654.4ZM906.7,654.0 906.6,653.0 908.6,653.7 904.4,644.7 903.0,654.5 904.7,653.3 904.8,654.3ZM928.3,654.1 928.2,651.8 931.1,653.1 926.4,639.3 922.7,653.4 925.4,651.9 925.5,654.2ZM949.4,654.2 949.5,652.8 952.2,654.4 949.1,640.3 943.9,653.8 946.8,652.6 946.7,654.0ZM970.5,654.2 970.6,652.9 973.2,654.4 970.0,640.7 965.2,653.9 967.9,652.7 967.9,654.0ZM991.4,654.2 991.5,653.1 993.5,654.3 990.9,643.5 987.2,654.0 989.3,653.0 989.3,654.1ZM1012.1,654.2 1012.2,653.6 1013.2,654.4 1012.5,648.4 1009.8,653.8 1011.0,653.4 1010.9,654.0ZM1033.1,654.2 1033.2,653.7 1034.1,654.5 1033.8,649.1 1031.1,653.8 1032.2,653.5 1032.1,654.0ZM1054.2,654.2 1054.4,653.7 1055.2,654.4 1054.8,649.2 1052.3,653.8 1053.4,653.5 1053.3,654.0ZM1075.4,654.2 1075.5,653.7 1076.5,654.4 1075.8,648.7 1073.3,653.9 1074.4,653.5 1074.4,654.0ZM1096.9,654.2 1097.0,653.4 1098.6,654.5 1097.2,645.6 1093.5,653.8 1095.3,653.1 1095.2,654.0ZM1118.6,654.3 1118.8,652.8 1121.4,654.5 1118.9,640.1 1113.0,653.5 1116.0,652.5 1115.8,653.9ZM1139.7,654.3 1140.2,650.0 1142.8,651.8 1140.2,637.4 1134.5,650.8 1137.4,649.7 1136.9,654.0ZM1160.8,654.3 1161.4,650.0 1164.0,651.7 1161.6,637.3 1155.7,650.6 1158.6,649.6 1158.1,653.9ZM1182.0,654.3 1182.7,649.6 1185.3,651.5 1183.4,637.0 1177.0,650.1 1180.0,649.2 1179.2,653.9ZM1203.1,654.4 1204.1,649.5 1206.6,651.5 1205.2,636.9 1198.3,649.8 1201.3,649.0 1200.4,653.8ZM1224.3,654.4 1225.3,649.6 1227.7,651.5 1226.5,637.0 1219.5,649.8 1222.5,649.0 1221.5,653.8ZM1245.4,654.4 1246.3,649.7 1248.8,651.6 1247.2,637.1 1240.5,650.1 1243.5,649.2 1242.6,653.9ZM1266.5,654.4 1267.4,649.9 1269.9,651.8 1268.6,637.3 1261.7,650.2 1264.7,649.3 1263.8,653.8ZM1287.7,654.4 1288.7,649.9 1291.1,651.9 1290.2,637.3 1282.9,650.0 1286.0,649.3 1284.9,653.8ZM1308.8,654.5 1310.0,649.9 1312.4,652.0 1311.9,637.4 1304.2,649.8 1307.3,649.2 1306.1,653.8ZM1329.9,654.5 1331.3,649.9 1333.6,652.1 1333.7,637.5 1325.6,649.6 1328.7,649.1 1327.2,653.7ZM1351.1,654.5 1352.5,650.0 1354.8,652.2 1355.1,637.6 1346.8,649.6 1349.9,649.1 1348.4,653.7ZM229.4,632.7 229.0,632.6 229.5,631.9 225.4,632.4 229.1,634.2 228.8,633.4 229.2,633.5ZM250.5,632.3 249.7,632.2 250.7,630.7 242.5,632.1 250.2,635.5 249.6,633.8 250.3,633.9ZM271.7,632.5 271.2,632.4 272.0,631.4 266.0,631.8 271.2,634.7 270.9,633.5 271.4,633.6ZM292.8,632.6 292.3,632.5 293.0,631.6 287.9,632.2 292.5,634.5 292.2,633.5 292.6,633.6ZM313.5,632.7 313.1,633.0 312.8,631.9 310.0,636.5 314.9,634.2 313.8,633.8 314.2,633.5ZM334.6,633.1 334.7,633.5 333.9,633.2 335.5,636.7 336.1,632.9 335.4,633.4 335.4,633.0ZM355.8,633.2 355.9,633.6 355.1,633.5 357.6,636.6 357.2,632.6 356.6,633.3 356.5,632.9ZM376.7,633.1 376.7,633.7 375.5,633.1 377.3,638.9 379.0,633.1 377.9,633.7 377.9,633.1ZM397.8,632.4 397.1,633.0 396.7,630.9 391.3,639.0 400.2,635.2 398.3,634.4 399.0,633.8ZM419.5,632.5 418.9,632.6 419.4,631.4 414.0,633.6 419.7,634.8 419.1,633.7 419.6,633.6ZM440.1,632.9 439.9,633.4 438.9,632.4 438.4,639.0 442.5,633.8 441.1,633.9 441.3,633.3ZM461.6,633.7 462.2,633.9 461.1,634.9 467.9,635.7 462.6,631.2 462.7,632.7 462.1,632.5ZM482.9,633.5 483.3,633.5 482.7,634.2 486.7,634.0 483.3,632.0 483.4,632.8 483.1,632.7ZM504.6,634.6 503.0,634.3 502.6,632.7 503.6,631.5 505.2,631.9 505.7,633.4ZM524.9,632.5 524.3,632.8 524.3,631.3 519.2,636.3 526.2,634.9 525.0,634.0 525.6,633.7ZM546.7,632.8 546.5,632.5 547.3,632.4 544.0,630.0 545.5,633.8 545.9,633.0 546.1,633.3ZM568.2,633.0 568.2,632.3 569.6,632.9 566.9,626.2 565.5,633.3 566.8,632.5 566.8,633.1ZM589.2,632.9 589.0,632.5 590.1,632.7 587.2,628.3 587.2,633.5 588.1,632.7 588.2,633.2ZM609.3,633.5 609.7,634.1 608.2,634.4 614.3,638.4 611.4,631.7 610.8,633.2 610.4,632.6ZM632.6,633.1 631.8,634.5 630.2,634.5 629.4,633.1 630.2,631.7 631.8,631.7ZM652.5,632.3 651.8,631.9 653.4,630.8 644.5,628.7 650.8,635.4 650.9,633.4 651.7,633.8ZM673.9,631.8 663.7,626.3 666.3,624.5 651.9,621.6 662.3,631.9 662.4,628.8 672.6,634.3ZM695.3,632.1 694.1,630.9 697.1,629.8 684.0,623.2 691.3,635.9 692.2,632.9 693.4,634.1ZM716.7,632.3 708.6,620.7 711.7,620.3 700.2,611.2 704.8,625.1 706.3,622.3 714.4,633.9ZM737.7,632.1 722.8,616.2 725.8,615.3 713.2,607.9 719.7,621.0 720.8,618.1 735.6,634.0ZM758.9,632.7 758.6,631.6 761.2,632.0 754.1,621.7 754.4,634.2 756.3,632.3 756.7,633.5ZM780.0,632.5 779.4,631.4 782.2,631.3 772.9,622.1 775.7,634.9 777.2,632.6 777.8,633.7ZM801.3,632.4 796.6,624.0 799.8,623.9 789.3,613.7 792.4,627.9 794.2,625.3 798.9,633.8ZM822.5,632.6 820.4,627.1 823.5,627.4 814.5,615.9 815.7,630.4 817.8,628.1 819.9,633.6ZM843.7,632.7 842.8,629.4 845.9,630.0 838.0,617.7 837.8,632.3 840.1,630.2 841.0,633.5ZM864.9,632.8 864.1,628.8 867.1,629.7 860.3,616.7 858.9,631.3 861.3,629.4 862.1,633.4ZM886.0,632.9 885.7,630.4 888.6,631.4 882.4,618.2 880.3,632.7 882.9,630.9 883.3,633.3ZM907.1,632.9 906.9,631.6 909.8,632.5 904.0,619.8 901.8,633.6 904.3,631.9 904.5,633.3ZM928.3,633.0 928.2,631.2 931.1,632.4 925.6,618.8 922.7,633.1 925.4,631.5 925.5,633.2ZM949.5,633.1 949.5,631.1 952.3,632.5 948.0,618.5 943.9,632.5 946.7,631.1 946.7,633.1ZM970.6,633.1 971.0,623.7 973.7,625.2 970.0,611.0 965.3,624.8 968.2,623.5 967.8,633.0ZM991.7,633.1 991.8,631.6 994.5,633.1 990.9,618.9 986.1,632.8 989.0,631.5 988.9,633.0ZM1012.4,633.3 1012.6,632.5 1014.2,633.9 1014.1,624.1 1008.8,632.3 1010.9,631.9 1010.6,632.8ZM1033.4,633.4 1033.7,632.6 1035.0,633.9 1035.5,625.1 1030.2,632.2 1032.1,632.0 1031.8,632.8ZM1054.4,633.3 1054.6,632.6 1055.8,633.7 1055.9,626.4 1051.8,632.4 1053.3,632.2 1053.1,632.9ZM1075.6,633.3 1075.8,632.6 1077.0,633.6 1076.8,626.2 1072.8,632.5 1074.4,632.2 1074.2,632.9ZM1096.9,633.3 1097.2,632.4 1098.7,633.8 1098.3,624.1 1093.3,632.4 1095.4,631.9 1095.1,632.9ZM1118.1,633.3 1118.3,632.4 1119.9,633.7 1119.3,624.1 1114.5,632.5 1116.5,632.0 1116.3,632.9ZM1139.4,633.3 1139.7,632.2 1141.6,633.8 1140.9,622.0 1135.0,632.3 1137.5,631.7 1137.2,632.8ZM1160.8,633.4 1161.6,630.0 1164.0,632.0 1163.2,617.4 1155.9,630.1 1158.9,629.4 1158.1,632.8ZM1182.0,633.4 1183.1,629.1 1185.5,631.2 1185.1,616.6 1177.4,629.0 1180.4,628.4 1179.2,632.7ZM1203.1,633.5 1204.5,628.9 1206.8,631.1 1207.0,616.5 1198.7,628.6 1201.8,628.1 1200.4,632.7ZM1224.2,633.5 1225.7,628.9 1227.9,631.0 1228.2,616.4 1219.9,628.5 1223.0,628.0 1221.5,632.7ZM1245.4,633.5 1246.8,628.9 1249.0,631.1 1249.1,616.4 1241.0,628.6 1244.1,628.1 1242.7,632.7ZM1266.5,633.5 1267.9,628.9 1270.2,631.1 1270.4,616.5 1262.2,628.6 1265.3,628.1 1263.8,632.7ZM1287.6,633.5 1289.2,629.0 1291.4,631.2 1291.9,616.6 1283.4,628.5 1286.5,628.1 1285.0,632.6ZM1308.8,633.6 1310.4,629.1 1312.5,631.4 1313.4,616.8 1304.6,628.5 1307.8,628.1 1306.1,632.6ZM1329.9,633.6 1331.7,629.1 1333.8,631.4 1335.0,616.8 1325.9,628.3 1329.1,628.0 1327.3,632.6ZM1351.0,633.6 1352.9,629.1 1354.9,631.4 1356.4,616.9 1347.2,628.2 1350.3,628.0 1348.4,632.5ZM229.3,611.3 228.6,611.3 229.3,609.9 222.1,612.0 229.3,614.2 228.6,612.8 229.3,612.8ZM250.9,611.6 250.5,611.2 251.8,610.8 246.4,607.4 249.0,613.3 249.6,612.0 250.0,612.4ZM272.3,612.1 272.3,611.4 273.7,612.1 271.9,605.0 269.5,611.9 270.9,611.3 270.9,612.0ZM293.6,611.6 293.2,610.7 295.4,610.7 288.4,603.2 290.1,613.3 291.4,611.6 291.8,612.5ZM313.5,611.7 313.2,612.0 312.9,610.9 310.1,615.2 314.8,613.2 313.8,612.7 314.2,612.4ZM334.2,612.0 334.2,612.9 332.5,612.0 334.9,620.4 337.5,612.1 335.8,612.9 335.8,612.0ZM355.9,611.9 355.8,612.2 355.3,611.7 355.0,614.7 356.9,612.4 356.3,612.4 356.4,612.1ZM376.8,611.7 376.5,612.2 376.0,611.2 374.3,616.4 378.6,612.9 377.4,612.8 377.7,612.3ZM398.1,611.7 397.8,612.0 397.5,611.0 394.8,615.1 399.3,613.1 398.4,612.7 398.7,612.4ZM419.5,611.4 418.9,611.4 419.4,610.1 413.0,612.6 419.7,614.0 419.0,612.7 419.6,612.7ZM440.0,611.1 439.1,611.9 438.5,609.3 431.7,619.3 442.9,614.7 440.5,613.7 441.4,612.9ZM461.1,612.5 461.6,613.2 459.7,613.4 466.3,619.3 464.0,610.7 463.0,612.3 462.6,611.6ZM482.8,612.8 483.6,613.0 482.5,614.4 490.9,613.8 483.5,609.7 483.9,611.4 483.2,611.2ZM503.8,612.5 504.2,612.9 503.0,613.4 508.6,615.7 505.2,610.7 504.9,612.0 504.5,611.6ZM524.9,611.7 524.6,612.0 524.3,611.0 521.9,615.4 526.3,613.0 525.3,612.7 525.6,612.4ZM546.7,612.0 546.6,611.7 547.3,611.8 545.7,609.1 545.5,612.2 546.0,611.8 546.1,612.1ZM567.8,612.2 567.9,612.0 568.2,612.5 569.0,609.7 566.8,611.6 567.5,611.7 567.3,611.9ZM589.5,612.4 589.9,611.5 591.3,613.1 592.1,603.4 586.1,611.0 588.2,610.8 587.8,611.7ZM609.4,611.7 609.1,612.1 608.7,611.1 606.6,615.9 611.0,613.0 609.9,612.7 610.2,612.4ZM630.4,611.8 630.2,612.4 629.3,611.4 628.9,617.7 632.7,612.7 631.3,612.8 631.5,612.2ZM652.7,610.8 635.7,602.6 638.2,600.7 623.7,598.4 634.5,608.2 634.5,605.1 651.5,613.3ZM674.1,610.9 652.5,594.9 655.3,593.5 641.5,588.5 650.3,600.2 650.8,597.1 672.4,613.2ZM695.7,611.5 692.9,605.0 696.1,605.2 686.7,594.0 688.3,608.5 690.4,606.1 693.1,612.6ZM716.1,611.5 715.5,610.9 717.2,610.3 709.9,606.4 713.8,613.7 714.4,612.0 715.0,612.6ZM737.5,611.0 736.5,610.1 739.3,608.9 726.2,603.3 734.0,615.2 734.7,612.2 735.8,613.1ZM758.9,611.1 751.9,603.1 754.9,602.3 742.6,594.5 748.6,607.9 749.8,605.0 756.7,613.0ZM780.1,611.3 779.2,609.9 782.3,609.5 771.3,600.0 775.2,614.0 776.8,611.4 777.8,612.8ZM801.3,611.4 796.9,603.2 800.1,603.1 789.8,592.7 792.7,607.1 794.5,604.5 798.8,612.7ZM822.5,611.6 821.0,607.0 824.1,607.4 815.6,595.5 816.1,610.1 818.3,607.9 819.9,612.5ZM843.7,611.7 842.4,606.8 845.5,607.5 837.7,595.1 837.4,609.7 839.7,607.6 841.0,612.4ZM864.9,611.7 863.9,607.9 867.0,608.6 859.6,596.0 858.8,610.6 861.2,608.6 862.1,612.4ZM886.0,611.8 885.7,610.3 888.7,611.0 881.7,598.2 880.5,612.8 883.0,610.8 883.3,612.3ZM906.9,611.8 906.7,610.6 909.2,611.3 903.3,600.6 902.3,612.8 904.4,611.1 904.6,612.3ZM928.1,611.8 927.8,610.6 930.4,611.3 924.3,600.3 923.4,612.8 925.5,611.1 925.7,612.3ZM949.4,611.8 949.1,609.8 952.1,610.8 946.0,597.5 943.8,612.0 946.4,610.2 946.7,612.2ZM970.6,612.0 970.6,609.8 973.4,611.2 968.9,597.2 965.0,611.3 967.8,609.9 967.8,612.1ZM991.7,612.1 991.8,609.6 994.6,611.1 990.9,596.9 986.2,610.8 989.0,609.5 988.9,612.0ZM1012.8,612.4 1013.9,608.2 1016.3,610.2 1015.5,595.6 1008.1,608.2 1011.1,607.5 1010.1,611.7ZM1033.7,612.5 1034.2,611.4 1035.8,613.5 1037.4,601.3 1029.4,610.6 1032.0,610.5 1031.5,611.6ZM1054.7,612.5 1055.1,611.6 1056.5,613.3 1057.9,603.0 1051.1,610.8 1053.3,610.7 1052.9,611.6ZM1075.8,612.4 1076.2,611.5 1077.6,613.2 1078.6,602.9 1072.2,610.9 1074.4,610.8 1074.0,611.7ZM1097.1,612.5 1097.5,611.4 1099.1,613.3 1100.2,601.8 1093.0,610.8 1095.4,610.6 1095.0,611.6ZM1118.0,612.4 1118.3,611.5 1119.6,613.0 1120.4,603.9 1114.7,611.1 1116.7,610.9 1116.4,611.7ZM1139.0,612.3 1139.3,611.6 1140.4,612.8 1140.9,605.1 1136.3,611.3 1137.9,611.1 1137.6,611.8ZM1160.2,612.3 1160.5,611.6 1161.6,612.8 1162.1,604.7 1157.3,611.3 1159.0,611.0 1158.7,611.8ZM1181.9,612.5 1183.4,608.4 1185.6,610.7 1186.4,596.1 1177.7,607.8 1180.8,607.5 1179.3,611.6ZM1203.0,612.5 1204.8,608.1 1206.9,610.4 1207.9,595.8 1199.0,607.4 1202.1,607.1 1200.4,611.5ZM1224.2,612.5 1226.0,608.0 1228.1,610.3 1229.2,595.7 1220.2,607.2 1223.3,606.9 1221.6,611.5ZM1245.3,612.6 1247.1,608.0 1249.2,610.3 1250.5,595.7 1241.4,607.2 1244.5,606.9 1242.7,611.5ZM1266.5,612.6 1268.3,608.0 1270.4,610.4 1271.8,595.8 1262.6,607.2 1265.7,606.9 1263.9,611.5ZM1287.6,612.6 1289.4,608.1 1291.5,610.5 1293.0,596.0 1283.7,607.3 1286.9,607.1 1285.0,611.5ZM1308.7,612.6 1310.6,608.3 1312.6,610.6 1314.2,596.1 1304.9,607.4 1308.0,607.2 1306.2,611.5ZM1329.9,612.6 1331.8,608.1 1333.8,610.5 1335.6,596.0 1326.2,607.1 1329.3,607.0 1327.3,611.5ZM1351.0,612.6 1353.1,608.1 1355.0,610.5 1357.0,596.0 1347.4,607.0 1350.5,606.9 1348.4,611.5ZM229.5,590.6 229.1,590.4 229.8,589.9 225.6,589.2 228.8,592.1 228.7,591.2 229.1,591.4ZM250.8,590.8 250.6,590.4 251.6,590.3 248.0,587.2 249.3,591.7 249.8,590.9 250.1,591.2ZM272.0,591.1 272.1,590.7 272.8,591.4 273.0,586.9 270.3,590.6 271.3,590.4 271.2,590.9ZM293.1,590.9 293.0,590.5 293.9,590.6 291.4,587.0 291.5,591.4 292.2,590.7 292.3,591.1ZM313.5,590.5 313.0,590.8 312.8,589.4 308.7,594.4 314.9,592.6 313.7,591.9 314.2,591.5ZM334.6,590.7 334.2,591.1 333.7,590.0 331.7,595.3 336.3,592.0 335.1,591.8 335.4,591.3ZM355.9,590.3 355.2,590.6 355.3,589.0 349.5,593.7 356.9,593.0 355.7,591.9 356.4,591.7ZM376.9,590.5 376.5,590.9 376.2,589.6 372.6,594.6 378.3,592.4 377.2,591.8 377.6,591.5ZM398.0,590.5 397.5,591.0 397.1,589.6 393.8,595.5 399.8,592.4 398.4,591.9 398.9,591.5ZM419.1,590.1 418.3,590.6 418.3,588.4 410.8,595.3 420.9,593.6 419.1,592.3 420.0,591.9ZM439.8,590.2 439.0,591.1 438.0,588.6 432.7,600.0 443.4,593.4 440.8,592.7 441.6,591.8ZM461.2,590.8 461.0,591.5 459.8,590.4 459.9,597.8 463.9,591.6 462.3,591.9 462.5,591.2ZM482.0,591.0 482.0,592.0 480.0,590.9 482.6,600.9 486.0,591.1 483.9,592.0 484.0,591.0ZM503.5,590.9 503.4,591.6 502.2,590.8 503.5,597.5 506.1,591.2 504.7,591.7 504.8,591.1ZM525.0,590.4 524.4,590.7 524.5,589.3 519.5,593.4 526.0,592.7 524.9,591.8 525.5,591.6ZM547.1,591.1 547.2,590.4 548.5,591.4 547.8,584.0 544.3,590.6 545.8,590.2 545.7,590.9ZM568.0,591.5 568.4,591.1 568.8,592.4 572.3,586.9 566.3,589.6 567.6,590.1 567.1,590.5ZM589.2,591.2 589.4,590.7 590.1,591.6 590.8,586.1 587.2,590.4 588.4,590.3 588.2,590.8ZM609.3,590.9 609.2,591.4 608.4,590.6 608.5,595.8 611.3,591.4 610.2,591.6 610.3,591.1ZM631.5,589.9 630.4,589.4 632.6,587.7 620.1,585.5 629.3,594.3 629.3,591.5 630.4,592.1ZM652.5,589.7 641.0,586.2 643.2,583.9 628.6,583.8 640.7,591.9 640.2,588.8 651.7,592.3ZM673.3,589.6 666.2,589.2 667.8,586.5 653.6,590.0 667.3,594.9 666.1,592.0 673.2,592.4ZM695.2,589.9 691.2,586.9 694.0,585.5 680.2,580.6 689.0,592.3 689.5,589.2 693.6,592.1ZM716.1,589.7 709.5,586.5 712.0,584.6 697.5,582.2 708.3,592.1 708.3,589.0 714.9,592.3ZM736.7,590.6 736.2,590.6 736.7,589.7 732.3,591.0 736.7,592.3 736.2,591.4 736.7,591.4ZM758.6,590.2 757.8,589.4 760.3,588.5 749.6,582.8 755.3,593.5 756.2,591.0 757.0,591.8ZM780.0,590.1 778.5,588.1 781.5,587.5 769.6,579.0 774.9,592.6 776.2,589.8 777.8,591.9ZM801.3,590.3 800.2,588.3 803.3,588.2 792.7,578.1 796.0,592.4 797.7,589.7 798.9,591.7ZM822.5,590.4 821.0,587.2 824.1,587.3 814.6,576.2 816.5,590.7 818.5,588.3 819.9,591.6ZM843.7,590.5 842.6,588.0 845.8,588.2 836.6,576.8 838.0,591.4 840.1,589.0 841.1,591.5ZM864.6,590.6 864.2,589.6 866.7,589.8 859.6,580.4 860.3,592.2 862.1,590.3 862.4,591.4ZM886.0,590.6 885.6,589.2 888.6,589.7 880.6,577.5 880.6,592.1 882.9,590.0 883.3,591.4ZM907.1,590.6 906.7,589.0 909.7,589.5 901.8,577.2 901.7,591.9 904.0,589.7 904.4,591.4ZM928.3,590.6 926.4,584.8 929.5,585.3 921.3,573.2 921.5,587.8 923.8,585.6 925.6,591.4ZM949.4,590.6 948.2,586.2 951.3,586.9 943.6,574.4 943.2,589.0 945.5,587.0 946.7,591.4ZM970.6,590.9 970.0,585.0 972.9,586.1 967.3,572.6 964.6,587.0 967.2,585.3 967.8,591.1ZM991.7,591.0 991.8,586.6 994.5,588.1 990.4,574.0 986.1,588.0 989.0,586.6 988.9,591.0ZM1012.9,591.1 1013.1,584.2 1015.9,585.7 1012.2,571.6 1007.5,585.4 1010.3,584.1 1010.1,590.9ZM1033.9,591.3 1034.2,590.1 1036.3,591.9 1035.7,578.6 1028.9,590.1 1031.7,589.5 1031.4,590.7ZM1054.8,591.5 1055.3,590.4 1056.9,592.4 1058.3,580.5 1050.6,589.6 1053.2,589.5 1052.7,590.5ZM1076.2,591.5 1076.7,590.3 1078.7,592.6 1080.3,578.4 1071.1,589.4 1074.2,589.2 1073.6,590.5ZM1097.3,591.5 1097.9,590.3 1099.9,592.6 1101.4,578.2 1092.2,589.4 1095.3,589.2 1094.8,590.5ZM1118.0,591.4 1118.4,590.5 1119.7,592.1 1120.8,582.8 1114.7,589.9 1116.7,589.8 1116.4,590.6ZM1138.9,591.3 1139.2,590.7 1140.2,591.8 1141.0,584.9 1136.5,590.2 1138.0,590.1 1137.7,590.7ZM1160.1,591.2 1160.3,590.6 1161.3,591.7 1161.9,585.0 1157.6,590.3 1159.1,590.1 1158.9,590.8ZM1181.5,591.3 1181.9,590.4 1183.4,592.0 1184.1,581.8 1177.8,590.0 1180.0,589.7 1179.7,590.7ZM1203.0,591.5 1204.7,587.1 1206.9,589.4 1208.0,574.8 1199.0,586.4 1202.1,586.1 1200.4,590.5ZM1224.2,591.5 1226.0,587.1 1228.0,589.4 1229.4,574.9 1220.2,586.3 1223.4,586.0 1221.6,590.5ZM1245.3,591.6 1247.2,587.3 1249.2,589.7 1250.8,575.1 1241.5,586.3 1244.6,586.2 1242.7,590.4ZM1266.4,591.6 1268.3,587.4 1270.3,589.8 1272.2,575.3 1262.6,586.4 1265.7,586.3 1263.9,590.4ZM1287.6,591.6 1289.3,587.5 1291.3,589.9 1293.1,575.4 1283.6,586.6 1286.8,586.4 1285.0,590.4ZM1308.7,591.6 1310.5,587.6 1312.5,590.0 1314.3,575.5 1304.8,586.6 1307.9,586.5 1306.2,590.4ZM1329.9,591.6 1331.8,587.4 1333.7,589.9 1335.8,575.4 1326.1,586.3 1329.2,586.2 1327.3,590.4ZM1351.0,591.6 1353.0,587.4 1354.9,589.8 1357.2,575.4 1347.4,586.2 1350.5,586.2 1348.5,590.4ZM229.9,569.9 229.8,569.4 231.0,569.9 229.0,564.4 227.6,570.0 228.7,569.4 228.7,570.0ZM251.4,569.8 251.2,568.9 253.2,569.6 249.1,560.6 247.6,570.4 249.4,569.2 249.5,570.1ZM271.9,569.9 271.9,569.6 272.5,569.9 271.4,566.9 270.7,570.0 271.3,569.7 271.3,570.0ZM292.9,569.7 292.7,569.6 293.3,569.3 290.5,568.2 292.2,570.6 292.3,570.0 292.5,570.2ZM313.7,569.4 313.1,569.6 313.3,568.2 307.9,571.9 314.4,571.7 313.5,570.7 314.0,570.6ZM335.0,569.5 334.6,569.5 335.0,568.7 330.7,570.0 335.0,571.2 334.6,570.4 335.0,570.4ZM356.0,569.0 355.0,569.1 355.8,567.0 346.2,571.1 356.5,572.9 355.3,571.1 356.3,571.0ZM377.1,569.7 376.8,569.9 376.7,569.2 374.9,572.1 377.9,570.7 377.2,570.4 377.5,570.2ZM397.2,571.0 396.9,569.4 398.1,568.4 399.7,568.9 399.9,570.5 398.7,571.5ZM419.2,569.6 418.8,570.0 418.5,568.9 416.0,573.5 420.6,571.0 419.6,570.7 419.9,570.3ZM440.3,569.9 440.2,570.3 439.5,569.7 440.0,573.9 441.9,570.2 441.0,570.4 441.1,570.0ZM461.3,569.9 461.2,570.4 460.1,569.7 460.8,575.7 463.6,570.3 462.3,570.6 462.4,570.1ZM482.7,569.7 482.5,570.0 482.1,569.3 480.9,572.9 483.9,570.6 483.1,570.5 483.3,570.2ZM503.9,569.6 503.6,569.9 503.5,569.0 501.0,572.1 504.8,570.9 504.0,570.5 504.3,570.3ZM525.2,569.2 524.5,569.3 525.1,567.8 518.0,570.5 525.4,572.1 524.6,570.7 525.3,570.7ZM547.2,570.1 547.4,569.3 548.9,570.5 548.1,561.7 543.9,569.5 545.7,569.0 545.6,569.8ZM567.9,570.6 568.6,570.2 568.7,571.9 574.1,566.0 566.3,568.0 567.8,568.9 567.1,569.3ZM589.4,570.2 589.7,569.5 590.8,570.8 591.5,562.8 586.5,569.1 588.2,569.0 588.0,569.7ZM609.8,569.0 608.9,569.0 609.8,567.2 600.5,570.0 609.8,572.8 608.9,570.9 609.8,570.9ZM631.5,568.7 625.1,565.9 627.4,563.9 612.9,562.3 624.2,571.6 624.0,568.5 630.4,571.2ZM652.7,568.7 633.0,559.7 635.5,557.8 621.0,555.8 632.0,565.4 631.9,562.3 651.5,571.2ZM673.7,568.6 665.9,566.0 668.1,563.8 653.5,563.4 665.5,571.8 665.0,568.7 672.8,571.3ZM695.1,568.8 694.0,568.1 696.5,566.5 682.9,562.8 692.2,573.4 692.5,570.4 693.7,571.1ZM716.5,569.0 709.0,561.5 712.0,560.5 699.1,553.6 706.0,566.4 707.0,563.5 714.5,570.9ZM737.7,569.1 733.2,563.5 736.2,562.8 724.1,554.7 729.7,568.1 731.0,565.3 735.6,570.8ZM758.3,569.6 757.9,569.1 759.2,568.8 753.9,565.4 756.4,571.1 757.0,569.9 757.3,570.3ZM780.2,569.4 778.6,565.4 781.7,565.6 772.4,554.3 773.9,568.8 776.0,566.5 777.6,570.5ZM801.3,569.4 800.7,568.2 803.7,568.3 794.4,557.9 796.5,571.7 798.3,569.3 798.9,570.5ZM822.5,569.3 820.4,565.4 823.6,565.3 813.4,554.8 816.1,569.2 817.9,566.7 820.0,570.6ZM843.7,569.4 842.8,567.4 846.0,567.7 836.8,556.3 838.2,570.8 840.2,568.5 841.1,570.5ZM864.5,569.7 864.3,568.7 866.6,569.3 861.2,559.6 860.4,570.7 862.2,569.2 862.5,570.2ZM885.3,569.9 885.2,569.2 886.6,569.7 883.9,563.4 882.7,570.2 883.9,569.4 884.0,570.0ZM907.0,569.7 906.8,568.5 909.4,569.3 903.5,557.8 902.1,570.6 904.3,569.0 904.6,570.2ZM928.3,569.5 926.3,563.2 929.3,563.7 921.1,551.7 921.3,566.3 923.6,564.1 925.6,570.4ZM949.4,569.6 946.9,561.3 950.0,561.8 942.0,549.6 942.0,564.2 944.3,562.1 946.7,570.4ZM970.6,569.8 970.1,565.9 973.1,567.0 967.3,553.6 964.7,568.0 967.4,566.2 967.8,570.1ZM991.7,569.9 991.7,567.2 994.5,568.6 990.2,554.6 986.1,568.7 988.9,567.3 988.9,570.0ZM1012.8,570.0 1012.8,568.7 1015.4,570.1 1012.0,557.0 1007.6,569.8 1010.2,568.6 1010.2,569.9ZM1033.7,570.1 1033.9,569.0 1035.9,570.3 1033.9,558.9 1029.3,569.6 1031.6,568.7 1031.5,569.8ZM1055.0,570.3 1055.3,569.1 1057.3,571.1 1057.4,558.0 1050.2,568.9 1052.9,568.4 1052.6,569.6ZM1076.2,570.5 1078.2,565.7 1080.2,568.0 1081.7,553.5 1072.5,564.8 1075.6,564.6 1073.6,569.4ZM1097.3,570.5 1098.3,568.2 1100.3,570.6 1101.8,556.0 1092.6,567.4 1095.7,567.1 1094.7,569.4ZM1118.0,570.3 1118.4,569.5 1119.8,571.1 1121.0,561.4 1114.6,568.8 1116.7,568.7 1116.3,569.6ZM1138.9,570.2 1139.2,569.6 1140.1,570.7 1140.9,563.9 1136.5,569.2 1138.0,569.1 1137.7,569.7ZM1160.2,570.2 1160.4,569.5 1161.6,570.8 1162.1,563.0 1157.4,569.2 1159.0,569.0 1158.8,569.7ZM1181.5,570.3 1181.9,569.4 1183.4,571.0 1184.0,560.7 1177.8,568.9 1180.0,568.7 1179.7,569.6ZM1202.8,570.4 1203.3,569.3 1205.0,571.3 1206.2,559.1 1198.5,568.6 1201.1,568.4 1200.7,569.5ZM1224.2,570.5 1225.8,566.7 1227.8,569.1 1229.5,554.6 1220.1,565.8 1223.2,565.6 1221.6,569.4ZM1245.3,570.5 1246.9,566.9 1248.9,569.3 1250.6,554.8 1241.2,566.0 1244.3,565.8 1242.7,569.4ZM1266.4,570.5 1267.9,567.1 1270.0,569.5 1271.7,555.0 1262.3,566.1 1265.4,566.0 1263.9,569.4ZM1287.6,570.5 1289.0,567.1 1291.1,569.5 1292.7,555.0 1283.3,566.2 1286.4,566.0 1285.0,569.4ZM1308.7,570.5 1310.3,567.1 1312.2,569.6 1314.2,555.1 1304.6,566.1 1307.7,566.0 1306.2,569.4ZM1329.8,570.6 1331.6,567.0 1333.5,569.4 1335.9,555.0 1326.0,565.7 1329.1,565.7 1327.3,569.3ZM1351.0,570.6 1352.9,566.9 1354.8,569.4 1357.6,555.1 1347.3,565.5 1350.5,565.6 1348.5,569.3ZM229.6,548.9 229.6,548.6 230.3,548.9 229.2,545.6 228.3,548.9 229.0,548.6 229.0,548.9ZM251.0,548.8 250.9,548.3 252.1,548.6 249.5,543.4 248.8,549.2 249.8,548.5 249.9,549.0ZM271.9,548.7 271.7,548.4 272.5,548.4 269.7,545.9 270.7,549.5 271.1,548.8 271.3,549.1ZM292.8,548.4 292.3,548.3 292.9,547.4 287.6,548.3 292.5,550.5 292.1,549.4 292.7,549.4ZM313.8,548.3 313.1,548.4 313.6,547.0 307.4,549.7 314.1,550.9 313.3,549.6 313.9,549.6ZM335.3,548.1 334.5,547.9 335.8,546.5 327.1,546.3 334.2,551.3 333.9,549.5 334.7,549.7ZM355.6,548.4 355.0,548.9 354.5,547.2 350.6,554.2 357.7,550.6 356.1,550.0 356.7,549.5ZM376.9,548.9 376.8,549.3 376.1,548.8 376.8,553.0 378.5,549.1 377.6,549.4 377.7,549.0ZM397.2,549.9 396.9,548.3 398.2,547.3 399.7,547.9 399.9,549.5 398.6,550.5ZM418.1,549.5 418.3,547.9 419.8,547.3 421.1,548.4 420.8,549.9 419.3,550.5ZM440.3,548.7 440.0,549.1 439.5,548.1 438.0,552.9 441.9,549.7 440.8,549.6 441.1,549.2ZM461.1,548.9 461.1,549.6 459.7,548.8 461.3,556.2 464.0,549.1 462.5,549.7 462.6,549.0ZM482.5,548.7 482.3,549.2 481.6,548.3 481.0,553.6 484.4,549.5 483.2,549.6 483.4,549.1ZM503.9,548.2 503.2,548.5 503.5,546.9 497.4,551.1 504.8,550.9 503.7,549.8 504.3,549.6ZM525.2,548.3 524.6,548.3 525.2,546.9 518.6,549.2 525.3,550.9 524.6,549.6 525.3,549.6ZM547.5,548.2 546.7,547.1 549.6,546.6 538.8,538.2 543.2,551.2 544.6,548.6 545.3,549.7ZM568.9,549.2 569.2,547.3 571.8,549.2 570.0,534.7 563.5,547.7 566.5,546.8 566.2,548.7ZM589.2,548.8 589.0,548.3 590.1,548.5 587.4,544.1 587.2,549.3 588.1,548.6 588.2,549.1ZM610.3,548.0 609.4,547.5 611.3,546.1 600.5,544.0 608.3,551.7 608.4,549.4 609.3,549.8ZM631.7,547.8 630.6,547.1 633.2,545.7 620.1,541.3 628.7,552.2 629.1,549.2 630.2,550.0ZM652.8,547.7 633.7,536.9 636.3,535.2 622.0,532.0 632.2,542.5 632.3,539.4 651.4,550.1ZM673.9,547.7 666.5,543.7 669.0,541.9 654.7,539.1 665.1,549.3 665.2,546.2 672.6,550.2ZM694.6,548.2 693.9,548.0 695.0,546.8 687.3,546.8 693.7,551.0 693.5,549.4 694.2,549.6ZM715.9,548.5 715.4,548.1 716.5,547.6 711.1,545.6 714.5,550.2 714.7,549.0 715.2,549.4ZM737.3,547.7 733.1,545.4 735.6,543.6 721.3,540.7 731.7,551.0 731.8,547.9 736.0,550.2ZM758.9,548.0 756.1,544.6 759.1,543.9 746.9,535.9 752.7,549.3 753.9,546.4 756.7,549.8ZM780.1,548.4 779.5,547.2 782.4,547.3 773.5,537.5 775.5,550.6 777.2,548.3 777.8,549.5ZM801.2,548.4 800.7,547.3 803.5,547.5 795.2,537.7 796.7,550.4 798.5,548.3 799.0,549.4ZM822.6,548.5 819.8,539.5 822.9,540.0 814.8,527.8 814.8,542.4 817.1,540.3 819.9,549.3ZM843.8,548.9 843.8,542.0 846.6,543.4 842.4,529.4 838.2,543.4 841.0,542.0 841.0,548.9ZM864.8,549.3 866.6,543.2 868.9,545.3 868.8,530.7 860.9,542.9 864.0,542.4 862.2,548.5ZM885.4,549.2 885.7,548.4 887.0,549.8 887.5,540.9 882.2,548.1 884.1,547.8 883.8,548.6ZM907.2,549.0 907.5,545.6 910.1,547.2 907.1,532.9 901.8,546.5 904.7,545.4 904.4,548.8ZM928.3,548.7 927.0,541.9 930.0,542.8 923.3,529.8 921.8,544.4 924.3,542.5 925.5,549.2ZM949.4,548.7 948.2,542.1 951.2,542.9 944.5,529.9 942.9,544.5 945.4,542.6 946.7,549.2ZM970.4,548.9 970.4,547.6 972.9,548.8 968.9,536.5 965.5,549.0 967.9,547.7 968.0,549.0ZM991.7,549.0 991.8,547.3 994.5,548.8 990.7,534.7 986.1,548.5 989.0,547.2 988.9,548.9ZM1012.9,549.0 1013.0,546.3 1015.7,547.9 1012.3,533.7 1007.4,547.4 1010.2,546.2 1010.1,548.8ZM1033.9,549.1 1034.0,547.8 1036.4,549.4 1034.2,536.3 1028.8,548.4 1031.5,547.5 1031.4,548.8ZM1055.1,549.2 1055.3,547.9 1057.7,549.6 1056.1,535.9 1049.9,548.2 1052.7,547.4 1052.5,548.7ZM1076.1,549.3 1076.5,548.0 1078.6,549.9 1078.2,536.6 1071.2,547.9 1074.0,547.4 1073.7,548.6ZM1097.1,549.4 1097.6,548.3 1099.3,550.2 1100.4,538.0 1092.8,547.6 1095.4,547.4 1094.9,548.5ZM1117.9,549.2 1118.2,548.5 1119.3,549.9 1120.5,541.7 1115.0,547.9 1116.8,547.9 1116.5,548.6ZM1139.0,549.2 1139.2,548.5 1140.3,549.7 1141.0,542.3 1136.3,548.1 1137.9,548.0 1137.7,548.7ZM1160.2,549.1 1160.4,548.4 1161.6,549.6 1161.7,541.7 1157.3,548.2 1159.0,548.0 1158.7,548.7ZM1181.5,549.2 1181.8,548.3 1183.4,549.8 1183.6,539.5 1177.8,548.0 1180.0,547.7 1179.7,548.6ZM1202.7,549.3 1203.1,548.4 1204.6,550.0 1205.5,539.5 1198.9,547.8 1201.2,547.6 1200.8,548.5ZM1224.0,549.4 1224.4,548.3 1226.1,550.3 1227.4,538.1 1219.6,547.6 1222.3,547.4 1221.8,548.5ZM1245.3,549.5 1247.2,545.1 1249.2,547.5 1250.9,532.9 1241.5,544.2 1244.6,544.0 1242.7,548.4ZM1266.4,549.5 1268.3,545.4 1270.3,547.8 1272.2,533.3 1262.6,544.4 1265.7,544.2 1263.9,548.3ZM1287.6,549.5 1289.4,545.4 1291.4,547.9 1293.3,533.4 1283.7,544.4 1286.9,544.3 1285.0,548.3ZM1308.7,549.5 1310.6,545.4 1312.6,547.9 1314.8,533.5 1305.0,544.3 1308.1,544.2 1306.2,548.3ZM1329.8,549.6 1332.0,545.4 1333.8,548.0 1336.7,533.6 1326.4,544.0 1329.6,544.1 1327.3,548.3ZM1350.9,549.6 1353.4,545.2 1355.2,547.8 1358.4,533.6 1347.9,543.7 1351.0,543.9 1348.5,548.2ZM229.4,527.6 229.2,527.5 229.6,527.1 226.7,526.8 229.0,528.7 228.9,528.0 229.2,528.1ZM249.4,526.7 250.9,526.3 252.0,527.5 251.5,529.1 250.0,529.4 248.9,528.2ZM271.9,527.4 271.5,527.0 272.7,526.4 266.7,524.2 270.5,529.3 270.7,528.0 271.2,528.4ZM292.4,527.0 291.5,527.3 291.8,525.1 283.4,531.0 293.6,530.7 292.1,529.1 293.0,528.8ZM313.6,527.3 313.0,527.5 313.1,526.1 307.9,530.3 314.6,529.7 313.5,528.7 314.1,528.5ZM334.9,527.2 334.2,527.2 334.8,525.7 327.7,528.5 335.2,530.1 334.3,528.7 335.1,528.6ZM355.5,527.9 355.4,528.5 354.1,527.8 355.9,534.7 358.2,528.0 356.8,528.6 356.8,527.9ZM376.9,528.1 377.1,528.5 376.2,528.5 379.4,531.6 378.4,527.3 377.9,528.0 377.6,527.7ZM398.2,527.6 398.0,527.8 397.9,527.1 395.9,529.7 399.0,528.6 398.4,528.3 398.6,528.1ZM419.8,527.2 419.1,527.0 420.3,525.9 413.0,525.6 418.9,529.8 418.7,528.3 419.3,528.5ZM440.6,527.3 440.1,527.4 440.5,526.2 435.1,528.7 440.9,529.5 440.2,528.5 440.8,528.4ZM461.1,527.5 460.7,528.3 459.5,526.8 458.3,535.7 464.2,528.9 462.3,529.0 462.6,528.2ZM482.5,527.7 482.4,528.2 481.6,527.5 481.6,532.4 484.3,528.3 483.3,528.5 483.4,528.0ZM503.9,527.3 503.3,527.5 503.5,526.1 498.2,530.1 504.8,529.6 503.8,528.7 504.3,528.5ZM525.2,527.3 524.6,527.3 525.1,526.1 519.3,528.3 525.4,529.7 524.7,528.5 525.3,528.5ZM546.3,526.9 545.3,527.0 546.1,524.9 536.3,528.8 546.7,530.9 545.5,529.0 546.5,528.9ZM567.8,527.0 566.9,526.8 568.2,525.3 558.8,525.8 566.9,530.5 566.5,528.5 567.3,528.8ZM588.9,527.0 587.9,526.8 589.2,525.2 579.6,526.1 588.2,530.6 587.6,528.6 588.5,528.8ZM609.8,527.1 609.0,527.1 609.8,525.6 602.1,527.9 609.8,530.2 609.0,528.7 609.8,528.7ZM632.0,526.9 629.5,524.2 632.5,523.4 620.1,515.8 626.3,529.0 627.4,526.1 629.9,528.8ZM652.8,526.7 640.3,519.5 642.9,517.7 628.7,514.4 638.7,525.0 638.9,521.9 651.4,529.1ZM674.0,526.8 672.9,526.0 675.5,524.6 662.3,520.3 671.0,531.1 671.4,528.2 672.5,529.0ZM695.0,526.6 687.6,522.7 690.2,520.9 675.8,518.0 686.2,528.3 686.3,525.2 693.7,529.1ZM715.9,527.6 715.6,527.2 716.7,526.9 712.3,524.0 714.4,528.8 714.8,527.8 715.1,528.2ZM737.8,527.1 731.0,517.6 734.0,517.1 722.4,508.2 727.2,522.0 728.7,519.2 735.5,528.7ZM758.9,527.1 757.4,524.9 760.5,524.4 749.1,515.3 753.6,529.2 755.1,526.5 756.7,528.7ZM779.4,527.8 779.3,527.4 780.3,527.8 778.6,523.5 777.6,528.0 778.5,527.5 778.5,527.9ZM801.3,527.3 800.7,526.1 803.7,526.1 794.1,515.8 796.4,529.7 798.3,527.3 798.9,528.5ZM822.6,528.0 823.9,515.4 826.6,517.0 823.8,502.7 818.2,516.2 821.1,515.1 819.8,527.7ZM843.4,528.5 844.0,527.4 845.5,529.6 848.2,517.3 839.2,526.1 841.9,526.2 841.3,527.3ZM864.6,528.7 871.1,519.9 872.5,522.7 877.4,509.0 865.7,517.8 868.8,518.3 862.4,527.1ZM885.9,528.6 888.0,524.8 889.7,527.4 893.1,513.2 882.5,523.2 885.6,523.4 883.4,527.2ZM907.1,528.2 909.2,518.6 911.6,520.5 910.4,506.0 903.4,518.8 906.4,518.0 904.4,527.6ZM928.3,527.8 927.7,515.8 930.6,517.1 925.7,503.3 922.2,517.5 924.9,516.0 925.5,528.0ZM949.5,527.8 949.1,522.7 952.0,523.9 946.9,510.2 943.6,524.5 946.3,522.9 946.7,528.0ZM970.6,527.9 970.8,524.7 973.5,526.2 969.9,512.0 965.1,525.8 968.0,524.6 967.8,527.8ZM991.7,527.9 991.7,526.6 994.3,528.1 990.9,514.6 986.4,527.7 989.1,526.5 989.0,527.8ZM1012.9,527.9 1012.9,525.8 1015.7,527.3 1011.9,513.2 1007.3,527.0 1010.1,525.7 1010.1,527.8ZM1033.9,528.0 1034.0,526.8 1036.4,528.4 1034.2,515.3 1028.9,527.4 1031.5,526.5 1031.4,527.7ZM1055.1,528.1 1055.4,526.7 1057.9,528.6 1056.4,514.0 1049.7,527.0 1052.7,526.1 1052.4,527.6ZM1076.1,528.1 1076.3,526.9 1078.4,528.5 1077.1,516.1 1071.4,527.2 1073.9,526.5 1073.7,527.7ZM1097.0,528.2 1097.3,527.3 1098.8,528.8 1099.0,518.7 1093.3,527.0 1095.4,526.7 1095.1,527.6ZM1117.9,528.2 1118.2,527.5 1119.3,528.9 1120.6,520.7 1115.0,526.8 1116.8,526.8 1116.5,527.5ZM1139.1,528.2 1139.4,527.5 1140.6,528.9 1141.7,520.4 1136.1,526.9 1137.9,526.8 1137.6,527.5ZM1160.2,528.2 1160.5,527.4 1161.8,528.7 1162.2,520.0 1157.1,527.0 1158.9,526.8 1158.7,527.6ZM1181.5,528.2 1181.8,527.3 1183.3,528.7 1183.5,518.9 1177.9,527.0 1180.0,526.7 1179.7,527.6ZM1202.7,528.2 1203.0,527.3 1204.5,528.9 1205.0,518.5 1198.9,526.9 1201.1,526.6 1200.8,527.6ZM1223.8,528.2 1224.1,527.3 1225.5,528.8 1226.0,519.1 1220.3,526.9 1222.3,526.7 1222.0,527.6ZM1245.2,528.3 1245.6,527.2 1247.5,529.2 1248.4,516.3 1240.6,526.6 1243.3,526.3 1242.9,527.4ZM1266.4,528.4 1269.2,522.0 1271.3,524.4 1273.0,509.9 1263.6,521.0 1266.7,520.9 1263.9,527.3ZM1287.6,528.5 1290.5,522.2 1292.4,524.7 1294.5,510.2 1284.8,521.1 1288.0,521.0 1285.0,527.3ZM1308.7,528.5 1311.7,522.3 1313.6,524.8 1315.9,510.4 1306.0,521.1 1309.2,521.1 1306.2,527.3ZM1329.8,528.5 1333.1,522.4 1334.9,525.0 1337.9,510.7 1327.5,521.0 1330.7,521.1 1327.3,527.2ZM1350.9,528.6 1354.5,522.3 1356.2,525.0 1359.5,510.7 1348.9,520.8 1352.1,521.0 1348.5,527.2ZM227.9,507.6 227.9,506.0 229.4,505.2 230.7,506.1 230.7,507.7 229.2,508.4ZM248.8,506.6 249.8,505.4 251.4,505.6 252.0,507.0 251.1,508.3 249.5,508.1ZM271.6,506.5 271.3,506.5 271.6,505.9 268.4,506.9 271.6,507.8 271.3,507.2 271.6,507.2ZM292.1,508.3 291.1,507.0 291.8,505.5 293.4,505.4 294.3,506.7 293.7,508.1ZM313.5,506.7 313.4,507.1 312.8,506.5 312.8,510.4 314.9,507.1 314.1,507.3 314.2,506.9ZM334.1,508.2 333.4,506.7 334.3,505.4 335.9,505.5 336.6,507.0 335.7,508.3ZM356.4,508.4 354.9,507.9 354.6,506.3 355.9,505.3 357.4,505.8 357.7,507.4ZM376.9,507.0 377.0,507.4 376.0,507.2 378.6,511.1 378.6,506.5 377.8,507.1 377.7,506.7ZM398.1,506.2 397.5,506.5 397.5,505.0 392.3,509.8 399.3,508.7 398.1,507.7 398.7,507.5ZM418.0,506.4 419.2,505.3 420.7,505.7 421.1,507.3 419.9,508.4 418.4,508.0ZM439.1,507.1 439.7,505.6 441.3,505.3 442.3,506.6 441.7,508.1 440.1,508.3ZM461.0,505.9 460.0,506.8 459.2,504.0 452.5,515.5 464.5,509.7 461.8,508.6 462.7,507.8ZM482.3,506.5 482.0,507.2 480.9,505.9 479.9,513.7 485.0,507.8 483.4,507.8 483.7,507.2ZM504.0,506.6 503.7,506.7 503.6,506.1 501.5,508.5 504.6,507.6 504.0,507.3 504.3,507.1ZM525.2,506.5 524.9,506.5 525.1,505.8 521.6,507.2 525.4,507.9 524.9,507.2 525.3,507.2ZM546.1,506.5 545.7,506.8 545.5,505.8 542.9,509.9 547.3,507.9 546.4,507.5 546.7,507.2ZM567.1,506.5 566.8,507.0 566.1,506.0 564.6,511.7 569.0,507.7 567.7,507.6 568.0,507.1ZM588.2,506.4 587.8,506.9 587.2,505.6 584.4,511.7 590.1,508.1 588.7,507.8 589.2,507.3ZM610.5,505.8 609.4,505.1 611.8,503.7 599.4,500.3 607.9,510.0 608.1,507.2 609.2,507.9ZM631.1,506.0 630.2,505.8 631.4,504.2 622.1,505.2 630.5,509.5 629.9,507.6 630.8,507.7ZM652.7,505.6 643.3,501.1 645.8,499.2 631.3,497.0 642.2,506.8 642.1,503.7 651.5,508.1ZM674.0,506.0 673.1,505.3 675.4,504.2 664.5,499.7 671.1,509.5 671.7,507.0 672.5,507.7ZM695.0,505.6 684.6,500.9 687.0,498.9 672.5,497.0 683.5,506.6 683.4,503.4 693.8,508.1ZM715.5,506.3 715.0,506.3 715.5,505.3 710.5,506.8 715.5,508.3 715.0,507.3 715.5,507.3ZM737.1,505.7 736.0,505.2 738.1,503.4 725.2,502.0 735.2,510.3 735.0,507.5 736.2,508.0ZM758.6,506.5 758.2,505.6 760.2,505.7 754.0,498.7 755.4,508.0 756.6,506.4 757.0,507.2ZM780.0,506.5 779.7,505.4 782.2,505.8 775.6,495.9 775.7,507.8 777.5,506.1 777.8,507.2ZM800.9,506.5 800.5,505.6 802.5,505.7 796.3,498.7 797.6,508.0 798.9,506.4 799.3,507.2ZM822.2,507.1 822.4,506.1 824.1,507.5 823.5,497.3 818.4,506.2 820.5,505.7 820.3,506.6ZM843.7,507.4 844.2,506.1 846.2,508.4 847.6,493.9 838.5,505.3 841.6,505.0 841.1,506.3ZM864.9,506.7 864.4,500.9 867.3,502.1 861.9,488.5 858.9,502.8 861.6,501.2 862.1,507.0ZM885.9,507.4 888.4,501.1 890.5,503.4 891.8,488.8 882.7,500.3 885.8,500.0 883.3,506.3ZM907.1,507.3 908.0,504.4 910.2,506.6 910.3,492.0 902.2,504.1 905.3,503.6 904.4,506.4ZM928.3,507.1 929.4,500.2 931.9,502.1 929.9,487.6 923.6,500.8 926.6,499.8 925.5,506.6ZM949.5,506.9 949.7,501.9 952.5,503.5 949.1,489.3 944.1,503.0 946.9,501.8 946.7,506.8ZM970.6,506.9 970.8,499.9 973.6,501.4 969.7,487.3 965.2,501.1 968.0,499.8 967.8,506.8ZM991.7,506.8 991.7,503.1 994.5,504.4 990.1,490.5 986.1,504.6 988.9,503.1 988.9,506.9ZM1012.9,506.9 1012.9,505.5 1015.6,507.0 1012.0,493.1 1007.4,506.7 1010.2,505.4 1010.1,506.8ZM1034.0,507.1 1034.2,505.8 1036.6,507.7 1035.4,493.5 1028.6,506.0 1031.6,505.2 1031.3,506.6ZM1055.1,507.2 1056.0,504.1 1058.3,506.2 1058.0,491.6 1050.2,503.9 1053.3,503.3 1052.4,506.5ZM1076.3,507.2 1076.7,505.4 1079.1,507.4 1078.1,492.8 1070.9,505.5 1073.9,504.8 1073.5,506.5ZM1097.3,507.1 1097.6,505.9 1099.8,507.7 1098.8,494.3 1092.3,506.0 1095.1,505.3 1094.8,506.6ZM1118.2,507.2 1118.6,506.2 1120.2,508.1 1121.2,496.8 1114.2,505.6 1116.6,505.4 1116.2,506.4ZM1139.4,507.4 1139.9,506.4 1141.4,508.6 1144.1,496.4 1135.2,505.1 1137.9,505.2 1137.3,506.3ZM1160.5,507.4 1161.1,506.3 1162.7,508.5 1164.8,496.1 1156.2,505.2 1158.9,505.2 1158.4,506.3ZM1181.7,507.3 1182.1,506.2 1183.9,508.2 1185.0,496.0 1177.3,505.5 1180.0,505.3 1179.5,506.4ZM1202.8,507.2 1203.2,506.2 1205.0,508.0 1205.7,496.1 1198.5,505.6 1201.1,505.4 1200.7,506.4ZM1224.1,507.2 1224.5,506.0 1226.5,508.0 1226.8,494.9 1219.3,505.7 1222.1,505.3 1221.7,506.5ZM1245.4,507.3 1246.9,502.2 1249.2,504.4 1249.3,489.7 1241.2,501.9 1244.3,501.4 1242.7,506.4ZM1266.5,507.3 1268.5,501.6 1270.7,503.9 1271.5,489.3 1262.8,501.0 1265.9,500.7 1263.8,506.4ZM1287.6,507.4 1290.9,499.1 1293.0,501.4 1294.3,486.8 1285.2,498.3 1288.3,498.0 1285.0,506.3ZM1308.7,507.4 1312.2,499.3 1314.2,501.7 1315.9,487.1 1306.5,498.3 1309.7,498.2 1306.2,506.3ZM1329.8,507.5 1334.0,499.4 1335.9,501.9 1338.6,487.6 1328.4,498.1 1331.5,498.1 1327.3,506.2ZM1350.9,507.5 1355.6,499.4 1357.3,502.0 1360.6,487.8 1350.0,497.9 1353.1,498.0 1348.5,506.1ZM229.0,485.8 229.0,486.1 228.4,485.8 229.4,488.8 230.2,485.8 229.6,486.1 229.6,485.8ZM250.0,485.8 250.1,486.2 249.3,485.8 250.6,489.7 251.6,485.8 250.8,486.2 250.8,485.8ZM271.1,486.0 271.3,486.5 270.1,486.4 273.5,490.6 273.0,485.2 272.3,486.1 272.1,485.6ZM294.0,486.7 292.6,487.4 291.3,486.5 291.4,484.9 292.9,484.2 294.2,485.1ZM313.5,486.1 313.8,486.5 312.7,486.8 317.1,489.6 315.0,484.8 314.6,485.9 314.2,485.5ZM334.2,486.5 334.9,487.3 332.7,487.9 342.0,493.5 337.3,483.7 336.5,485.9 335.8,485.1ZM355.8,486.4 356.4,486.8 355.0,487.7 362.5,489.7 357.3,483.9 357.2,485.5 356.5,485.2ZM377.0,486.0 377.3,486.3 376.6,486.5 379.7,488.2 378.0,485.1 377.8,485.8 377.5,485.6ZM398.1,485.7 398.0,486.0 397.4,485.5 397.4,489.3 399.5,486.1 398.7,486.3 398.8,485.9ZM419.1,485.5 418.8,486.0 418.1,485.0 416.9,490.8 421.1,486.6 419.8,486.6 420.1,486.1ZM440.1,485.8 440.1,486.4 438.9,485.9 441.0,491.7 442.5,485.7 441.3,486.4 441.3,485.8ZM461.2,485.7 461.1,486.4 459.9,485.6 461.2,492.2 463.7,486.0 462.4,486.5 462.5,485.9ZM482.3,485.6 482.1,486.2 481.0,485.1 480.6,492.5 485.0,486.5 483.4,486.7 483.7,486.0ZM503.9,485.5 503.6,485.7 503.4,484.9 501.2,488.2 504.8,486.7 504.1,486.3 504.4,486.1ZM523.8,486.4 524.0,484.8 525.5,484.2 526.8,485.2 526.5,486.8 525.0,487.4ZM546.2,487.4 544.9,486.4 545.1,484.8 546.6,484.2 547.9,485.2 547.7,486.8ZM567.3,486.0 567.4,486.2 566.7,486.3 569.2,488.5 568.4,485.3 568.0,485.9 567.8,485.6ZM588.3,485.9 588.4,486.2 587.7,486.0 589.2,489.2 589.7,485.6 589.1,486.1 589.0,485.7ZM609.1,485.3 608.6,486.0 607.7,484.2 604.4,493.0 612.0,487.4 610.0,487.1 610.5,486.3ZM631.1,484.9 630.3,484.7 631.5,483.2 622.1,484.0 630.4,488.4 629.9,486.5 630.8,486.7ZM652.9,484.6 648.1,481.4 650.8,479.9 636.8,475.5 646.1,486.8 646.5,483.7 651.3,487.0ZM673.9,484.8 672.9,484.1 675.4,482.8 663.2,478.7 671.1,488.8 671.5,486.1 672.5,486.8ZM693.8,485.1 693.1,485.6 692.7,483.7 687.3,491.4 696.0,487.9 694.2,487.1 694.9,486.5ZM714.7,485.4 714.3,486.2 713.1,484.6 711.5,493.8 717.9,487.0 715.9,487.0 716.3,486.2ZM736.2,485.8 736.1,486.2 735.2,485.7 736.2,490.6 738.1,485.9 737.1,486.3 737.1,485.8ZM757.5,485.7 757.4,486.0 756.9,485.4 756.4,488.8 758.7,486.2 758.0,486.2 758.1,485.9ZM779.1,485.0 778.2,484.9 779.3,483.3 770.7,484.6 778.6,488.3 778.0,486.5 778.8,486.6ZM800.6,485.7 800.4,485.2 801.5,485.5 798.9,481.0 798.6,486.1 799.5,485.4 799.6,485.9ZM822.3,486.1 822.6,485.0 824.6,486.6 823.9,474.6 817.9,485.0 820.4,484.4 820.1,485.5ZM843.7,486.2 846.3,476.4 848.6,478.5 848.1,463.9 840.5,476.4 843.6,475.7 841.0,485.4ZM864.9,486.0 865.1,484.7 867.6,486.5 865.9,472.2 859.4,485.1 862.4,484.2 862.1,485.6ZM886.0,485.8 885.8,479.9 888.7,481.2 884.0,467.3 880.3,481.4 883.0,480.0 883.2,485.8ZM907.0,486.5 912.5,477.7 914.1,480.4 918.0,466.3 907.0,475.9 910.1,476.2 904.6,485.1ZM928.2,486.3 932.3,476.2 934.4,478.5 935.7,464.0 926.6,475.4 929.7,475.1 925.6,485.3ZM949.4,486.1 950.7,479.5 953.2,481.5 951.8,466.9 945.0,479.8 948.0,479.0 946.7,485.5ZM970.6,486.0 970.8,484.1 973.4,485.8 971.0,471.4 965.1,484.8 968.0,483.7 967.8,485.6ZM991.7,485.9 992.5,476.9 995.2,478.5 992.2,464.2 986.8,477.8 989.7,476.6 988.9,485.7ZM1012.9,486.0 1013.2,483.8 1015.8,485.5 1013.7,471.1 1007.5,484.3 1010.4,483.3 1010.1,485.6ZM1034.0,486.2 1034.7,483.6 1037.0,485.8 1036.9,471.1 1028.9,483.4 1032.0,482.9 1031.3,485.4ZM1055.1,486.2 1056.1,483.2 1058.3,485.4 1058.7,470.8 1050.3,482.7 1053.4,482.3 1052.4,485.4ZM1076.3,486.1 1077.0,483.3 1079.4,485.3 1078.7,470.7 1071.2,483.3 1074.3,482.6 1073.5,485.5ZM1097.2,486.1 1097.5,484.9 1099.6,486.6 1098.6,473.8 1092.4,485.0 1095.1,484.3 1094.8,485.5ZM1118.5,486.2 1118.9,484.8 1121.2,486.9 1120.9,472.4 1113.2,484.7 1116.2,484.1 1115.8,485.4ZM1139.6,486.4 1140.3,484.8 1142.3,487.2 1144.2,472.7 1134.6,483.8 1137.8,483.6 1137.0,485.2ZM1160.7,486.5 1163.2,481.9 1165.0,484.5 1168.1,470.2 1157.7,480.4 1160.8,480.5 1158.2,485.1ZM1181.9,486.4 1182.9,484.4 1184.7,486.9 1187.3,472.5 1177.2,483.1 1180.4,483.1 1179.3,485.2ZM1203.0,486.4 1204.1,484.0 1206.1,486.4 1207.8,471.9 1198.4,483.0 1201.5,482.9 1200.5,485.2ZM1224.2,486.3 1225.6,482.3 1227.8,484.6 1228.5,470.0 1219.9,481.8 1223.0,481.4 1221.6,485.3ZM1245.3,486.2 1248.5,476.7 1250.7,478.9 1251.2,464.3 1242.8,476.3 1245.9,475.8 1242.7,485.4ZM1266.5,486.3 1269.4,478.1 1271.6,480.4 1272.3,465.8 1263.6,477.5 1266.8,477.2 1263.8,485.3ZM1287.6,486.3 1290.6,478.0 1292.8,480.3 1293.6,465.7 1284.9,477.4 1288.0,477.1 1285.0,485.3ZM1308.7,486.3 1312.2,477.5 1314.3,479.9 1315.6,465.3 1306.5,476.8 1309.6,476.5 1306.1,485.3ZM1329.8,486.4 1334.3,477.7 1336.1,480.2 1338.7,465.8 1328.6,476.4 1331.8,476.4 1327.3,485.2ZM1350.9,486.5 1355.9,477.7 1357.7,480.3 1360.9,466.0 1350.4,476.1 1353.5,476.3 1348.5,485.1ZM229.5,465.0 229.8,464.8 230.0,465.5 231.8,462.3 228.6,464.0 229.3,464.3 229.1,464.5ZM250.7,465.1 251.0,464.9 251.1,465.9 254.2,462.6 249.8,463.6 250.6,464.2 250.2,464.4ZM271.7,465.4 272.4,465.3 271.9,466.7 278.2,463.5 271.2,462.8 272.1,464.0 271.5,464.1ZM294.3,464.9 293.4,466.2 291.8,466.1 291.1,464.6 292.1,463.3 293.7,463.5ZM313.5,465.2 313.9,465.5 312.8,465.9 317.8,468.2 314.9,463.6 314.6,464.7 314.2,464.4ZM334.8,465.3 335.3,465.5 334.3,466.4 340.5,467.0 335.7,463.1 335.8,464.4 335.2,464.2ZM357.7,464.8 356.9,466.2 355.3,466.1 354.5,464.7 355.4,463.3 357.0,463.4ZM377.1,465.1 377.4,465.2 376.9,465.6 380.2,466.1 377.7,463.9 377.7,464.6 377.4,464.5ZM398.0,464.8 398.0,465.3 397.0,465.0 399.2,469.4 399.8,464.5 399.0,465.1 398.9,464.7ZM418.9,464.9 419.1,465.6 417.5,465.3 421.3,471.5 421.6,464.2 420.4,465.3 420.2,464.6ZM440.4,465.2 440.9,465.4 439.9,466.0 444.9,467.3 441.5,463.5 441.4,464.6 441.0,464.3ZM461.2,465.0 461.4,465.6 460.0,465.4 463.9,471.0 463.7,464.1 462.7,465.2 462.5,464.6ZM482.5,464.3 482.0,464.7 481.6,463.3 478.2,469.4 484.4,466.2 483.0,465.7 483.4,465.2ZM504.0,464.5 503.7,464.6 503.7,463.9 501.4,466.1 504.5,465.6 504.0,465.2 504.3,465.0ZM524.8,464.5 524.5,464.9 523.8,463.9 522.3,469.5 526.7,465.6 525.4,465.5 525.7,465.1ZM546.2,465.0 546.5,465.2 545.8,465.5 549.0,466.6 547.0,464.0 546.8,464.7 546.6,464.5ZM567.5,465.2 568.0,465.2 567.6,466.0 571.6,464.7 567.5,463.5 567.9,464.3 567.5,464.4ZM588.3,465.2 588.7,465.6 587.4,466.1 593.1,469.0 590.0,463.4 589.6,464.7 589.1,464.3ZM609.1,464.5 608.8,465.2 607.7,463.9 606.9,472.0 612.0,465.6 610.3,465.8 610.5,465.0ZM630.9,463.9 630.0,463.9 630.7,462.1 622.0,465.6 631.2,467.4 630.1,465.7 631.0,465.7ZM652.4,463.9 651.5,463.6 652.9,462.2 643.5,462.1 651.3,467.3 651.0,465.4 651.8,465.6ZM673.3,463.6 672.1,463.5 673.5,461.2 661.5,463.9 673.0,468.3 672.0,465.9 673.2,465.9ZM693.0,465.5 693.0,463.9 694.4,463.2 695.8,464.0 695.8,465.6 694.3,466.4ZM715.3,464.5 715.0,464.7 714.9,463.9 712.7,466.9 716.2,465.6 715.5,465.3 715.7,465.0ZM736.3,464.4 736.0,464.8 735.7,463.8 733.4,468.0 737.6,465.7 736.7,465.4 737.0,465.1ZM757.5,464.2 756.9,464.5 756.8,463.0 752.0,468.2 758.8,466.5 757.6,465.7 758.1,465.3ZM779.1,464.5 778.8,464.4 779.3,464.0 776.3,463.4 778.5,465.6 778.5,464.9 778.8,465.0ZM800.9,464.4 800.6,463.6 802.6,463.8 796.8,456.4 797.6,465.7 798.9,464.2 799.2,465.1ZM822.4,465.3 823.0,464.1 824.9,466.4 826.7,452.5 817.5,463.1 820.5,463.0 820.0,464.2ZM843.4,464.8 843.4,463.8 845.4,464.9 842.7,454.5 839.3,464.6 841.4,463.7 841.3,464.7ZM864.8,465.2 865.6,463.1 867.7,465.4 868.4,450.8 859.8,462.6 862.9,462.2 862.2,464.3ZM885.1,465.7 886.1,465.3 886.1,467.7 894.5,459.9 883.2,461.8 885.1,463.3 884.2,463.8ZM907.1,465.2 909.9,457.6 912.1,459.9 913.0,445.3 904.2,457.0 907.3,456.6 904.5,464.3ZM928.3,465.1 930.2,458.1 932.6,460.2 932.2,445.6 924.5,457.9 927.5,457.3 925.6,464.4ZM949.4,465.1 950.1,462.2 952.5,464.3 951.8,449.7 944.4,462.2 947.4,461.6 946.7,464.4ZM970.4,465.4 971.9,462.6 973.7,465.1 976.3,450.7 966.3,461.3 969.4,461.3 968.0,464.1ZM991.7,464.8 991.7,453.4 994.5,454.8 990.3,440.8 986.1,454.8 988.9,453.4 988.9,464.8ZM1012.9,464.8 1013.2,455.4 1016.0,456.9 1012.2,442.8 1007.6,456.6 1010.4,455.3 1010.1,464.7ZM1034.0,464.9 1034.7,457.5 1037.3,459.1 1034.4,444.8 1029.0,458.4 1031.9,457.3 1031.2,464.6ZM1055.1,465.1 1056.4,459.4 1058.9,461.4 1057.9,446.8 1050.7,459.5 1053.7,458.8 1052.4,464.4ZM1076.3,465.0 1077.1,460.8 1079.6,462.8 1078.4,448.2 1071.4,461.1 1074.4,460.3 1073.5,464.5ZM1097.3,465.0 1097.6,463.8 1099.8,465.6 1098.7,452.3 1092.3,464.0 1095.1,463.2 1094.8,464.5ZM1118.5,465.1 1119.2,462.2 1121.6,464.2 1120.7,449.6 1113.4,462.3 1116.5,461.6 1115.8,464.4ZM1139.7,465.1 1141.0,459.6 1143.4,461.6 1142.7,447.0 1135.3,459.6 1138.3,458.9 1137.0,464.4ZM1160.8,465.3 1163.8,457.3 1165.9,459.6 1167.0,445.0 1158.1,456.6 1161.2,456.3 1158.2,464.3ZM1181.8,465.4 1184.9,459.4 1186.8,461.9 1189.4,447.5 1179.3,458.0 1182.4,458.1 1179.4,464.1ZM1203.0,465.4 1205.9,459.5 1207.8,461.9 1210.2,447.5 1200.3,458.2 1203.4,458.2 1200.5,464.1ZM1224.2,465.3 1226.2,460.4 1228.3,462.8 1229.9,448.3 1220.5,459.5 1223.7,459.3 1221.6,464.2ZM1245.3,465.3 1248.8,456.9 1250.9,459.3 1252.4,444.8 1243.1,456.1 1246.2,455.9 1242.7,464.2ZM1266.4,465.3 1269.6,457.9 1271.6,460.2 1273.2,445.7 1263.9,457.0 1267.0,456.8 1263.9,464.2ZM1287.6,465.3 1288.8,462.4 1290.8,464.7 1292.1,450.1 1283.0,461.6 1286.1,461.3 1285.0,464.2ZM1308.7,465.3 1312.5,456.3 1314.5,458.6 1316.0,444.1 1306.8,455.4 1309.9,455.2 1306.1,464.2ZM1329.8,465.4 1334.3,456.3 1336.2,458.8 1338.6,444.4 1328.6,455.1 1331.8,455.1 1327.3,464.1ZM1351.0,465.4 1355.6,456.0 1357.5,458.5 1359.9,444.1 1349.9,454.8 1353.1,454.8 1348.5,464.1ZM229.6,443.8 229.7,443.5 230.3,444.0 230.1,440.5 228.3,443.5 229.1,443.3 229.0,443.6ZM251.8,442.9 251.8,444.6 250.4,445.3 249.0,444.5 249.1,442.9 250.5,442.1ZM273.2,444.0 272.1,445.2 270.6,445.0 270.0,443.4 271.0,442.2 272.6,442.5ZM292.5,444.0 292.8,444.2 292.1,444.7 295.8,445.8 293.4,442.8 293.2,443.6 292.9,443.4ZM313.5,443.9 313.6,444.3 312.7,444.2 315.3,447.6 315.0,443.3 314.4,444.0 314.3,443.6ZM334.5,444.1 334.9,444.6 333.6,444.8 338.6,448.5 336.4,442.6 335.8,443.8 335.5,443.4ZM356.0,444.0 356.3,444.2 355.7,444.6 359.1,445.1 356.5,442.8 356.6,443.6 356.3,443.4ZM378.1,445.1 376.5,445.2 375.7,443.8 376.4,442.4 378.0,442.3 378.9,443.6ZM398.1,443.5 397.9,443.8 397.4,443.0 396.2,447.2 399.5,444.4 398.5,444.3 398.8,443.9ZM419.1,443.6 418.9,444.1 418.1,443.2 418.0,448.6 421.0,444.2 419.9,444.4 420.1,443.9ZM440.1,444.1 440.5,444.7 439.0,444.9 444.5,449.3 442.4,442.6 441.6,443.9 441.3,443.3ZM460.9,443.7 460.9,444.6 459.2,443.7 461.8,452.6 464.5,443.7 462.7,444.6 462.7,443.7ZM482.6,443.1 482.0,443.6 481.7,442.0 477.3,448.0 484.3,445.4 482.8,444.7 483.4,444.3ZM503.7,443.5 503.5,443.9 502.8,443.0 501.8,448.0 505.4,444.4 504.3,444.4 504.5,444.0ZM524.8,444.1 525.2,444.5 523.9,444.8 528.7,448.1 526.6,442.7 526.0,443.8 525.7,443.4ZM546.3,444.1 546.7,444.2 546.1,445.0 550.7,444.7 546.7,442.4 546.9,443.4 546.5,443.3ZM567.4,444.0 567.7,444.2 567.1,444.6 570.6,445.1 567.9,442.8 568.0,443.6 567.7,443.4ZM587.9,443.8 588.0,444.6 586.4,444.0 589.7,451.3 591.0,443.4 589.5,444.4 589.4,443.6ZM609.5,443.5 609.3,443.8 608.9,442.9 607.1,446.7 610.7,444.5 609.9,444.3 610.1,444.0ZM630.9,443.4 630.6,443.4 630.9,442.7 627.4,444.0 631.1,444.8 630.6,444.1 631.0,444.1ZM652.2,443.4 651.8,443.3 652.3,442.7 648.6,442.9 651.9,444.8 651.7,444.0 652.0,444.1ZM673.4,443.1 672.8,442.9 673.8,441.8 666.9,441.8 672.7,445.6 672.4,444.2 673.0,444.3ZM694.6,443.0 693.9,442.8 695.2,441.6 687.4,441.1 693.6,445.8 693.4,444.2 694.1,444.4ZM714.1,443.0 715.4,442.1 716.8,442.8 717.0,444.4 715.7,445.3 714.2,444.6ZM736.8,443.2 736.2,443.1 737.0,442.0 731.1,442.7 736.3,445.4 736.0,444.2 736.6,444.3ZM757.9,443.3 757.5,443.3 758.0,442.6 754.0,443.0 757.6,444.9 757.3,444.0 757.7,444.1ZM777.7,442.7 779.2,442.1 780.4,443.1 780.2,444.7 778.7,445.3 777.4,444.3ZM800.8,443.2 800.2,442.5 802.2,442.0 794.5,436.7 798.0,445.4 798.8,443.6 799.4,444.3ZM821.5,443.5 821.3,443.2 822.1,443.1 819.2,440.8 820.3,444.3 820.7,443.6 820.9,443.9ZM843.7,443.5 843.3,440.9 846.3,441.8 839.5,428.8 838.0,443.3 840.5,441.4 841.0,444.0ZM864.9,443.8 865.0,442.5 867.6,444.1 864.6,430.2 859.4,443.4 862.3,442.3 862.1,443.6ZM886.0,443.7 886.2,435.1 889.0,436.6 885.0,422.5 880.6,436.4 883.4,435.1 883.2,443.7ZM907.2,443.9 908.3,437.0 910.8,438.8 908.8,424.3 902.5,437.5 905.5,436.5 904.4,443.5ZM928.3,443.9 929.3,437.1 931.8,438.9 929.6,424.5 923.5,437.7 926.5,436.7 925.5,443.5ZM949.4,444.0 951.5,432.3 954.0,434.1 952.3,419.6 945.7,432.7 948.7,431.8 946.7,443.5ZM970.6,444.0 973.1,432.8 975.5,434.8 974.4,420.2 967.3,433.0 970.3,432.2 967.8,443.4ZM991.4,444.6 998.4,436.7 999.5,439.6 1005.6,426.3 993.2,434.1 996.2,434.8 989.3,442.8ZM1012.7,444.5 1017.7,436.4 1019.3,439.0 1023.1,424.9 1012.2,434.6 1015.3,434.9 1010.3,443.0ZM1034.0,444.1 1036.7,435.0 1039.0,437.1 1039.0,422.5 1030.9,434.7 1034.0,434.2 1031.3,443.3ZM1055.1,444.0 1056.4,436.4 1059.0,438.2 1057.2,423.7 1050.7,436.8 1053.7,435.9 1052.4,443.5ZM1076.3,443.9 1077.2,438.2 1079.8,440.1 1077.9,425.6 1071.5,438.7 1074.5,437.8 1073.5,443.5ZM1097.4,444.0 1098.1,440.5 1100.6,442.4 1099.1,427.8 1092.3,440.8 1095.3,439.9 1094.7,443.5ZM1118.6,444.0 1119.6,439.2 1122.0,441.1 1120.7,426.5 1113.8,439.4 1116.8,438.6 1115.8,443.4ZM1139.7,444.0 1141.1,436.9 1143.6,438.8 1142.1,424.3 1135.3,437.2 1138.3,436.4 1136.9,443.5ZM1160.8,444.0 1162.9,435.1 1165.3,437.0 1164.3,422.5 1157.1,435.2 1160.1,434.4 1158.1,443.4ZM1181.9,444.2 1185.3,435.1 1187.4,437.4 1188.3,422.8 1179.5,434.5 1182.6,434.2 1179.3,443.2ZM1203.0,444.3 1204.9,440.3 1206.9,442.8 1209.1,428.3 1199.3,439.1 1202.4,439.1 1200.5,443.1ZM1224.1,444.3 1227.0,438.3 1228.9,440.8 1231.1,426.3 1221.3,437.2 1224.5,437.1 1221.6,443.1ZM1245.3,444.3 1248.3,438.1 1250.2,440.6 1252.6,426.1 1242.7,436.9 1245.8,436.9 1242.8,443.1ZM1266.4,444.3 1268.6,439.6 1270.6,442.0 1272.7,427.6 1263.0,438.5 1266.1,438.4 1263.9,443.1ZM1287.4,444.2 1287.8,443.1 1289.6,445.1 1290.8,432.8 1283.0,442.4 1285.7,442.2 1285.2,443.3ZM1308.5,444.1 1308.9,443.1 1310.5,445.0 1311.7,433.5 1304.4,442.4 1306.9,442.3 1306.4,443.3ZM1329.8,444.3 1336.1,431.3 1338.0,433.8 1340.3,419.3 1330.5,430.1 1333.6,430.1 1327.3,443.1ZM1351.0,444.3 1355.3,434.9 1357.3,437.3 1359.3,422.8 1349.7,433.8 1352.8,433.7 1348.4,443.1ZM229.4,423.1 229.7,423.0 229.5,423.8 233.1,422.1 229.1,421.5 229.6,422.2 229.2,422.3ZM250.1,423.2 250.7,423.6 249.5,424.3 256.0,425.9 251.4,421.0 251.3,422.4 250.8,422.1ZM272.5,424.0 270.9,424.1 270.0,422.8 270.6,421.4 272.2,421.2 273.2,422.5ZM293.5,424.1 291.9,424.1 291.1,422.7 291.9,421.3 293.5,421.3 294.3,422.7ZM314.0,424.3 312.5,423.6 312.4,422.0 313.7,421.1 315.2,421.8 315.3,423.4ZM334.7,422.7 334.7,423.0 334.0,422.7 335.1,426.1 336.0,422.6 335.3,423.0 335.3,422.7ZM355.6,423.0 355.9,423.6 354.4,423.7 359.6,428.5 357.9,421.6 357.1,422.9 356.7,422.3ZM376.9,422.7 376.9,423.1 376.1,422.9 377.9,426.6 378.5,422.5 377.7,423.0 377.7,422.6ZM398.1,422.5 397.9,422.8 397.5,422.0 396.2,425.6 399.3,423.3 398.5,423.2 398.7,422.9ZM419.1,422.6 419.0,423.0 418.3,422.3 418.4,426.8 420.8,423.0 419.9,423.2 420.0,422.8ZM440.2,423.0 440.5,423.5 439.3,423.6 443.8,427.4 442.1,421.7 441.5,422.8 441.2,422.4ZM461.3,423.2 461.9,423.8 460.2,424.4 467.5,428.2 463.5,421.0 463.0,422.7 462.4,422.1ZM482.5,423.2 483.1,423.7 481.6,424.3 488.5,427.2 484.3,421.0 484.0,422.6 483.4,422.1ZM504.2,423.3 504.8,423.2 504.4,424.5 510.0,421.9 503.9,420.9 504.6,422.0 504.0,422.1ZM525.9,423.4 526.6,422.7 527.1,424.8 532.2,416.5 523.4,420.6 525.3,421.4 524.6,422.0ZM546.5,423.1 546.9,423.1 546.6,424.1 551.1,422.2 546.2,421.3 546.8,422.2 546.3,422.2ZM567.5,423.2 568.0,423.2 567.4,424.2 572.6,423.3 567.7,421.2 568.1,422.2 567.6,422.2ZM589.1,422.3 588.7,422.0 589.8,421.7 585.4,418.9 587.6,423.7 588.0,422.6 588.3,423.0ZM610.0,422.4 609.7,422.3 610.3,421.9 607.3,421.2 609.4,423.4 609.4,422.8 609.7,422.9ZM629.7,421.7 631.2,421.1 632.5,422.1 632.2,423.7 630.7,424.3 629.5,423.2ZM652.5,422.1 652.0,421.7 653.3,421.1 646.8,418.6 650.9,424.3 651.2,422.8 651.7,423.2ZM673.4,422.4 673.1,422.2 673.7,421.7 670.1,421.3 672.8,423.6 672.8,422.9 673.1,423.0ZM695.3,423.4 696.0,422.4 697.2,424.8 701.5,413.3 691.6,420.5 694.1,421.0 693.4,422.0ZM714.6,421.4 716.2,421.2 717.1,422.5 716.5,424.0 714.9,424.2 713.9,422.9ZM738.0,423.0 739.5,416.4 741.9,418.4 740.8,403.8 733.7,416.6 736.7,415.8 735.3,422.4ZM758.3,421.9 757.6,421.4 759.4,420.5 750.4,417.5 756.2,424.9 756.5,422.9 757.3,423.4ZM777.8,421.6 779.3,421.1 780.5,422.2 780.1,423.8 778.5,424.2 777.4,423.1ZM800.4,422.3 800.0,421.9 801.1,421.4 795.9,419.3 799.1,423.9 799.3,422.8 799.7,423.1ZM822.0,421.9 821.2,421.1 823.7,420.3 813.2,414.6 818.8,425.1 819.6,422.7 820.4,423.5ZM842.8,422.5 842.6,422.1 843.7,422.2 840.8,418.2 841.0,423.2 841.8,422.4 841.9,422.8ZM864.4,422.6 864.4,421.7 866.3,422.5 863.1,413.4 860.7,422.8 862.5,421.8 862.6,422.7ZM886.0,422.7 886.1,420.9 888.9,422.4 885.3,408.2 880.5,422.0 883.3,420.8 883.2,422.6ZM907.1,423.1 908.6,418.0 910.9,420.1 910.8,405.5 902.8,417.8 905.9,417.2 904.4,422.3ZM928.3,423.0 929.4,418.5 931.8,420.6 931.3,406.0 923.7,418.5 926.7,417.8 925.6,422.3ZM949.4,423.0 953.7,407.2 956.1,409.3 955.7,394.7 948.0,407.1 951.0,406.5 946.7,422.3ZM970.6,423.0 972.7,412.9 975.1,414.8 973.8,400.3 966.9,413.1 969.9,412.3 967.8,422.4ZM991.7,423.2 995.7,412.5 997.8,414.8 998.8,400.2 989.9,411.9 993.0,411.5 989.0,422.2ZM1012.8,423.2 1015.9,415.4 1018.0,417.7 1019.2,403.1 1010.1,414.6 1013.2,414.3 1010.2,422.2ZM1034.0,423.0 1035.4,417.8 1037.7,419.9 1037.3,405.3 1029.6,417.7 1032.7,417.1 1031.3,422.3ZM1055.1,423.0 1057.1,413.3 1059.5,415.2 1058.1,400.7 1051.3,413.6 1054.3,412.8 1052.4,422.4ZM1076.3,422.9 1076.8,419.1 1079.4,420.9 1077.3,406.5 1071.1,419.7 1074.1,418.7 1073.5,422.5ZM1097.3,422.9 1097.6,421.6 1100.0,423.3 1098.1,409.6 1092.1,422.1 1094.9,421.2 1094.7,422.5ZM1118.5,423.0 1119.9,417.2 1122.3,419.1 1121.3,404.6 1114.1,417.3 1117.1,416.5 1115.8,422.4ZM1139.7,423.0 1141.1,417.5 1143.4,419.6 1142.8,405.0 1135.3,417.5 1138.3,416.9 1137.0,422.3ZM1160.8,423.0 1163.5,411.6 1165.9,413.6 1164.9,399.0 1157.7,411.7 1160.7,411.0 1158.1,422.4ZM1182.0,423.0 1184.4,411.2 1186.9,413.2 1185.6,398.6 1178.6,411.5 1181.7,410.7 1179.2,422.4ZM1203.1,423.1 1204.4,418.7 1206.7,420.9 1206.9,406.3 1198.7,418.4 1201.8,417.9 1200.4,422.3ZM1224.2,423.2 1226.2,418.5 1228.2,420.9 1229.9,406.4 1220.5,417.5 1223.7,417.4 1221.6,422.1ZM1245.3,423.3 1247.7,418.1 1249.7,420.6 1251.9,406.1 1242.1,417.0 1245.2,416.9 1242.8,422.1ZM1266.4,423.3 1268.6,418.6 1270.5,421.0 1272.5,406.5 1262.9,417.5 1266.0,417.4 1263.9,422.1ZM1287.3,423.1 1287.7,422.1 1289.3,423.9 1290.2,412.6 1283.3,421.5 1285.7,421.3 1285.3,422.3ZM1308.3,423.0 1308.7,422.2 1310.1,423.7 1310.9,413.9 1304.8,421.6 1306.9,421.5 1306.6,422.3ZM1329.8,423.3 1334.4,413.9 1336.3,416.3 1338.6,401.9 1328.8,412.7 1331.9,412.6 1327.3,422.1ZM1351.0,423.3 1355.6,414.1 1357.5,416.6 1360.1,402.2 1350.0,412.8 1353.1,412.8 1348.5,422.0ZM229.6,402.1 230.0,401.8 230.1,402.9 233.5,398.9 228.5,400.4 229.4,400.9 229.0,401.2ZM252.0,401.8 251.1,403.1 249.5,403.0 248.8,401.5 249.7,400.2 251.3,400.3ZM272.7,402.8 271.1,403.2 270.0,402.0 270.5,400.4 272.1,400.1 273.2,401.3ZM293.6,403.0 292.0,403.1 291.1,401.7 291.8,400.3 293.4,400.2 294.3,401.5ZM314.1,403.2 312.6,402.7 312.4,401.1 313.6,400.1 315.1,400.6 315.4,402.2ZM334.7,401.6 334.7,401.9 334.1,401.5 334.7,404.7 335.9,401.7 335.3,402.0 335.3,401.7ZM355.7,401.8 355.9,402.3 354.8,402.2 358.0,406.2 357.5,401.1 356.8,401.9 356.6,401.5ZM377.9,403.1 376.3,402.9 375.7,401.4 376.7,400.1 378.3,400.4 378.9,401.9ZM398.1,401.7 398.1,402.0 397.3,401.7 398.6,405.3 399.5,401.6 398.8,402.0 398.8,401.6ZM419.1,401.9 419.4,402.4 418.1,402.6 422.6,406.4 421.0,400.7 420.3,401.8 420.0,401.3ZM440.7,402.2 441.2,402.1 440.8,403.2 445.9,401.4 440.6,400.1 441.2,401.1 440.7,401.1ZM462.8,402.5 463.6,401.5 464.7,404.1 470.0,392.3 459.0,399.2 461.7,399.9 460.9,400.8ZM483.3,401.8 483.4,401.4 484.0,402.0 484.1,398.2 481.9,401.3 482.7,401.2 482.6,401.5ZM504.7,401.6 504.7,401.0 505.8,401.6 503.8,395.9 502.4,401.7 503.5,401.1 503.5,401.7ZM525.9,401.7 526.0,401.1 527.1,401.9 526.1,395.5 523.4,401.4 524.7,400.9 524.6,401.6ZM546.8,402.0 547.2,401.7 547.5,402.8 550.3,398.0 545.3,400.5 546.4,400.9 546.0,401.2ZM568.9,400.8 569.0,402.4 567.6,403.2 566.2,402.5 566.1,400.9 567.5,400.0ZM589.3,402.3 590.0,401.7 590.6,403.6 595.2,395.4 586.8,399.7 588.7,400.4 588.1,401.0ZM610.2,401.9 610.4,401.5 610.8,402.3 612.0,398.3 608.8,401.0 609.7,401.1 609.5,401.4ZM630.3,400.2 631.9,400.4 632.6,401.9 631.6,403.1 630.0,402.9 629.4,401.4ZM652.4,400.8 651.5,400.5 652.9,399.1 643.5,399.0 651.3,404.2 651.0,402.2 651.8,402.5ZM671.7,401.3 672.8,400.1 674.3,400.5 674.8,402.0 673.7,403.2 672.2,402.8ZM695.0,401.0 694.4,400.4 696.2,399.8 688.1,395.5 692.5,403.5 693.1,401.6 693.8,402.3ZM715.8,401.5 715.7,401.2 716.4,401.3 714.5,398.7 714.6,401.9 715.1,401.4 715.2,401.7ZM737.8,401.5 737.6,400.4 740.0,401.2 735.1,390.4 733.3,402.1 735.4,400.7 735.5,401.8ZM756.3,401.2 757.4,400.1 759.0,400.6 759.3,402.1 758.2,403.2 756.6,402.7ZM779.2,401.0 778.6,400.8 779.7,399.9 773.0,399.1 778.2,403.4 778.1,402.0 778.7,402.2ZM798.8,400.7 800.3,400.0 801.6,401.0 801.4,402.6 799.9,403.2 798.6,402.3ZM820.2,400.4 821.8,400.1 822.8,401.3 822.3,402.9 820.7,403.2 819.6,401.9ZM841.6,400.2 843.2,400.3 844.0,401.7 843.1,403.1 841.5,403.0 840.8,401.6ZM864.6,401.2 864.1,400.1 866.7,400.3 859.0,390.9 860.3,403.0 862.0,401.0 862.4,402.1ZM886.0,401.3 885.4,398.9 888.5,399.6 881.1,386.9 880.3,401.5 882.7,399.5 883.3,402.0ZM907.2,401.8 908.0,393.0 910.7,394.7 907.9,380.4 902.3,393.9 905.2,392.8 904.4,401.5ZM928.2,402.1 931.9,391.7 934.1,394.0 934.8,379.4 926.1,391.2 929.3,390.8 925.6,401.2ZM949.5,401.7 949.8,396.5 952.5,398.0 949.1,383.8 944.1,397.5 947.0,396.3 946.7,401.6ZM970.6,401.6 970.1,388.9 973.0,390.2 968.2,376.3 964.6,390.5 967.3,389.0 967.8,401.7ZM991.7,401.7 992.7,388.6 995.4,390.2 992.3,375.9 987.0,389.6 989.9,388.4 988.9,401.5ZM1012.9,401.9 1014.0,395.8 1016.5,397.7 1014.8,383.2 1008.2,396.2 1011.2,395.3 1010.1,401.4ZM1034.0,401.9 1036.1,391.4 1038.6,393.3 1037.2,378.8 1030.3,391.7 1033.4,390.8 1031.2,401.4ZM1055.1,401.9 1057.2,391.1 1059.7,393.0 1058.1,378.4 1051.4,391.4 1054.4,390.6 1052.4,401.4ZM1076.3,401.7 1076.9,392.6 1079.6,394.2 1076.4,380.0 1071.3,393.6 1074.1,392.4 1073.5,401.5ZM1097.4,401.8 1098.5,390.8 1101.1,392.4 1098.3,378.1 1092.8,391.6 1095.7,390.5 1094.6,401.5ZM1118.5,401.9 1121.1,390.6 1123.5,392.5 1122.4,377.9 1115.3,390.7 1118.3,389.9 1115.8,401.3ZM1139.7,402.0 1142.8,390.8 1145.1,392.9 1144.9,378.3 1137.1,390.6 1140.1,390.0 1137.0,401.3ZM1160.8,402.0 1163.4,390.8 1165.9,392.8 1164.9,378.2 1157.7,390.8 1160.7,390.1 1158.1,401.3ZM1182.0,401.9 1183.9,390.5 1186.4,392.3 1184.5,377.9 1178.1,391.0 1181.1,390.1 1179.2,401.4ZM1203.1,401.9 1204.3,395.4 1206.8,397.3 1205.1,382.7 1198.5,395.8 1201.5,394.9 1200.4,401.4ZM1224.2,402.0 1225.5,397.7 1227.8,399.8 1227.7,385.2 1219.7,397.4 1222.8,396.9 1221.5,401.2ZM1245.3,402.2 1247.2,397.5 1249.3,399.8 1250.6,385.3 1241.5,396.7 1244.6,396.5 1242.7,401.1ZM1266.5,402.2 1268.6,397.0 1270.7,399.4 1272.2,384.9 1262.9,396.2 1266.0,395.9 1263.9,401.1ZM1287.3,402.0 1287.7,401.0 1289.4,402.8 1290.2,391.2 1283.2,400.5 1285.6,400.2 1285.3,401.2ZM1308.3,402.0 1308.7,401.1 1310.1,402.7 1310.8,392.6 1304.7,400.6 1306.9,400.4 1306.5,401.3ZM1329.8,402.2 1330.8,400.3 1332.7,402.7 1334.8,388.3 1325.1,399.2 1328.2,399.1 1327.3,401.0ZM1351.0,402.3 1355.6,392.9 1357.5,395.4 1360.0,381.0 1350.0,391.7 1353.1,391.7 1348.5,401.0ZM229.7,380.5 229.5,380.1 230.4,380.2 228.0,377.0 228.2,381.0 228.8,380.4 228.9,380.7ZM251.5,379.4 252.0,381.0 250.9,382.1 249.3,381.8 248.9,380.2 250.0,379.1ZM271.5,381.0 271.9,381.0 271.5,381.7 275.3,381.0 271.7,379.5 272.0,380.3 271.6,380.2ZM292.6,381.0 293.0,381.2 292.2,381.9 297.1,382.3 293.2,379.3 293.3,380.3 292.9,380.2ZM313.5,380.8 313.6,381.2 312.7,381.1 315.6,384.6 315.1,380.1 314.4,380.8 314.3,380.4ZM334.5,380.6 334.5,381.0 333.6,380.6 334.8,385.1 336.4,380.6 335.4,381.1 335.5,380.6ZM355.7,380.7 355.8,381.1 354.8,380.8 356.8,385.1 357.5,380.4 356.7,381.0 356.6,380.5ZM377.0,382.2 375.8,381.2 376.0,379.6 377.5,379.0 378.8,380.0 378.5,381.6ZM398.1,380.5 398.1,380.8 397.6,380.3 397.5,383.4 399.3,380.9 398.6,381.0 398.7,380.7ZM420.5,381.9 418.9,382.1 418.0,380.7 418.6,379.3 420.2,379.1 421.2,380.5ZM440.9,380.9 441.3,380.7 441.3,381.6 444.2,378.5 440.1,379.6 440.8,380.0 440.5,380.3ZM462.3,380.6 462.3,380.2 463.1,380.6 461.7,376.2 460.5,380.6 461.4,380.2 461.4,380.6ZM483.3,380.5 483.2,380.2 484.0,380.4 482.3,377.3 482.0,380.8 482.6,380.3 482.6,380.7ZM504.5,380.7 504.6,380.3 505.3,380.9 505.0,376.5 502.9,380.3 503.8,380.1 503.7,380.5ZM525.7,381.1 526.2,380.6 526.7,382.0 529.9,375.9 523.9,379.2 525.3,379.7 524.8,380.1ZM546.7,380.8 546.9,380.6 547.2,381.3 548.9,378.0 545.6,379.9 546.4,380.1 546.1,380.4ZM567.8,380.8 568.0,380.5 568.4,381.2 569.4,377.7 566.7,380.0 567.4,380.1 567.2,380.4ZM588.9,380.9 589.2,380.7 589.2,381.6 591.9,378.7 588.1,379.6 588.8,380.1 588.5,380.3ZM611.4,380.4 610.8,381.9 609.2,382.1 608.2,380.8 608.8,379.3 610.4,379.1ZM631.3,380.6 631.4,380.3 632.1,380.7 631.4,376.7 629.8,380.5 630.6,380.2 630.6,380.6ZM652.6,379.9 651.9,379.3 653.7,378.5 644.9,375.1 650.5,382.7 650.8,380.8 651.6,381.3ZM674.1,380.4 673.9,379.5 675.9,380.0 671.4,371.8 670.6,381.2 672.2,379.9 672.4,380.8ZM694.9,379.1 696.0,380.3 695.4,381.8 693.8,382.1 692.8,380.9 693.3,379.4ZM716.2,379.1 717.1,380.4 716.5,381.9 714.9,382.1 713.9,380.8 714.6,379.3ZM737.1,380.4 736.9,379.9 738.1,380.0 734.7,375.8 735.2,381.2 736.0,380.3 736.2,380.8ZM757.8,380.0 757.3,380.0 757.9,378.9 752.1,380.3 757.7,382.3 757.2,381.1 757.8,381.2ZM778.9,379.8 778.1,379.8 779.0,378.2 770.8,380.6 778.9,383.0 778.1,381.4 778.9,381.4ZM800.4,380.2 800.0,379.9 801.0,379.4 796.0,377.5 799.2,381.8 799.4,380.7 799.8,381.0ZM821.6,381.6 822.6,381.3 822.2,383.7 831.6,377.2 820.2,377.5 821.9,379.2 820.9,379.6ZM842.8,380.2 842.3,379.8 843.6,379.3 838.2,376.6 841.2,381.9 841.5,380.6 842.0,381.0ZM864.9,380.6 864.9,379.2 867.7,380.6 863.5,366.6 859.3,380.6 862.1,379.2 862.1,380.6ZM886.0,381.0 886.6,379.0 888.9,381.2 888.9,366.5 880.8,378.7 883.9,378.2 883.3,380.2ZM907.1,380.2 906.7,378.7 909.8,379.3 902.2,366.8 901.7,381.5 904.0,379.4 904.4,381.0ZM928.3,380.5 928.1,373.7 930.9,375.0 926.2,361.2 922.5,375.3 925.3,373.8 925.5,380.7ZM949.5,380.4 949.0,376.9 952.0,378.0 946.2,364.6 943.6,379.0 946.3,377.3 946.7,380.8ZM970.6,380.4 969.1,369.9 972.1,370.9 966.1,357.6 963.8,372.1 966.4,370.3 967.8,380.8ZM991.7,380.7 992.5,367.6 995.2,369.2 991.7,355.0 986.8,368.7 989.7,367.5 988.9,380.5ZM1012.9,380.8 1014.0,373.3 1016.6,375.1 1014.5,360.7 1008.3,373.9 1011.2,372.9 1010.1,380.4ZM1034.0,380.8 1035.7,369.2 1038.2,370.9 1036.1,356.5 1029.9,369.8 1032.9,368.8 1031.2,380.4ZM1055.1,381.1 1057.4,374.6 1059.6,376.9 1060.4,362.3 1051.7,374.0 1054.8,373.6 1052.4,380.1ZM1076.3,380.6 1076.0,369.3 1078.9,370.7 1074.3,356.8 1070.5,370.9 1073.2,369.4 1073.5,380.6ZM1097.4,380.7 1097.6,376.8 1100.3,378.3 1096.7,364.2 1091.9,378.0 1094.8,376.7 1094.6,380.5ZM1118.5,380.9 1118.8,379.5 1121.1,381.4 1119.8,367.4 1113.2,379.8 1116.1,379.0 1115.9,380.3ZM1139.6,380.9 1140.0,379.7 1142.2,381.6 1141.7,367.7 1134.4,379.6 1137.4,379.0 1137.0,380.3ZM1160.8,380.9 1162.0,375.8 1164.4,377.8 1163.4,363.2 1156.2,375.9 1159.3,375.2 1158.1,380.3ZM1182.0,380.8 1182.8,375.7 1185.4,377.6 1183.5,363.1 1177.1,376.2 1180.1,375.3 1179.2,380.4ZM1203.1,380.8 1203.6,377.9 1206.2,379.7 1204.4,365.2 1197.9,378.3 1200.9,377.4 1200.4,380.4ZM1224.3,380.9 1224.9,377.6 1227.4,379.5 1226.0,365.0 1219.1,377.9 1222.2,377.1 1221.5,380.3ZM1245.4,381.0 1246.8,376.3 1249.1,378.5 1249.1,363.8 1241.0,376.0 1244.1,375.5 1242.7,380.2ZM1266.5,381.1 1267.5,378.6 1269.6,380.9 1270.7,366.3 1261.7,377.8 1264.9,377.5 1263.9,380.1ZM1287.5,381.0 1287.9,379.8 1289.9,381.9 1290.6,368.7 1282.7,379.3 1285.5,379.0 1285.1,380.2ZM1308.3,380.9 1308.6,380.0 1310.1,381.5 1310.5,371.8 1304.8,379.7 1306.9,379.4 1306.6,380.3ZM1329.4,380.9 1329.7,380.1 1331.0,381.6 1332.0,372.4 1326.1,379.6 1328.1,379.4 1327.8,380.3ZM1351.0,381.1 1355.0,371.5 1357.0,373.9 1358.5,359.3 1349.3,370.7 1352.4,370.4 1348.4,380.1ZM229.7,359.4 229.5,359.0 230.4,359.1 227.7,356.0 228.2,360.1 228.8,359.4 228.9,359.7ZM250.8,359.9 251.1,359.6 251.4,360.7 254.1,356.4 249.5,358.5 250.5,358.9 250.1,359.2ZM271.7,360.0 272.2,359.9 272.0,360.9 276.0,358.2 271.2,358.2 271.9,359.0 271.4,359.1ZM292.9,360.1 293.4,359.9 293.2,361.2 298.1,358.1 292.3,358.0 293.1,358.9 292.6,359.0ZM313.5,359.8 313.7,360.2 312.8,360.3 316.3,363.2 314.9,358.8 314.5,359.7 314.2,359.3ZM334.7,359.5 334.6,359.8 334.0,359.3 334.2,363.0 336.0,359.8 335.3,360.0 335.3,359.6ZM355.7,359.4 355.6,359.8 355.0,359.2 354.9,363.5 357.3,359.9 356.4,360.1 356.5,359.7ZM376.1,360.6 375.8,359.1 377.0,358.0 378.5,358.5 378.8,360.1 377.6,361.1ZM398.3,359.3 398.0,359.4 397.9,358.7 395.5,361.2 398.9,360.4 398.3,360.0 398.6,359.8ZM419.3,359.6 419.3,359.8 418.7,359.6 419.6,362.5 420.4,359.6 419.8,359.9 419.8,359.6ZM442.3,359.6 441.5,361.0 439.9,360.9 439.1,359.5 439.9,358.2 441.5,358.2ZM462.4,358.1 463.4,359.3 462.9,360.8 461.3,361.1 460.3,359.8 460.8,358.3ZM483.3,359.6 483.3,359.3 483.9,359.7 483.4,356.6 482.1,359.4 482.7,359.2 482.7,359.5ZM504.4,359.9 504.7,359.7 504.8,360.7 507.8,357.2 503.4,358.5 504.3,359.0 503.9,359.2ZM525.3,360.1 525.8,360.0 525.5,361.1 530.4,358.9 525.1,358.0 525.7,359.0 525.2,359.0ZM546.7,359.8 546.9,359.5 547.3,360.2 548.4,356.5 545.5,359.0 546.3,359.1 546.1,359.4ZM567.9,359.6 567.9,359.2 568.6,359.7 567.9,356.0 566.5,359.4 567.2,359.2 567.2,359.5ZM588.9,360.0 589.4,359.7 589.4,360.9 593.0,357.0 587.9,358.3 588.9,358.9 588.4,359.1ZM609.7,359.8 609.9,359.9 609.4,360.3 612.3,360.9 610.2,358.8 610.2,359.4 610.0,359.3ZM630.9,360.0 631.4,360.0 630.8,360.9 635.4,360.0 631.1,358.2 631.4,359.2 631.0,359.1ZM652.2,360.4 653.1,360.3 652.5,362.2 661.0,358.1 651.7,356.9 652.8,358.5 652.0,358.7ZM674.1,360.7 679.1,357.1 679.6,360.2 688.5,348.6 674.7,353.3 677.4,354.8 672.4,358.4ZM694.4,360.5 695.3,360.5 694.3,362.3 703.4,359.7 694.4,356.9 695.3,358.7 694.4,358.7ZM716.0,360.2 716.6,359.8 716.8,361.6 722.3,355.2 714.2,357.5 715.8,358.4 715.1,358.9ZM737.1,360.0 737.5,359.6 737.9,360.9 741.3,355.4 735.4,358.2 736.7,358.7 736.2,359.1ZM758.2,359.6 758.2,359.2 758.9,359.6 757.8,355.9 756.7,359.5 757.4,359.2 757.4,359.6ZM780.2,360.2 781.9,357.1 783.7,359.6 786.6,345.3 776.3,355.6 779.4,355.7 777.7,358.9ZM800.5,359.1 800.0,358.6 801.5,358.0 795.0,354.9 798.7,361.1 799.1,359.6 799.6,360.1ZM820.9,360.9 823.9,361.7 821.9,364.0 836.5,363.4 823.9,355.9 824.6,359.0 821.6,358.2ZM842.3,358.9 841.6,358.9 842.2,357.4 835.3,360.1 842.5,361.7 841.7,360.3 842.4,360.3ZM863.3,358.5 862.3,358.7 863.0,356.4 853.1,361.2 864.0,362.7 862.6,360.8 863.7,360.6ZM886.0,359.6 886.3,355.6 889.0,357.1 885.6,342.9 880.6,356.6 883.5,355.4 883.2,359.5ZM906.9,359.0 906.3,357.9 909.1,357.8 899.8,348.5 902.5,361.4 904.1,359.1 904.7,360.2ZM928.1,359.1 927.6,358.0 930.4,358.3 922.7,348.1 923.5,360.8 925.4,358.8 925.8,360.0ZM949.4,359.1 948.5,356.8 951.6,357.1 942.6,345.5 943.8,360.1 945.9,357.8 946.8,360.1ZM970.4,359.4 970.2,358.2 972.7,359.0 967.4,348.0 965.7,360.1 967.9,358.6 968.0,359.7ZM991.7,359.7 992.1,355.6 994.8,357.3 991.8,343.0 986.4,356.6 989.3,355.4 988.9,359.4ZM1012.9,359.8 1013.1,358.3 1015.6,360.1 1013.5,345.7 1007.3,358.9 1010.3,357.9 1010.1,359.4ZM1033.9,360.2 1037.7,351.9 1039.7,354.4 1041.8,339.9 1032.1,350.8 1035.2,350.7 1031.4,359.0ZM1055.2,359.5 1055.0,348.0 1057.8,349.4 1053.4,335.5 1049.4,349.5 1052.2,348.1 1052.4,359.6ZM1076.3,359.4 1075.8,355.3 1078.8,356.4 1073.1,342.9 1070.4,357.3 1073.1,355.6 1073.5,359.7ZM1097.4,359.6 1097.6,352.7 1100.4,354.2 1096.5,340.1 1092.0,354.0 1094.8,352.7 1094.6,359.5ZM1118.6,359.8 1118.9,358.3 1121.3,360.2 1120.1,345.7 1113.1,358.5 1116.1,357.7 1115.8,359.3ZM1139.7,359.9 1140.5,356.8 1142.9,358.9 1142.6,344.3 1134.8,356.7 1137.8,356.1 1137.0,359.2ZM1160.8,359.9 1161.5,357.0 1163.9,359.0 1163.2,344.4 1155.8,357.0 1158.8,356.3 1158.1,359.2ZM1181.8,359.8 1182.1,358.5 1184.3,360.2 1182.7,347.1 1176.9,358.9 1179.6,358.1 1179.4,359.4ZM1202.8,359.8 1203.0,358.7 1204.9,360.1 1203.7,348.9 1198.5,359.0 1200.9,358.3 1200.7,359.4ZM1224.0,359.8 1224.2,358.7 1226.2,360.3 1225.3,348.5 1219.6,358.8 1222.0,358.2 1221.8,359.3ZM1245.4,359.9 1245.8,358.0 1248.2,360.0 1247.5,345.4 1240.1,358.0 1243.1,357.3 1242.7,359.2ZM1266.5,360.0 1267.7,356.4 1269.9,358.6 1270.4,344.0 1261.9,355.9 1265.0,355.5 1263.8,359.1ZM1287.6,360.0 1288.2,358.5 1290.3,360.8 1291.2,346.2 1282.4,357.9 1285.5,357.6 1285.0,359.1ZM1308.6,360.0 1309.0,358.8 1310.9,360.8 1311.4,348.1 1304.0,358.4 1306.7,358.0 1306.3,359.2ZM1329.7,360.0 1330.1,358.8 1332.0,360.8 1332.7,348.3 1325.2,358.3 1327.9,358.0 1327.4,359.1ZM1351.0,360.0 1351.6,358.6 1353.7,360.8 1354.5,346.2 1345.8,358.0 1348.9,357.6 1348.4,359.1ZM229.7,338.7 229.9,338.3 230.5,339.0 230.8,334.4 228.1,338.1 229.0,338.0 228.9,338.4ZM250.5,339.0 251.0,338.9 250.6,340.0 255.3,338.0 250.3,337.1 250.9,338.0 250.4,338.0ZM271.6,339.0 272.1,338.9 271.8,340.0 276.4,337.8 271.4,337.1 272.0,338.0 271.5,338.0ZM293.0,339.1 293.5,338.9 293.4,340.2 298.4,336.1 292.0,336.8 293.1,337.7 292.5,338.0ZM313.5,338.9 313.8,339.2 312.8,339.6 317.3,342.2 315.0,337.5 314.6,338.5 314.2,338.2ZM334.6,338.4 334.5,338.8 333.8,338.2 333.9,342.5 336.2,338.9 335.3,339.0 335.4,338.6ZM355.8,338.4 355.7,338.7 355.2,338.2 355.0,341.8 357.1,338.9 356.3,339.0 356.5,338.6ZM377.0,338.3 376.8,338.6 376.5,338.0 375.4,341.3 378.1,339.1 377.4,339.0 377.6,338.7ZM398.1,338.3 397.8,338.6 397.4,337.8 396.1,341.9 399.4,339.2 398.5,339.1 398.8,338.8ZM419.0,338.7 419.2,339.2 418.0,338.9 420.9,343.8 421.1,338.1 420.2,338.9 420.1,338.4ZM440.5,339.0 441.0,339.2 440.0,340.0 445.6,340.8 441.4,337.1 441.4,338.3 440.9,338.0ZM463.2,337.7 463.3,339.3 461.9,340.1 460.5,339.4 460.4,337.8 461.8,336.9ZM483.3,338.7 483.4,338.4 483.8,339.0 484.6,335.8 482.2,338.0 482.9,338.1 482.7,338.4ZM504.3,338.8 504.6,338.7 504.6,339.5 507.3,336.8 503.6,337.6 504.3,338.0 503.9,338.2ZM525.4,338.9 525.8,338.7 525.8,339.6 528.9,336.8 524.7,337.4 525.4,338.0 525.1,338.2ZM546.9,338.5 546.8,338.1 547.8,338.5 546.3,334.0 545.0,338.5 545.9,338.1 545.9,338.5ZM568.1,338.4 568.0,337.9 569.2,338.2 566.5,333.0 565.9,338.8 566.9,338.1 567.0,338.6ZM588.7,339.1 589.3,339.0 588.8,340.2 594.3,338.1 588.6,336.8 589.2,337.9 588.6,338.0ZM609.5,338.5 609.5,338.8 608.9,338.5 609.8,341.6 610.7,338.5 610.1,338.8 610.1,338.5ZM630.4,338.4 630.3,338.9 629.3,338.2 629.8,344.0 632.6,338.9 631.4,339.2 631.5,338.6ZM651.2,338.3 651.0,339.2 649.5,337.8 649.8,347.2 654.7,339.2 652.7,339.6 653.0,338.7ZM672.3,338.6 672.4,339.5 670.5,338.7 673.9,347.5 675.9,338.3 674.2,339.3 674.1,338.5ZM695.8,339.2 694.5,340.1 693.0,339.4 692.9,337.8 694.3,336.9 695.7,337.6ZM715.4,339.4 716.3,339.6 715.1,341.2 724.4,340.1 716.0,335.9 716.6,337.8 715.7,337.6ZM736.0,339.2 736.7,339.8 734.7,340.4 743.0,344.9 738.6,336.6 737.9,338.5 737.3,337.9ZM758.0,339.8 759.3,339.5 758.4,342.2 770.2,336.4 757.2,334.8 758.8,337.1 757.6,337.3ZM780.1,339.3 782.0,336.8 783.4,339.5 788.3,325.8 776.6,334.6 779.7,335.1 777.8,337.7ZM800.8,338.2 800.5,337.4 802.3,337.5 796.7,331.0 797.8,339.5 799.0,338.1 799.3,338.9ZM821.3,338.1 820.9,338.0 821.4,337.3 817.0,337.8 821.0,339.8 820.7,338.9 821.1,338.9ZM842.1,338.0 841.6,338.3 841.6,337.0 837.2,341.2 843.2,340.1 842.1,339.3 842.6,339.0ZM863.4,337.8 862.7,337.8 863.3,336.3 856.1,339.1 863.7,340.7 862.8,339.3 863.6,339.3ZM885.4,337.4 883.4,336.0 886.2,334.5 872.2,330.0 881.4,341.4 881.8,338.3 883.8,339.7ZM907.2,338.4 906.6,330.0 909.5,331.3 904.5,317.6 901.1,331.8 903.9,330.2 904.4,338.6ZM927.6,337.7 926.7,337.0 929.0,335.9 918.3,331.7 924.9,341.1 925.4,338.7 926.2,339.4ZM949.2,337.7 947.7,335.5 950.8,335.1 939.6,325.8 943.8,339.8 945.4,337.0 946.9,339.3ZM970.6,338.5 970.6,335.9 973.4,337.3 969.0,323.3 965.0,337.3 967.8,335.9 967.8,338.5ZM991.5,338.7 991.8,337.5 994.0,339.2 992.6,326.4 986.7,337.8 989.4,337.1 989.1,338.3ZM1012.5,338.7 1012.6,337.7 1014.4,339.0 1012.9,328.8 1008.6,338.1 1010.7,337.4 1010.5,338.4ZM1033.8,338.7 1033.9,337.5 1036.1,338.9 1034.0,326.9 1029.1,338.1 1031.6,337.2 1031.5,338.4ZM1055.2,338.5 1054.9,329.7 1057.7,331.0 1053.1,317.2 1049.3,331.3 1052.1,329.8 1052.4,338.6ZM1076.3,338.4 1076.0,334.8 1078.9,336.0 1073.6,322.4 1070.5,336.7 1073.2,335.0 1073.5,338.6ZM1097.4,338.6 1097.5,337.3 1100.1,338.9 1097.2,325.1 1092.0,338.2 1094.8,337.1 1094.7,338.4ZM1118.5,338.9 1121.1,329.0 1123.5,331.1 1123.0,316.4 1115.4,328.9 1118.4,328.3 1115.8,338.2ZM1139.6,338.9 1140.0,337.7 1142.1,339.8 1142.5,325.8 1134.5,337.3 1137.5,336.8 1137.0,338.1ZM1160.8,338.9 1162.5,333.0 1164.8,335.1 1164.6,320.5 1156.7,332.8 1159.8,332.2 1158.1,338.1ZM1181.6,338.7 1181.8,337.7 1183.5,339.1 1182.6,328.7 1177.7,337.9 1179.8,337.3 1179.6,338.3ZM1202.7,338.7 1202.9,337.8 1204.5,339.1 1203.8,329.2 1198.9,337.9 1201.0,337.4 1200.8,338.3ZM1223.8,338.8 1224.1,337.8 1225.7,339.2 1225.2,329.1 1220.0,337.8 1222.2,337.3 1221.9,338.3ZM1245.2,338.8 1245.4,337.7 1247.4,339.4 1246.8,327.2 1240.6,337.7 1243.2,337.1 1242.9,338.2ZM1266.4,338.9 1266.8,337.6 1269.0,339.6 1268.8,325.8 1261.4,337.4 1264.3,336.9 1263.9,338.2ZM1287.6,339.0 1288.4,337.0 1290.5,339.3 1291.9,324.8 1282.7,336.2 1285.8,335.9 1285.0,338.0ZM1308.7,339.1 1309.2,337.8 1311.2,340.1 1312.9,326.1 1303.7,336.9 1306.7,336.7 1306.2,338.0ZM1329.4,338.9 1329.8,338.1 1331.0,339.6 1332.1,330.3 1326.1,337.5 1328.1,337.3 1327.8,338.2ZM1350.6,338.9 1350.9,338.0 1352.3,339.5 1353.1,330.0 1347.2,337.5 1349.2,337.3 1348.9,338.2ZM229.5,317.9 229.9,317.7 230.0,318.7 233.3,315.3 228.6,316.3 229.5,316.9 229.1,317.1ZM250.3,317.9 250.7,318.1 249.9,318.9 255.1,319.2 251.0,316.1 251.1,317.2 250.6,317.0ZM271.5,317.9 271.9,318.1 271.2,318.9 276.2,318.7 271.9,316.1 272.2,317.1 271.7,317.0ZM292.7,318.1 293.3,318.1 292.7,319.3 298.9,317.6 292.8,315.6 293.4,316.9 292.7,316.9ZM313.3,317.9 313.7,318.5 312.1,318.8 318.4,323.5 315.7,316.1 314.9,317.6 314.5,317.0ZM334.5,317.3 334.3,317.8 333.5,316.9 333.0,322.5 336.5,318.1 335.3,318.2 335.5,317.7ZM355.8,317.3 355.7,317.7 355.1,317.0 354.7,320.9 357.2,317.9 356.3,318.0 356.5,317.6ZM376.9,317.3 376.8,317.7 376.2,317.1 375.9,321.0 378.3,317.9 377.5,318.0 377.6,317.6ZM398.0,317.4 397.9,317.8 397.1,317.2 397.6,321.8 399.7,317.7 398.8,318.0 398.9,317.6ZM419.0,317.8 419.4,318.3 418.0,318.5 423.1,322.6 421.1,316.4 420.4,317.6 420.1,317.1ZM440.5,318.0 441.1,318.2 440.2,319.1 446.1,319.3 441.2,315.9 441.4,317.1 440.9,316.9ZM462.1,318.1 462.7,317.9 462.6,319.4 468.2,314.9 461.1,315.6 462.2,316.6 461.6,316.8ZM483.7,316.1 484.6,317.4 483.8,318.8 482.2,318.9 481.4,317.5 482.1,316.1ZM504.4,317.7 504.6,317.3 505.1,318.0 506.0,314.2 503.1,316.9 504.0,317.0 503.8,317.3ZM525.6,317.7 525.8,317.4 526.3,318.2 527.7,314.1 524.2,316.7 525.2,316.9 524.9,317.2ZM546.9,317.4 546.8,316.9 548.0,317.2 545.5,312.2 544.8,317.8 545.8,317.0 545.9,317.6ZM568.1,317.3 567.9,316.7 569.2,316.9 565.6,312.0 565.9,318.1 566.8,317.1 567.0,317.7ZM588.8,318.0 589.3,318.0 588.9,319.1 594.2,316.6 588.4,315.8 589.2,316.8 588.6,316.9ZM609.1,317.5 609.2,318.2 607.7,317.6 610.3,324.5 611.9,317.3 610.6,318.1 610.5,317.4ZM630.7,319.1 629.5,318.1 629.7,316.5 631.2,315.9 632.5,316.9 632.2,318.5ZM652.5,318.5 653.5,318.1 653.3,320.5 662.3,313.4 650.9,314.4 652.7,316.0 651.7,316.5ZM672.7,317.9 673.1,318.4 671.6,318.6 677.1,322.9 674.9,316.3 674.2,317.6 673.8,317.1ZM694.1,318.0 694.6,318.3 693.5,319.1 699.9,320.3 695.2,315.8 695.2,317.2 694.7,316.9ZM715.2,317.7 715.4,318.0 714.5,318.1 717.6,320.7 716.5,316.8 716.1,317.6 715.8,317.3ZM735.8,317.7 736.0,318.6 734.0,318.2 739.0,326.2 739.3,316.8 737.8,318.1 737.5,317.2ZM758.5,318.1 759.1,317.3 760.0,319.3 763.7,310.2 755.6,315.7 757.7,316.2 757.1,316.9ZM779.1,317.8 779.4,317.7 779.3,318.5 782.4,316.2 778.6,316.4 779.2,317.0 778.8,317.1ZM800.8,317.4 800.7,316.7 802.2,317.2 799.0,310.4 797.9,317.8 799.3,316.9 799.4,317.6ZM821.1,318.4 822.1,318.5 821.0,320.3 830.7,318.3 821.5,314.6 822.2,316.6 821.3,316.5ZM842.3,316.8 841.7,316.8 842.3,315.5 835.8,317.6 842.4,319.4 841.7,318.1 842.4,318.1ZM864.1,316.6 863.3,316.0 865.4,314.9 855.0,311.3 861.6,320.0 862.0,317.7 862.9,318.3ZM885.5,317.0 885.0,316.2 887.1,316.1 880.0,309.3 882.2,318.9 883.4,317.1 883.8,317.9ZM906.7,316.7 905.9,315.8 908.4,315.2 898.1,308.7 903.2,319.8 904.1,317.4 904.9,318.2ZM927.9,316.5 924.4,312.9 927.4,311.9 914.7,304.7 921.4,317.7 922.4,314.8 925.9,318.4ZM949.4,317.2 949.0,315.5 952.1,316.3 944.8,303.6 943.9,318.2 946.3,316.2 946.7,317.8ZM970.5,318.0 974.7,308.4 976.7,310.8 978.4,296.2 969.0,307.4 972.1,307.2 967.9,316.9ZM991.5,318.1 992.1,316.9 993.9,319.4 996.6,305.8 986.8,315.6 989.8,315.7 989.2,316.9ZM1012.7,317.8 1013.0,316.6 1015.1,318.5 1014.8,305.4 1007.8,316.5 1010.6,315.9 1010.3,317.2ZM1034.0,317.6 1034.3,315.6 1036.9,317.3 1034.3,302.9 1028.5,316.3 1031.5,315.3 1031.2,317.3ZM1055.0,317.4 1054.9,316.2 1057.4,317.3 1053.2,305.3 1050.1,317.6 1052.5,316.3 1052.5,317.5ZM1076.3,317.4 1076.2,314.1 1079.0,315.3 1074.2,301.5 1070.6,315.7 1073.4,314.2 1073.5,317.5ZM1097.1,317.6 1097.2,316.6 1099.1,317.8 1097.2,307.4 1093.0,317.1 1095.1,316.4 1095.0,317.4ZM1118.3,317.7 1118.5,316.6 1120.5,318.2 1119.5,306.6 1113.9,316.8 1116.3,316.2 1116.1,317.2ZM1139.6,317.8 1139.9,316.6 1142.0,318.5 1141.7,305.1 1134.6,316.5 1137.4,315.9 1137.1,317.1ZM1160.8,317.9 1163.5,309.4 1165.7,311.6 1166.0,297.0 1157.7,309.0 1160.8,308.5 1158.1,317.1ZM1181.9,317.9 1184.0,310.9 1186.3,313.0 1186.3,298.4 1178.2,310.6 1181.3,310.1 1179.3,317.1ZM1202.9,317.8 1203.2,316.6 1205.2,318.4 1204.9,305.9 1198.3,316.5 1200.9,316.0 1200.6,317.2ZM1223.8,317.7 1224.1,316.8 1225.7,318.2 1225.3,308.0 1220.0,316.8 1222.2,316.3 1221.9,317.2ZM1245.1,317.8 1245.4,316.7 1247.2,318.4 1247.0,306.9 1240.8,316.6 1243.3,316.1 1243.0,317.2ZM1266.2,317.9 1266.5,316.8 1268.2,318.6 1268.9,307.5 1262.2,316.4 1264.5,316.1 1264.2,317.1ZM1287.4,318.0 1287.9,316.9 1289.5,319.0 1291.5,306.8 1283.1,315.9 1285.7,315.9 1285.2,317.0ZM1308.1,317.8 1308.5,317.2 1309.5,318.6 1311.1,310.7 1305.4,316.4 1307.1,316.4 1306.8,317.1ZM1329.0,317.7 1329.2,317.3 1329.7,318.1 1330.6,313.7 1327.4,316.9 1328.4,316.9 1328.2,317.3ZM1350.2,317.7 1350.4,317.2 1351.1,318.1 1351.8,313.0 1348.4,316.9 1349.5,316.8 1349.3,317.3ZM229.5,296.9 229.9,296.6 230.0,297.7 233.5,294.2 228.6,295.2 229.5,295.8 229.1,296.0ZM250.5,296.9 250.9,296.8 250.7,297.7 254.6,295.5 250.2,295.2 250.8,295.9 250.3,296.0ZM271.6,296.8 272.0,296.8 271.8,297.6 275.4,295.9 271.4,295.3 271.9,296.0 271.5,296.1ZM292.6,297.1 293.3,297.2 292.5,298.3 299.0,297.3 293.0,294.6 293.4,295.9 292.8,295.8ZM313.2,296.9 313.6,297.6 311.7,297.8 318.4,303.5 316.0,295.1 315.0,296.7 314.6,296.0ZM334.3,296.3 334.2,296.9 333.0,295.9 333.2,302.9 337.0,297.0 335.5,297.3 335.7,296.6ZM355.7,296.3 355.6,296.8 354.9,296.1 355.2,300.6 357.4,296.7 356.5,296.9 356.6,296.5ZM376.8,296.5 376.8,296.9 375.9,296.5 377.4,301.0 378.7,296.4 377.8,296.9 377.7,296.4ZM398.0,296.5 398.1,296.9 397.2,296.6 399.0,300.4 399.6,296.3 398.9,296.8 398.8,296.4ZM419.2,296.7 419.4,297.1 418.4,297.2 422.1,300.5 420.8,295.7 420.2,296.6 420.0,296.2ZM440.6,297.0 441.1,297.1 440.4,298.0 445.8,297.5 441.0,294.9 441.3,296.0 440.8,295.9ZM462.1,296.9 462.5,296.7 462.5,297.8 466.5,294.3 461.2,295.1 462.1,295.8 461.6,296.0ZM483.4,296.7 483.7,296.3 484.3,297.3 485.8,292.0 481.6,295.6 482.8,295.7 482.5,296.2ZM504.5,296.7 504.8,296.4 505.2,297.4 507.2,292.9 503.1,295.5 504.1,295.8 503.8,296.1ZM525.4,296.9 525.9,296.7 525.7,297.8 529.7,294.8 524.8,295.1 525.5,295.8 525.1,296.0ZM546.9,296.7 547.1,296.2 547.8,297.2 548.8,291.8 545.0,295.7 546.2,295.7 545.9,296.2ZM567.9,296.2 567.7,295.8 568.7,295.8 565.4,292.6 566.4,297.1 566.9,296.3 567.2,296.7ZM589.2,296.6 589.3,296.1 590.1,296.8 590.0,291.7 587.2,296.0 588.3,295.8 588.2,296.3ZM609.9,297.3 610.8,297.2 610.2,299.1 618.7,295.2 609.4,293.8 610.6,295.4 609.7,295.5ZM630.8,296.9 631.3,297.1 630.4,297.9 635.8,298.2 631.5,295.0 631.6,296.1 631.1,296.0ZM651.8,296.8 652.2,297.1 651.2,297.6 655.9,299.6 653.0,295.3 652.8,296.4 652.4,296.1ZM673.0,297.1 673.6,297.4 672.4,298.4 679.8,299.3 674.1,294.5 674.2,296.1 673.5,295.8ZM693.9,297.2 694.7,297.7 693.0,298.8 702.2,300.9 695.7,294.1 695.6,296.1 694.8,295.7ZM715.0,296.6 715.2,297.1 714.0,297.0 717.3,301.6 717.1,295.9 716.2,296.8 716.0,296.3ZM736.1,296.7 736.4,297.2 735.1,297.2 739.1,301.7 738.2,295.7 737.4,296.7 737.2,296.2ZM757.5,297.0 758.0,297.3 756.9,298.0 762.9,299.6 758.7,294.9 758.6,296.2 758.1,295.9ZM779.0,297.0 779.6,296.9 779.2,298.0 784.2,295.4 778.6,294.9 779.4,295.8 778.8,295.9ZM800.9,296.7 801.2,295.9 802.6,297.3 803.1,288.0 797.5,295.5 799.5,295.3 799.2,296.1ZM822.0,296.0 821.6,295.3 823.5,295.2 817.1,288.8 818.9,297.7 820.0,296.1 820.5,296.9ZM842.7,296.0 842.3,295.6 843.5,295.1 837.9,292.6 841.2,297.8 841.5,296.5 842.0,296.9ZM863.9,296.2 863.7,295.8 864.7,295.8 861.3,292.4 862.3,297.1 862.9,296.2 863.1,296.7ZM885.7,296.4 885.6,295.3 887.8,296.3 884.2,285.9 881.5,296.6 883.5,295.4 883.6,296.5ZM906.8,296.4 906.8,295.4 908.9,296.4 905.6,286.0 902.7,296.5 904.7,295.4 904.7,296.5ZM928.2,296.3 928.0,295.1 930.7,296.1 925.7,284.0 923.2,296.8 925.5,295.3 925.7,296.6ZM949.2,296.6 949.4,295.5 951.5,297.0 950.0,285.1 944.7,295.9 947.1,295.1 946.9,296.2ZM970.4,297.1 973.9,291.2 975.6,293.8 979.0,279.6 968.3,289.6 971.4,289.8 968.0,295.7ZM990.9,296.8 991.2,296.2 991.9,297.4 993.7,291.1 988.7,295.4 990.1,295.6 989.8,296.1ZM1012.8,296.9 1013.3,295.3 1015.5,297.5 1015.9,282.9 1007.6,294.9 1010.7,294.4 1010.2,296.0ZM1033.7,296.6 1033.9,295.5 1036.0,296.9 1034.2,285.3 1029.3,296.0 1031.7,295.2 1031.5,296.3ZM1055.1,296.4 1055.1,295.1 1057.8,296.4 1053.7,283.0 1049.7,296.5 1052.4,295.1 1052.4,296.5ZM1075.7,296.4 1075.7,295.6 1077.3,296.4 1074.7,288.5 1072.5,296.5 1074.1,295.7 1074.1,296.5ZM1097.3,296.5 1097.3,295.3 1099.7,296.6 1096.5,284.2 1092.4,296.3 1094.9,295.2 1094.8,296.4ZM1118.1,296.5 1118.1,295.6 1119.9,296.6 1117.7,287.5 1114.5,296.3 1116.3,295.5 1116.3,296.4ZM1139.6,296.6 1139.8,295.3 1142.2,297.1 1140.4,283.4 1134.4,295.8 1137.2,294.9 1137.0,296.2ZM1160.6,296.8 1161.0,295.7 1162.9,297.6 1163.2,284.9 1156.0,295.3 1158.7,294.9 1158.3,296.1ZM1181.3,296.7 1181.5,296.0 1182.6,297.2 1183.2,289.9 1178.6,295.7 1180.2,295.5 1179.9,296.2ZM1202.5,296.7 1202.8,296.0 1204.0,297.3 1204.6,288.8 1199.4,295.6 1201.3,295.4 1201.0,296.2ZM1224.0,296.8 1224.4,295.6 1226.3,297.5 1226.3,285.0 1219.4,295.4 1222.1,295.0 1221.7,296.1ZM1245.1,296.8 1245.5,295.7 1247.2,297.6 1247.8,285.7 1240.8,295.3 1243.3,295.0 1242.9,296.1ZM1266.2,296.9 1266.7,295.9 1268.4,297.9 1270.2,285.8 1262.0,294.9 1264.6,294.9 1264.1,295.9ZM1287.2,296.9 1287.7,296.0 1289.0,297.8 1291.0,287.3 1283.6,295.0 1285.9,295.1 1285.4,296.0ZM1307.8,296.6 1308.0,296.3 1308.6,297.1 1309.5,292.6 1306.3,295.8 1307.3,295.9 1307.1,296.2ZM1328.9,296.6 1329.1,296.3 1329.6,297.0 1330.6,292.9 1327.5,295.8 1328.4,295.9 1328.2,296.2ZM1350.1,296.6 1350.3,296.2 1350.9,297.0 1351.6,292.6 1348.6,295.9 1349.5,295.9 1349.3,296.2Z" fill="#000"/>
</g>
<text transform="translate(798.0,210.0) scale(1,1.107)" font-size="50.17" text-anchor="middle" >WS-10m(kmph) @ 20250825 00</text>
<text transform="translate(798.0,267.0) scale(1,1.107)" font-size="50.17" text-anchor="middle" >Simulation Time: 20250821 12</text>
<rect x="1099" y="219.8" width="30.1" height="2.2"/><rect x="1129.1" y="276.8" width="30.1" height="2.2"/>
<text transform="translate(208.7,378.8) scale(1,1.107)" font-size="41.8" text-anchor="end" >7.5°N</text>
<text transform="translate(208.7,508.6) scale(1,1.107)" font-size="41.8" text-anchor="end" >5°N</text>
<text transform="translate(208.7,638.5) scale(1,1.107)" font-size="41.8" text-anchor="end" >2.5°N</text>
<text transform="translate(208.7,768.4) scale(1,1.107)" font-size="41.8" text-anchor="end" >0°</text>
<text transform="translate(208.7,898.3) scale(1,1.107)" font-size="41.8" text-anchor="end" >2.5°S</text>
<text transform="translate(208.7,1028.2) scale(1,1.107)" font-size="41.8" text-anchor="end" >5°S</text>
<text transform="translate(208.7,1158.0) scale(1,1.107)" font-size="41.8" text-anchor="end" >7.5°S</text>
<text transform="translate(329.2,1277.0) scale(1,1.107)" font-size="41.8" text-anchor="middle" >30°E</text>
<text transform="translate(485.1,1277.0) scale(1,1.107)" font-size="41.8" text-anchor="middle" >33°E</text>
<text transform="translate(640.9,1277.0) scale(1,1.107)" font-size="41.8" text-anchor="middle" >36°E</text>
<text transform="translate(796.8,1277.0) scale(1,1.107)" font-size="41.8" text-anchor="middle" >39°E</text>
<text transform="translate(952.6,1277.0) scale(1,1.107)" font-size="41.8" text-anchor="middle" >42°E</text>
<text transform="translate(1108.5,1277.0) scale(1,1.107)" font-size="41.8" text-anchor="middle" >45°E</text>
<text transform="translate(1264.3,1277.0) scale(1,1.107)" font-size="41.8" text-anchor="middle" >48°E</text>
<rect x="1437.3" y="1177.26" width="57.3" height="157.54" fill="#fcfed2"/>
<rect x="1437.3" y="1020.22" width="57.3" height="157.54" fill="#f2fabd"/>
<rect x="1437.3" y="863.18" width="57.3" height="157.54" fill="#d1edb3"/>
<rect x="1437.3" y="706.14" width="57.3" height="157.54" fill="#77cabc"/>
<rect x="1437.3" y="549.10" width="57.3" height="157.54" fill="#2ea3c2"/>
<rect x="1437.3" y="392.06" width="57.3" height="157.54" fill="#2263aa"/>
<rect x="1437.3" y="235.02" width="57.3" height="157.54" fill="#1c2d82"/>
<path d="M1437.3,235.0 L1465.9,179.5 L1494.6,235.0 Z" fill="#081d58"/>
<path d="M1437.3,1334.3 L1437.3,235.0 L1465.9,179.5 L1494.6,235.0 L1494.6,1334.3 Z" fill="none" stroke="#000" stroke-width="3.33" stroke-linejoin="miter"/>
<path d="M1496.2,1334.3 h14.6" stroke="#000" stroke-width="3.33"/>
<text transform="translate(1525.2,1350.1) scale(1,1.107)" font-size="41.8" text-anchor="start" >5</text>
<path d="M1496.2,1177.3 h14.6" stroke="#000" stroke-width="3.33"/>
<text transform="translate(1525.2,1193.1) scale(1,1.107)" font-size="41.8" text-anchor="start" >10</text>
<path d="M1496.2,1020.2 h14.6" stroke="#000" stroke-width="3.33"/>
<text transform="translate(1525.2,1036.0) scale(1,1.107)" font-size="41.8" text-anchor="start" >20</text>
<path d="M1496.2,863.2 h14.6" stroke="#000" stroke-width="3.33"/>
<text transform="translate(1525.2,879.0) scale(1,1.107)" font-size="41.8" text-anchor="start" >40</text>
<path d="M1496.2,706.1 h14.6" stroke="#000" stroke-width="3.33"/>
<text transform="translate(1525.2,721.9) scale(1,1.107)" font-size="41.8" text-anchor="start" >60</text>
<path d="M1496.2,549.1 h14.6" stroke="#000" stroke-width="3.33"/>
<text transform="translate(1525.2,564.9) scale(1,1.107)" font-size="41.8" text-anchor="start" >80</text>
<path d="M1496.2,392.1 h14.6" stroke="#000" stroke-width="3.33"/>
<text transform="translate(1525.2,407.9) scale(1,1.107)" font-size="41.8" text-anchor="start" >100</text>
<path d="M1496.2,235.0 h14.6" stroke="#000" stroke-width="3.33"/>
<text transform="translate(1525.2,250.8) scale(1,1.107)" font-size="41.8" text-anchor="start" >120</text>
<rect x="229.6" y="292.5" width="1136.9" height="930.9" fill="none" stroke="#000" stroke-width="3.33"/>
</svg>
</body></html>
